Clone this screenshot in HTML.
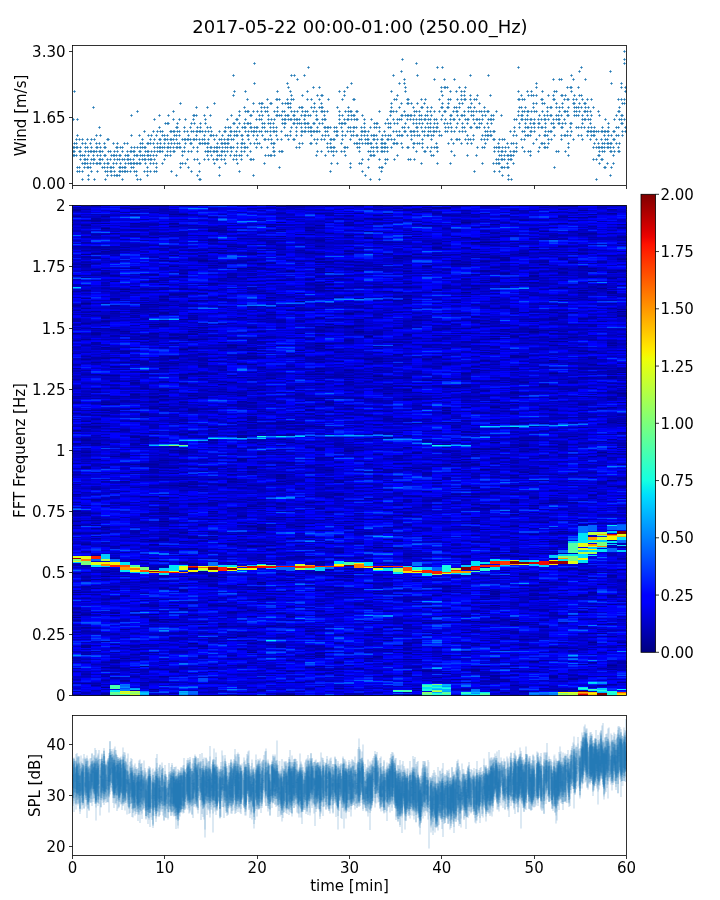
<!DOCTYPE html>
<html lang="en"><head><meta charset="utf-8"><title>2017-05-22 00:00-01:00 (250.00_Hz)</title>
<style>
html,body{margin:0;padding:0;background:#fff;}
body{width:720px;height:900px;overflow:hidden;}
svg{display:block;}
text{font-family:"DejaVu Sans", "Liberation Sans", sans-serif;fill:#000;}
</style></head><body>
<svg width="720" height="900" viewBox="0 0 720 900">
<rect width="720" height="900" fill="#fff"/>
<clipPath id="wc"><rect x="72.5" y="45.5" width="554.0" height="140.0"/></clipPath><path clip-path="url(#wc)" stroke="#1f77b4" stroke-opacity="0.92" stroke-width="1" fill="none" d="M72.3 119.5h2.4m-1.2-1.2v2.4M72.3 147.5h2.4m-1.2-1.2v2.4M72.3 151.5h2.4m-1.2-1.2v2.4M72.3 155.5h2.4m-1.2-1.2v2.4M73.3 151.5h2.4m-1.2-1.2v2.4M73.3 91.5h2.4m-1.2-1.2v2.4M73.3 155.5h2.4m-1.2-1.2v2.4M73.3 147.5h2.4m-1.2-1.2v2.4M73.3 143.5h2.4m-1.2-1.2v2.4M75.3 143.5h2.4m-1.2-1.2v2.4M75.3 147.5h2.4m-1.2-1.2v2.4M75.3 155.5h2.4m-1.2-1.2v2.4M75.3 139.5h2.4m-1.2-1.2v2.4M76.3 167.5h2.4m-1.2-1.2v2.4M76.3 147.5h2.4m-1.2-1.2v2.4M76.3 119.5h2.4m-1.2-1.2v2.4M76.3 171.5h2.4m-1.2-1.2v2.4M76.3 135.5h2.4m-1.2-1.2v2.4M78.3 151.5h2.4m-1.2-1.2v2.4M78.3 139.5h2.4m-1.2-1.2v2.4M78.3 167.5h2.4m-1.2-1.2v2.4M78.3 171.5h2.4m-1.2-1.2v2.4M79.3 147.5h2.4m-1.2-1.2v2.4M79.3 159.5h2.4m-1.2-1.2v2.4M79.3 155.5h2.4m-1.2-1.2v2.4M79.3 151.5h2.4m-1.2-1.2v2.4M81.3 155.5h2.4m-1.2-1.2v2.4M81.3 171.5h2.4m-1.2-1.2v2.4M81.3 139.5h2.4m-1.2-1.2v2.4M81.3 179.5h2.4m-1.2-1.2v2.4M81.3 143.5h2.4m-1.2-1.2v2.4M81.3 163.5h2.4m-1.2-1.2v2.4M83.3 155.5h2.4m-1.2-1.2v2.4M83.3 163.5h2.4m-1.2-1.2v2.4M83.3 159.5h2.4m-1.2-1.2v2.4M83.3 167.5h2.4m-1.2-1.2v2.4M84.3 147.5h2.4m-1.2-1.2v2.4M84.3 163.5h2.4m-1.2-1.2v2.4M84.3 143.5h2.4m-1.2-1.2v2.4M84.3 159.5h2.4m-1.2-1.2v2.4M84.3 151.5h2.4m-1.2-1.2v2.4M86.3 147.5h2.4m-1.2-1.2v2.4M86.3 167.5h2.4m-1.2-1.2v2.4M86.3 159.5h2.4m-1.2-1.2v2.4M86.3 139.5h2.4m-1.2-1.2v2.4M86.3 163.5h2.4m-1.2-1.2v2.4M87.3 155.5h2.4m-1.2-1.2v2.4M87.3 167.5h2.4m-1.2-1.2v2.4M87.3 179.5h2.4m-1.2-1.2v2.4M87.3 175.5h2.4m-1.2-1.2v2.4M87.3 151.5h2.4m-1.2-1.2v2.4M89.3 151.5h2.4m-1.2-1.2v2.4M89.3 167.5h2.4m-1.2-1.2v2.4M89.3 143.5h2.4m-1.2-1.2v2.4M89.3 163.5h2.4m-1.2-1.2v2.4M90.3 147.5h2.4m-1.2-1.2v2.4M90.3 159.5h2.4m-1.2-1.2v2.4M90.3 151.5h2.4m-1.2-1.2v2.4M90.3 171.5h2.4m-1.2-1.2v2.4M90.3 139.5h2.4m-1.2-1.2v2.4M92.3 163.5h2.4m-1.2-1.2v2.4M92.3 107.5h2.4m-1.2-1.2v2.4M92.3 159.5h2.4m-1.2-1.2v2.4M92.3 151.5h2.4m-1.2-1.2v2.4M92.3 155.5h2.4m-1.2-1.2v2.4M93.3 139.5h2.4m-1.2-1.2v2.4M93.3 151.5h2.4m-1.2-1.2v2.4M93.3 159.5h2.4m-1.2-1.2v2.4M93.3 179.5h2.4m-1.2-1.2v2.4M95.3 163.5h2.4m-1.2-1.2v2.4M95.3 151.5h2.4m-1.2-1.2v2.4M95.3 147.5h2.4m-1.2-1.2v2.4M95.3 135.5h2.4m-1.2-1.2v2.4M95.3 143.5h2.4m-1.2-1.2v2.4M96.3 163.5h2.4m-1.2-1.2v2.4M96.3 155.5h2.4m-1.2-1.2v2.4M96.3 171.5h2.4m-1.2-1.2v2.4M96.3 147.5h2.4m-1.2-1.2v2.4M98.3 159.5h2.4m-1.2-1.2v2.4M98.3 163.5h2.4m-1.2-1.2v2.4M98.3 143.5h2.4m-1.2-1.2v2.4M98.3 127.5h2.4m-1.2-1.2v2.4M98.3 151.5h2.4m-1.2-1.2v2.4M99.3 147.5h2.4m-1.2-1.2v2.4M99.3 155.5h2.4m-1.2-1.2v2.4M99.3 163.5h2.4m-1.2-1.2v2.4M99.3 135.5h2.4m-1.2-1.2v2.4M99.3 159.5h2.4m-1.2-1.2v2.4M99.3 151.5h2.4m-1.2-1.2v2.4M101.3 159.5h2.4m-1.2-1.2v2.4M101.3 151.5h2.4m-1.2-1.2v2.4M101.3 167.5h2.4m-1.2-1.2v2.4M103.3 143.5h2.4m-1.2-1.2v2.4M103.3 167.5h2.4m-1.2-1.2v2.4M103.3 163.5h2.4m-1.2-1.2v2.4M103.3 155.5h2.4m-1.2-1.2v2.4M103.3 147.5h2.4m-1.2-1.2v2.4M104.3 179.5h2.4m-1.2-1.2v2.4M104.3 155.5h2.4m-1.2-1.2v2.4M104.3 171.5h2.4m-1.2-1.2v2.4M104.3 147.5h2.4m-1.2-1.2v2.4M106.3 175.5h2.4m-1.2-1.2v2.4M106.3 171.5h2.4m-1.2-1.2v2.4M106.3 163.5h2.4m-1.2-1.2v2.4M106.3 159.5h2.4m-1.2-1.2v2.4M106.3 167.5h2.4m-1.2-1.2v2.4M106.3 139.5h2.4m-1.2-1.2v2.4M107.3 151.5h2.4m-1.2-1.2v2.4M107.3 163.5h2.4m-1.2-1.2v2.4M107.3 139.5h2.4m-1.2-1.2v2.4M109.3 159.5h2.4m-1.2-1.2v2.4M109.3 151.5h2.4m-1.2-1.2v2.4M109.3 171.5h2.4m-1.2-1.2v2.4M109.3 167.5h2.4m-1.2-1.2v2.4M110.3 167.5h2.4m-1.2-1.2v2.4M110.3 175.5h2.4m-1.2-1.2v2.4M110.3 155.5h2.4m-1.2-1.2v2.4M110.3 171.5h2.4m-1.2-1.2v2.4M112.3 167.5h2.4m-1.2-1.2v2.4M112.3 143.5h2.4m-1.2-1.2v2.4M112.3 155.5h2.4m-1.2-1.2v2.4M112.3 163.5h2.4m-1.2-1.2v2.4M113.3 155.5h2.4m-1.2-1.2v2.4M113.3 175.5h2.4m-1.2-1.2v2.4M113.3 159.5h2.4m-1.2-1.2v2.4M113.3 151.5h2.4m-1.2-1.2v2.4M113.3 171.5h2.4m-1.2-1.2v2.4M115.3 147.5h2.4m-1.2-1.2v2.4M115.3 163.5h2.4m-1.2-1.2v2.4M115.3 175.5h2.4m-1.2-1.2v2.4M115.3 155.5h2.4m-1.2-1.2v2.4M116.3 159.5h2.4m-1.2-1.2v2.4M116.3 147.5h2.4m-1.2-1.2v2.4M116.3 143.5h2.4m-1.2-1.2v2.4M116.3 151.5h2.4m-1.2-1.2v2.4M116.3 175.5h2.4m-1.2-1.2v2.4M118.3 175.5h2.4m-1.2-1.2v2.4M118.3 155.5h2.4m-1.2-1.2v2.4M118.3 167.5h2.4m-1.2-1.2v2.4M118.3 159.5h2.4m-1.2-1.2v2.4M118.3 171.5h2.4m-1.2-1.2v2.4M119.3 171.5h2.4m-1.2-1.2v2.4M119.3 167.5h2.4m-1.2-1.2v2.4M119.3 163.5h2.4m-1.2-1.2v2.4M119.3 155.5h2.4m-1.2-1.2v2.4M119.3 147.5h2.4m-1.2-1.2v2.4M121.3 171.5h2.4m-1.2-1.2v2.4M121.3 167.5h2.4m-1.2-1.2v2.4M121.3 147.5h2.4m-1.2-1.2v2.4M121.3 151.5h2.4m-1.2-1.2v2.4M121.3 159.5h2.4m-1.2-1.2v2.4M121.3 179.5h2.4m-1.2-1.2v2.4M123.3 171.5h2.4m-1.2-1.2v2.4M123.3 159.5h2.4m-1.2-1.2v2.4M123.3 167.5h2.4m-1.2-1.2v2.4M123.3 143.5h2.4m-1.2-1.2v2.4M124.3 171.5h2.4m-1.2-1.2v2.4M124.3 167.5h2.4m-1.2-1.2v2.4M124.3 163.5h2.4m-1.2-1.2v2.4M124.3 155.5h2.4m-1.2-1.2v2.4M126.3 155.5h2.4m-1.2-1.2v2.4M126.3 151.5h2.4m-1.2-1.2v2.4M126.3 171.5h2.4m-1.2-1.2v2.4M126.3 159.5h2.4m-1.2-1.2v2.4M126.3 143.5h2.4m-1.2-1.2v2.4M127.3 159.5h2.4m-1.2-1.2v2.4M127.3 155.5h2.4m-1.2-1.2v2.4M127.3 163.5h2.4m-1.2-1.2v2.4M129.3 163.5h2.4m-1.2-1.2v2.4M129.3 159.5h2.4m-1.2-1.2v2.4M129.3 151.5h2.4m-1.2-1.2v2.4M129.3 171.5h2.4m-1.2-1.2v2.4M130.3 115.5h2.4m-1.2-1.2v2.4M130.3 147.5h2.4m-1.2-1.2v2.4M130.3 163.5h2.4m-1.2-1.2v2.4M130.3 167.5h2.4m-1.2-1.2v2.4M130.3 135.5h2.4m-1.2-1.2v2.4M130.3 151.5h2.4m-1.2-1.2v2.4M132.3 151.5h2.4m-1.2-1.2v2.4M132.3 163.5h2.4m-1.2-1.2v2.4M132.3 159.5h2.4m-1.2-1.2v2.4M132.3 167.5h2.4m-1.2-1.2v2.4M133.3 147.5h2.4m-1.2-1.2v2.4M133.3 155.5h2.4m-1.2-1.2v2.4M133.3 171.5h2.4m-1.2-1.2v2.4M133.3 151.5h2.4m-1.2-1.2v2.4M133.3 163.5h2.4m-1.2-1.2v2.4M135.3 163.5h2.4m-1.2-1.2v2.4M135.3 155.5h2.4m-1.2-1.2v2.4M135.3 175.5h2.4m-1.2-1.2v2.4M135.3 171.5h2.4m-1.2-1.2v2.4M136.3 179.5h2.4m-1.2-1.2v2.4M136.3 155.5h2.4m-1.2-1.2v2.4M136.3 147.5h2.4m-1.2-1.2v2.4M136.3 111.5h2.4m-1.2-1.2v2.4M136.3 163.5h2.4m-1.2-1.2v2.4M138.3 135.5h2.4m-1.2-1.2v2.4M138.3 163.5h2.4m-1.2-1.2v2.4M138.3 159.5h2.4m-1.2-1.2v2.4M138.3 151.5h2.4m-1.2-1.2v2.4M139.3 151.5h2.4m-1.2-1.2v2.4M139.3 179.5h2.4m-1.2-1.2v2.4M139.3 147.5h2.4m-1.2-1.2v2.4M139.3 155.5h2.4m-1.2-1.2v2.4M139.3 163.5h2.4m-1.2-1.2v2.4M139.3 143.5h2.4m-1.2-1.2v2.4M141.3 155.5h2.4m-1.2-1.2v2.4M141.3 139.5h2.4m-1.2-1.2v2.4M141.3 147.5h2.4m-1.2-1.2v2.4M141.3 159.5h2.4m-1.2-1.2v2.4M141.3 143.5h2.4m-1.2-1.2v2.4M143.3 159.5h2.4m-1.2-1.2v2.4M143.3 171.5h2.4m-1.2-1.2v2.4M143.3 147.5h2.4m-1.2-1.2v2.4M143.3 155.5h2.4m-1.2-1.2v2.4M143.3 131.5h2.4m-1.2-1.2v2.4M144.3 147.5h2.4m-1.2-1.2v2.4M144.3 151.5h2.4m-1.2-1.2v2.4M144.3 163.5h2.4m-1.2-1.2v2.4M144.3 159.5h2.4m-1.2-1.2v2.4M146.3 175.5h2.4m-1.2-1.2v2.4M146.3 171.5h2.4m-1.2-1.2v2.4M146.3 143.5h2.4m-1.2-1.2v2.4M146.3 155.5h2.4m-1.2-1.2v2.4M146.3 151.5h2.4m-1.2-1.2v2.4M146.3 167.5h2.4m-1.2-1.2v2.4M147.3 159.5h2.4m-1.2-1.2v2.4M147.3 143.5h2.4m-1.2-1.2v2.4M147.3 151.5h2.4m-1.2-1.2v2.4M147.3 135.5h2.4m-1.2-1.2v2.4M147.3 155.5h2.4m-1.2-1.2v2.4M149.3 155.5h2.4m-1.2-1.2v2.4M149.3 139.5h2.4m-1.2-1.2v2.4M149.3 171.5h2.4m-1.2-1.2v2.4M149.3 143.5h2.4m-1.2-1.2v2.4M149.3 163.5h2.4m-1.2-1.2v2.4M149.3 159.5h2.4m-1.2-1.2v2.4M150.3 159.5h2.4m-1.2-1.2v2.4M150.3 151.5h2.4m-1.2-1.2v2.4M150.3 135.5h2.4m-1.2-1.2v2.4M152.3 131.5h2.4m-1.2-1.2v2.4M152.3 143.5h2.4m-1.2-1.2v2.4M152.3 155.5h2.4m-1.2-1.2v2.4M152.3 163.5h2.4m-1.2-1.2v2.4M153.3 151.5h2.4m-1.2-1.2v2.4M153.3 139.5h2.4m-1.2-1.2v2.4M153.3 171.5h2.4m-1.2-1.2v2.4M153.3 119.5h2.4m-1.2-1.2v2.4M153.3 159.5h2.4m-1.2-1.2v2.4M153.3 147.5h2.4m-1.2-1.2v2.4M155.3 135.5h2.4m-1.2-1.2v2.4M155.3 163.5h2.4m-1.2-1.2v2.4M155.3 155.5h2.4m-1.2-1.2v2.4M155.3 171.5h2.4m-1.2-1.2v2.4M155.3 167.5h2.4m-1.2-1.2v2.4M156.3 147.5h2.4m-1.2-1.2v2.4M156.3 143.5h2.4m-1.2-1.2v2.4M156.3 151.5h2.4m-1.2-1.2v2.4M156.3 131.5h2.4m-1.2-1.2v2.4M158.3 147.5h2.4m-1.2-1.2v2.4M158.3 115.5h2.4m-1.2-1.2v2.4M158.3 151.5h2.4m-1.2-1.2v2.4M158.3 127.5h2.4m-1.2-1.2v2.4M158.3 139.5h2.4m-1.2-1.2v2.4M159.3 147.5h2.4m-1.2-1.2v2.4M159.3 139.5h2.4m-1.2-1.2v2.4M159.3 151.5h2.4m-1.2-1.2v2.4M159.3 143.5h2.4m-1.2-1.2v2.4M159.3 131.5h2.4m-1.2-1.2v2.4M161.3 131.5h2.4m-1.2-1.2v2.4M161.3 163.5h2.4m-1.2-1.2v2.4M161.3 147.5h2.4m-1.2-1.2v2.4M161.3 135.5h2.4m-1.2-1.2v2.4M161.3 151.5h2.4m-1.2-1.2v2.4M163.3 143.5h2.4m-1.2-1.2v2.4M163.3 139.5h2.4m-1.2-1.2v2.4M163.3 147.5h2.4m-1.2-1.2v2.4M163.3 135.5h2.4m-1.2-1.2v2.4M163.3 159.5h2.4m-1.2-1.2v2.4M164.3 155.5h2.4m-1.2-1.2v2.4M164.3 123.5h2.4m-1.2-1.2v2.4M164.3 139.5h2.4m-1.2-1.2v2.4M166.3 151.5h2.4m-1.2-1.2v2.4M166.3 155.5h2.4m-1.2-1.2v2.4M166.3 135.5h2.4m-1.2-1.2v2.4M166.3 147.5h2.4m-1.2-1.2v2.4M166.3 123.5h2.4m-1.2-1.2v2.4M166.3 139.5h2.4m-1.2-1.2v2.4M167.3 143.5h2.4m-1.2-1.2v2.4M167.3 147.5h2.4m-1.2-1.2v2.4M167.3 123.5h2.4m-1.2-1.2v2.4M167.3 115.5h2.4m-1.2-1.2v2.4M169.3 155.5h2.4m-1.2-1.2v2.4M169.3 139.5h2.4m-1.2-1.2v2.4M169.3 131.5h2.4m-1.2-1.2v2.4M169.3 151.5h2.4m-1.2-1.2v2.4M169.3 147.5h2.4m-1.2-1.2v2.4M170.3 171.5h2.4m-1.2-1.2v2.4M170.3 131.5h2.4m-1.2-1.2v2.4M170.3 143.5h2.4m-1.2-1.2v2.4M170.3 139.5h2.4m-1.2-1.2v2.4M172.3 111.5h2.4m-1.2-1.2v2.4M172.3 139.5h2.4m-1.2-1.2v2.4M172.3 131.5h2.4m-1.2-1.2v2.4M172.3 151.5h2.4m-1.2-1.2v2.4M172.3 119.5h2.4m-1.2-1.2v2.4M172.3 147.5h2.4m-1.2-1.2v2.4M173.3 143.5h2.4m-1.2-1.2v2.4M173.3 151.5h2.4m-1.2-1.2v2.4M173.3 135.5h2.4m-1.2-1.2v2.4M173.3 131.5h2.4m-1.2-1.2v2.4M175.3 147.5h2.4m-1.2-1.2v2.4M175.3 135.5h2.4m-1.2-1.2v2.4M175.3 175.5h2.4m-1.2-1.2v2.4M175.3 127.5h2.4m-1.2-1.2v2.4M175.3 139.5h2.4m-1.2-1.2v2.4M176.3 123.5h2.4m-1.2-1.2v2.4M176.3 147.5h2.4m-1.2-1.2v2.4M176.3 127.5h2.4m-1.2-1.2v2.4M176.3 143.5h2.4m-1.2-1.2v2.4M176.3 131.5h2.4m-1.2-1.2v2.4M178.3 131.5h2.4m-1.2-1.2v2.4M178.3 119.5h2.4m-1.2-1.2v2.4M178.3 147.5h2.4m-1.2-1.2v2.4M178.3 143.5h2.4m-1.2-1.2v2.4M178.3 135.5h2.4m-1.2-1.2v2.4M179.3 103.5h2.4m-1.2-1.2v2.4M179.3 147.5h2.4m-1.2-1.2v2.4M179.3 167.5h2.4m-1.2-1.2v2.4M179.3 163.5h2.4m-1.2-1.2v2.4M181.3 139.5h2.4m-1.2-1.2v2.4M181.3 155.5h2.4m-1.2-1.2v2.4M181.3 151.5h2.4m-1.2-1.2v2.4M181.3 163.5h2.4m-1.2-1.2v2.4M183.3 127.5h2.4m-1.2-1.2v2.4M183.3 151.5h2.4m-1.2-1.2v2.4M183.3 147.5h2.4m-1.2-1.2v2.4M183.3 139.5h2.4m-1.2-1.2v2.4M183.3 131.5h2.4m-1.2-1.2v2.4M184.3 163.5h2.4m-1.2-1.2v2.4M184.3 143.5h2.4m-1.2-1.2v2.4M184.3 119.5h2.4m-1.2-1.2v2.4M184.3 139.5h2.4m-1.2-1.2v2.4M186.3 159.5h2.4m-1.2-1.2v2.4M186.3 131.5h2.4m-1.2-1.2v2.4M186.3 139.5h2.4m-1.2-1.2v2.4M187.3 167.5h2.4m-1.2-1.2v2.4M187.3 135.5h2.4m-1.2-1.2v2.4M187.3 151.5h2.4m-1.2-1.2v2.4M187.3 139.5h2.4m-1.2-1.2v2.4M189.3 127.5h2.4m-1.2-1.2v2.4M189.3 139.5h2.4m-1.2-1.2v2.4M189.3 143.5h2.4m-1.2-1.2v2.4M190.3 171.5h2.4m-1.2-1.2v2.4M190.3 151.5h2.4m-1.2-1.2v2.4M190.3 143.5h2.4m-1.2-1.2v2.4M190.3 131.5h2.4m-1.2-1.2v2.4M190.3 123.5h2.4m-1.2-1.2v2.4M192.3 115.5h2.4m-1.2-1.2v2.4M192.3 139.5h2.4m-1.2-1.2v2.4M192.3 131.5h2.4m-1.2-1.2v2.4M192.3 147.5h2.4m-1.2-1.2v2.4M192.3 119.5h2.4m-1.2-1.2v2.4M193.3 139.5h2.4m-1.2-1.2v2.4M193.3 123.5h2.4m-1.2-1.2v2.4M193.3 115.5h2.4m-1.2-1.2v2.4M193.3 159.5h2.4m-1.2-1.2v2.4M195.3 139.5h2.4m-1.2-1.2v2.4M195.3 115.5h2.4m-1.2-1.2v2.4M195.3 107.5h2.4m-1.2-1.2v2.4M195.3 135.5h2.4m-1.2-1.2v2.4M195.3 131.5h2.4m-1.2-1.2v2.4M196.3 127.5h2.4m-1.2-1.2v2.4M196.3 147.5h2.4m-1.2-1.2v2.4M196.3 131.5h2.4m-1.2-1.2v2.4M196.3 151.5h2.4m-1.2-1.2v2.4M196.3 175.5h2.4m-1.2-1.2v2.4M196.3 159.5h2.4m-1.2-1.2v2.4M198.3 139.5h2.4m-1.2-1.2v2.4M198.3 131.5h2.4m-1.2-1.2v2.4M198.3 171.5h2.4m-1.2-1.2v2.4M198.3 163.5h2.4m-1.2-1.2v2.4M198.3 143.5h2.4m-1.2-1.2v2.4M198.3 179.5h2.4m-1.2-1.2v2.4M199.3 131.5h2.4m-1.2-1.2v2.4M199.3 127.5h2.4m-1.2-1.2v2.4M199.3 179.5h2.4m-1.2-1.2v2.4M199.3 143.5h2.4m-1.2-1.2v2.4M199.3 123.5h2.4m-1.2-1.2v2.4M201.3 139.5h2.4m-1.2-1.2v2.4M201.3 143.5h2.4m-1.2-1.2v2.4M201.3 131.5h2.4m-1.2-1.2v2.4M203.3 159.5h2.4m-1.2-1.2v2.4M203.3 135.5h2.4m-1.2-1.2v2.4M203.3 139.5h2.4m-1.2-1.2v2.4M203.3 115.5h2.4m-1.2-1.2v2.4M203.3 143.5h2.4m-1.2-1.2v2.4M204.3 151.5h2.4m-1.2-1.2v2.4M204.3 131.5h2.4m-1.2-1.2v2.4M204.3 143.5h2.4m-1.2-1.2v2.4M204.3 123.5h2.4m-1.2-1.2v2.4M204.3 119.5h2.4m-1.2-1.2v2.4M206.3 147.5h2.4m-1.2-1.2v2.4M206.3 155.5h2.4m-1.2-1.2v2.4M206.3 127.5h2.4m-1.2-1.2v2.4M206.3 151.5h2.4m-1.2-1.2v2.4M206.3 107.5h2.4m-1.2-1.2v2.4M206.3 143.5h2.4m-1.2-1.2v2.4M207.3 131.5h2.4m-1.2-1.2v2.4M207.3 159.5h2.4m-1.2-1.2v2.4M207.3 143.5h2.4m-1.2-1.2v2.4M207.3 139.5h2.4m-1.2-1.2v2.4M207.3 151.5h2.4m-1.2-1.2v2.4M209.3 115.5h2.4m-1.2-1.2v2.4M209.3 135.5h2.4m-1.2-1.2v2.4M209.3 147.5h2.4m-1.2-1.2v2.4M209.3 151.5h2.4m-1.2-1.2v2.4M209.3 127.5h2.4m-1.2-1.2v2.4M210.3 155.5h2.4m-1.2-1.2v2.4M210.3 147.5h2.4m-1.2-1.2v2.4M210.3 131.5h2.4m-1.2-1.2v2.4M210.3 135.5h2.4m-1.2-1.2v2.4M212.3 135.5h2.4m-1.2-1.2v2.4M212.3 151.5h2.4m-1.2-1.2v2.4M212.3 159.5h2.4m-1.2-1.2v2.4M213.3 103.5h2.4m-1.2-1.2v2.4M213.3 147.5h2.4m-1.2-1.2v2.4M213.3 139.5h2.4m-1.2-1.2v2.4M213.3 163.5h2.4m-1.2-1.2v2.4M213.3 151.5h2.4m-1.2-1.2v2.4M215.3 135.5h2.4m-1.2-1.2v2.4M215.3 147.5h2.4m-1.2-1.2v2.4M215.3 159.5h2.4m-1.2-1.2v2.4M215.3 151.5h2.4m-1.2-1.2v2.4M216.3 147.5h2.4m-1.2-1.2v2.4M216.3 159.5h2.4m-1.2-1.2v2.4M216.3 151.5h2.4m-1.2-1.2v2.4M216.3 155.5h2.4m-1.2-1.2v2.4M216.3 143.5h2.4m-1.2-1.2v2.4M218.3 167.5h2.4m-1.2-1.2v2.4M218.3 139.5h2.4m-1.2-1.2v2.4M218.3 175.5h2.4m-1.2-1.2v2.4M218.3 131.5h2.4m-1.2-1.2v2.4M218.3 147.5h2.4m-1.2-1.2v2.4M218.3 155.5h2.4m-1.2-1.2v2.4M220.3 159.5h2.4m-1.2-1.2v2.4M220.3 143.5h2.4m-1.2-1.2v2.4M220.3 151.5h2.4m-1.2-1.2v2.4M220.3 139.5h2.4m-1.2-1.2v2.4M220.3 155.5h2.4m-1.2-1.2v2.4M221.3 151.5h2.4m-1.2-1.2v2.4M221.3 143.5h2.4m-1.2-1.2v2.4M221.3 135.5h2.4m-1.2-1.2v2.4M221.3 147.5h2.4m-1.2-1.2v2.4M223.3 139.5h2.4m-1.2-1.2v2.4M223.3 131.5h2.4m-1.2-1.2v2.4M223.3 159.5h2.4m-1.2-1.2v2.4M223.3 151.5h2.4m-1.2-1.2v2.4M223.3 143.5h2.4m-1.2-1.2v2.4M224.3 127.5h2.4m-1.2-1.2v2.4M224.3 147.5h2.4m-1.2-1.2v2.4M224.3 143.5h2.4m-1.2-1.2v2.4M224.3 131.5h2.4m-1.2-1.2v2.4M224.3 163.5h2.4m-1.2-1.2v2.4M224.3 155.5h2.4m-1.2-1.2v2.4M226.3 147.5h2.4m-1.2-1.2v2.4M226.3 143.5h2.4m-1.2-1.2v2.4M226.3 139.5h2.4m-1.2-1.2v2.4M226.3 151.5h2.4m-1.2-1.2v2.4M226.3 119.5h2.4m-1.2-1.2v2.4M227.3 143.5h2.4m-1.2-1.2v2.4M227.3 127.5h2.4m-1.2-1.2v2.4M227.3 139.5h2.4m-1.2-1.2v2.4M227.3 135.5h2.4m-1.2-1.2v2.4M229.3 135.5h2.4m-1.2-1.2v2.4M229.3 127.5h2.4m-1.2-1.2v2.4M229.3 147.5h2.4m-1.2-1.2v2.4M229.3 131.5h2.4m-1.2-1.2v2.4M229.3 155.5h2.4m-1.2-1.2v2.4M230.3 151.5h2.4m-1.2-1.2v2.4M230.3 115.5h2.4m-1.2-1.2v2.4M230.3 139.5h2.4m-1.2-1.2v2.4M230.3 131.5h2.4m-1.2-1.2v2.4M230.3 147.5h2.4m-1.2-1.2v2.4M232.3 139.5h2.4m-1.2-1.2v2.4M232.3 147.5h2.4m-1.2-1.2v2.4M232.3 75.5h2.4m-1.2-1.2v2.4M232.3 159.5h2.4m-1.2-1.2v2.4M232.3 123.5h2.4m-1.2-1.2v2.4M232.3 95.5h2.4m-1.2-1.2v2.4M233.3 91.5h2.4m-1.2-1.2v2.4M233.3 131.5h2.4m-1.2-1.2v2.4M233.3 155.5h2.4m-1.2-1.2v2.4M233.3 135.5h2.4m-1.2-1.2v2.4M233.3 123.5h2.4m-1.2-1.2v2.4M235.3 131.5h2.4m-1.2-1.2v2.4M235.3 159.5h2.4m-1.2-1.2v2.4M235.3 151.5h2.4m-1.2-1.2v2.4M235.3 155.5h2.4m-1.2-1.2v2.4M235.3 135.5h2.4m-1.2-1.2v2.4M235.3 119.5h2.4m-1.2-1.2v2.4M236.3 135.5h2.4m-1.2-1.2v2.4M236.3 147.5h2.4m-1.2-1.2v2.4M236.3 143.5h2.4m-1.2-1.2v2.4M236.3 127.5h2.4m-1.2-1.2v2.4M236.3 163.5h2.4m-1.2-1.2v2.4M236.3 119.5h2.4m-1.2-1.2v2.4M238.3 123.5h2.4m-1.2-1.2v2.4M238.3 171.5h2.4m-1.2-1.2v2.4M238.3 115.5h2.4m-1.2-1.2v2.4M238.3 155.5h2.4m-1.2-1.2v2.4M238.3 131.5h2.4m-1.2-1.2v2.4M238.3 111.5h2.4m-1.2-1.2v2.4M240.3 155.5h2.4m-1.2-1.2v2.4M240.3 159.5h2.4m-1.2-1.2v2.4M240.3 151.5h2.4m-1.2-1.2v2.4M240.3 147.5h2.4m-1.2-1.2v2.4M240.3 135.5h2.4m-1.2-1.2v2.4M240.3 143.5h2.4m-1.2-1.2v2.4M241.3 139.5h2.4m-1.2-1.2v2.4M241.3 135.5h2.4m-1.2-1.2v2.4M241.3 143.5h2.4m-1.2-1.2v2.4M241.3 127.5h2.4m-1.2-1.2v2.4M243.3 147.5h2.4m-1.2-1.2v2.4M243.3 107.5h2.4m-1.2-1.2v2.4M243.3 151.5h2.4m-1.2-1.2v2.4M243.3 123.5h2.4m-1.2-1.2v2.4M243.3 143.5h2.4m-1.2-1.2v2.4M243.3 127.5h2.4m-1.2-1.2v2.4M244.3 127.5h2.4m-1.2-1.2v2.4M244.3 119.5h2.4m-1.2-1.2v2.4M244.3 111.5h2.4m-1.2-1.2v2.4M244.3 147.5h2.4m-1.2-1.2v2.4M244.3 91.5h2.4m-1.2-1.2v2.4M244.3 131.5h2.4m-1.2-1.2v2.4M246.3 147.5h2.4m-1.2-1.2v2.4M246.3 155.5h2.4m-1.2-1.2v2.4M246.3 99.5h2.4m-1.2-1.2v2.4M246.3 111.5h2.4m-1.2-1.2v2.4M246.3 135.5h2.4m-1.2-1.2v2.4M246.3 123.5h2.4m-1.2-1.2v2.4M247.3 111.5h2.4m-1.2-1.2v2.4M247.3 131.5h2.4m-1.2-1.2v2.4M247.3 139.5h2.4m-1.2-1.2v2.4M247.3 135.5h2.4m-1.2-1.2v2.4M247.3 123.5h2.4m-1.2-1.2v2.4M249.3 151.5h2.4m-1.2-1.2v2.4M249.3 123.5h2.4m-1.2-1.2v2.4M249.3 159.5h2.4m-1.2-1.2v2.4M249.3 143.5h2.4m-1.2-1.2v2.4M249.3 115.5h2.4m-1.2-1.2v2.4M249.3 127.5h2.4m-1.2-1.2v2.4M250.3 127.5h2.4m-1.2-1.2v2.4M250.3 131.5h2.4m-1.2-1.2v2.4M250.3 115.5h2.4m-1.2-1.2v2.4M250.3 159.5h2.4m-1.2-1.2v2.4M252.3 175.5h2.4m-1.2-1.2v2.4M252.3 159.5h2.4m-1.2-1.2v2.4M252.3 103.5h2.4m-1.2-1.2v2.4M252.3 111.5h2.4m-1.2-1.2v2.4M252.3 135.5h2.4m-1.2-1.2v2.4M252.3 131.5h2.4m-1.2-1.2v2.4M253.3 127.5h2.4m-1.2-1.2v2.4M253.3 63.5h2.4m-1.2-1.2v2.4M253.3 143.5h2.4m-1.2-1.2v2.4M253.3 83.5h2.4m-1.2-1.2v2.4M253.3 131.5h2.4m-1.2-1.2v2.4M255.3 127.5h2.4m-1.2-1.2v2.4M255.3 139.5h2.4m-1.2-1.2v2.4M255.3 119.5h2.4m-1.2-1.2v2.4M255.3 147.5h2.4m-1.2-1.2v2.4M255.3 131.5h2.4m-1.2-1.2v2.4M256.3 143.5h2.4m-1.2-1.2v2.4M256.3 111.5h2.4m-1.2-1.2v2.4M256.3 135.5h2.4m-1.2-1.2v2.4M256.3 127.5h2.4m-1.2-1.2v2.4M258.3 119.5h2.4m-1.2-1.2v2.4M258.3 115.5h2.4m-1.2-1.2v2.4M258.3 143.5h2.4m-1.2-1.2v2.4M258.3 131.5h2.4m-1.2-1.2v2.4M258.3 103.5h2.4m-1.2-1.2v2.4M260.3 131.5h2.4m-1.2-1.2v2.4M260.3 107.5h2.4m-1.2-1.2v2.4M260.3 103.5h2.4m-1.2-1.2v2.4M260.3 147.5h2.4m-1.2-1.2v2.4M260.3 111.5h2.4m-1.2-1.2v2.4M260.3 119.5h2.4m-1.2-1.2v2.4M261.3 115.5h2.4m-1.2-1.2v2.4M261.3 103.5h2.4m-1.2-1.2v2.4M261.3 123.5h2.4m-1.2-1.2v2.4M261.3 127.5h2.4m-1.2-1.2v2.4M261.3 135.5h2.4m-1.2-1.2v2.4M263.3 123.5h2.4m-1.2-1.2v2.4M263.3 163.5h2.4m-1.2-1.2v2.4M263.3 107.5h2.4m-1.2-1.2v2.4M263.3 139.5h2.4m-1.2-1.2v2.4M263.3 127.5h2.4m-1.2-1.2v2.4M264.3 131.5h2.4m-1.2-1.2v2.4M264.3 155.5h2.4m-1.2-1.2v2.4M264.3 139.5h2.4m-1.2-1.2v2.4M264.3 111.5h2.4m-1.2-1.2v2.4M266.3 147.5h2.4m-1.2-1.2v2.4M266.3 99.5h2.4m-1.2-1.2v2.4M266.3 111.5h2.4m-1.2-1.2v2.4M266.3 107.5h2.4m-1.2-1.2v2.4M266.3 131.5h2.4m-1.2-1.2v2.4M267.3 123.5h2.4m-1.2-1.2v2.4M267.3 115.5h2.4m-1.2-1.2v2.4M267.3 119.5h2.4m-1.2-1.2v2.4M267.3 155.5h2.4m-1.2-1.2v2.4M267.3 139.5h2.4m-1.2-1.2v2.4M269.3 155.5h2.4m-1.2-1.2v2.4M269.3 103.5h2.4m-1.2-1.2v2.4M269.3 135.5h2.4m-1.2-1.2v2.4M269.3 131.5h2.4m-1.2-1.2v2.4M269.3 123.5h2.4m-1.2-1.2v2.4M269.3 127.5h2.4m-1.2-1.2v2.4M270.3 119.5h2.4m-1.2-1.2v2.4M270.3 139.5h2.4m-1.2-1.2v2.4M270.3 155.5h2.4m-1.2-1.2v2.4M270.3 103.5h2.4m-1.2-1.2v2.4M270.3 143.5h2.4m-1.2-1.2v2.4M272.3 147.5h2.4m-1.2-1.2v2.4M272.3 143.5h2.4m-1.2-1.2v2.4M272.3 131.5h2.4m-1.2-1.2v2.4M272.3 123.5h2.4m-1.2-1.2v2.4M272.3 151.5h2.4m-1.2-1.2v2.4M272.3 127.5h2.4m-1.2-1.2v2.4M273.3 143.5h2.4m-1.2-1.2v2.4M273.3 111.5h2.4m-1.2-1.2v2.4M273.3 151.5h2.4m-1.2-1.2v2.4M273.3 131.5h2.4m-1.2-1.2v2.4M273.3 119.5h2.4m-1.2-1.2v2.4M273.3 155.5h2.4m-1.2-1.2v2.4M275.3 131.5h2.4m-1.2-1.2v2.4M275.3 127.5h2.4m-1.2-1.2v2.4M275.3 99.5h2.4m-1.2-1.2v2.4M275.3 135.5h2.4m-1.2-1.2v2.4M275.3 115.5h2.4m-1.2-1.2v2.4M276.3 139.5h2.4m-1.2-1.2v2.4M276.3 91.5h2.4m-1.2-1.2v2.4M276.3 99.5h2.4m-1.2-1.2v2.4M276.3 107.5h2.4m-1.2-1.2v2.4M276.3 111.5h2.4m-1.2-1.2v2.4M276.3 115.5h2.4m-1.2-1.2v2.4M278.3 99.5h2.4m-1.2-1.2v2.4M278.3 151.5h2.4m-1.2-1.2v2.4M278.3 167.5h2.4m-1.2-1.2v2.4M278.3 115.5h2.4m-1.2-1.2v2.4M280.3 131.5h2.4m-1.2-1.2v2.4M280.3 115.5h2.4m-1.2-1.2v2.4M280.3 151.5h2.4m-1.2-1.2v2.4M280.3 139.5h2.4m-1.2-1.2v2.4M281.3 151.5h2.4m-1.2-1.2v2.4M281.3 119.5h2.4m-1.2-1.2v2.4M281.3 111.5h2.4m-1.2-1.2v2.4M281.3 123.5h2.4m-1.2-1.2v2.4M281.3 103.5h2.4m-1.2-1.2v2.4M283.3 119.5h2.4m-1.2-1.2v2.4M283.3 123.5h2.4m-1.2-1.2v2.4M283.3 127.5h2.4m-1.2-1.2v2.4M283.3 111.5h2.4m-1.2-1.2v2.4M284.3 119.5h2.4m-1.2-1.2v2.4M284.3 103.5h2.4m-1.2-1.2v2.4M284.3 135.5h2.4m-1.2-1.2v2.4M284.3 123.5h2.4m-1.2-1.2v2.4M284.3 115.5h2.4m-1.2-1.2v2.4M286.3 99.5h2.4m-1.2-1.2v2.4M286.3 115.5h2.4m-1.2-1.2v2.4M286.3 103.5h2.4m-1.2-1.2v2.4M286.3 83.5h2.4m-1.2-1.2v2.4M286.3 135.5h2.4m-1.2-1.2v2.4M287.3 139.5h2.4m-1.2-1.2v2.4M287.3 103.5h2.4m-1.2-1.2v2.4M287.3 119.5h2.4m-1.2-1.2v2.4M287.3 107.5h2.4m-1.2-1.2v2.4M287.3 115.5h2.4m-1.2-1.2v2.4M287.3 87.5h2.4m-1.2-1.2v2.4M289.3 91.5h2.4m-1.2-1.2v2.4M289.3 131.5h2.4m-1.2-1.2v2.4M289.3 107.5h2.4m-1.2-1.2v2.4M289.3 119.5h2.4m-1.2-1.2v2.4M289.3 135.5h2.4m-1.2-1.2v2.4M289.3 103.5h2.4m-1.2-1.2v2.4M290.3 119.5h2.4m-1.2-1.2v2.4M290.3 111.5h2.4m-1.2-1.2v2.4M290.3 75.5h2.4m-1.2-1.2v2.4M290.3 95.5h2.4m-1.2-1.2v2.4M290.3 99.5h2.4m-1.2-1.2v2.4M290.3 127.5h2.4m-1.2-1.2v2.4M292.3 139.5h2.4m-1.2-1.2v2.4M292.3 99.5h2.4m-1.2-1.2v2.4M292.3 123.5h2.4m-1.2-1.2v2.4M292.3 115.5h2.4m-1.2-1.2v2.4M293.3 75.5h2.4m-1.2-1.2v2.4M293.3 123.5h2.4m-1.2-1.2v2.4M293.3 119.5h2.4m-1.2-1.2v2.4M293.3 115.5h2.4m-1.2-1.2v2.4M293.3 111.5h2.4m-1.2-1.2v2.4M293.3 139.5h2.4m-1.2-1.2v2.4M295.3 147.5h2.4m-1.2-1.2v2.4M295.3 127.5h2.4m-1.2-1.2v2.4M295.3 119.5h2.4m-1.2-1.2v2.4M295.3 131.5h2.4m-1.2-1.2v2.4M295.3 135.5h2.4m-1.2-1.2v2.4M296.3 123.5h2.4m-1.2-1.2v2.4M296.3 119.5h2.4m-1.2-1.2v2.4M296.3 79.5h2.4m-1.2-1.2v2.4M296.3 111.5h2.4m-1.2-1.2v2.4M298.3 143.5h2.4m-1.2-1.2v2.4M298.3 123.5h2.4m-1.2-1.2v2.4M298.3 119.5h2.4m-1.2-1.2v2.4M298.3 107.5h2.4m-1.2-1.2v2.4M298.3 147.5h2.4m-1.2-1.2v2.4M300.3 127.5h2.4m-1.2-1.2v2.4M300.3 115.5h2.4m-1.2-1.2v2.4M300.3 107.5h2.4m-1.2-1.2v2.4M300.3 131.5h2.4m-1.2-1.2v2.4M300.3 135.5h2.4m-1.2-1.2v2.4M300.3 123.5h2.4m-1.2-1.2v2.4M301.3 107.5h2.4m-1.2-1.2v2.4M301.3 131.5h2.4m-1.2-1.2v2.4M301.3 143.5h2.4m-1.2-1.2v2.4M301.3 111.5h2.4m-1.2-1.2v2.4M301.3 95.5h2.4m-1.2-1.2v2.4M303.3 75.5h2.4m-1.2-1.2v2.4M303.3 119.5h2.4m-1.2-1.2v2.4M303.3 115.5h2.4m-1.2-1.2v2.4M303.3 131.5h2.4m-1.2-1.2v2.4M303.3 123.5h2.4m-1.2-1.2v2.4M304.3 111.5h2.4m-1.2-1.2v2.4M304.3 115.5h2.4m-1.2-1.2v2.4M304.3 131.5h2.4m-1.2-1.2v2.4M304.3 123.5h2.4m-1.2-1.2v2.4M304.3 127.5h2.4m-1.2-1.2v2.4M306.3 99.5h2.4m-1.2-1.2v2.4M306.3 91.5h2.4m-1.2-1.2v2.4M306.3 111.5h2.4m-1.2-1.2v2.4M306.3 123.5h2.4m-1.2-1.2v2.4M307.3 67.5h2.4m-1.2-1.2v2.4M307.3 115.5h2.4m-1.2-1.2v2.4M307.3 131.5h2.4m-1.2-1.2v2.4M307.3 123.5h2.4m-1.2-1.2v2.4M307.3 127.5h2.4m-1.2-1.2v2.4M309.3 143.5h2.4m-1.2-1.2v2.4M309.3 127.5h2.4m-1.2-1.2v2.4M309.3 115.5h2.4m-1.2-1.2v2.4M309.3 131.5h2.4m-1.2-1.2v2.4M310.3 131.5h2.4m-1.2-1.2v2.4M310.3 99.5h2.4m-1.2-1.2v2.4M310.3 107.5h2.4m-1.2-1.2v2.4M310.3 127.5h2.4m-1.2-1.2v2.4M310.3 143.5h2.4m-1.2-1.2v2.4M310.3 135.5h2.4m-1.2-1.2v2.4M312.3 123.5h2.4m-1.2-1.2v2.4M312.3 111.5h2.4m-1.2-1.2v2.4M312.3 87.5h2.4m-1.2-1.2v2.4M312.3 131.5h2.4m-1.2-1.2v2.4M313.3 123.5h2.4m-1.2-1.2v2.4M313.3 131.5h2.4m-1.2-1.2v2.4M313.3 139.5h2.4m-1.2-1.2v2.4M313.3 107.5h2.4m-1.2-1.2v2.4M313.3 103.5h2.4m-1.2-1.2v2.4M315.3 131.5h2.4m-1.2-1.2v2.4M315.3 119.5h2.4m-1.2-1.2v2.4M315.3 115.5h2.4m-1.2-1.2v2.4M315.3 155.5h2.4m-1.2-1.2v2.4M315.3 143.5h2.4m-1.2-1.2v2.4M315.3 111.5h2.4m-1.2-1.2v2.4M316.3 119.5h2.4m-1.2-1.2v2.4M316.3 151.5h2.4m-1.2-1.2v2.4M316.3 131.5h2.4m-1.2-1.2v2.4M316.3 139.5h2.4m-1.2-1.2v2.4M316.3 127.5h2.4m-1.2-1.2v2.4M316.3 95.5h2.4m-1.2-1.2v2.4M318.3 131.5h2.4m-1.2-1.2v2.4M318.3 87.5h2.4m-1.2-1.2v2.4M318.3 123.5h2.4m-1.2-1.2v2.4M318.3 99.5h2.4m-1.2-1.2v2.4M318.3 107.5h2.4m-1.2-1.2v2.4M320.3 103.5h2.4m-1.2-1.2v2.4M320.3 95.5h2.4m-1.2-1.2v2.4M320.3 111.5h2.4m-1.2-1.2v2.4M320.3 107.5h2.4m-1.2-1.2v2.4M320.3 151.5h2.4m-1.2-1.2v2.4M320.3 139.5h2.4m-1.2-1.2v2.4M321.3 119.5h2.4m-1.2-1.2v2.4M321.3 123.5h2.4m-1.2-1.2v2.4M321.3 111.5h2.4m-1.2-1.2v2.4M321.3 135.5h2.4m-1.2-1.2v2.4M321.3 107.5h2.4m-1.2-1.2v2.4M321.3 95.5h2.4m-1.2-1.2v2.4M323.3 115.5h2.4m-1.2-1.2v2.4M323.3 111.5h2.4m-1.2-1.2v2.4M323.3 119.5h2.4m-1.2-1.2v2.4M323.3 127.5h2.4m-1.2-1.2v2.4M323.3 139.5h2.4m-1.2-1.2v2.4M324.3 127.5h2.4m-1.2-1.2v2.4M324.3 119.5h2.4m-1.2-1.2v2.4M324.3 155.5h2.4m-1.2-1.2v2.4M324.3 131.5h2.4m-1.2-1.2v2.4M324.3 135.5h2.4m-1.2-1.2v2.4M326.3 143.5h2.4m-1.2-1.2v2.4M326.3 127.5h2.4m-1.2-1.2v2.4M326.3 147.5h2.4m-1.2-1.2v2.4M326.3 131.5h2.4m-1.2-1.2v2.4M326.3 111.5h2.4m-1.2-1.2v2.4M327.3 127.5h2.4m-1.2-1.2v2.4M327.3 151.5h2.4m-1.2-1.2v2.4M327.3 135.5h2.4m-1.2-1.2v2.4M327.3 99.5h2.4m-1.2-1.2v2.4M329.3 147.5h2.4m-1.2-1.2v2.4M329.3 127.5h2.4m-1.2-1.2v2.4M329.3 143.5h2.4m-1.2-1.2v2.4M329.3 171.5h2.4m-1.2-1.2v2.4M329.3 139.5h2.4m-1.2-1.2v2.4M330.3 151.5h2.4m-1.2-1.2v2.4M330.3 147.5h2.4m-1.2-1.2v2.4M330.3 163.5h2.4m-1.2-1.2v2.4M330.3 139.5h2.4m-1.2-1.2v2.4M332.3 155.5h2.4m-1.2-1.2v2.4M332.3 147.5h2.4m-1.2-1.2v2.4M332.3 151.5h2.4m-1.2-1.2v2.4M332.3 139.5h2.4m-1.2-1.2v2.4M333.3 127.5h2.4m-1.2-1.2v2.4M333.3 147.5h2.4m-1.2-1.2v2.4M333.3 131.5h2.4m-1.2-1.2v2.4M333.3 139.5h2.4m-1.2-1.2v2.4M335.3 135.5h2.4m-1.2-1.2v2.4M335.3 127.5h2.4m-1.2-1.2v2.4M335.3 131.5h2.4m-1.2-1.2v2.4M335.3 151.5h2.4m-1.2-1.2v2.4M336.3 131.5h2.4m-1.2-1.2v2.4M336.3 163.5h2.4m-1.2-1.2v2.4M336.3 135.5h2.4m-1.2-1.2v2.4M336.3 107.5h2.4m-1.2-1.2v2.4M338.3 119.5h2.4m-1.2-1.2v2.4M338.3 115.5h2.4m-1.2-1.2v2.4M338.3 91.5h2.4m-1.2-1.2v2.4M338.3 123.5h2.4m-1.2-1.2v2.4M338.3 111.5h2.4m-1.2-1.2v2.4M340.3 123.5h2.4m-1.2-1.2v2.4M340.3 127.5h2.4m-1.2-1.2v2.4M340.3 143.5h2.4m-1.2-1.2v2.4M340.3 151.5h2.4m-1.2-1.2v2.4M341.3 131.5h2.4m-1.2-1.2v2.4M341.3 135.5h2.4m-1.2-1.2v2.4M341.3 123.5h2.4m-1.2-1.2v2.4M341.3 139.5h2.4m-1.2-1.2v2.4M341.3 115.5h2.4m-1.2-1.2v2.4M341.3 99.5h2.4m-1.2-1.2v2.4M343.3 123.5h2.4m-1.2-1.2v2.4M343.3 91.5h2.4m-1.2-1.2v2.4M343.3 151.5h2.4m-1.2-1.2v2.4M343.3 95.5h2.4m-1.2-1.2v2.4M343.3 119.5h2.4m-1.2-1.2v2.4M343.3 147.5h2.4m-1.2-1.2v2.4M344.3 111.5h2.4m-1.2-1.2v2.4M344.3 155.5h2.4m-1.2-1.2v2.4M344.3 135.5h2.4m-1.2-1.2v2.4M344.3 123.5h2.4m-1.2-1.2v2.4M344.3 147.5h2.4m-1.2-1.2v2.4M346.3 87.5h2.4m-1.2-1.2v2.4M346.3 131.5h2.4m-1.2-1.2v2.4M346.3 119.5h2.4m-1.2-1.2v2.4M346.3 147.5h2.4m-1.2-1.2v2.4M347.3 119.5h2.4m-1.2-1.2v2.4M347.3 107.5h2.4m-1.2-1.2v2.4M347.3 127.5h2.4m-1.2-1.2v2.4M347.3 115.5h2.4m-1.2-1.2v2.4M347.3 111.5h2.4m-1.2-1.2v2.4M349.3 163.5h2.4m-1.2-1.2v2.4M349.3 111.5h2.4m-1.2-1.2v2.4M349.3 131.5h2.4m-1.2-1.2v2.4M349.3 127.5h2.4m-1.2-1.2v2.4M349.3 167.5h2.4m-1.2-1.2v2.4M349.3 139.5h2.4m-1.2-1.2v2.4M350.3 111.5h2.4m-1.2-1.2v2.4M350.3 83.5h2.4m-1.2-1.2v2.4M350.3 135.5h2.4m-1.2-1.2v2.4M350.3 115.5h2.4m-1.2-1.2v2.4M350.3 119.5h2.4m-1.2-1.2v2.4M352.3 135.5h2.4m-1.2-1.2v2.4M352.3 127.5h2.4m-1.2-1.2v2.4M352.3 131.5h2.4m-1.2-1.2v2.4M352.3 115.5h2.4m-1.2-1.2v2.4M352.3 99.5h2.4m-1.2-1.2v2.4M353.3 115.5h2.4m-1.2-1.2v2.4M353.3 119.5h2.4m-1.2-1.2v2.4M353.3 127.5h2.4m-1.2-1.2v2.4M353.3 143.5h2.4m-1.2-1.2v2.4M353.3 99.5h2.4m-1.2-1.2v2.4M355.3 127.5h2.4m-1.2-1.2v2.4M355.3 111.5h2.4m-1.2-1.2v2.4M355.3 143.5h2.4m-1.2-1.2v2.4M355.3 119.5h2.4m-1.2-1.2v2.4M355.3 135.5h2.4m-1.2-1.2v2.4M356.3 143.5h2.4m-1.2-1.2v2.4M356.3 147.5h2.4m-1.2-1.2v2.4M356.3 111.5h2.4m-1.2-1.2v2.4M356.3 119.5h2.4m-1.2-1.2v2.4M356.3 135.5h2.4m-1.2-1.2v2.4M358.3 147.5h2.4m-1.2-1.2v2.4M358.3 163.5h2.4m-1.2-1.2v2.4M358.3 143.5h2.4m-1.2-1.2v2.4M358.3 139.5h2.4m-1.2-1.2v2.4M358.3 151.5h2.4m-1.2-1.2v2.4M360.3 127.5h2.4m-1.2-1.2v2.4M360.3 131.5h2.4m-1.2-1.2v2.4M360.3 135.5h2.4m-1.2-1.2v2.4M360.3 163.5h2.4m-1.2-1.2v2.4M360.3 139.5h2.4m-1.2-1.2v2.4M361.3 159.5h2.4m-1.2-1.2v2.4M361.3 171.5h2.4m-1.2-1.2v2.4M361.3 115.5h2.4m-1.2-1.2v2.4M361.3 131.5h2.4m-1.2-1.2v2.4M361.3 143.5h2.4m-1.2-1.2v2.4M363.3 123.5h2.4m-1.2-1.2v2.4M363.3 131.5h2.4m-1.2-1.2v2.4M363.3 135.5h2.4m-1.2-1.2v2.4M363.3 127.5h2.4m-1.2-1.2v2.4M363.3 119.5h2.4m-1.2-1.2v2.4M364.3 139.5h2.4m-1.2-1.2v2.4M364.3 131.5h2.4m-1.2-1.2v2.4M364.3 175.5h2.4m-1.2-1.2v2.4M364.3 143.5h2.4m-1.2-1.2v2.4M366.3 143.5h2.4m-1.2-1.2v2.4M366.3 135.5h2.4m-1.2-1.2v2.4M366.3 139.5h2.4m-1.2-1.2v2.4M367.3 151.5h2.4m-1.2-1.2v2.4M367.3 131.5h2.4m-1.2-1.2v2.4M367.3 167.5h2.4m-1.2-1.2v2.4M367.3 143.5h2.4m-1.2-1.2v2.4M367.3 139.5h2.4m-1.2-1.2v2.4M367.3 159.5h2.4m-1.2-1.2v2.4M369.3 151.5h2.4m-1.2-1.2v2.4M369.3 127.5h2.4m-1.2-1.2v2.4M369.3 155.5h2.4m-1.2-1.2v2.4M369.3 179.5h2.4m-1.2-1.2v2.4M369.3 143.5h2.4m-1.2-1.2v2.4M370.3 143.5h2.4m-1.2-1.2v2.4M370.3 135.5h2.4m-1.2-1.2v2.4M370.3 119.5h2.4m-1.2-1.2v2.4M370.3 147.5h2.4m-1.2-1.2v2.4M370.3 155.5h2.4m-1.2-1.2v2.4M372.3 147.5h2.4m-1.2-1.2v2.4M372.3 135.5h2.4m-1.2-1.2v2.4M372.3 139.5h2.4m-1.2-1.2v2.4M372.3 155.5h2.4m-1.2-1.2v2.4M372.3 151.5h2.4m-1.2-1.2v2.4M373.3 127.5h2.4m-1.2-1.2v2.4M373.3 155.5h2.4m-1.2-1.2v2.4M373.3 135.5h2.4m-1.2-1.2v2.4M373.3 123.5h2.4m-1.2-1.2v2.4M373.3 139.5h2.4m-1.2-1.2v2.4M375.3 123.5h2.4m-1.2-1.2v2.4M375.3 135.5h2.4m-1.2-1.2v2.4M375.3 143.5h2.4m-1.2-1.2v2.4M375.3 147.5h2.4m-1.2-1.2v2.4M375.3 127.5h2.4m-1.2-1.2v2.4M376.3 123.5h2.4m-1.2-1.2v2.4M376.3 147.5h2.4m-1.2-1.2v2.4M376.3 139.5h2.4m-1.2-1.2v2.4M376.3 151.5h2.4m-1.2-1.2v2.4M378.3 131.5h2.4m-1.2-1.2v2.4M378.3 111.5h2.4m-1.2-1.2v2.4M378.3 159.5h2.4m-1.2-1.2v2.4M378.3 179.5h2.4m-1.2-1.2v2.4M378.3 167.5h2.4m-1.2-1.2v2.4M378.3 127.5h2.4m-1.2-1.2v2.4M380.3 147.5h2.4m-1.2-1.2v2.4M380.3 143.5h2.4m-1.2-1.2v2.4M380.3 151.5h2.4m-1.2-1.2v2.4M380.3 139.5h2.4m-1.2-1.2v2.4M380.3 167.5h2.4m-1.2-1.2v2.4M380.3 171.5h2.4m-1.2-1.2v2.4M381.3 167.5h2.4m-1.2-1.2v2.4M381.3 143.5h2.4m-1.2-1.2v2.4M381.3 135.5h2.4m-1.2-1.2v2.4M381.3 139.5h2.4m-1.2-1.2v2.4M381.3 147.5h2.4m-1.2-1.2v2.4M381.3 151.5h2.4m-1.2-1.2v2.4M383.3 131.5h2.4m-1.2-1.2v2.4M383.3 147.5h2.4m-1.2-1.2v2.4M383.3 143.5h2.4m-1.2-1.2v2.4M383.3 151.5h2.4m-1.2-1.2v2.4M384.3 147.5h2.4m-1.2-1.2v2.4M384.3 159.5h2.4m-1.2-1.2v2.4M384.3 135.5h2.4m-1.2-1.2v2.4M384.3 143.5h2.4m-1.2-1.2v2.4M384.3 123.5h2.4m-1.2-1.2v2.4M384.3 163.5h2.4m-1.2-1.2v2.4M386.3 119.5h2.4m-1.2-1.2v2.4M386.3 139.5h2.4m-1.2-1.2v2.4M386.3 147.5h2.4m-1.2-1.2v2.4M386.3 151.5h2.4m-1.2-1.2v2.4M386.3 159.5h2.4m-1.2-1.2v2.4M387.3 123.5h2.4m-1.2-1.2v2.4M387.3 139.5h2.4m-1.2-1.2v2.4M387.3 127.5h2.4m-1.2-1.2v2.4M387.3 135.5h2.4m-1.2-1.2v2.4M389.3 135.5h2.4m-1.2-1.2v2.4M389.3 111.5h2.4m-1.2-1.2v2.4M389.3 127.5h2.4m-1.2-1.2v2.4M389.3 123.5h2.4m-1.2-1.2v2.4M389.3 115.5h2.4m-1.2-1.2v2.4M390.3 91.5h2.4m-1.2-1.2v2.4M390.3 139.5h2.4m-1.2-1.2v2.4M390.3 107.5h2.4m-1.2-1.2v2.4M390.3 103.5h2.4m-1.2-1.2v2.4M390.3 147.5h2.4m-1.2-1.2v2.4M390.3 111.5h2.4m-1.2-1.2v2.4M392.3 119.5h2.4m-1.2-1.2v2.4M392.3 111.5h2.4m-1.2-1.2v2.4M392.3 143.5h2.4m-1.2-1.2v2.4M392.3 75.5h2.4m-1.2-1.2v2.4M392.3 131.5h2.4m-1.2-1.2v2.4M393.3 99.5h2.4m-1.2-1.2v2.4M393.3 123.5h2.4m-1.2-1.2v2.4M393.3 159.5h2.4m-1.2-1.2v2.4M393.3 143.5h2.4m-1.2-1.2v2.4M393.3 139.5h2.4m-1.2-1.2v2.4M395.3 131.5h2.4m-1.2-1.2v2.4M395.3 143.5h2.4m-1.2-1.2v2.4M395.3 99.5h2.4m-1.2-1.2v2.4M395.3 111.5h2.4m-1.2-1.2v2.4M396.3 95.5h2.4m-1.2-1.2v2.4M396.3 119.5h2.4m-1.2-1.2v2.4M396.3 155.5h2.4m-1.2-1.2v2.4M396.3 143.5h2.4m-1.2-1.2v2.4M396.3 135.5h2.4m-1.2-1.2v2.4M396.3 123.5h2.4m-1.2-1.2v2.4M398.3 107.5h2.4m-1.2-1.2v2.4M398.3 135.5h2.4m-1.2-1.2v2.4M398.3 131.5h2.4m-1.2-1.2v2.4M398.3 83.5h2.4m-1.2-1.2v2.4M398.3 119.5h2.4m-1.2-1.2v2.4M400.3 119.5h2.4m-1.2-1.2v2.4M400.3 143.5h2.4m-1.2-1.2v2.4M400.3 115.5h2.4m-1.2-1.2v2.4M400.3 71.5h2.4m-1.2-1.2v2.4M400.3 135.5h2.4m-1.2-1.2v2.4M400.3 103.5h2.4m-1.2-1.2v2.4M401.3 127.5h2.4m-1.2-1.2v2.4M401.3 59.5h2.4m-1.2-1.2v2.4M401.3 135.5h2.4m-1.2-1.2v2.4M401.3 147.5h2.4m-1.2-1.2v2.4M401.3 115.5h2.4m-1.2-1.2v2.4M403.3 127.5h2.4m-1.2-1.2v2.4M403.3 79.5h2.4m-1.2-1.2v2.4M403.3 83.5h2.4m-1.2-1.2v2.4M403.3 131.5h2.4m-1.2-1.2v2.4M403.3 111.5h2.4m-1.2-1.2v2.4M404.3 115.5h2.4m-1.2-1.2v2.4M404.3 131.5h2.4m-1.2-1.2v2.4M404.3 91.5h2.4m-1.2-1.2v2.4M404.3 123.5h2.4m-1.2-1.2v2.4M404.3 87.5h2.4m-1.2-1.2v2.4M406.3 115.5h2.4m-1.2-1.2v2.4M406.3 99.5h2.4m-1.2-1.2v2.4M406.3 135.5h2.4m-1.2-1.2v2.4M406.3 103.5h2.4m-1.2-1.2v2.4M406.3 147.5h2.4m-1.2-1.2v2.4M406.3 119.5h2.4m-1.2-1.2v2.4M407.3 127.5h2.4m-1.2-1.2v2.4M407.3 159.5h2.4m-1.2-1.2v2.4M407.3 147.5h2.4m-1.2-1.2v2.4M407.3 103.5h2.4m-1.2-1.2v2.4M407.3 115.5h2.4m-1.2-1.2v2.4M407.3 99.5h2.4m-1.2-1.2v2.4M409.3 119.5h2.4m-1.2-1.2v2.4M409.3 159.5h2.4m-1.2-1.2v2.4M409.3 115.5h2.4m-1.2-1.2v2.4M409.3 131.5h2.4m-1.2-1.2v2.4M410.3 139.5h2.4m-1.2-1.2v2.4M410.3 103.5h2.4m-1.2-1.2v2.4M410.3 115.5h2.4m-1.2-1.2v2.4M410.3 135.5h2.4m-1.2-1.2v2.4M410.3 131.5h2.4m-1.2-1.2v2.4M412.3 107.5h2.4m-1.2-1.2v2.4M412.3 119.5h2.4m-1.2-1.2v2.4M412.3 123.5h2.4m-1.2-1.2v2.4M412.3 147.5h2.4m-1.2-1.2v2.4M412.3 131.5h2.4m-1.2-1.2v2.4M412.3 143.5h2.4m-1.2-1.2v2.4M413.3 159.5h2.4m-1.2-1.2v2.4M413.3 111.5h2.4m-1.2-1.2v2.4M413.3 131.5h2.4m-1.2-1.2v2.4M413.3 135.5h2.4m-1.2-1.2v2.4M413.3 143.5h2.4m-1.2-1.2v2.4M413.3 115.5h2.4m-1.2-1.2v2.4M415.3 63.5h2.4m-1.2-1.2v2.4M415.3 119.5h2.4m-1.2-1.2v2.4M415.3 111.5h2.4m-1.2-1.2v2.4M415.3 151.5h2.4m-1.2-1.2v2.4M415.3 127.5h2.4m-1.2-1.2v2.4M415.3 123.5h2.4m-1.2-1.2v2.4M416.3 75.5h2.4m-1.2-1.2v2.4M416.3 127.5h2.4m-1.2-1.2v2.4M416.3 143.5h2.4m-1.2-1.2v2.4M416.3 131.5h2.4m-1.2-1.2v2.4M416.3 135.5h2.4m-1.2-1.2v2.4M416.3 103.5h2.4m-1.2-1.2v2.4M418.3 115.5h2.4m-1.2-1.2v2.4M418.3 119.5h2.4m-1.2-1.2v2.4M418.3 123.5h2.4m-1.2-1.2v2.4M418.3 111.5h2.4m-1.2-1.2v2.4M418.3 135.5h2.4m-1.2-1.2v2.4M418.3 143.5h2.4m-1.2-1.2v2.4M420.3 163.5h2.4m-1.2-1.2v2.4M420.3 107.5h2.4m-1.2-1.2v2.4M420.3 119.5h2.4m-1.2-1.2v2.4M420.3 115.5h2.4m-1.2-1.2v2.4M420.3 127.5h2.4m-1.2-1.2v2.4M420.3 99.5h2.4m-1.2-1.2v2.4M421.3 143.5h2.4m-1.2-1.2v2.4M421.3 107.5h2.4m-1.2-1.2v2.4M421.3 139.5h2.4m-1.2-1.2v2.4M421.3 131.5h2.4m-1.2-1.2v2.4M421.3 147.5h2.4m-1.2-1.2v2.4M421.3 123.5h2.4m-1.2-1.2v2.4M423.3 131.5h2.4m-1.2-1.2v2.4M423.3 119.5h2.4m-1.2-1.2v2.4M423.3 135.5h2.4m-1.2-1.2v2.4M423.3 151.5h2.4m-1.2-1.2v2.4M423.3 103.5h2.4m-1.2-1.2v2.4M424.3 115.5h2.4m-1.2-1.2v2.4M424.3 127.5h2.4m-1.2-1.2v2.4M424.3 119.5h2.4m-1.2-1.2v2.4M424.3 151.5h2.4m-1.2-1.2v2.4M424.3 99.5h2.4m-1.2-1.2v2.4M426.3 115.5h2.4m-1.2-1.2v2.4M426.3 135.5h2.4m-1.2-1.2v2.4M426.3 107.5h2.4m-1.2-1.2v2.4M426.3 123.5h2.4m-1.2-1.2v2.4M426.3 111.5h2.4m-1.2-1.2v2.4M426.3 147.5h2.4m-1.2-1.2v2.4M427.3 135.5h2.4m-1.2-1.2v2.4M427.3 119.5h2.4m-1.2-1.2v2.4M427.3 127.5h2.4m-1.2-1.2v2.4M427.3 131.5h2.4m-1.2-1.2v2.4M429.3 119.5h2.4m-1.2-1.2v2.4M429.3 111.5h2.4m-1.2-1.2v2.4M429.3 151.5h2.4m-1.2-1.2v2.4M429.3 131.5h2.4m-1.2-1.2v2.4M429.3 127.5h2.4m-1.2-1.2v2.4M429.3 123.5h2.4m-1.2-1.2v2.4M430.3 107.5h2.4m-1.2-1.2v2.4M430.3 147.5h2.4m-1.2-1.2v2.4M430.3 115.5h2.4m-1.2-1.2v2.4M430.3 155.5h2.4m-1.2-1.2v2.4M430.3 139.5h2.4m-1.2-1.2v2.4M430.3 135.5h2.4m-1.2-1.2v2.4M432.3 127.5h2.4m-1.2-1.2v2.4M432.3 135.5h2.4m-1.2-1.2v2.4M432.3 131.5h2.4m-1.2-1.2v2.4M432.3 155.5h2.4m-1.2-1.2v2.4M433.3 147.5h2.4m-1.2-1.2v2.4M433.3 131.5h2.4m-1.2-1.2v2.4M433.3 119.5h2.4m-1.2-1.2v2.4M433.3 111.5h2.4m-1.2-1.2v2.4M433.3 79.5h2.4m-1.2-1.2v2.4M433.3 123.5h2.4m-1.2-1.2v2.4M435.3 143.5h2.4m-1.2-1.2v2.4M435.3 127.5h2.4m-1.2-1.2v2.4M435.3 119.5h2.4m-1.2-1.2v2.4M435.3 147.5h2.4m-1.2-1.2v2.4M435.3 131.5h2.4m-1.2-1.2v2.4M436.3 127.5h2.4m-1.2-1.2v2.4M436.3 151.5h2.4m-1.2-1.2v2.4M436.3 147.5h2.4m-1.2-1.2v2.4M436.3 67.5h2.4m-1.2-1.2v2.4M436.3 163.5h2.4m-1.2-1.2v2.4M436.3 123.5h2.4m-1.2-1.2v2.4M438.3 131.5h2.4m-1.2-1.2v2.4M438.3 99.5h2.4m-1.2-1.2v2.4M438.3 111.5h2.4m-1.2-1.2v2.4M438.3 135.5h2.4m-1.2-1.2v2.4M440.3 87.5h2.4m-1.2-1.2v2.4M440.3 91.5h2.4m-1.2-1.2v2.4M440.3 119.5h2.4m-1.2-1.2v2.4M440.3 107.5h2.4m-1.2-1.2v2.4M440.3 135.5h2.4m-1.2-1.2v2.4M441.3 103.5h2.4m-1.2-1.2v2.4M441.3 115.5h2.4m-1.2-1.2v2.4M441.3 107.5h2.4m-1.2-1.2v2.4M441.3 67.5h2.4m-1.2-1.2v2.4M441.3 95.5h2.4m-1.2-1.2v2.4M443.3 123.5h2.4m-1.2-1.2v2.4M443.3 79.5h2.4m-1.2-1.2v2.4M443.3 111.5h2.4m-1.2-1.2v2.4M443.3 87.5h2.4m-1.2-1.2v2.4M444.3 111.5h2.4m-1.2-1.2v2.4M444.3 87.5h2.4m-1.2-1.2v2.4M444.3 131.5h2.4m-1.2-1.2v2.4M444.3 119.5h2.4m-1.2-1.2v2.4M444.3 127.5h2.4m-1.2-1.2v2.4M446.3 123.5h2.4m-1.2-1.2v2.4M446.3 87.5h2.4m-1.2-1.2v2.4M446.3 107.5h2.4m-1.2-1.2v2.4M446.3 131.5h2.4m-1.2-1.2v2.4M447.3 127.5h2.4m-1.2-1.2v2.4M447.3 103.5h2.4m-1.2-1.2v2.4M447.3 107.5h2.4m-1.2-1.2v2.4M447.3 99.5h2.4m-1.2-1.2v2.4M447.3 143.5h2.4m-1.2-1.2v2.4M449.3 123.5h2.4m-1.2-1.2v2.4M449.3 91.5h2.4m-1.2-1.2v2.4M449.3 163.5h2.4m-1.2-1.2v2.4M449.3 115.5h2.4m-1.2-1.2v2.4M449.3 99.5h2.4m-1.2-1.2v2.4M449.3 119.5h2.4m-1.2-1.2v2.4M450.3 127.5h2.4m-1.2-1.2v2.4M450.3 131.5h2.4m-1.2-1.2v2.4M450.3 151.5h2.4m-1.2-1.2v2.4M450.3 139.5h2.4m-1.2-1.2v2.4M450.3 115.5h2.4m-1.2-1.2v2.4M452.3 119.5h2.4m-1.2-1.2v2.4M452.3 111.5h2.4m-1.2-1.2v2.4M452.3 143.5h2.4m-1.2-1.2v2.4M453.3 119.5h2.4m-1.2-1.2v2.4M453.3 131.5h2.4m-1.2-1.2v2.4M453.3 155.5h2.4m-1.2-1.2v2.4M453.3 107.5h2.4m-1.2-1.2v2.4M453.3 79.5h2.4m-1.2-1.2v2.4M455.3 107.5h2.4m-1.2-1.2v2.4M455.3 91.5h2.4m-1.2-1.2v2.4M455.3 111.5h2.4m-1.2-1.2v2.4M455.3 127.5h2.4m-1.2-1.2v2.4M455.3 139.5h2.4m-1.2-1.2v2.4M456.3 115.5h2.4m-1.2-1.2v2.4M456.3 123.5h2.4m-1.2-1.2v2.4M456.3 139.5h2.4m-1.2-1.2v2.4M456.3 99.5h2.4m-1.2-1.2v2.4M456.3 111.5h2.4m-1.2-1.2v2.4M458.3 103.5h2.4m-1.2-1.2v2.4M458.3 87.5h2.4m-1.2-1.2v2.4M458.3 119.5h2.4m-1.2-1.2v2.4M458.3 139.5h2.4m-1.2-1.2v2.4M458.3 131.5h2.4m-1.2-1.2v2.4M458.3 107.5h2.4m-1.2-1.2v2.4M460.3 115.5h2.4m-1.2-1.2v2.4M460.3 143.5h2.4m-1.2-1.2v2.4M460.3 95.5h2.4m-1.2-1.2v2.4M460.3 91.5h2.4m-1.2-1.2v2.4M460.3 99.5h2.4m-1.2-1.2v2.4M461.3 123.5h2.4m-1.2-1.2v2.4M461.3 115.5h2.4m-1.2-1.2v2.4M461.3 127.5h2.4m-1.2-1.2v2.4M461.3 131.5h2.4m-1.2-1.2v2.4M461.3 103.5h2.4m-1.2-1.2v2.4M463.3 91.5h2.4m-1.2-1.2v2.4M463.3 127.5h2.4m-1.2-1.2v2.4M463.3 99.5h2.4m-1.2-1.2v2.4M463.3 111.5h2.4m-1.2-1.2v2.4M463.3 115.5h2.4m-1.2-1.2v2.4M463.3 95.5h2.4m-1.2-1.2v2.4M464.3 119.5h2.4m-1.2-1.2v2.4M464.3 87.5h2.4m-1.2-1.2v2.4M464.3 131.5h2.4m-1.2-1.2v2.4M464.3 99.5h2.4m-1.2-1.2v2.4M464.3 139.5h2.4m-1.2-1.2v2.4M466.3 135.5h2.4m-1.2-1.2v2.4M466.3 119.5h2.4m-1.2-1.2v2.4M466.3 123.5h2.4m-1.2-1.2v2.4M466.3 155.5h2.4m-1.2-1.2v2.4M466.3 143.5h2.4m-1.2-1.2v2.4M467.3 111.5h2.4m-1.2-1.2v2.4M467.3 139.5h2.4m-1.2-1.2v2.4M467.3 119.5h2.4m-1.2-1.2v2.4M467.3 107.5h2.4m-1.2-1.2v2.4M469.3 75.5h2.4m-1.2-1.2v2.4M469.3 95.5h2.4m-1.2-1.2v2.4M469.3 127.5h2.4m-1.2-1.2v2.4M469.3 99.5h2.4m-1.2-1.2v2.4M469.3 107.5h2.4m-1.2-1.2v2.4M469.3 139.5h2.4m-1.2-1.2v2.4M470.3 127.5h2.4m-1.2-1.2v2.4M470.3 115.5h2.4m-1.2-1.2v2.4M470.3 103.5h2.4m-1.2-1.2v2.4M470.3 143.5h2.4m-1.2-1.2v2.4M470.3 111.5h2.4m-1.2-1.2v2.4M472.3 111.5h2.4m-1.2-1.2v2.4M472.3 139.5h2.4m-1.2-1.2v2.4M472.3 135.5h2.4m-1.2-1.2v2.4M472.3 115.5h2.4m-1.2-1.2v2.4M472.3 119.5h2.4m-1.2-1.2v2.4M473.3 107.5h2.4m-1.2-1.2v2.4M473.3 123.5h2.4m-1.2-1.2v2.4M473.3 171.5h2.4m-1.2-1.2v2.4M473.3 99.5h2.4m-1.2-1.2v2.4M475.3 111.5h2.4m-1.2-1.2v2.4M475.3 155.5h2.4m-1.2-1.2v2.4M475.3 99.5h2.4m-1.2-1.2v2.4M475.3 119.5h2.4m-1.2-1.2v2.4M475.3 127.5h2.4m-1.2-1.2v2.4M476.3 127.5h2.4m-1.2-1.2v2.4M476.3 95.5h2.4m-1.2-1.2v2.4M476.3 119.5h2.4m-1.2-1.2v2.4M476.3 147.5h2.4m-1.2-1.2v2.4M478.3 119.5h2.4m-1.2-1.2v2.4M478.3 127.5h2.4m-1.2-1.2v2.4M478.3 103.5h2.4m-1.2-1.2v2.4M478.3 111.5h2.4m-1.2-1.2v2.4M478.3 123.5h2.4m-1.2-1.2v2.4M480.3 123.5h2.4m-1.2-1.2v2.4M480.3 111.5h2.4m-1.2-1.2v2.4M480.3 139.5h2.4m-1.2-1.2v2.4M481.3 115.5h2.4m-1.2-1.2v2.4M481.3 147.5h2.4m-1.2-1.2v2.4M481.3 119.5h2.4m-1.2-1.2v2.4M481.3 135.5h2.4m-1.2-1.2v2.4M481.3 163.5h2.4m-1.2-1.2v2.4M483.3 127.5h2.4m-1.2-1.2v2.4M483.3 111.5h2.4m-1.2-1.2v2.4M483.3 139.5h2.4m-1.2-1.2v2.4M483.3 107.5h2.4m-1.2-1.2v2.4M483.3 147.5h2.4m-1.2-1.2v2.4M484.3 143.5h2.4m-1.2-1.2v2.4M484.3 131.5h2.4m-1.2-1.2v2.4M484.3 115.5h2.4m-1.2-1.2v2.4M484.3 135.5h2.4m-1.2-1.2v2.4M486.3 123.5h2.4m-1.2-1.2v2.4M486.3 131.5h2.4m-1.2-1.2v2.4M486.3 135.5h2.4m-1.2-1.2v2.4M486.3 139.5h2.4m-1.2-1.2v2.4M486.3 111.5h2.4m-1.2-1.2v2.4M487.3 75.5h2.4m-1.2-1.2v2.4M487.3 111.5h2.4m-1.2-1.2v2.4M487.3 135.5h2.4m-1.2-1.2v2.4M487.3 127.5h2.4m-1.2-1.2v2.4M487.3 119.5h2.4m-1.2-1.2v2.4M489.3 119.5h2.4m-1.2-1.2v2.4M489.3 131.5h2.4m-1.2-1.2v2.4M489.3 95.5h2.4m-1.2-1.2v2.4M489.3 135.5h2.4m-1.2-1.2v2.4M490.3 135.5h2.4m-1.2-1.2v2.4M490.3 119.5h2.4m-1.2-1.2v2.4M490.3 115.5h2.4m-1.2-1.2v2.4M490.3 123.5h2.4m-1.2-1.2v2.4M492.3 139.5h2.4m-1.2-1.2v2.4M492.3 131.5h2.4m-1.2-1.2v2.4M492.3 115.5h2.4m-1.2-1.2v2.4M492.3 119.5h2.4m-1.2-1.2v2.4M492.3 163.5h2.4m-1.2-1.2v2.4M493.3 131.5h2.4m-1.2-1.2v2.4M493.3 151.5h2.4m-1.2-1.2v2.4M493.3 171.5h2.4m-1.2-1.2v2.4M493.3 139.5h2.4m-1.2-1.2v2.4M493.3 147.5h2.4m-1.2-1.2v2.4M495.3 163.5h2.4m-1.2-1.2v2.4M495.3 159.5h2.4m-1.2-1.2v2.4M495.3 147.5h2.4m-1.2-1.2v2.4M495.3 111.5h2.4m-1.2-1.2v2.4M497.3 151.5h2.4m-1.2-1.2v2.4M497.3 143.5h2.4m-1.2-1.2v2.4M497.3 163.5h2.4m-1.2-1.2v2.4M497.3 159.5h2.4m-1.2-1.2v2.4M497.3 147.5h2.4m-1.2-1.2v2.4M498.3 139.5h2.4m-1.2-1.2v2.4M498.3 147.5h2.4m-1.2-1.2v2.4M498.3 155.5h2.4m-1.2-1.2v2.4M498.3 171.5h2.4m-1.2-1.2v2.4M498.3 163.5h2.4m-1.2-1.2v2.4M500.3 155.5h2.4m-1.2-1.2v2.4M500.3 151.5h2.4m-1.2-1.2v2.4M500.3 115.5h2.4m-1.2-1.2v2.4M500.3 167.5h2.4m-1.2-1.2v2.4M500.3 159.5h2.4m-1.2-1.2v2.4M501.3 151.5h2.4m-1.2-1.2v2.4M501.3 175.5h2.4m-1.2-1.2v2.4M501.3 167.5h2.4m-1.2-1.2v2.4M501.3 159.5h2.4m-1.2-1.2v2.4M501.3 139.5h2.4m-1.2-1.2v2.4M501.3 147.5h2.4m-1.2-1.2v2.4M503.3 139.5h2.4m-1.2-1.2v2.4M503.3 159.5h2.4m-1.2-1.2v2.4M503.3 155.5h2.4m-1.2-1.2v2.4M503.3 167.5h2.4m-1.2-1.2v2.4M504.3 147.5h2.4m-1.2-1.2v2.4M504.3 151.5h2.4m-1.2-1.2v2.4M506.3 143.5h2.4m-1.2-1.2v2.4M506.3 163.5h2.4m-1.2-1.2v2.4M506.3 167.5h2.4m-1.2-1.2v2.4M506.3 155.5h2.4m-1.2-1.2v2.4M507.3 159.5h2.4m-1.2-1.2v2.4M507.3 147.5h2.4m-1.2-1.2v2.4M507.3 155.5h2.4m-1.2-1.2v2.4M507.3 175.5h2.4m-1.2-1.2v2.4M507.3 167.5h2.4m-1.2-1.2v2.4M507.3 179.5h2.4m-1.2-1.2v2.4M509.3 155.5h2.4m-1.2-1.2v2.4M509.3 159.5h2.4m-1.2-1.2v2.4M509.3 151.5h2.4m-1.2-1.2v2.4M509.3 131.5h2.4m-1.2-1.2v2.4M510.3 155.5h2.4m-1.2-1.2v2.4M510.3 179.5h2.4m-1.2-1.2v2.4M510.3 159.5h2.4m-1.2-1.2v2.4M510.3 143.5h2.4m-1.2-1.2v2.4M512.3 163.5h2.4m-1.2-1.2v2.4M512.3 135.5h2.4m-1.2-1.2v2.4M512.3 143.5h2.4m-1.2-1.2v2.4M512.3 155.5h2.4m-1.2-1.2v2.4M512.3 151.5h2.4m-1.2-1.2v2.4M513.3 127.5h2.4m-1.2-1.2v2.4M513.3 119.5h2.4m-1.2-1.2v2.4M513.3 151.5h2.4m-1.2-1.2v2.4M513.3 131.5h2.4m-1.2-1.2v2.4M515.3 119.5h2.4m-1.2-1.2v2.4M515.3 147.5h2.4m-1.2-1.2v2.4M515.3 151.5h2.4m-1.2-1.2v2.4M515.3 135.5h2.4m-1.2-1.2v2.4M515.3 143.5h2.4m-1.2-1.2v2.4M517.3 99.5h2.4m-1.2-1.2v2.4M517.3 111.5h2.4m-1.2-1.2v2.4M517.3 115.5h2.4m-1.2-1.2v2.4M517.3 67.5h2.4m-1.2-1.2v2.4M517.3 91.5h2.4m-1.2-1.2v2.4M518.3 99.5h2.4m-1.2-1.2v2.4M518.3 107.5h2.4m-1.2-1.2v2.4M518.3 123.5h2.4m-1.2-1.2v2.4M518.3 127.5h2.4m-1.2-1.2v2.4M520.3 139.5h2.4m-1.2-1.2v2.4M520.3 119.5h2.4m-1.2-1.2v2.4M520.3 95.5h2.4m-1.2-1.2v2.4M520.3 107.5h2.4m-1.2-1.2v2.4M520.3 115.5h2.4m-1.2-1.2v2.4M521.3 115.5h2.4m-1.2-1.2v2.4M521.3 99.5h2.4m-1.2-1.2v2.4M521.3 111.5h2.4m-1.2-1.2v2.4M521.3 119.5h2.4m-1.2-1.2v2.4M521.3 131.5h2.4m-1.2-1.2v2.4M521.3 147.5h2.4m-1.2-1.2v2.4M523.3 99.5h2.4m-1.2-1.2v2.4M523.3 131.5h2.4m-1.2-1.2v2.4M523.3 139.5h2.4m-1.2-1.2v2.4M523.3 111.5h2.4m-1.2-1.2v2.4M523.3 151.5h2.4m-1.2-1.2v2.4M524.3 135.5h2.4m-1.2-1.2v2.4M524.3 127.5h2.4m-1.2-1.2v2.4M524.3 123.5h2.4m-1.2-1.2v2.4M524.3 119.5h2.4m-1.2-1.2v2.4M524.3 107.5h2.4m-1.2-1.2v2.4M526.3 119.5h2.4m-1.2-1.2v2.4M526.3 127.5h2.4m-1.2-1.2v2.4M526.3 135.5h2.4m-1.2-1.2v2.4M526.3 111.5h2.4m-1.2-1.2v2.4M526.3 115.5h2.4m-1.2-1.2v2.4M526.3 91.5h2.4m-1.2-1.2v2.4M527.3 111.5h2.4m-1.2-1.2v2.4M527.3 135.5h2.4m-1.2-1.2v2.4M527.3 127.5h2.4m-1.2-1.2v2.4M527.3 95.5h2.4m-1.2-1.2v2.4M527.3 151.5h2.4m-1.2-1.2v2.4M529.3 131.5h2.4m-1.2-1.2v2.4M529.3 135.5h2.4m-1.2-1.2v2.4M529.3 119.5h2.4m-1.2-1.2v2.4M529.3 123.5h2.4m-1.2-1.2v2.4M529.3 151.5h2.4m-1.2-1.2v2.4M529.3 155.5h2.4m-1.2-1.2v2.4M530.3 119.5h2.4m-1.2-1.2v2.4M530.3 95.5h2.4m-1.2-1.2v2.4M530.3 91.5h2.4m-1.2-1.2v2.4M530.3 127.5h2.4m-1.2-1.2v2.4M530.3 111.5h2.4m-1.2-1.2v2.4M530.3 131.5h2.4m-1.2-1.2v2.4M532.3 143.5h2.4m-1.2-1.2v2.4M532.3 95.5h2.4m-1.2-1.2v2.4M532.3 107.5h2.4m-1.2-1.2v2.4M532.3 123.5h2.4m-1.2-1.2v2.4M532.3 103.5h2.4m-1.2-1.2v2.4M533.3 111.5h2.4m-1.2-1.2v2.4M533.3 123.5h2.4m-1.2-1.2v2.4M533.3 119.5h2.4m-1.2-1.2v2.4M533.3 127.5h2.4m-1.2-1.2v2.4M533.3 131.5h2.4m-1.2-1.2v2.4M535.3 103.5h2.4m-1.2-1.2v2.4M535.3 83.5h2.4m-1.2-1.2v2.4M535.3 139.5h2.4m-1.2-1.2v2.4M535.3 87.5h2.4m-1.2-1.2v2.4M535.3 95.5h2.4m-1.2-1.2v2.4M535.3 111.5h2.4m-1.2-1.2v2.4M537.3 123.5h2.4m-1.2-1.2v2.4M537.3 119.5h2.4m-1.2-1.2v2.4M537.3 151.5h2.4m-1.2-1.2v2.4M537.3 127.5h2.4m-1.2-1.2v2.4M538.3 115.5h2.4m-1.2-1.2v2.4M538.3 135.5h2.4m-1.2-1.2v2.4M538.3 147.5h2.4m-1.2-1.2v2.4M538.3 123.5h2.4m-1.2-1.2v2.4M540.3 143.5h2.4m-1.2-1.2v2.4M540.3 127.5h2.4m-1.2-1.2v2.4M540.3 119.5h2.4m-1.2-1.2v2.4M540.3 99.5h2.4m-1.2-1.2v2.4M541.3 99.5h2.4m-1.2-1.2v2.4M541.3 103.5h2.4m-1.2-1.2v2.4M541.3 127.5h2.4m-1.2-1.2v2.4M541.3 91.5h2.4m-1.2-1.2v2.4M541.3 143.5h2.4m-1.2-1.2v2.4M541.3 111.5h2.4m-1.2-1.2v2.4M543.3 115.5h2.4m-1.2-1.2v2.4M543.3 103.5h2.4m-1.2-1.2v2.4M543.3 147.5h2.4m-1.2-1.2v2.4M543.3 143.5h2.4m-1.2-1.2v2.4M543.3 135.5h2.4m-1.2-1.2v2.4M543.3 119.5h2.4m-1.2-1.2v2.4M544.3 119.5h2.4m-1.2-1.2v2.4M544.3 123.5h2.4m-1.2-1.2v2.4M544.3 127.5h2.4m-1.2-1.2v2.4M544.3 135.5h2.4m-1.2-1.2v2.4M544.3 147.5h2.4m-1.2-1.2v2.4M544.3 131.5h2.4m-1.2-1.2v2.4M546.3 115.5h2.4m-1.2-1.2v2.4M546.3 107.5h2.4m-1.2-1.2v2.4M546.3 135.5h2.4m-1.2-1.2v2.4M546.3 147.5h2.4m-1.2-1.2v2.4M546.3 111.5h2.4m-1.2-1.2v2.4M547.3 143.5h2.4m-1.2-1.2v2.4M547.3 119.5h2.4m-1.2-1.2v2.4M547.3 139.5h2.4m-1.2-1.2v2.4M547.3 131.5h2.4m-1.2-1.2v2.4M547.3 95.5h2.4m-1.2-1.2v2.4M549.3 131.5h2.4m-1.2-1.2v2.4M549.3 107.5h2.4m-1.2-1.2v2.4M549.3 115.5h2.4m-1.2-1.2v2.4M550.3 139.5h2.4m-1.2-1.2v2.4M550.3 115.5h2.4m-1.2-1.2v2.4M550.3 107.5h2.4m-1.2-1.2v2.4M550.3 123.5h2.4m-1.2-1.2v2.4M550.3 131.5h2.4m-1.2-1.2v2.4M552.3 79.5h2.4m-1.2-1.2v2.4M552.3 127.5h2.4m-1.2-1.2v2.4M552.3 119.5h2.4m-1.2-1.2v2.4M552.3 99.5h2.4m-1.2-1.2v2.4M552.3 95.5h2.4m-1.2-1.2v2.4M552.3 123.5h2.4m-1.2-1.2v2.4M553.3 127.5h2.4m-1.2-1.2v2.4M553.3 99.5h2.4m-1.2-1.2v2.4M553.3 167.5h2.4m-1.2-1.2v2.4M553.3 91.5h2.4m-1.2-1.2v2.4M553.3 135.5h2.4m-1.2-1.2v2.4M555.3 91.5h2.4m-1.2-1.2v2.4M555.3 107.5h2.4m-1.2-1.2v2.4M555.3 103.5h2.4m-1.2-1.2v2.4M555.3 151.5h2.4m-1.2-1.2v2.4M555.3 119.5h2.4m-1.2-1.2v2.4M555.3 115.5h2.4m-1.2-1.2v2.4M557.3 119.5h2.4m-1.2-1.2v2.4M557.3 151.5h2.4m-1.2-1.2v2.4M557.3 115.5h2.4m-1.2-1.2v2.4M557.3 123.5h2.4m-1.2-1.2v2.4M558.3 111.5h2.4m-1.2-1.2v2.4M558.3 119.5h2.4m-1.2-1.2v2.4M558.3 107.5h2.4m-1.2-1.2v2.4M558.3 79.5h2.4m-1.2-1.2v2.4M558.3 123.5h2.4m-1.2-1.2v2.4M560.3 79.5h2.4m-1.2-1.2v2.4M560.3 115.5h2.4m-1.2-1.2v2.4M560.3 127.5h2.4m-1.2-1.2v2.4M560.3 135.5h2.4m-1.2-1.2v2.4M560.3 95.5h2.4m-1.2-1.2v2.4M560.3 139.5h2.4m-1.2-1.2v2.4M561.3 95.5h2.4m-1.2-1.2v2.4M561.3 107.5h2.4m-1.2-1.2v2.4M561.3 123.5h2.4m-1.2-1.2v2.4M561.3 127.5h2.4m-1.2-1.2v2.4M561.3 103.5h2.4m-1.2-1.2v2.4M563.3 99.5h2.4m-1.2-1.2v2.4M563.3 111.5h2.4m-1.2-1.2v2.4M563.3 119.5h2.4m-1.2-1.2v2.4M563.3 135.5h2.4m-1.2-1.2v2.4M564.3 111.5h2.4m-1.2-1.2v2.4M564.3 135.5h2.4m-1.2-1.2v2.4M564.3 123.5h2.4m-1.2-1.2v2.4M564.3 151.5h2.4m-1.2-1.2v2.4M564.3 95.5h2.4m-1.2-1.2v2.4M566.3 99.5h2.4m-1.2-1.2v2.4M566.3 131.5h2.4m-1.2-1.2v2.4M566.3 115.5h2.4m-1.2-1.2v2.4M566.3 87.5h2.4m-1.2-1.2v2.4M566.3 111.5h2.4m-1.2-1.2v2.4M566.3 135.5h2.4m-1.2-1.2v2.4M567.3 155.5h2.4m-1.2-1.2v2.4M567.3 147.5h2.4m-1.2-1.2v2.4M567.3 99.5h2.4m-1.2-1.2v2.4M567.3 115.5h2.4m-1.2-1.2v2.4M567.3 143.5h2.4m-1.2-1.2v2.4M567.3 107.5h2.4m-1.2-1.2v2.4M569.3 123.5h2.4m-1.2-1.2v2.4M569.3 127.5h2.4m-1.2-1.2v2.4M569.3 87.5h2.4m-1.2-1.2v2.4M569.3 135.5h2.4m-1.2-1.2v2.4M570.3 123.5h2.4m-1.2-1.2v2.4M570.3 91.5h2.4m-1.2-1.2v2.4M570.3 87.5h2.4m-1.2-1.2v2.4M570.3 131.5h2.4m-1.2-1.2v2.4M570.3 75.5h2.4m-1.2-1.2v2.4M572.3 139.5h2.4m-1.2-1.2v2.4M572.3 79.5h2.4m-1.2-1.2v2.4M572.3 99.5h2.4m-1.2-1.2v2.4M572.3 103.5h2.4m-1.2-1.2v2.4M573.3 95.5h2.4m-1.2-1.2v2.4M573.3 103.5h2.4m-1.2-1.2v2.4M573.3 115.5h2.4m-1.2-1.2v2.4M573.3 107.5h2.4m-1.2-1.2v2.4M573.3 111.5h2.4m-1.2-1.2v2.4M575.3 127.5h2.4m-1.2-1.2v2.4M575.3 99.5h2.4m-1.2-1.2v2.4M575.3 107.5h2.4m-1.2-1.2v2.4M575.3 111.5h2.4m-1.2-1.2v2.4M575.3 115.5h2.4m-1.2-1.2v2.4M577.3 135.5h2.4m-1.2-1.2v2.4M577.3 107.5h2.4m-1.2-1.2v2.4M577.3 115.5h2.4m-1.2-1.2v2.4M577.3 87.5h2.4m-1.2-1.2v2.4M577.3 127.5h2.4m-1.2-1.2v2.4M578.3 111.5h2.4m-1.2-1.2v2.4M578.3 95.5h2.4m-1.2-1.2v2.4M578.3 103.5h2.4m-1.2-1.2v2.4M578.3 71.5h2.4m-1.2-1.2v2.4M580.3 107.5h2.4m-1.2-1.2v2.4M580.3 67.5h2.4m-1.2-1.2v2.4M580.3 127.5h2.4m-1.2-1.2v2.4M580.3 95.5h2.4m-1.2-1.2v2.4M580.3 135.5h2.4m-1.2-1.2v2.4M581.3 123.5h2.4m-1.2-1.2v2.4M581.3 99.5h2.4m-1.2-1.2v2.4M581.3 139.5h2.4m-1.2-1.2v2.4M581.3 115.5h2.4m-1.2-1.2v2.4M581.3 119.5h2.4m-1.2-1.2v2.4M583.3 111.5h2.4m-1.2-1.2v2.4M583.3 127.5h2.4m-1.2-1.2v2.4M583.3 119.5h2.4m-1.2-1.2v2.4M583.3 103.5h2.4m-1.2-1.2v2.4M584.3 111.5h2.4m-1.2-1.2v2.4M584.3 79.5h2.4m-1.2-1.2v2.4M584.3 103.5h2.4m-1.2-1.2v2.4M584.3 107.5h2.4m-1.2-1.2v2.4M584.3 119.5h2.4m-1.2-1.2v2.4M586.3 131.5h2.4m-1.2-1.2v2.4M586.3 115.5h2.4m-1.2-1.2v2.4M586.3 135.5h2.4m-1.2-1.2v2.4M586.3 111.5h2.4m-1.2-1.2v2.4M586.3 99.5h2.4m-1.2-1.2v2.4M587.3 131.5h2.4m-1.2-1.2v2.4M587.3 127.5h2.4m-1.2-1.2v2.4M587.3 119.5h2.4m-1.2-1.2v2.4M587.3 107.5h2.4m-1.2-1.2v2.4M589.3 111.5h2.4m-1.2-1.2v2.4M589.3 123.5h2.4m-1.2-1.2v2.4M589.3 119.5h2.4m-1.2-1.2v2.4M589.3 139.5h2.4m-1.2-1.2v2.4M589.3 131.5h2.4m-1.2-1.2v2.4M590.3 115.5h2.4m-1.2-1.2v2.4M590.3 131.5h2.4m-1.2-1.2v2.4M590.3 135.5h2.4m-1.2-1.2v2.4M590.3 127.5h2.4m-1.2-1.2v2.4M590.3 99.5h2.4m-1.2-1.2v2.4M592.3 147.5h2.4m-1.2-1.2v2.4M592.3 131.5h2.4m-1.2-1.2v2.4M592.3 107.5h2.4m-1.2-1.2v2.4M592.3 135.5h2.4m-1.2-1.2v2.4M592.3 159.5h2.4m-1.2-1.2v2.4M593.3 127.5h2.4m-1.2-1.2v2.4M593.3 131.5h2.4m-1.2-1.2v2.4M593.3 143.5h2.4m-1.2-1.2v2.4M593.3 135.5h2.4m-1.2-1.2v2.4M595.3 131.5h2.4m-1.2-1.2v2.4M595.3 139.5h2.4m-1.2-1.2v2.4M595.3 159.5h2.4m-1.2-1.2v2.4M595.3 147.5h2.4m-1.2-1.2v2.4M595.3 179.5h2.4m-1.2-1.2v2.4M597.3 143.5h2.4m-1.2-1.2v2.4M597.3 131.5h2.4m-1.2-1.2v2.4M597.3 111.5h2.4m-1.2-1.2v2.4M597.3 155.5h2.4m-1.2-1.2v2.4M597.3 147.5h2.4m-1.2-1.2v2.4M598.3 155.5h2.4m-1.2-1.2v2.4M598.3 151.5h2.4m-1.2-1.2v2.4M598.3 147.5h2.4m-1.2-1.2v2.4M598.3 163.5h2.4m-1.2-1.2v2.4M598.3 115.5h2.4m-1.2-1.2v2.4M600.3 147.5h2.4m-1.2-1.2v2.4M600.3 131.5h2.4m-1.2-1.2v2.4M600.3 159.5h2.4m-1.2-1.2v2.4M600.3 139.5h2.4m-1.2-1.2v2.4M601.3 151.5h2.4m-1.2-1.2v2.4M601.3 147.5h2.4m-1.2-1.2v2.4M601.3 143.5h2.4m-1.2-1.2v2.4M601.3 131.5h2.4m-1.2-1.2v2.4M601.3 127.5h2.4m-1.2-1.2v2.4M601.3 159.5h2.4m-1.2-1.2v2.4M603.3 167.5h2.4m-1.2-1.2v2.4M603.3 147.5h2.4m-1.2-1.2v2.4M603.3 143.5h2.4m-1.2-1.2v2.4M603.3 135.5h2.4m-1.2-1.2v2.4M603.3 131.5h2.4m-1.2-1.2v2.4M603.3 151.5h2.4m-1.2-1.2v2.4M604.3 119.5h2.4m-1.2-1.2v2.4M604.3 139.5h2.4m-1.2-1.2v2.4M604.3 167.5h2.4m-1.2-1.2v2.4M604.3 131.5h2.4m-1.2-1.2v2.4M606.3 163.5h2.4m-1.2-1.2v2.4M606.3 147.5h2.4m-1.2-1.2v2.4M606.3 143.5h2.4m-1.2-1.2v2.4M606.3 139.5h2.4m-1.2-1.2v2.4M606.3 131.5h2.4m-1.2-1.2v2.4M607.3 127.5h2.4m-1.2-1.2v2.4M607.3 131.5h2.4m-1.2-1.2v2.4M607.3 147.5h2.4m-1.2-1.2v2.4M607.3 123.5h2.4m-1.2-1.2v2.4M607.3 143.5h2.4m-1.2-1.2v2.4M607.3 135.5h2.4m-1.2-1.2v2.4M609.3 151.5h2.4m-1.2-1.2v2.4M609.3 175.5h2.4m-1.2-1.2v2.4M609.3 143.5h2.4m-1.2-1.2v2.4M609.3 71.5h2.4m-1.2-1.2v2.4M609.3 147.5h2.4m-1.2-1.2v2.4M610.3 135.5h2.4m-1.2-1.2v2.4M610.3 167.5h2.4m-1.2-1.2v2.4M610.3 83.5h2.4m-1.2-1.2v2.4M610.3 143.5h2.4m-1.2-1.2v2.4M610.3 151.5h2.4m-1.2-1.2v2.4M612.3 155.5h2.4m-1.2-1.2v2.4M612.3 163.5h2.4m-1.2-1.2v2.4M612.3 147.5h2.4m-1.2-1.2v2.4M612.3 139.5h2.4m-1.2-1.2v2.4M612.3 131.5h2.4m-1.2-1.2v2.4M613.3 151.5h2.4m-1.2-1.2v2.4M613.3 139.5h2.4m-1.2-1.2v2.4M613.3 131.5h2.4m-1.2-1.2v2.4M613.3 119.5h2.4m-1.2-1.2v2.4M615.3 127.5h2.4m-1.2-1.2v2.4M615.3 143.5h2.4m-1.2-1.2v2.4M615.3 135.5h2.4m-1.2-1.2v2.4M615.3 115.5h2.4m-1.2-1.2v2.4M617.3 111.5h2.4m-1.2-1.2v2.4M617.3 99.5h2.4m-1.2-1.2v2.4M617.3 147.5h2.4m-1.2-1.2v2.4M617.3 127.5h2.4m-1.2-1.2v2.4M617.3 151.5h2.4m-1.2-1.2v2.4M617.3 135.5h2.4m-1.2-1.2v2.4M618.3 151.5h2.4m-1.2-1.2v2.4M618.3 107.5h2.4m-1.2-1.2v2.4M618.3 111.5h2.4m-1.2-1.2v2.4M618.3 143.5h2.4m-1.2-1.2v2.4M618.3 119.5h2.4m-1.2-1.2v2.4M620.3 83.5h2.4m-1.2-1.2v2.4M620.3 99.5h2.4m-1.2-1.2v2.4M620.3 87.5h2.4m-1.2-1.2v2.4M620.3 123.5h2.4m-1.2-1.2v2.4M620.3 115.5h2.4m-1.2-1.2v2.4M620.3 119.5h2.4m-1.2-1.2v2.4M621.3 131.5h2.4m-1.2-1.2v2.4M621.3 115.5h2.4m-1.2-1.2v2.4M621.3 103.5h2.4m-1.2-1.2v2.4M621.3 135.5h2.4m-1.2-1.2v2.4M621.3 123.5h2.4m-1.2-1.2v2.4M623.3 119.5h2.4m-1.2-1.2v2.4M623.3 63.5h2.4m-1.2-1.2v2.4M623.3 99.5h2.4m-1.2-1.2v2.4M623.3 103.5h2.4m-1.2-1.2v2.4M623.3 51.5h2.4m-1.2-1.2v2.4M623.3 59.5h2.4m-1.2-1.2v2.4M624.3 131.5h2.4m-1.2-1.2v2.4M624.3 91.5h2.4m-1.2-1.2v2.4M624.3 127.5h2.4m-1.2-1.2v2.4M624.3 87.5h2.4m-1.2-1.2v2.4"/>
<clipPath id="spc"><rect x="72.5" y="205.5" width="554.0" height="490.0"/></clipPath>
<rect x="72.5" y="205.5" width="554.0" height="490.0" fill="#0000c8"/>
<g clip-path="url(#spc)" fill="none" shape-rendering="crispEdges">
<path stroke="#00008e" stroke-width="1" d="M179 214.5h9m88 8h10m175 0h10m-370 6h9m98 2h10m146 8h9m98 4h19m-282 10h10m-137 2h10m107 6h10m49 3h9m88 7h10m-78 1h9m30 13h9m0 4h10m253 0h10m-487 1h10m331 3h10m-176 9h10m-224 2h10m526 8h10m-283 2h10m-205 11h10m185 2h10m-29 1h9m20 4h10m165 0h10m-175 5h9m117 2h10m-312 1h10m351 2h9m-243 2h10m-98 2h10m-58 4h9m137 0h9m215 11h9m59 12h10m-78 1h9m-185 3h10m-165 8h9m390 9h10m-312 5h10m78 1h9m-311 5h9m380 3h10m97 1h10m-117 15h10m-428 7h9m409 12h10m97 10h10m-127 17h10m117 11h10m-458 41h10m-97 4h9m166 1h10m38 0h10m-48 2h9m-117 12h10m390 1h9m-311 5h10m116 1h10m234 0h10m-448 15h9m429 7h10m-526 7h9m98 0h10m39 6h9m273 0h10m-59 23h10m-321 3h9m-39 6h10m-87 3h9m68 3h10m312 1h9m-253 16h10m351 5h9m-409 1h10m351 4h9m-311 5h10m272 9h10m68 4h10m-477 1h9m-48 21h9"/>
<path stroke="#00009c" stroke-width="1" d="M568 205.5h10m-302 1h10m-156 2h10m263 1h19m185 0h10m-214 1h9m98 0h9m59 0h10m-166 1h10m117 1h9m-243 1h10m29 0h10m243 0h10m-448 1h10m409 0h9m-224 1h10m-311 1h9m20 0h9m458 1h20m-224 1h9m0 1h10m-302 1h20m418 0h10m-428 3h9m20 0h10m29 0h10m379 0h10m-302 1h10m214 0h10m117 0h10m-546 1h10m224 0h10m19 0h10m68 0h10m-263 1h10m87 0h10m-68 1h10m87 0h10m302 0h10m-351 2h10m-68 1h9m39 0h10m29 0h10m-107 1h10m146 0h9m166 0h10m-439 2h10m205 0h9m244 0h19m-302 1h20m29 1h10m-78 1h10m126 0h10m-273 1h10m205 0h9m88 0h10m19 0h10m117 0h10m-419 2h10m321 0h19m-350 1h19m88 0h10m185 1h9m-29 1h10m-68 1h10m38 1h10m-263 2h10m78 0h10m233 0h10m-477 1h19m10 0h10m399 0h10m-321 1h9m-126 1h9m361 0h9m49 0h10m-429 1h10m-19 1h9m234 0h10m214 1h10m-487 1h10m117 0h9m20 0h19m39 0h20m19 0h10m107 0h10m48 0h10m49 0h10m-341 1h10m19 0h10m126 0h10m58 0h10m-321 1h10m253 0h10m165 0h10m-214 1h9m68 1h30m-117 1h10m-88 1h10m233 0h10m49 0h10m-468 1h10m78 0h10m194 0h10m-292 1h10m19 0h10m107 0h19m10 0h10m126 0h10m-175 1h10m243 0h10m-360 1h9m-146 1h10m360 0h20m68 0h10m-341 1h10m136 0h10m-195 1h10m243 0h10m146 0h10m-341 1h10m233 0h10m29 0h10m-409 1h10m97 0h10m10 0h9m49 0h10m48 0h10m175 0h10m20 0h9m-311 2h9m322 0h10m-224 1h9m176 0h9m-282 1h19m224 0h10m39 0h10m-516 1h9m69 0h9m312 0h10m-370 1h19m312 0h9m-408 1h9m29 0h10m59 1h9m39 1h10m10 0h10m331 0h9m10 1h10m-312 1h10m214 0h10m-263 1h10m-176 1h10m29 0h10m88 0h10m233 0h10m88 0h9m-282 1h10m155 0h10m29 0h20m-331 1h10m185 0h9m-253 1h10m428 0h10m-292 1h10m146 0h9m30 0h9m98 0h10m-234 2h19m146 0h10m-97 1h9m69 0h29m-429 1h20m-88 1h10m117 0h10m97 0h19m244 0h10m-468 1h10m253 0h10m0 1h10m175 0h10m-390 1h10m49 0h19m19 0h10m-136 1h19m215 1h9m-253 1h10m292 0h10m-205 1h10m58 0h10m-263 1h10m214 0h10m243 0h10m-409 1h10m234 0h9m-224 1h20m58 0h10m117 0h10m155 0h10m-380 1h10m-58 3h19m-87 1h9m78 0h10m117 1h9m-214 2h10m273 0h9m117 0h10m107 0h10m0 1h10m-341 1h29m-224 1h10m9 0h10m10 0h10m214 0h10m155 1h10m20 0h9m10 0h10m-136 1h19m-195 1h10m68 0h10m117 2h9m-379 1h9m127 0h10m68 1h10m253 0h10m-409 1h19m156 0h10m185 0h9m-146 1h10m49 0h9m-379 1h9m419 0h10m58 0h10m-526 2h10m389 0h10m-331 1h10m156 0h9m0 1h10m10 0h10m-215 1h20m146 0h10m-127 1h10m39 0h10m87 0h10m117 0h9m-389 1h10m292 0h10m39 0h9m10 0h10m-361 1h10m380 0h10m19 0h10m-224 1h10m214 0h19m-438 1h10m58 0h10m59 0h9m-68 1h10m146 0h10m165 0h10m-467 1h9m68 0h10m136 0h10m156 0h10m19 0h10m49 0h9m-389 1h29m205 0h9m-272 1h9m283 0h10m48 1h10m10 0h9m-262 1h9m302 0h10m-20 1h10m-487 1h10m49 0h9m49 0h10m136 1h10m204 1h10m-350 1h9m244 0h9m-155 1h9m273 0h10m-380 2h10m29 0h10m29 0h10m224 0h9m49 0h10m-244 1h10m78 0h10m-370 1h9m117 0h10m331 0h10m-331 1h10m58 0h10m-78 2h10m38 0h10m-185 1h10m448 0h19m-117 1h10m-243 1h10m233 0h10m-107 1h10m-108 1h10m205 0h9m-272 1h10m29 0h9m215 0h19m-419 1h10m137 0h9m244 0h9m-418 1h9m127 0h20m97 0h29m205 0h9m-516 1h10m224 0h10m39 0h9m49 0h10m-302 1h10m340 0h10m-282 1h10m116 0h10m29 0h10m-292 1h10m19 0h10m419 0h9m-399 1h20m58 0h10m117 0h9m-136 1h20m331 0h9m-399 1h10m389 0h10m-497 1h10m351 0h9m-223 1h9m-194 1h9m78 0h10m146 0h10m253 0h29m10 0h10m-156 1h9m-136 1h10m-39 1h10m-137 2h20m253 0h10m-380 1h10m78 0h19m107 0h20m282 0h10m-516 1h19m107 0h10m136 0h10m-204 2h9m49 0h10m97 0h10m49 0h9m166 0h10m-322 1h10m107 0h20m19 2h20m48 0h10m-273 2h10m282 0h10m39 0h10m-399 1h9m127 1h10m214 0h10m-146 2h19m20 0h9m10 0h10m68 0h19m-116 1h19m-389 1h9m10 0h10m9 0h10m20 0h9m20 1h10m-20 1h10m78 0h10m223 0h10m-263 2h10m39 0h10m321 0h10m-429 1h10m185 0h10m-263 1h10m48 1h10m39 0h10m-98 1h20m311 0h10m88 0h10m-439 1h10m39 0h10m302 0h19m-341 1h10m156 0h10m185 0h9m49 0h10m-458 1h10m136 1h10m175 0h10m-351 1h10m78 0h10m-175 1h9m20 0h9m69 0h9m59 0h10m68 0h9m156 0h10m10 0h9m98 0h10m-517 2h10m39 0h10m156 0h9m244 0h10m-244 1h10m-195 1h10m136 0h10m175 0h10m-58 1h9m10 0h10m136 0h10m-487 1h10m9 0h10m-58 2h9m263 0h10m59 0h9m78 0h10m10 0h9m-48 3h9m-418 2h9m205 0h10m39 0h9m-126 3h10m-176 3h10m39 0h10m97 0h10m39 0h9m-48 1h10m19 0h10m156 0h9m156 0h10m-526 1h10m78 0h9m78 0h10m10 0h9m117 0h10m88 0h9m20 0h10m68 0h10m-254 1h10m-302 2h20m204 0h20m-117 1h10m360 0h10m-302 2h9m137 1h10m-332 1h10m341 0h10m-283 1h10m273 0h9m137 0h10m-478 1h10m20 1h9m98 0h9m-19 1h10m282 1h10m-195 1h10m-20 1h10m127 0h9m-379 1h9m127 0h10m321 0h10m-409 1h10m243 0h10m48 0h20m-117 1h10m-185 1h10m29 0h9m-223 1h9m10 0h10m341 1h9m107 0h10m-292 1h10m263 1h9m-253 1h10m39 0h10m39 0h9m88 0h10m107 0h10m-156 1h9m10 0h10m-20 1h20m29 0h10m-370 1h19m156 0h20m-20 1h10m165 0h10m-448 1h10m516 1h10m-497 1h10m127 0h9m10 0h10m87 0h10m88 0h9m117 1h10m-497 1h10m341 0h10m117 0h9m-272 1h9m156 1h20m-419 1h10m360 0h10m-312 1h10m107 2h19m156 0h20m-78 1h19m78 0h10m-370 1h29m283 0h9m20 0h9m137 0h10m-439 2h10m68 0h10m-117 1h20m19 0h10m195 0h9m-39 1h10m29 0h10m117 0h10m-224 2h9m-87 1h10m126 1h10m126 0h10m-409 1h10m39 0h10m350 0h10m-312 1h10m273 1h9m-370 2h10m146 0h20m185 0h9m69 0h9m-321 1h10m-78 1h10m9 0h10m97 1h10m195 0h10m-429 1h10m97 0h10m39 0h10m48 1h10m-165 1h9m0 1h10m-29 1h19m59 0h10m253 0h19m-350 1h9m273 0h10m136 0h20m-156 1h9m-9 3h9m69 0h9m-136 1h10m-360 3h9m370 0h10m10 0h9m30 0h9m69 1h9m-457 1h19m253 0h10m39 0h19m-321 1h10m360 0h10m-175 1h9m244 0h10m-536 1h10m331 0h10m68 0h9m30 1h9m-409 1h20m146 0h10m-20 1h10m195 0h9m30 0h9m-360 1h10m68 0h10m253 0h10m-361 1h10m273 0h9m10 1h10m29 0h10m-292 1h10m9 0h10m-39 1h10m29 0h10m-127 1h10m58 0h10m78 0h10m78 0h9m59 0h19m39 0h10m-467 3h9m127 0h10m-59 1h10m156 0h9m-253 1h10m78 0h10m331 1h9m-126 1h10m-166 1h10m156 0h9m-136 1h19m30 0h9m137 0h9m-272 2h10m146 0h19m-311 2h9m263 0h10m185 1h10m-244 1h10m156 0h9m-223 1h9m312 0h10m-497 1h10m409 1h9m-418 1h9m147 0h9m-175 1h10m243 0h10m-97 1h9m214 0h10m-175 1h10m233 1h10m-389 1h9m69 0h9m98 0h9m10 0h10m-321 1h9m10 0h10m448 0h19m-341 1h10m292 0h10m-68 1h9m-272 1h10m204 0h10m-127 1h10m19 0h10m166 0h9m-233 1h9m-87 1h10m165 0h10m214 1h10m-438 1h9m283 0h9m-262 2h9m98 0h9m20 0h10m-283 1h10m58 0h10m68 0h10m-117 1h10m117 0h10m9 0h10m-19 1h9m49 1h10m58 0h10m-205 1h10m195 0h10m-234 1h10m87 0h10m107 2h10m-59 1h10m185 1h29m-467 2h10m78 0h9m312 0h10m-215 1h20m88 0h9m39 0h20m39 0h19m-195 1h10m78 3h10m-273 1h10m146 0h10m253 2h10m-127 1h10m-312 2h10m175 2h10m214 0h10m0 2h10m-390 1h10m-107 1h9m205 0h10m175 0h10m78 0h9m-525 1h9m117 0h10m263 1h9m-272 1h10m68 0h9m39 0h20m126 0h10m117 0h10m-438 1h9m30 1h9m117 0h10m58 0h10m-39 1h10m97 0h10m-409 1h10m87 0h20m-127 1h10m185 0h19m30 0h9m30 3h9m-136 1h10m350 0h10m-302 1h10m204 0h20m-107 1h19m-194 1h9m68 0h10m-253 1h10m58 0h10m419 0h9m-487 1h10m127 0h10m-78 1h9m127 0h10m68 0h10m77 0h10m39 0h10m19 0h10m-292 1h10m87 0h10m59 0h9m39 0h10m-428 1h9m507 0h9m-224 1h10m-311 1h9m458 0h10m-117 1h10m87 0h10m39 0h10m19 0h10m-127 1h10m68 0h20m-78 1h9m30 0h9m-448 1h10m146 0h10m282 0h10m-311 1h19m204 0h10m39 0h10m-331 1h10m-78 4h9m205 0h10m243 0h10m-448 1h10m29 0h19m107 3h10m20 0h9m59 0h10m-195 2h10m214 0h9m-97 1h10m-321 1h9m146 0h10m39 1h10m-205 1h10m49 0h9m176 0h9m-262 1h9m29 0h10m68 0h10m49 1h10m29 0h9m-146 3h30m331 0h9m-447 1h9m409 1h10m-78 1h10m10 0h9m29 0h10m29 0h10m-311 1h9m-29 1h10m389 0h10m-389 2h9m39 0h10m19 0h10m273 0h10m-507 1h10m166 0h9m117 0h10m146 0h10m-429 2h10m263 1h10m-98 1h10m175 0h10m-39 1h10m-263 1h10m126 0h10m234 0h19m-243 1h19m-68 1h10m39 0h9m234 1h10m-127 2h20m9 1h10m-292 1h10m136 0h10m-292 1h9m507 1h10m-380 1h10m146 0h9m59 0h9m-370 1h10m20 0h9m244 1h10m214 0h10m-429 1h10m350 1h10m-243 1h9m185 0h10m-399 1h10m97 0h10m136 0h10m68 2h10m-322 1h10m166 0h9m-19 1h10m78 0h9m-97 2h10m117 0h9m-175 1h10m87 0h10m-263 2h10m214 0h10m10 0h9m117 0h10m-97 1h19m-312 1h10m10 0h10m146 0h9m244 0h10m-439 2h10m214 0h10m244 0h9m-19 2h10m-273 2h10m146 0h19m-389 1h19m88 0h10m87 0h10m39 1h10m146 0h9m-360 1h10m438 0h10m-205 1h20m-263 1h10m107 0h9m127 0h10m97 0h10m-136 2h9m30 0h9m-292 3h10m428 0h10m-175 1h10m9 2h10m29 0h10m-380 1h10m370 1h10m-351 1h10m126 0h10m312 0h10m-546 1h10m516 1h10m-526 1h10m409 0h9m78 0h10m-273 3h10m68 0h10m-273 1h10m98 1h9m224 0h10m58 0h10m-496 1h9m438 0h10m-126 1h9m88 0h10"/>
<path stroke="#00009c" stroke-width="2" d="M432 208h19m-379 2h9m390 29h9m-48 9h10m58 12h10m-30 11h10m39 5h10m-166 11h10m-204 2h9m-78 10h10m39 14h10m448 3h10m-536 18h10m68 4h10m9 10h10m234 9h10m0 7h9m-311 8h9m-19 11h10m263 7h9m98 3h9m-107 6h10m-234 11h10m107 0h10m127 3h9m-311 2h9m-19 22h10m-59 3h10m428 6h10m-214 3h10m-146 3h9m224 1h10m-341 15h10m127 17h9m263 8h10m-166 1h10m-156 43h10m-39 3h10m321 9h10m-312 15h10m321 10h10m-39 20h10m78 18h10m-478 1h10m390 12h9m-282 11h10m224 34h9m10 6h10m49 1h9m10 2h10m-292 16h9"/>
<path stroke="#00009c" stroke-width="3" d="M607 292.5h10m-448 65h10m428 20h10m-380 59h10m-10 23h10m0 8h10m19 8h10m224 76h9m-438 95h10"/>
<path stroke="#0000ab" stroke-width="1" d="M295 205.5h10m98 0h19m97 0h10m88 0h10m-341 1h19m20 0h9m49 0h10m165 0h20m-506 1h9m341 0h10m-292 1h9m98 0h10m136 0h10m9 0h10m-341 1h10m39 0h10m19 0h10m204 0h10m39 0h10m126 0h10m-175 1h10m58 0h10m58 0h10m-429 1h10m0 1h10m19 0h10m253 0h10m146 0h10m-302 1h10m39 0h19m39 0h10m39 0h10m19 0h10m9 0h10m-87 1h9m30 0h9m20 0h9m-350 1h10m185 0h9m10 0h10m88 0h19m39 0h10m-39 1h9m108 0h9m-389 1h10m-127 1h10m233 0h10m29 0h10m166 0h9m-467 1h19m30 0h9m137 0h9m39 0h20m156 0h19m-428 1h9m244 0h10m97 0h10m19 0h10m68 0h10m-487 1h10m311 0h10m39 0h19m117 0h10m-282 1h9m10 0h10m146 0h10m-419 1h10m272 0h10m78 0h10m-390 1h10m49 0h39m78 0h9m10 0h10m58 0h10m10 0h9m39 0h10m29 0h10m88 0h9m-379 1h19m29 0h10m195 0h10m-312 1h10m340 0h10m98 0h9m-399 1h10m175 0h10m78 0h9m69 0h9m-340 1h9m10 0h10m58 0h20m117 0h9m166 0h10m-497 1h10m68 0h19m-97 1h19m69 1h29m29 0h10m87 0h10m29 0h10m146 0h10m-409 1h10m39 0h9m88 0h10m58 0h10m-263 1h10m467 0h10m-526 1h19m244 0h10m39 0h9m166 0h19m-477 1h10m49 0h29m29 0h10m253 0h19m30 0h19m10 0h10m-468 1h29m302 0h10m39 0h10m107 0h10m-517 1h10m205 0h9m10 0h10m49 0h9m176 0h9m-360 1h49m87 0h10m78 0h10m68 0h10m9 0h10m-448 1h10m175 0h20m155 0h10m98 0h9m-457 1h9m49 0h10m19 0h10m20 0h29m331 0h10m-312 1h10m48 0h10m59 0h9m29 0h10m10 0h10m-429 1h10m292 0h20m-195 1h10m126 0h20m9 0h10m88 0h9m39 0h10m88 0h10m-400 1h10m10 0h29m19 0h10m117 0h10m156 0h9m-457 1h19m117 0h10m156 0h9m39 0h10m117 0h10m-555 1h29m243 0h10m156 0h9m49 0h10m-497 1h10m78 0h19m185 0h10m29 0h10m-331 1h10m48 0h20m39 0h10m39 0h19m78 0h10m-176 1h10m78 0h10m156 0h9m98 0h9m-477 1h10m88 0h29m10 0h9m39 0h10m19 0h10m39 0h10m-244 1h10m234 0h10m253 0h10m-409 1h39m38 0h20m224 0h10m9 0h10m-380 1h10m39 0h10m68 1h10m58 0h10m58 0h10m49 0h9m-321 1h10m185 0h19m30 0h9m68 0h10m68 0h10m10 0h10m-546 1h10m399 0h10m-419 1h20m311 0h20m39 0h9m88 0h10m-487 1h10m58 0h10m19 0h10m117 0h10m175 0h10m48 0h10m49 0h10m-439 1h20m39 0h10m-69 1h10m39 0h10m39 0h9m10 0h10m78 0h10m77 0h10m-380 1h10m88 0h10m9 0h20m48 0h10m29 0h10m-263 1h10m127 0h9m10 0h10m78 0h9m127 0h10m58 0h20m-458 1h10m126 0h10m10 0h10m194 0h10m39 0h10m78 0h9m-525 1h9m176 0h9m49 0h10m19 0h10m19 0h10m-19 1h9m30 0h9m-87 1h9m39 0h10m117 0h10m-302 1h10m116 0h10m49 0h10m136 0h10m-429 1h10m97 0h10m107 0h20m39 0h9m-321 1h10m87 0h10m49 0h29m68 0h10m88 0h9m107 0h10m-487 1h10m10 0h9m69 0h19m292 0h10m49 0h9m20 0h19m10 0h10m-78 1h10m68 0h10m-526 1h9m390 0h10m-263 1h10m146 0h9m146 0h10m-467 1h9m370 0h10m10 0h10m-429 1h20m48 0h10m175 0h20m195 0h9m-448 1h10m195 0h19m254 0h19m-526 1h10m78 0h19m127 0h10m194 0h10m78 0h20m-478 1h10m59 0h9m10 0h10m78 1h29m107 0h10m48 0h10m-380 1h20m49 0h9m39 0h10m204 0h20m-175 1h9m69 0h9m205 0h10m-487 1h19m351 0h9m-301 1h9m39 0h10m29 0h10m214 0h20m-341 1h10m87 0h20m48 0h10m-302 1h10m10 0h9m88 0h10m234 0h9m10 0h10m9 0h10m107 0h10m-477 1h10m263 0h9m59 0h9m49 0h10m-224 1h29m10 0h19m39 0h10m20 0h9m-350 1h9m49 0h20m48 0h10m68 0h20m117 0h19m117 0h10m-478 1h10m68 0h10m88 0h9m10 0h10m146 0h10m68 0h10m58 0h10m-419 1h10m282 0h10m-428 1h9m176 0h9m49 0h10m48 0h10m-253 1h19m39 0h10m49 0h10m155 0h20m-263 1h29m29 0h10m253 0h10m78 0h19m-321 1h10m68 0h10m107 0h9m-311 1h10m165 0h10m175 0h10m10 0h19m39 0h10m-438 1h9m98 0h9m98 0h19m39 0h10m156 0h10m-468 1h10m39 0h10m272 0h10m78 0h10m-448 1h9m146 0h10m10 0h19m20 0h10m204 0h10m-360 1h19m341 0h10m-448 1h9m10 0h10m39 0h29m136 0h20m58 0h10m88 0h9m30 0h9m-428 1h10m-49 1h19m302 0h10m-360 1h9m205 0h19m69 0h9m20 0h10m48 0h10m107 0h10m-545 1h19m88 0h9m146 0h10m127 0h9m59 0h29m-458 1h10m49 0h10m146 0h9m20 0h10m194 0h10m-496 1h9m59 0h19m20 0h19m20 0h9m20 0h10m19 0h10m58 0h20m116 0h10m-350 1h9m117 0h10m78 0h10m39 0h9m88 0h10m-215 1h10m10 0h10m175 0h19m-389 1h39m19 0h10m49 0h10m38 0h20m-243 1h9m468 0h19m-419 1h10m370 0h10m-458 1h10m175 0h10m68 0h20m19 0h20m204 0h10m-507 1h10m10 0h10m48 0h10m136 0h10m117 0h10m39 0h9m39 0h10m49 0h10m-546 1h10m58 0h30m194 0h10m-292 1h19m20 0h10m48 0h10m-97 1h9m448 0h10m-438 1h10m48 0h10m117 0h10m39 0h19m29 0h10m49 0h9m108 0h29m-516 1h9m156 0h10m312 0h9m-350 1h19m39 0h10m19 0h20m58 0h10m97 0h30m29 0h10m-487 1h9m49 0h10m253 0h10m29 0h10m9 0h10m-233 1h9m88 0h10m39 0h9m30 0h9m39 0h10m78 0h10m-497 1h10m58 1h10m29 0h10m-136 1h9m127 0h19m224 0h10m97 0h39m-496 1h9m20 0h10m19 0h10m175 0h10m78 0h10m68 0h9m-272 1h10m68 0h9m20 0h10m116 0h20m-312 1h10m78 0h10m48 0h10m49 0h10m9 0h10m-341 1h10m10 0h9m322 0h10m9 0h10m-273 1h10m117 0h10m29 0h10m68 0h19m117 0h20m29 0h10m-517 1h10m78 0h20m214 0h10m87 0h10m-224 1h19m166 0h29m29 0h10m-477 1h10m409 0h9m-399 1h10m58 0h10m156 0h29m68 0h10m10 0h9m78 0h10m-438 1h10m9 0h10m214 0h10m117 0h10m9 0h10m29 0h20m-468 1h10m49 0h10m29 0h10m146 0h9m30 0h9m30 0h19m49 0h9m69 0h9m-487 1h20m10 0h19m49 0h19m-78 1h10m136 0h10m59 0h9m137 0h9m10 0h20m-390 1h10m58 0h20m39 0h9m117 0h10m20 0h9m49 0h10m9 0h10m-399 1h10m107 0h10m87 0h10m39 0h19m68 0h20m88 0h9m-525 1h9m107 0h10m234 0h10m165 0h10m-487 1h10m9 0h10m98 0h19m107 0h20m-263 1h9m108 0h9m117 0h29m195 0h10m-448 1h10m68 0h10m77 0h20m156 0h19m-302 1h10m156 0h10m9 0h10m10 0h10m-361 1h10m195 0h19m137 0h9m107 0h10m-341 1h10m78 0h10m-195 1h10m19 0h10m78 0h10m48 0h10m263 0h10m-409 1h9m10 0h29m30 0h9m107 0h10m20 0h9m30 0h9m-117 1h10m195 0h10m-331 1h9m30 0h9m49 0h19m146 0h10m88 0h10m29 0h10m-517 1h10m68 0h10m175 1h10m205 0h9m-399 1h10m49 0h9m20 0h9m147 0h9m127 0h10m9 0h10m-409 1h20m9 1h20m78 0h9m59 0h10m126 0h10m-458 1h10m68 0h10m126 0h10m10 0h10m146 0h9m-389 1h19m30 0h19m59 0h9m10 0h20m48 0h20m48 0h10m29 0h10m97 0h10m49 0h19m-506 1h10m58 0h10m29 0h20m39 0h9m39 0h10m29 0h10m29 0h10m29 0h10m-283 1h20m19 0h20m165 0h10m20 0h9m30 0h9m-253 1h10m-68 1h9m69 0h9m156 0h10m78 0h29m19 0h10m20 0h9m-448 1h10m10 0h19m10 0h10m10 0h9m283 0h9m49 0h20m19 0h10m-380 1h10m195 0h9m156 0h20m29 0h10m-555 1h9m399 0h20m19 0h10m-370 1h10m419 0h9m-477 1h10m68 0h10m10 0h9m59 0h9m59 0h10m58 0h20m68 0h9m-409 1h10m253 0h10m195 0h10m-419 1h10m116 0h10m302 0h10m-507 1h20m146 0h19m10 0h20m19 0h10m224 0h10m29 0h10m-546 1h10m282 0h10m97 0h10m117 0h20m-497 1h10m272 0h10m175 0h20m-468 1h10m39 0h10m39 0h10m87 0h10m156 0h9m30 0h9m20 0h19m10 0h10m-409 1h10m58 0h10m29 0h10m78 0h19m136 0h10m-487 1h10m107 0h20m77 0h10m20 0h19m10 0h10m97 0h10m117 0h9m20 0h10m-478 1h10m20 0h9m146 0h20m-156 1h10m175 0h10m-39 1h10m29 0h10m185 0h9m-418 1h9m127 0h10m39 0h9m30 0h9m20 0h19m10 0h10m29 0h10m19 0h10m39 0h29m10 0h10m-555 1h9m117 0h10m39 0h10m87 0h10m19 0h10m39 0h10m19 0h20m87 0h10m-458 1h10m10 0h10m331 0h9m-370 1h20m29 0h10m49 0h9m137 0h9m98 0h29m10 0h19m39 0h10m-419 1h20m29 0h10m282 0h10m-195 1h10m87 0h20m175 0h20m-526 1h9m20 0h10m39 0h9m156 0h10m29 0h10m68 0h10m-361 1h10m175 0h10m29 0h10m88 0h39m68 0h10m-351 1h20m39 0h19m97 0h10m49 0h10m116 0h10m39 0h20m-555 1h9m273 0h19m10 0h10m19 0h10m156 0h10m-341 1h10m331 0h9m-506 1h10m48 0h20m49 0h9m146 0h30m68 0h9m-282 1h10m87 0h10m10 0h10m19 0h10m19 0h10m185 0h10m39 0h10m-419 1h19m224 0h10m19 0h10m117 0h10m-526 1h10m185 0h9m108 0h19m49 0h9m117 0h10m10 0h10m-478 1h10m20 0h9m69 0h9m156 0h10m117 0h9m49 0h10m-399 1h9m361 0h9m-496 1h9m20 0h10m19 0h10m311 0h20m-428 1h19m19 0h39m127 0h19m39 0h10m59 0h19m39 0h19m88 0h10m10 0h9m10 0h20m-497 1h10m204 0h20m78 0h9m88 0h10m48 0h20m-545 1h9m10 0h10m9 0h10m185 0h10m10 0h19m59 0h9m10 0h20m-273 1h10m185 0h9m49 0h10m175 0h10m-458 1h10m146 0h10m78 0h9m49 0h10m-370 1h9m215 0h9m224 0h10m-438 1h10m9 0h10m78 0h10m29 0h10m214 0h10m-438 1h9m10 0h29m127 0h10m68 0h9m244 0h10m-409 1h9m39 0h20m48 0h10m10 0h10m-127 1h10m19 0h30m68 0h9m78 0h10m88 0h9m-282 1h20m165 0h10m-253 1h9m59 0h10m-88 1h10m9 0h39m117 0h10m68 0h10m10 0h9m49 0h10m29 0h10m-448 1h9m10 0h10m68 0h10m39 0h10m77 0h20m58 0h10m117 0h19m-486 1h29m477 0h10m-478 1h10m49 0h29m10 0h10m39 0h9m29 0h10m20 0h9m49 0h10m68 0h10m29 0h19m-428 1h19m156 0h10m49 0h19m127 0h19m-418 1h9m59 0h9m146 0h20m156 0h29m78 0h10m-507 1h10m127 0h9m20 0h10m48 0h10m29 0h20m185 0h9m-467 1h10m233 0h10m-195 1h20m214 0h10m195 0h19m-302 1h10m29 0h10m214 0h20m-361 1h10m39 0h10m29 0h10m58 0h20m155 0h10m-477 1h10m146 0h29m107 0h10m10 0h9m10 0h10m58 0h10m117 0h10m-380 1h10m116 0h20m10 0h19m39 0h10m136 0h10m-477 1h19m234 0h19m195 0h20m-458 1h10m272 0h10m58 0h20m29 0h10m-477 1h9m117 0h10m20 0h9m156 0h10m87 0h10m-448 1h10m312 0h9m98 0h9m78 0h10m-409 1h10m87 0h20m136 0h10m10 0h9m-272 1h19m59 0h19m49 0h10m165 0h10m-458 1h20m350 0h10m49 0h9m-204 1h10m9 0h10m127 1h9m10 0h10m-292 1h10m185 0h9m39 0h10m88 0h9m-486 1h9m107 0h10m341 0h10m-380 1h10m214 0h10m58 0h10m58 0h10m-399 1h9m30 0h9m20 0h10m39 0h9m107 0h20m224 0h10m-263 1h9m88 0h10m107 0h10m9 0h20m-370 1h10m29 0h9m108 0h9m68 0h10m-350 1h9m-48 1h9m39 0h10m39 0h10m117 0h9m-262 1h19m49 0h19m205 0h9m205 0h10m-341 1h10m97 0h10m146 0h9m49 0h10m-487 1h10m156 0h9m156 0h10m58 0h10m-195 1h20m224 0h9m39 0h10m-497 1h10m88 0h10m224 0h19m146 0h10m-536 1h10m39 0h19m146 0h10m29 0h10m205 0h9m20 0h19m20 0h10m-555 1h9m10 0h19m20 0h10m117 0h9m59 0h39m68 0h10m68 0h19m39 0h10m-487 1h10m39 0h9m185 0h10m29 0h10m127 0h9m98 0h10m-458 1h10m360 0h10m-419 1h49m29 0h10m29 0h10m58 0h10m117 0h9m59 0h9m39 0h10m-389 1h9m49 0h10m156 0h9m68 0h10m117 0h10m-341 1h10m87 0h10m88 0h9m-214 1h10m39 0h10m68 0h10m39 0h9m49 0h10m-438 1h19m351 0h19m156 0h10m-458 1h10m78 0h19m166 0h9m20 0h9m69 0h9m-438 1h10m49 0h9m69 0h9m-39 1h10m253 0h10m58 0h30m29 0h10m-546 1h10m29 0h20m253 0h19m39 0h10m78 0h10m-429 1h10m39 0h10m155 0h10m10 0h10m29 0h10m155 0h10m-117 1h10m146 0h10m-390 1h10m10 0h10m126 0h20m126 0h10m-117 1h10m-263 1h19m205 0h10m48 0h10m49 0h9m-370 1h10m20 0h19m10 0h10m19 0h10m10 0h9m98 0h9m166 0h10m9 0h10m-409 1h10m97 0h10m58 0h10m166 0h9m-447 1h9m39 0h10m10 0h19m117 0h19m-194 1h29m185 0h10m39 0h9m49 0h20m136 0h10m-409 1h9m98 0h9m147 0h9m10 0h19m117 0h10m-526 1h10m117 0h19m107 0h10m88 0h10m38 0h10m20 0h9m-418 1h9m39 0h10m146 0h29m-107 1h10m49 0h9m127 0h10m97 0h10m-390 1h10m156 0h19m69 0h9m39 0h10m29 0h10m-351 1h20m311 0h10m20 0h9m-389 1h29m39 0h10m19 0h10m117 0h10m9 0h20m126 0h10m-380 1h10m20 0h9m59 0h10m48 0h20m39 0h19m68 0h10m127 0h9m-467 1h19m-77 1h9m166 0h10m292 0h9m-409 2h10m98 0h9m88 0h10m29 0h10m68 0h9m-340 1h9m10 0h39m78 0h10m58 0h10m136 0h10m58 0h10m-341 1h10m117 0h19m-272 1h9m39 0h39m137 0h9m-204 1h10m146 0h19m127 0h10m87 0h10m-438 1h9m224 0h10m-224 1h10m97 0h20m39 0h9m20 0h10m68 0h10m-215 1h20m68 0h10m146 0h10m-370 1h9m98 0h9m20 0h10m48 0h20m68 0h10m175 0h10m-400 1h20m88 0h9m49 0h10m243 0h10m-390 1h10m-68 1h10m9 0h10m29 0h20m19 0h20m117 0h9m215 0h9m20 0h10m-390 1h10m48 0h10m166 0h9m10 0h10m-302 1h10m165 0h20m-214 1h9m88 0h10m97 0h10m-273 1h10m458 0h9m-487 1h10m273 1h10m68 0h19m68 0h10m29 0h10m-516 1h10m58 0h10m156 0h9m146 0h10m98 0h9m-282 1h10m9 0h10m205 0h9m-243 1h19m108 0h19m-292 1h10m29 0h19m98 0h9m-175 1h10m273 0h9m78 0h10m49 0h9m-360 1h10m10 0h9m-175 1h10m107 0h10m29 0h10m87 0h20m58 0h20m116 0h10m10 0h10m-370 1h19m185 0h10m78 0h9m-447 1h9m292 0h10m175 0h20m-468 1h10m39 0h20m9 0h10m253 0h10m88 0h9m10 0h10m-458 1h10m146 0h10m136 0h20m-361 1h10m156 0h10m48 0h10m107 0h10m-175 1h9m-117 1h20m302 0h9m-243 1h29m117 1h20m77 0h10m49 0h10m9 0h10m-311 1h9m29 0h10m78 0h10m-117 1h19m30 0h9m-253 1h10m312 0h19m88 0h9m10 0h10m-448 1h10m48 0h20m39 0h10m136 0h10m39 0h9m127 0h10m19 0h10m-438 1h29m292 0h10m136 0h10m-545 1h19m88 0h9m49 0h10m156 0h9m98 0h9m-350 1h10m29 0h10m126 0h10m29 0h10m19 0h10m-302 1h10m165 0h10m234 0h10m-458 1h10m0 1h9m88 0h10m10 0h9m39 0h20m39 0h9m20 0h10m19 0h10m185 0h10m-507 1h20m194 0h10m10 0h10m224 0h29m-321 1h19m78 0h10m68 0h48m-340 1h9m20 0h19m49 0h10m-156 1h10m146 0h10m77 0h10m244 0h29m-458 1h10m29 0h20m48 0h29m185 0h10m-292 1h10m29 0h29m20 0h9m59 0h10m146 0h9m-360 1h29m69 0h9m39 0h10m29 0h10m97 0h20m29 0h10m-127 1h20m9 0h10m97 0h10m-107 1h10m97 0h10m-438 1h9m59 0h10m175 0h10m87 0h20m-146 1h9m108 0h9m20 0h9m-321 1h10m29 0h20m194 0h10m-321 1h9m98 0h10m29 0h10m-176 1h10m88 0h9m166 0h19m137 0h9m49 0h10m-438 1h9m10 0h10m78 0h10m107 0h9m-282 2h10m29 0h10m97 0h10m87 0h10m-224 1h10m-39 1h10m58 0h10m19 0h20m-68 1h9m88 0h10m58 0h10m224 0h10m-322 1h10m282 0h10m-389 1h19m88 0h19m166 0h10m97 0h10m-254 1h10m-224 1h10m136 0h10m39 0h10m48 0h20m29 0h10m156 0h19m-117 1h10m-312 1h10m78 0h10m10 0h9m29 0h10m-195 1h10m273 1h10m68 0h19m-311 1h9m88 0h10m29 0h29m107 0h10m-302 1h10m10 0h19m136 0h10m205 0h9m-389 1h10m87 0h10m88 0h9m-292 1h10m146 0h10m87 0h10m-224 1h10m156 0h19m185 0h20m-30 1h10m68 0h10m-311 1h19m127 0h9m10 0h10m68 0h10m-68 1h9m10 0h10m19 0h10m-282 1h19m175 0h20m-146 1h48m127 0h10m19 0h10m-390 1h10m29 0h10m127 0h9m322 0h10m-370 1h9m10 0h10m233 0h10m-399 1h19m98 0h10m107 0h9m59 0h10m-185 1h19m78 0h10m-137 1h10m78 0h10m-146 1h9m117 0h20m48 0h10m10 0h10m-331 1h9m146 0h10m29 0h10m39 0h10m-253 1h19m97 0h10m-117 1h10m10 1h9m39 0h10m214 0h10m-234 2h10m166 0h9m185 0h10m29 0h20m-78 1h10m48 0h10m39 0h10m-516 1h19m195 0h10m19 0h10m-273 1h10m214 0h10m282 0h10m-292 1h10m19 0h20m-156 1h19m10 0h10m78 1h9m127 0h10m29 0h10m-400 1h20m204 0h10m166 0h9m49 0h10m-156 1h10m-244 1h10m-97 1h9m39 0h10m49 0h10m29 0h10m77 0h10m185 0h10m19 0h10m-224 1h10m-156 1h20m194 0h10m-302 1h10m156 0h9m254 0h9m-379 1h9m185 0h20m156 1h9m-379 1h9m-78 1h10m156 0h10m165 0h10m-302 1h10m78 0h10m185 0h9m-97 1h10m97 0h10m48 0h10m-399 1h10m29 0h19m390 0h10m-516 1h9m205 0h9m127 0h29m-272 1h9m-107 1h10m146 0h10m87 0h20m136 0h29m-379 1h9m108 0h19m49 0h9m254 0h9m-516 1h20m175 0h10m107 0h10m175 0h19m-477 1h10m409 0h10m-439 1h20m477 0h10m-507 1h10m224 0h20m39 0h19m185 0h20m-555 1h19m331 0h10m58 0h10m49 0h9m10 0h10m-477 1h9m49 0h10m204 0h10m20 0h29m165 0h10m-467 1h9m468 1h10m-458 1h10m292 0h9m30 0h19m-311 1h9m30 0h9m88 0h10m116 0h10m-282 1h10m204 0h10m-68 1h9m88 0h10m-185 1h9m293 0h19m-185 1h10m48 0h20m19 0h10m-457 1h9m361 0h9m127 0h10m-409 1h9m341 0h20m-400 1h10m29 0h10m107 0h10m224 0h10m-419 1h10m87 0h20m10 0h9m49 0h10m126 0h10m10 0h9m-389 1h10m448 0h9m-477 1h10m136 0h10m29 0h10m204 0h10m-360 1h10m146 0h9m-214 1h10m204 0h10m10 0h10m117 0h29m78 0h19m-428 1h9m283 0h10m19 0h10m87 0h10m-428 1h19m419 2h19m20 0h10m-341 1h19m98 0h9m10 0h10m107 0h10m-400 1h20m29 0h10m156 0h9m107 0h10m107 0h10m-448 1h10m10 0h9m244 0h10m9 0h10m29 0h10m29 0h10m19 0h10m-204 1h19m10 0h10m19 0h10m78 0h19m-311 1h9m176 0h9m107 0h20m-467 1h9m98 0h9m78 0h20m185 0h9m-253 1h30m48 0h10m224 0h10m-351 1h10m78 0h9m-214 1h10m214 0h10m88 0h19m-49 1h10m214 0h10m-302 1h29m137 0h9m-399 1h10m380 0h19m-418 1h9m10 0h10m78 0h9m49 0h20m165 0h10m-302 1h10m29 0h19m10 0h10m224 0h10m136 0h10m-478 1h10m214 1h10m29 0h10m10 0h10m19 0h10m-214 1h9m59 0h9m224 0h10m68 0h10m-487 1h10m39 0h10m97 0h10m97 0h10m107 0h10m29 0h10m39 0h9m-428 1h19m20 0h10m87 0h10m-136 1h9m224 0h10m88 0h9m10 0h10m-390 1h20m58 0h10m10 0h10m223 0h10m-282 1h10m194 1h10m29 0h20m19 0h10m58 0h10m-234 1h10m-78 1h20m224 0h19m59 0h9m-506 1h10m19 0h20m58 0h10m97 0h10m88 0h9m59 0h9m39 0h10m-399 1h10m48 0h10m107 0h20m224 0h9m-448 1h10m292 0h10m10 0h10m48 0h10m29 0h20m39 0h9m10 0h10m-419 1h10m195 0h9m146 0h20m-438 1h9m215 0h9m20 0h19m166 0h10m-341 1h10m116 0h10m117 0h10m97 0h10m-526 1h10m68 0h19m195 0h10m39 0h10m107 0h9m-477 1h10m19 0h10m195 0h10m39 0h9m20 0h19m185 0h10m-117 1h10m-419 1h10m39 0h19m108 0h9m39 0h10m97 0h10m-195 1h10m58 0h10m146 0h10m-166 1h30m107 0h10m-244 1h10m107 0h10m48 0h10m-156 1h10m68 0h10m185 0h10m-370 1h9m302 0h10m88 1h9m-448 1h10m49 0h10m185 0h9m195 0h10m-497 1h10m10 0h9m419 0h10m68 2h10m-390 1h20m97 0h10m156 0h9m-321 1h10m29 0h10m165 0h10m78 0h10m-380 1h10m263 0h19m117 0h10m-477 1h9m29 0h20m78 0h10m48 0h20m214 0h10m87 0h10m-253 1h10m214 0h10m-487 1h9m205 0h19m-262 1h9m127 0h10m185 0h9m20 0h19m20 0h9m30 0h19m-399 1h10m350 0h10m-312 1h10m68 0h20m29 0h19m146 0h10m68 0h10m-487 1h10m10 0h19m195 0h10m9 1h10m39 0h20m97 0h19m30 0h9m10 0h10m-477 1h9m20 0h10m233 0h20m10 0h9m166 0h19m-389 1h10m262 0h10m-272 1h9m263 0h10m-39 1h10m-370 1h9m10 1h10m19 0h20m97 0h10m29 0h10m88 0h9m20 0h10m38 0h20m58 0h10m-428 1h19m10 0h10m97 0h19m156 0h20m-399 1h9m10 0h10m97 0h10m10 0h9m-87 2h9m390 0h10m-234 1h10m194 0h10m59 1h9m-399 1h10m97 0h10m224 0h10m-292 1h9m195 0h10m19 0h10m49 0h9m10 0h10m-487 1h10m29 0h10m272 0h10m136 1h10m-331 1h20m116 0h10m-214 1h10m97 0h19m49 0h20"/>
<path stroke="#0000ab" stroke-width="2" d="M558 217h10m-39 12h10m-59 2h10m0 2h10m-351 1h20m-88 3h10m204 1h10m-39 4h10m-166 5h10m117 0h10m214 1h10m-351 2h10m448 0h10m-487 3h19m273 4h10m136 4h10m-195 1h10m233 0h10m-341 1h10m-195 3h10m428 2h10m49 0h10m-273 2h10m204 3h10m-49 6h10m-214 1h9m88 7h10m195 0h9m-457 2h9m98 0h10m175 1h10m-185 26h9m283 2h9m-331 1h10m58 2h10m166 1h9m-77 4h9m176 0h9m-78 3h10m-156 3h10m-68 3h10m-59 2h10m29 2h10m29 3h10m107 0h10m-49 4h10m58 1h10m-399 2h19m117 1h10m87 2h10m-224 1h10m49 3h9m127 6h10m-185 2h9m361 5h9m-301 1h9m244 2h9m-214 3h10m49 2h19m166 3h9m-175 2h10m39 4h10m-117 2h9m263 1h20m-321 1h9m-29 3h10m48 2h10m312 0h10m-370 3h9m-146 3h10m243 0h10m-234 6h10m0 3h10m448 5h10m-380 2h10m-78 3h9m20 0h10m77 3h10m-29 1h10m-39 1h10m-10 3h10m19 0h10m9 1h10m-185 1h10m107 2h10m311 5h10m-49 1h20m-399 3h9m78 5h10m107 3h10m-214 17h19m146 0h10m68 4h10m175 4h10m-205 2h10m234 2h10m-439 4h10m302 4h10m-185 2h9m10 0h10m-263 1h10m418 5h10m-126 2h9m-39 3h10m10 6h10m77 0h10m-389 1h9m380 2h10m117 0h10m-468 2h10m-97 4h9m448 8h10m-136 3h9m59 3h9m-350 4h10m29 4h10m311 1h10m-302 4h10m185 0h10m77 1h10m68 0h10m-370 9h10m146 7h10m-10 12h10m-176 3h10m78 1h10m292 0h10m-215 1h10m-224 1h10m-88 1h10m516 0h10m-458 4h10m448 0h10m-487 1h9m108 2h9m117 1h10m-312 2h10m234 0h9m-77 2h9m68 0h10m59 2h9m117 3h10m-59 3h10m-87 4h9m-224 2h10m-58 3h19m68 0h10m0 2h10m243 10h10m0 2h10m-400 1h10m341 0h10m39 1h9m88 2h10m-302 25h10m243 2h10m-438 2h9m341 7h10m-117 4h10m214 3h10m-438 1h9m-39 1h10m156 0h10m9 0h10m117 1h10m-361 8h10m380 2h10m-438 15h9m195 0h10m68 0h10m48 0h10"/>
<path stroke="#0000ab" stroke-width="3" d="M227 274.5h10m263 12h10m-438 34h9m195 1h10m-107 16h9m-97 6h10m418 50h10m-214 65h10m-117 10h10m204 5h10m10 5h9m146 4h10m-204 18h9m-155 3h9m263 71h10m-331 11h10m9 1h10m302 3h10m-39 43h9m-243 14h10m331 16h10m-526 32h9"/>
<path stroke="#0000ab" stroke-width="4" d="M208 504h10"/>
<path stroke="#0000b9" stroke-width="1" d="M120 205.5h10m10 0h9m78 0h10m29 0h10m58 0h10m136 0h10m10 0h10m19 0h10m19 0h10m29 0h20m-536 1h20m29 0h10m9 0h20m136 0h10m58 0h10m20 0h9m39 0h10m19 0h20m49 0h9m-292 1h10m10 0h19m234 0h10m48 0h10m-535 1h9m78 0h10m88 0h38m49 0h10m-185 1h10m97 0h10m9 0h10m10 0h10m9 0h10m39 0h10m146 0h10m-390 1h10m88 0h9m49 0h19m78 0h10m29 0h10m146 0h10m-545 1h9m78 0h20m165 0h10m-185 1h10m58 0h10m29 0h10m214 0h10m48 0h10m-409 1h29m156 0h10m156 0h9m78 0h10m-516 1h19m10 0h20m48 0h10m20 0h9m39 0h10m10 0h9m30 0h9m98 0h10m9 0h10m117 0h10m19 0h10m-545 1h9m20 0h19m59 0h19m185 0h10m68 0h19m78 0h10m-399 1h10m19 0h10m136 0h10m97 0h10m39 0h19m-243 1h29m283 0h9m-321 1h10m97 0h20m-224 1h9m137 0h9m30 0h9m78 0h10m19 0h10m-418 1h9m117 0h10m49 0h9m205 0h9m98 0h10m-293 1h10m10 0h10m29 0h10m116 0h10m-117 1h30m19 0h10m39 0h9m-340 1h19m68 0h10m107 0h10m29 0h10m107 0h19m30 0h9m-486 1h9m49 0h10m146 0h29m58 0h10m136 0h10m78 0h10m-487 1h29m39 0h10m10 0h9m10 0h10m19 0h29m224 0h30m-429 1h10m10 0h9m30 0h9m20 0h19m205 0h10m-361 1h10m10 0h9m78 0h10m20 0h9m88 0h10m253 0h10m19 0h10m-409 1h10m9 0h10m351 0h9m-457 1h19m146 0h10m127 0h19m117 0h10m-516 1h9m117 0h10m136 0h20m39 0h9m195 0h10m-545 1h19m19 0h10m146 0h10m224 0h10m-361 1h10m68 0h10m20 0h9m127 0h19m156 0h10m10 0h9m-68 1h10m10 0h9m-389 1h19m156 0h10m10 0h9m39 0h10m58 0h10m49 0h29m29 0h10m-516 1h10m68 0h10m48 0h10m205 0h9m117 0h10m-419 1h20m78 0h19m214 0h10m10 0h9m10 0h10m-448 1h10m39 0h9m331 0h10m107 0h20m-507 1h10m195 0h10m87 0h10m29 0h10m-204 1h9m29 0h10m20 0h9m156 0h10m58 0h10m-496 1h9m88 0h10m126 0h10m107 0h20m-234 1h10m58 0h10m97 0h10m29 0h10m58 0h10m19 0h10m-214 1h19m30 0h19m49 0h10m19 0h10m-390 1h20m19 0h10m136 0h10m29 0h10m10 0h19m185 0h10m-419 1h29m127 0h10m97 0h29m20 0h10m29 0h9m10 0h10m10 0h9m78 0h10m-487 1h20m19 0h10m58 0h20m39 0h9m20 0h10m233 0h10m-467 1h9m20 0h10m29 0h19m244 0h10m-370 1h9m176 0h9m98 0h9m176 0h19m-496 1h19m10 0h19m49 0h10m48 0h10m39 0h10m19 0h20m117 0h9m-341 1h10m29 0h20m29 0h10m185 0h10m29 0h10m97 0h10m39 0h9m-467 1h10m19 0h10m88 0h9m331 0h10m-467 1h9m146 0h20m165 0h10m-370 1h10m39 0h10m175 0h19m176 0h9m20 0h10m-429 1h29m10 0h10m19 0h10m136 0h20m39 0h10m29 0h9m49 0h20m39 0h9m-506 1h10m39 0h9m39 0h10m39 0h10m87 0h20m68 0h10m10 0h9m68 0h10m20 0h39m-478 1h10m351 0h9m10 0h29m-321 1h10m253 0h10m9 0h10m49 0h19m49 0h10m-185 1h19m78 0h10m19 0h10m-467 1h9m88 0h10m117 0h9m88 0h10m58 0h10m-243 1h9m-117 1h10m10 0h10m29 0h10m9 0h10m58 0h10m29 0h10m98 0h9m-370 1h10m214 0h10m78 0h10m48 0h20m97 0h20m29 0h10m-400 1h10m107 0h10m117 0h19m-418 1h9m127 0h10m77 0h10m20 0h9m88 0h10m29 0h10m39 0h9m-360 1h10m156 0h19m39 0h10m10 0h9m30 0h9m29 0h10m127 0h10m-458 1h10m9 0h20m87 0h10m117 0h20m9 0h29m20 0h10m9 0h10m20 0h9m49 0h10m-545 1h9m137 0h9m137 0h9m20 0h10m48 0h20m19 0h10m10 0h9m-447 1h19m39 0h10m117 0h9m39 0h10m10 0h9m49 0h10m-292 1h19m127 0h10m9 0h20m78 0h9m156 0h10m10 0h9m-379 1h9m176 0h29m175 0h29m-506 1h10m272 0h39m10 0h10m10 0h9m88 0h10m19 0h10m19 0h10m-428 1h9m59 0h10m19 0h10m9 0h10m10 0h10m29 0h10m19 0h10m156 0h19m39 0h10m-448 1h19m78 0h10m136 1h20m10 0h9m-360 1h10m107 0h19m127 0h19m20 0h10m155 0h10m-467 1h9m30 0h9m166 0h10m29 0h10m48 0h20m39 0h9m78 0h30m9 0h10m-487 1h10m39 0h10m48 0h10m29 0h20m48 0h20m49 0h9m49 0h10m-214 1h19m214 0h10m29 0h39m29 0h10m-448 1h10m117 0h9m10 0h10m19 0h10m98 0h9m10 0h10m29 0h10m19 0h20m-439 1h10m39 0h20m29 0h19m10 0h10m29 0h10m107 0h10m-312 1h10m204 0h10m19 0h20m185 0h10m9 0h10m-428 1h9m78 0h20m146 0h10m48 0h20m136 0h10m-458 1h10m204 0h10m29 0h10m29 0h10m-282 1h29m68 0h10m39 0h9m20 0h19m176 0h9m-389 1h10m78 0h9m195 0h10m68 0h19m30 0h9m-389 1h10m19 0h29m39 0h10m175 0h10m19 0h30m-263 1h9m20 0h10m29 0h19m20 0h10m9 0h10m20 0h19m19 0h10m-389 1h9m49 0h10m78 0h19m78 0h10m97 0h10m136 0h20m-507 1h20m107 0h10m48 0h10m20 0h9m127 0h10m117 0h9m-467 1h10m58 0h10m10 0h9m88 0h10m146 0h9m-223 1h9m68 0h10m-263 1h10m10 0h9m137 0h10m68 0h9m10 0h10m126 0h10m107 0h10m-458 1h20m10 0h9m195 0h10m126 0h20m29 0h10m10 0h9m-516 1h10m39 0h10m97 0h20m97 0h10m29 0h10m39 0h29m58 0h10m-78 1h10m48 0h30m9 0h10m20 0h9m-477 1h10m49 0h9m88 0h10m68 0h10m175 0h10m29 0h10m-205 1h10m19 0h10m88 0h9m-447 1h9m205 0h9m10 0h20m68 0h19m10 0h10m87 0h10m-321 1h19m39 0h10m107 1h10m39 0h10m58 0h10m-419 1h39m273 0h19m68 0h10m68 0h10m19 0h20m-458 1h10m29 0h10m19 0h10m107 0h10m39 0h19m68 0h20m-419 1h10m58 0h10m195 0h10m39 0h9m30 0h9m-360 1h10m233 0h10m166 0h9m10 0h29m39 0h10m-448 1h10m146 0h19m10 0h10m19 0h10m10 0h10m126 0h10m-399 1h19m20 0h19m88 0h19m10 0h10m146 0h19m107 0h10m-497 1h10m88 0h10m9 0h10m20 0h9m59 0h9m166 0h10m48 0h10m-438 1h10m9 0h10m59 0h9m20 0h10m38 0h10m29 0h20m78 0h10m87 0h10m39 0h19m-487 1h10m20 0h9m117 0h10m29 0h10m58 0h10m20 0h19m175 0h10m-487 1h10m156 0h9m254 0h19m-438 1h19m88 0h10m136 0h10m195 0h9m-516 1h10m29 0h10m10 0h9m20 0h10m214 0h19m127 0h10m-439 1h10m20 0h19m59 0h9m137 0h9m156 0h20m68 0h10m-419 1h19m10 0h10m68 0h19m39 0h10m49 0h10m38 0h10m-418 1h9m29 0h20m146 0h10m117 0h9m117 0h20m39 0h9m20 0h10m-478 1h10m88 0h10m9 0h10m97 0h20m29 0h10m29 0h10m87 0h10m-487 1h10m39 0h10m48 0h10m127 0h9m78 0h10m88 0h9m69 0h9m-477 1h10m292 0h10m-360 1h9m107 0h10m166 0h9m166 0h10m-273 1h10m39 0h9m88 0h10m29 0h10m19 0h10m-390 1h20m204 0h10m10 0h10m39 0h9m39 0h10m78 0h19m-467 1h10m78 0h9m137 0h9m98 0h10m77 0h10m-448 1h10m10 0h9m20 0h29m29 0h10m156 0h10m39 0h9m30 0h9m98 0h9m-467 1h10m117 0h19m156 0h29m127 0h19m-487 1h10m49 0h9m156 0h10m88 0h9m88 0h10m29 0h19m-486 1h9m117 0h10m156 0h9m117 0h20m58 0h10m-409 1h19m49 0h10m58 0h10m19 0h10m127 0h9m20 0h10m19 0h10m-467 1h9m176 0h9m49 0h10m78 0h9m107 0h10m-389 1h9m49 0h10m107 0h19m10 0h10m29 0h10m156 0h9m-486 1h9m20 0h9m185 0h20m195 0h9m39 0h10m20 0h9m10 0h10m-526 1h19m147 0h9m39 0h10m10 0h9m20 0h10m9 0h20m97 0h20m9 0h10m29 0h20m-468 1h10m127 0h10m165 0h10m156 0h19m-487 1h10m29 0h10m68 0h20m58 0h10m194 0h10m-448 1h10m10 0h9m20 0h10m29 0h10m233 0h10m78 0h10m19 0h10m-467 1h19m49 0h9m195 0h20m185 0h9m59 0h10m-536 1h10m48 0h10m20 0h9m409 0h20m-419 1h10m195 0h9m68 0h10m10 0h10m29 0h10m19 0h20m29 0h10m-468 1h10m58 0h30m19 0h10m126 0h10m20 0h9m127 0h19m-467 1h29m39 0h10m39 0h29m19 0h10m68 0h10m39 0h20m107 0h9m-457 1h29m302 0h19m88 0h29m10 0h10m-59 1h20m39 0h19m10 0h10m-224 1h9m10 0h20m165 0h10m-438 1h9m146 0h10m29 0h10m97 0h10m-331 1h10m88 0h9m39 0h10m214 0h10m78 0h10m-546 1h10m49 0h19m146 0h29m88 0h10m10 0h19m49 0h9m20 0h10m29 0h10m19 0h20m-458 1h10m29 0h19m166 0h10m29 0h10m-351 1h10m156 0h19m29 0h10m-243 1h9m29 0h20m78 0h19m88 0h10m97 0h20m19 0h19m127 0h10m-390 1h10m68 0h10m29 0h10m175 0h20m-302 1h10m58 0h10m29 0h10m107 0h9m20 0h10m19 0h10m-419 1h20m39 0h9m302 0h10m68 0h10m29 0h10m-487 1h10m204 0h10m107 0h10m-390 1h10m204 0h20m39 0h10m97 0h19m-408 1h9m20 0h9m156 0h10m127 0h9m20 0h10m77 0h10m39 0h10m29 0h10m-380 1h10m97 0h10m97 0h10m19 0h10m59 0h9m-311 1h10m29 0h9m147 0h9m68 0h10m10 0h10m-312 1h10m10 0h9m59 0h9m49 0h20m9 0h20m156 0h9m10 0h10m-497 1h20m19 0h10m29 0h10m19 0h10m39 0h10m39 0h19m10 0h10m-283 1h10m29 0h10m185 0h10m9 0h10m59 0h9m20 0h10m97 0h10m-458 1h10m136 0h10m58 0h10m185 0h10m19 0h10m39 0h29m-448 1h10m126 0h20m58 0h10m39 0h10m-302 1h10m58 0h10m97 0h10m-127 1h10m29 0h10m58 0h10m68 0h10m59 0h19m97 0h10m10 0h10m-507 1h20m29 0h10m233 0h30m29 0h10m9 0h20m-380 1h10m97 0h10m126 0h10m20 0h9m78 0h10m107 0h20m-516 1h9m49 0h19m137 0h9m59 0h10m29 0h10m19 0h10m48 0h10m-341 1h20m350 0h30m-429 1h10m68 0h10m10 0h9m107 0h10m78 0h20m19 0h29m98 0h19m10 0h10m-370 1h9m98 0h9m10 0h10m39 0h10m19 0h10m19 0h20m-351 1h10m88 0h19m19 0h10m68 0h10m136 0h20m49 0h9m-448 1h10m156 0h19m20 0h10m107 0h9m10 0h10m68 0h10m-429 1h20m88 0h9m78 0h29m205 0h10m29 0h10m-497 1h10m233 0h20m19 0h10m39 0h10m126 0h10m-526 1h10m175 0h10m10 0h9m59 0h19m166 0h10m48 0h20m-516 1h9m59 0h10m97 0h10m78 0h9m30 0h29m117 0h9m20 0h10m-507 1h20m156 0h9m137 0h9m49 0h10m78 0h29m-506 1h9m29 0h10m59 0h9m117 0h20m39 0h9m20 0h19m107 0h10m-302 1h10m10 0h10m9 0h10m107 0h10m39 0h10m19 0h10m19 0h20m87 0h10m-506 1h19m78 0h20m77 0h10m68 0h10m68 0h10m49 0h19m39 0h10m-321 1h9m10 0h10m19 0h10m204 0h10m20 0h9m20 0h10m-380 1h10m29 0h10m29 0h9m20 0h10m48 0h10m59 0h9m29 0h10m10 0h10m58 0h10m39 0h10m-302 1h9m-116 1h9m39 0h20m78 0h9m224 0h10m-526 1h20m126 0h20m48 0h20m29 0h20m29 0h10m107 0h19m39 0h10m-468 1h10m351 0h19m20 0h9m-214 1h10m29 0h10m10 0h9m30 0h9m137 0h9m30 0h9m-360 1h10m39 0h9m39 0h10m10 0h19m10 0h10m58 0h10m68 0h10m29 0h20m-478 1h10m127 0h19m49 0h10m136 0h10m39 0h39m9 0h20m29 0h10m-536 1h10m10 0h9m10 0h20m19 0h10m214 0h10m107 0h10m68 0h10m29 0h10m-507 1h10m10 0h9m49 0h10m302 0h9m30 0h9m39 0h10m-214 1h10m58 0h10m-390 1h20m29 0h10m19 0h10m68 0h10m126 0h39m30 0h9m20 0h9m30 0h9m39 0h10m-399 1h10m39 0h9m361 0h9m-467 1h10m19 0h10m29 0h10m87 0h10m39 0h10m78 0h10m19 0h10m126 0h10m-526 1h10m58 0h10m29 0h30m9 0h20m233 0h10m-399 1h10m97 0h20m68 0h9m10 0h10m146 0h10m-370 1h9m78 0h20m87 0h10m20 0h9m88 0h10m-360 1h9m29 0h10m39 0h20m116 0h30m9 0h10m107 0h29m49 0h10m10 0h9m-477 1h10m39 0h10m9 0h10m39 0h10m39 0h10m38 0h10m39 0h10m10 0h19m59 0h9m29 0h10m127 0h10m-370 1h9m39 0h10m-185 1h10m117 0h19m88 0h9m10 0h20m68 0h19m78 0h10m29 0h10m-545 1h9m49 0h19m30 0h9m78 0h20m9 0h10m49 0h19m10 0h10m39 0h10m107 0h9m10 0h20m-497 1h10m9 0h20m10 0h9m39 0h10m136 0h10m29 0h20m29 0h10m10 0h9m10 0h10m9 0h10m88 0h19m-360 1h10m29 0h10m29 0h10m58 0h10m107 0h10m19 0h20m39 0h9m-457 1h9m117 0h10m185 0h10m39 0h9m49 0h10m-283 1h10m185 0h20m39 0h9m20 0h10m29 0h10m-458 1h19m30 0h9m39 0h20m48 0h59m19 0h10m117 0h10m19 0h10m-438 1h9m20 0h10m194 0h20m29 0h10m-322 1h20m29 0h10m58 0h20m360 0h10m-526 1h10m107 0h10m39 0h9m88 0h10m-49 1h10m58 0h10m10 0h9m78 0h10m-380 1h20m58 0h10m243 0h10m10 0h9m88 0h10m-448 1h10m48 0h10m10 0h10m204 0h20m68 0h9m-262 1h9m20 0h9m244 0h10m-380 1h10m48 0h10m29 0h20m78 0h9m137 0h9m69 0h9m-516 1h10m195 0h9m59 0h10m9 0h10m195 0h10m-487 1h19m49 0h10m185 0h19m68 0h10m146 0h10m-477 1h9m30 0h9m107 0h10m10 0h10m58 0h10m156 0h19m20 0h9m20 0h10m-536 1h10m243 0h10m49 0h9m39 0h10m68 0h10m68 0h20m-555 1h9m214 0h10m107 0h10m20 0h9m68 0h10m49 0h10m19 0h10m-536 1h10m29 0h20m19 0h20m185 0h9m107 0h20m117 0h10m-507 1h10m49 0h9m88 0h10m58 0h20m19 0h10m29 0h10m29 0h10m117 0h9m-379 1h19m29 0h10m10 0h9m20 0h10m29 0h10m214 0h10m-448 1h9m39 0h10m146 0h20m29 0h10m146 0h9m49 0h10m-477 1h29m88 0h19m39 0h10m39 0h9m69 0h9m-165 1h9m49 0h10m19 0h10m234 0h10m-555 1h9m146 0h10m10 0h10m19 0h10m165 0h10m-282 1h9m69 0h9m49 0h10m9 0h20m19 0h20m175 0h10m-487 1h29m107 0h10m29 0h10m10 0h9m176 0h9m10 0h29m-301 1h9m98 0h9m215 0h9m-311 1h10m9 0h10m263 0h10m-468 1h29m10 0h10m19 0h10m20 0h9m20 0h10m155 0h10m39 0h10m97 0h10m-312 1h10m20 0h9m107 0h20m-321 1h9m107 0h10m39 0h10m68 0h10m194 0h10m20 0h19m-467 1h9m215 0h9m49 0h20m39 0h9m20 0h9m30 0h9m39 0h20m10 0h9m-506 1h10m29 0h10m39 0h19m10 0h29m20 0h9m224 0h10m-312 1h20m19 0h10m166 0h9m10 0h10m97 0h10m-458 1h20m39 0h9m39 0h10m136 0h20m39 0h10m136 0h19m59 0h10m-244 1h10m97 0h10m-399 1h9m98 0h10m39 0h19m224 0h10m9 0h20m-438 1h19m10 0h10m9 0h10m78 0h20m29 0h9m244 0h10m68 0h10m-517 1h10m137 0h29m68 0h10m-224 1h9m49 0h10m97 0h10m19 0h20m78 0h10m136 0h19m20 0h10m-419 1h10m165 0h10m68 0h19m39 0h10m78 0h10m0 1h10m-546 1h10m39 0h10m272 0h10m-117 1h10m195 0h9m59 0h10m-468 1h10m97 0h10m20 0h9m283 0h9m-477 1h10m263 0h10m155 0h20m19 0h10m-448 1h10m58 0h20m78 0h9m69 0h9m20 0h10m97 0h10m9 0h10m20 0h19m49 0h10m-546 1h10m360 0h10m58 0h20m19 0h10m20 0h9m-428 1h10m78 0h9m205 0h19m10 0h10m58 0h10m19 0h10m-331 1h19m39 0h10m-272 1h9m146 0h10m107 0h10m49 0h9m176 0h19m10 0h10m-546 1h10m68 0h10m10 0h9m30 0h9m39 0h10m39 0h10m175 0h10m-370 1h29m19 0h10m263 0h19m78 0h10m-487 1h10m253 0h10m88 0h9m20 0h9m49 0h20m48 0h10m-487 1h10m88 0h9m30 0h9m127 0h10m29 0h10m48 0h20m29 0h10m68 0h10m-468 1h10m39 0h19m351 0h10m-507 1h10m68 0h29m10 0h10m97 0h10m68 0h39m10 0h10m48 0h10m19 0h10m-428 1h9m78 0h20m107 0h19m69 0h9m30 0h9m29 0h10m88 0h10m-507 1h10m68 0h10m29 0h10m10 0h9m107 0h10m117 0h19m20 0h19m30 0h9m-409 1h10m20 0h9m39 0h10m263 0h10m78 0h9m-516 1h10m68 0h10m88 0h19m195 0h9m30 0h9m-233 1h9m98 0h10m58 0h10m29 0h10m39 0h9m-438 1h10m29 0h20m48 0h10m39 0h10m9 0h10m10 0h10m126 0h10m49 0h9m39 0h10m-409 1h29m10 0h10m234 0h29m48 0h20m-321 1h9m68 0h10m107 0h20m78 0h9m10 0h10m39 0h10m-516 1h9m39 0h10m39 0h10m58 0h10m68 0h19m-116 1h19m156 0h10m19 0h10m87 0h10m-360 1h10m136 0h10m68 0h29m39 0h10m-234 1h10m19 0h20m29 0h19m30 0h9m20 0h10m9 0h10m88 0h9m98 0h10m-555 1h9m10 0h10m156 0h9m20 0h9m30 0h9m127 0h10m107 0h10m-478 1h10m29 0h20m78 0h10m38 0h10m166 0h19m88 0h19m-496 1h9m176 0h9m30 0h9m137 0h9m10 0h20m9 0h30m-477 1h19m136 0h10m185 0h10m19 0h10m39 0h10m48 0h10m-428 1h9m10 0h10m117 0h9m88 0h10m97 0h10m10 0h9m59 0h10m9 0h20m-292 1h9m137 0h9m127 0h10m-156 1h10m29 0h10m-380 1h19m49 0h10m29 0h10m48 0h10m39 0h20m-224 1h19m68 0h20m97 0h10m29 0h10m175 0h10m-341 1h10m48 0h10m253 0h10m39 0h10m-516 1h19m205 0h9m49 0h10m10 0h9m20 0h10m-273 1h10m29 0h10m48 0h10m88 0h9m146 0h10m-370 1h20m19 0h10m29 0h29m78 0h10m10 0h19m166 0h9m39 0h10m-487 1h10m165 0h10m68 0h10m78 0h10m58 0h10m19 0h10m10 0h10m29 0h10m-487 1h19m10 0h10m78 0h9m166 0h10m68 0h9m-360 1h20m175 0h10m97 0h10m-390 1h10m10 0h9m137 0h10m194 0h10m127 0h9m-302 1h10m10 0h10m155 0h20m-312 1h10m156 0h10m97 0h10m9 0h10m20 0h9m39 0h10m-370 1h10m19 0h10m20 0h19m78 0h19m156 0h10m10 0h9m-477 1h10m195 0h9m98 0h10m116 0h10m68 0h10m-389 1h9m10 0h20m87 0h10m97 0h20m39 0h9m49 0h10m-409 1h10m136 0h10m39 0h9m88 0h10m19 0h20m87 0h10m-428 1h9m137 0h9m20 0h10m48 0h10m195 0h10m-497 1h10m48 0h10m68 0h10m29 0h10m214 0h10m-399 1h9m98 0h10m165 0h20m29 0h9m69 0h9m-457 1h19m214 0h10m88 0h10m116 0h10m-487 1h10m10 0h9m137 0h10m165 0h10m117 0h19m29 0h10m-243 1h9m137 0h9m49 0h10m-438 1h9m156 0h10m29 0h10m78 0h10m58 0h10m39 0h9m49 0h10m-507 1h30m126 0h20m107 0h19m39 0h10m-341 1h10m19 0h10m205 0h19m-311 1h9m117 0h10m39 0h10m38 0h10m137 0h9m-341 1h30m175 0h29m166 0h19m78 0h20m-468 1h10m19 0h10m224 0h10m19 0h10m29 0h10m-428 1h9m146 0h10m136 0h10m29 0h20m-156 1h10m214 0h10m48 0h10m29 0h10m-428 1h9m30 0h9m10 0h10m126 0h10m78 0h19m137 0h10m-555 1h9m68 0h10m263 0h10m48 0h10m59 0h9m39 0h10m-526 1h10m175 0h10m58 0h10m49 0h19m20 0h10m68 0h9m49 0h20m-516 1h9m312 0h10m39 0h19m127 0h9m20 0h10m-487 1h9m30 0h9m292 0h10m29 0h10m20 0h9m-477 1h10m78 0h19m30 0h9m312 0h10m48 0h10m-467 1h9m59 0h10m136 0h10m9 0h20m204 0h30m-487 1h29m321 0h20m9 0h10m-438 1h10m126 0h30m58 0h10m58 0h10m49 0h9m29 0h10m-263 1h10m117 0h10m-254 1h10m10 0h10m155 0h10m244 0h9m30 0h9m-525 1h9m224 0h10m-175 1h19m10 0h10m29 0h10m282 0h29m10 0h10m-390 1h10m19 0h10m117 0h10m117 0h9m68 0h10m88 0h10m-487 1h39m58 0h10m48 0h10m39 0h10m68 0h20m19 0h10m-322 2h20m165 0h10m146 0h10m78 0h10m-487 1h9m78 0h10m39 0h10m146 0h10m-273 1h10m107 0h10m87 0h10m146 0h10m-438 1h9m20 0h9m302 0h10m-243 1h9m49 0h20m185 0h9m20 0h9m69 0h19m-438 1h19m108 0h19m19 0h10m59 0h9m10 0h10m-224 1h29m156 0h10m107 0h9m-408 1h29m136 0h10m97 0h20m39 0h9m137 0h29m-477 1h9m49 0h10m68 0h20m38 0h10m88 0h10m136 0h10m-477 1h9m68 0h10m10 0h10m58 0h10m107 0h10m185 0h9m-263 1h10m88 0h10m19 0h10m-322 1h20m29 0h10m136 0h10m185 0h10m78 0h9m-525 1h9m117 0h10m87 0h10m10 0h10m233 0h10m-360 1h10m204 0h20m-293 1h10m88 0h19m244 0h9m30 0h9m-243 1h10m136 0h10m78 0h19m-302 1h10m49 0h9m20 0h10m58 0h10m-351 1h10m146 0h39m10 0h9m20 0h10m117 0h9m20 0h9m20 0h10m-438 1h9m98 0h19m68 0h10m97 0h10m224 0h20m-351 1h10m19 0h10m175 0h10m10 0h9m10 0h10m10 0h9m59 0h10m-468 1h10m204 0h10m68 0h10m146 0h10m-380 1h10m48 0h10m59 0h9m98 0h9m137 0h10m-487 1h9m10 0h10m78 0h10m204 0h10m39 0h9m30 0h19m39 0h10m-468 1h30m126 0h10m88 0h9m10 0h10m97 0h10m10 0h9m-409 1h10m39 0h39m127 0h9m166 0h10m-390 1h10m146 0h10m9 0h10m29 0h20m10 0h19m20 0h9m-194 1h9m59 0h9m127 0h10m68 0h19m-477 1h10m117 0h10m194 0h10m-312 1h10m78 0h10m10 0h9m176 0h9m156 0h10m-438 1h9m88 0h10m165 0h10m-253 1h10m9 0h10m205 0h19m29 0h10m49 0h9m-233 1h9m98 0h10m97 0h10m19 0h10m-429 1h10m127 0h19m78 0h10m97 0h10m-273 1h30m29 0h10m38 0h20m19 0h20m-224 1h10m78 0h9m59 0h19m59 0h9m244 0h10m-478 1h10m-39 1h10m49 0h9m20 0h10m126 0h10m10 0h9m234 1h20m-487 1h9m108 0h9m117 0h10m214 0h10m-312 1h10m165 0h10m-341 1h20m214 0h10m10 0h9m-272 1h19m-87 1h9m78 0h10m311 0h10m-341 1h10m195 0h19m137 0h9m39 0h10m-458 1h10m68 0h10m146 0h10m185 0h19m20 0h19m10 0h10m-526 1h19m185 0h10m20 0h9m-29 1h10m-224 1h10m97 0h10m331 0h10m58 0h10m-507 1h20m78 0h10m87 0h10m49 0h9m-263 1h10m107 0h10m10 0h10m29 0h19m10 0h10m233 1h10m-399 1h10m116 0h10m39 0h10m126 0h20m19 0h10m49 0h10m-439 1h10m107 0h10m-29 1h10m29 0h19m88 0h10m97 0h10m-429 1h10m19 0h20m146 0h10m39 0h9m10 0h10m117 0h9m39 0h10m88 0h10m-526 1h9m98 0h10m48 0h10m156 0h10m-273 1h10m282 0h10m107 0h10m-458 1h10m243 0h10m87 0h10m68 0h10m-380 1h10m351 0h9m-438 1h10m243 0h10m175 0h10m-477 1h10m68 0h10m39 0h9m205 0h29m78 0h10m-448 1h9m20 0h10m146 0h9m98 0h10m126 0h10m-467 1h9m29 0h10m20 0h9m69 0h9m146 0h10m39 0h10m117 0h9m-457 1h9m117 0h10m107 0h10m88 0h19m49 0h9m-321 1h20m19 0h10m68 0h19m20 0h10m39 0h9m117 0h10m-214 1h19m107 0h10m10 0h9m-399 1h10m10 0h9m147 0h19m29 0h10m68 0h20m116 0h10m-438 1h10m263 0h9m78 0h10m-127 1h10m117 0h10m87 0h10m-302 1h10m19 0h10m20 0h9m10 0h10m88 0h9m-214 1h20m223 0h20m10 0h9m30 0h9m30 0h19m-380 1h10m88 0h9m185 0h10m29 0h10m-282 1h9m39 0h10m20 0h9m20 0h10m116 0h20m29 0h10m-477 1h9m30 0h19m234 0h29m107 0h20m29 0h10m-478 1h10m127 0h10m126 0h10m78 0h9m88 0h29m-360 1h20m29 0h9m147 0h9m-370 1h10m39 0h10m224 0h9m146 0h10m20 0h9m-360 1h10m19 0h10m117 0h19m39 0h10m-243 1h9m127 0h19m49 0h10m78 0h9m10 0h10m88 0h9m-448 1h10m78 0h10m48 0h10m10 0h10m39 0h9m39 0h10m195 0h10m-273 1h10m175 0h10m-341 1h19m137 0h19m88 0h9m20 0h19m39 0h10m-496 1h9m88 0h10m107 0h29m117 0h10m107 0h19m-292 1h10m68 0h10m126 0h10m10 0h19m-457 1h9m127 0h10m29 0h10m155 0h10m127 0h9m30 0h9m-516 1h10m49 0h9m30 0h9m127 0h10m58 0h20m126 0h10m-467 1h9m78 0h10m224 0h10m77 0h10m49 0h10m-468 1h10m253 0h10m78 0h19m49 0h10m78 0h9m-379 1h9m30 0h9m68 0h10m10 0h10m155 0h10m-341 1h10m-68 1h19m137 0h9m10 0h10m156 0h9m59 0h10m19 0h10m-399 1h9m10 0h20m185 0h9m137 0h9m59 0h10m-448 1h19m29 0h10m49 0h9m127 0h10m126 0h10m-350 1h9m166 0h10m185 0h9m-525 1h9m302 0h20m136 0h10m-380 1h10m58 0h10m146 0h10m9 0h10m10 0h10m-108 1h10m29 0h10m10 0h29m20 0h9m49 0h10m-341 1h10m9 0h20m107 0h10m68 0h10m58 0h10m-88 1h10m39 0h10m48 0h10m58 0h10m-496 1h9m68 0h10m29 0h10m97 0h10m49 0h10m136 0h10m-429 1h10m49 0h9m88 0h10m-98 1h10m10 0h10m78 0h9m49 0h19m49 0h10m87 0h10m39 0h10m-331 1h19m68 0h10m10 0h10m68 0h19m59 0h9m98 0h10m-390 1h10m39 0h10m97 0h10m9 0h10m195 0h19m-282 1h10m136 0h10m-390 1h10m409 0h10m29 0h19m49 0h20m-536 1h10m78 0h9m409 0h10m-526 1h10m10 0h9m59 0h10m292 0h9m20 0h10m-429 1h20m9 0h10m39 0h10m68 0h10m-175 1h9m20 0h9m39 0h10m10 0h19m39 0h20m29 0h10m48 0h10m146 0h10m29 0h20m-390 1h10m78 0h10m126 0h10m146 0h10m-88 1h10m19 0h10m29 0h20m-477 1h9m98 0h39m39 0h9m312 0h10m-370 1h9m39 0h20m9 0h10m49 0h10m204 0h10m-506 1h19m107 0h20m282 0h10m-302 1h10m146 0h9m146 0h10m49 0h10m-458 1h10m78 0h9m30 0h9m322 0h9m10 0h20m-546 1h10m156 0h19m68 0h10m59 0h9m-253 1h10m49 0h9m49 0h10m78 0h19m29 0h10m29 0h20m9 0h20m19 0h10m39 0h10m10 0h9m-428 1h10m224 0h9m59 0h9m-165 1h10m19 0h10m-214 1h19m88 0h10m97 0h10m126 0h20m87 0h20m-487 1h10m165 0h20m78 0h9m30 0h9m10 0h10m97 0h10m19 0h10m-497 1h20m19 0h10m78 0h10m48 0h10m185 0h10m78 0h10m-507 1h10m97 0h10m59 0h9m59 0h9m39 0h10m205 0h9m-321 1h10m19 0h10m68 0h10m10 0h19m-350 1h9m283 0h19m88 0h9m-311 1h19m234 0h20m97 0h19m-477 1h10m253 0h10m-205 1h10m156 0h10m263 0h9m-136 1h10m39 0h9m-399 1h10m156 0h9m30 0h9m-224 1h10m10 0h10m302 0h9m-253 1h10m29 0h20m116 0h10m-302 1h10m68 0h10m58 0h20m146 0h10m39 0h9m-379 1h9m39 0h10m136 0h10m88 0h9m-214 1h10m88 0h9m29 0h10m29 0h10m59 0h19m97 0h10m-457 1h9m273 0h10m-146 1h9m107 0h10m244 0h9m-506 1h19m98 0h10m58 0h10m78 0h9m-214 1h10m78 0h10m9 0h10m-97 1h19m205 0h9m117 0h20m39 0h9m-370 1h20m10 0h9m-146 2h29m20 0h29m127 0h9m10 0h10m10 0h9m49 0h10m48 0h10m39 0h10m-419 1h10m39 0h10m78 0h9m10 0h29m244 0h9m10 0h10m-497 1h10m156 0h10m77 0h10m-175 1h10m19 0h10m117 0h9m205 0h10m-468 1h10m19 0h10m137 0h9m107 0h10m88 0h9m10 0h10m-409 1h10m39 0h9m78 0h20m204 0h10m49 0h9m39 0h20m-477 1h9m69 0h9m78 0h10m302 0h10m-507 1h10m204 0h10m107 0h10m20 0h19m146 0h10m-487 1h10m19 0h10m29 0h10m282 0h10m-360 1h9m98 0h19m156 0h10m117 0h9m-486 1h9m526 0h20m-244 1h10m29 0h10m48 0h20m39 0h10m-224 1h9m176 0h9m30 0h9m-428 1h10m39 0h9m59 0h19m166 0h19m20 0h9m10 0h10m-312 1h10m49 0h10m223 0h20m-409 1h19m293 0h9m68 0h10m-331 1h10m97 0h10m136 0h10m185 0h10m-283 1h20m39 0h10m146 0h9m39 0h10m-399 1h10m29 0h10m223 0h10m29 0h10m-165 1h19m78 0h10m87 0h20m-477 1h9m166 0h10m19 0h10m68 0h10m58 0h10m97 0h10m-380 1h10m20 0h9m127 0h10m146 0h9m20 0h19m-409 1h10m49 0h19m20 0h19m20 0h19m20 0h9m195 0h10m49 0h9m-399 1h20m301 0h10m-263 1h10m224 0h10"/>
<path stroke="#0000b9" stroke-width="2" d="M354 206h10m-244 2h10m78 1h10m146 0h9m59 3h10m-39 8h9m117 0h20m-195 5h10m-263 5h9m10 0h10m321 1h10m-380 2h10m39 2h10m409 2h9m-29 2h10m58 0h30m-224 4h9m-194 1h9m351 2h10m-497 4h10m302 2h9m-263 5h10m331 4h10m29 0h10m-117 7h10m-195 2h10m224 1h9m-48 1h10m136 2h10m-341 1h10m321 2h10m-331 4h9m-165 2h9m468 0h10m-516 2h9m302 0h10m175 0h10m10 5h19m-497 3h10m497 2h10m-409 1h9m107 0h10m-87 4h9m185 6h10m19 2h10m-78 5h10m-127 2h10m-195 1h10m360 1h10m68 1h10m-428 1h9m69 0h9m10 0h10m243 4h10m-156 9h10m10 0h9m166 0h10m29 1h10m-458 4h10m-39 8h9m341 1h10m10 0h19m68 2h10m-477 1h10m263 5h9m20 6h10m-78 1h9m263 0h10m-506 1h9m59 0h10m-30 2h10m10 1h10m29 1h10m389 0h10m-78 2h19m10 0h10m-253 1h9m-262 2h9m302 0h10m-88 2h10m19 0h10m-204 2h9m468 2h10m-478 6h10m-87 3h9m390 0h9m-126 6h10m165 1h20m-49 2h19m39 1h10m-302 1h10m-97 2h9m205 0h10m126 6h10m-68 1h9m108 3h9m-487 1h10m244 1h9m-263 2h10m224 0h10m-205 2h10m399 0h10m-243 1h9m-136 1h10m29 1h10m302 1h9m-126 4h10m19 1h10m-234 1h10m-146 1h9m-29 4h10m419 2h9m-350 2h10m-107 6h9m283 0h9m107 1h10m-409 1h20m457 4h10m-234 1h20m-117 4h10m185 0h10m-254 1h10m88 2h9m156 0h10m-136 5h9m273 0h10m-263 2h10m-273 4h10m487 1h9m-340 1h9m-9 3h9m263 1h10m-49 1h10m19 6h10m-311 1h9m88 0h10m292 1h10m-341 4h9m-204 3h10m156 3h9m49 3h19m59 2h10m-331 1h9m29 1h10m263 0h10m68 3h10m-234 2h10m-78 3h10m136 2h10m29 1h10m-137 3h10m29 7h10m253 0h10m-380 1h10m19 0h10m273 1h9m98 1h10m-507 4h10m175 1h10m10 1h9m-29 2h10m146 1h10m-322 1h10m10 3h10m68 0h19m-87 2h9m39 6h10m-97 1h9m-9 3h9m0 2h10m156 6h10m-29 2h9m98 0h9m-97 2h10m117 0h9m49 3h10m-146 1h9m-116 1h9m361 8h9m-272 2h19m244 5h9m-185 2h10m-273 1h10m146 1h10m-78 5h10m68 0h10m282 0h10m-536 2h10m399 1h10m117 0h10m-215 1h10m-39 2h10m224 1h10m-409 4h9m88 3h10m185 3h9m-146 5h10m166 5h9m-467 1h10m19 5h10m146 4h10m117 2h9m-321 2h10m156 6h9m39 0h10m88 2h9m-97 3h10m-156 1h10m-30 5h10m29 0h10m166 0h9m-194 2h9m10 9h10m-136 2h9m526 3h10m-127 1h10m-253 1h10m-147 3h10m497 4h10m-487 1h9m224 0h10m97 1h10m-87 3h9m68 0h10m88 3h10m-380 5h10m-78 1h9m-68 9h10m58 2h10m185 0h10m49 0h9m98 0h9"/>
<path stroke="#0000b9" stroke-width="3" d="M519 211.5h10m-350 21h9m156 9h10m165 10h10m-126 7h9m-48 5h9m-214 5h10m331 0h10m-20 4h10m-243 38h9m244 0h9m-253 11h10m166 5h9m20 14h9m-233 1h10m-69 14h10m-10 30h10m312 36h9m-185 18h10m214 3h10m-195 36h10m-146 35h10m146 8h10m-30 12h10m-204 3h9m419 18h10m-166 22h10m-360 27h9m-38 25h9m536 38h10"/>
<path stroke="#0000b9" stroke-width="4" d="M140 386h9m0 41h10m107 49h10"/>
<path stroke="#0000d6" stroke-width="1" d="M159 205.5h10m68 0h20m29 0h9m78 0h10m39 0h10m-253 1h19m39 0h10m214 0h10m29 0h10m-419 1h19m39 0h10m10 0h10m78 0h9m39 0h20m29 0h10m126 0h10m68 0h10m29 0h10m-322 1h10m68 0h10m20 0h9m68 0h39m30 0h9m-126 1h10m58 0h10m19 0h10m58 0h10m-526 1h10m19 0h10m49 0h10m19 0h10m39 0h10m19 0h10m185 0h9m137 0h10m-439 1h10m29 0h10m58 0h10m-233 1h9m10 0h10m204 0h20m29 0h10m253 0h10m-370 1h9m20 0h9m10 0h10m88 0h9m39 0h10m68 0h20m-477 1h9m234 0h10m39 0h9m-282 1h10m175 0h10m117 0h9m20 0h10m87 0h10m39 0h10m-439 1h20m117 0h19m29 0h10m-126 1h9m156 0h10m68 0h10m19 0h20m-409 1h9m234 0h20m87 0h10m49 0h19m29 0h10m-448 1h10m19 0h10m39 0h10m49 0h9m10 0h10m68 0h10m78 0h9m20 0h9m69 0h9m-448 1h30m48 0h10m88 0h29m136 0h10m19 0h10m59 0h19m-389 1h9m30 0h9m98 0h9m69 0h9m88 0h10m-438 1h9m68 0h10m146 0h20m39 0h9m117 0h10m-419 1h10m19 0h20m185 0h10m87 0h10m29 0h10m0 1h10m68 0h10m29 0h10m-516 1h9m10 0h10m68 0h10m116 0h20m19 0h10m234 0h19m-302 1h10m137 0h9m20 0h9m-389 1h10m78 0h9m409 0h10m-428 1h29m39 0h10m19 0h19m30 0h9m69 0h9m127 0h10m-380 1h10m87 0h10m68 0h10m39 0h10m107 0h9m88 0h10m-536 1h10m58 0h20m146 0h10m107 0h19m39 0h20m-370 1h19m39 0h10m146 0h10m19 0h10m97 0h10m88 0h9m-409 1h10m97 0h10m20 0h9m176 0h19m-389 1h9m69 0h9m39 0h10m10 0h9m49 0h10m58 0h10m175 0h10m-292 1h19m-87 1h10m58 0h10m-224 1h19m78 0h10m29 0h10m117 0h9m166 0h10m19 0h10m29 0h10m-545 1h9m98 0h29m97 0h10m156 0h9m98 0h10m-487 1h9m69 0h9m146 0h30m19 0h10m156 0h9m-448 1h10m49 0h19m78 0h10m136 0h20m-351 1h10m370 0h10m117 0h9m10 0h10m-448 1h10m116 0h10m20 0h9m20 0h19m20 0h19m176 0h19m-419 1h10m156 0h10m136 0h10m9 0h10m88 0h10m-400 1h10m39 0h10m9 0h10m88 0h10m19 0h10m58 0h10m-175 1h19m29 0h10m117 0h10m97 0h10m-448 1h10m116 0h10m20 0h9m49 0h10m19 0h10m10 0h10m68 0h9m-39 1h20m-292 1h10m9 0h10m68 0h10m19 0h10m195 0h10m19 0h10m-458 1h29m49 0h10m156 0h19m68 0h10m-331 1h10m146 0h9m88 0h10m68 0h10m9 0h10m29 0h10m39 0h10m-477 1h9m166 0h10m48 0h10m68 0h10m107 0h10m-448 1h10m19 0h20m48 0h10m10 0h19m20 0h10m107 0h9m176 0h9m20 0h10m9 0h10m-263 1h10m39 0h10m29 0h39m117 0h19m-341 1h10m58 0h10m10 0h10m116 0h10m78 0h10m-88 1h10m39 0h10m-409 1h19m156 0h10m136 0h10m58 0h20m39 0h9m-525 1h9m10 0h10m39 0h9m30 0h9m20 0h10m48 0h10m224 0h10m9 0h10m68 0h10m-409 1h20m-98 1h10m146 0h10m-214 1h9m20 0h9m39 0h10m166 0h9m39 0h10m-165 1h9m88 0h10m136 0h10m126 0h10m-516 1h19m10 0h10m19 0h10m29 0h10m49 0h10m29 0h9m205 0h10m78 0h9m10 0h10m-438 1h9m20 0h10m29 0h19m107 0h20m-195 1h10m126 0h10m10 0h10m48 0h10m10 0h19m29 0h20m29 0h20m29 0h10m-419 1h10m29 0h10m29 0h10m38 0h10m-233 1h9m361 0h9m-272 1h9m361 0h9m10 0h10m-477 1h9m88 0h10m107 0h10m48 0h10m29 0h10m-253 1h10m19 0h20m116 0h10m195 0h10m-351 1h10m68 0h10m263 0h9m-448 1h20m10 0h29m39 0h10m29 0h10m48 0h10m10 0h9m78 0h10m-253 1h10m214 0h10m97 0h10m-419 1h10m58 0h10m117 0h9m39 0h10m166 0h9m30 0h9m-301 1h9m39 0h10m78 0h10m29 0h10m38 0h10m-302 1h10m78 0h29m68 0h10m78 0h10m19 0h10m29 0h10m10 0h9m10 0h10m-312 1h10m127 0h9m195 0h20m-263 1h9m98 0h9m-389 1h10m87 0h10m127 0h9m59 0h10m165 0h10m-234 1h10m-234 1h10m185 0h10m214 0h10m58 0h10m-545 1h9m127 0h10m19 0h10m48 0h10m49 0h10m39 0h9m98 0h9m98 0h10m-147 1h10m107 0h10m-399 1h10m136 0h10m58 0h10m185 0h10m-400 1h10m97 0h20m58 0h10m78 0h10m9 0h10m-399 1h10m9 0h10m59 0h9m176 0h9m68 0h10m20 0h9m88 0h10m-526 1h10m19 0h10m146 0h19m78 0h10m29 0h10m29 0h10m-389 1h19m127 0h9m39 0h10m29 0h10m175 0h10m-360 1h9m30 0h9m88 0h10m9 0h20m-234 1h10m282 0h10m29 0h10m-331 1h10m156 0h9m137 0h9m68 0h10m29 0h10m39 0h20m-497 1h19m137 0h10m214 0h19m78 0h10m-487 1h10m253 0h10m58 0h10m39 0h9m-408 1h9m137 0h9m49 0h10m146 0h10m9 0h10m19 0h10m20 0h9m-379 1h9m156 0h10m49 0h19m39 0h20m77 0h10m10 0h10m-477 1h19m107 0h10m19 0h10m88 0h19m49 0h29m68 0h10m49 0h9m-272 1h9m20 0h10m-176 1h10m10 0h10m136 0h19m108 0h9m68 0h10m20 0h9m-477 1h10m19 0h20m195 0h9m166 0h10m48 0h10m-419 1h10m127 0h9m137 0h10m19 0h19m10 0h10m19 0h10m10 0h10m-409 1h19m49 0h10m29 0h10m9 0h10m39 0h10m272 0h10m10 0h10m-546 1h10m39 0h10m29 0h10m58 0h10m58 0h10m-58 1h9m107 0h10m68 0h10m39 0h10m-409 1h9m10 0h10m360 0h10m-428 1h9m49 0h29m68 0h10m29 0h10m97 0h10m78 0h10m9 0h10m68 0h10m49 0h10m-458 1h10m116 0h10m137 0h9m127 0h10m-468 1h10m146 0h10m97 0h20m58 0h10m58 0h10m68 0h20m-546 1h10m10 0h9m205 0h10m39 0h9m49 0h10m10 0h9m10 0h19m-389 1h10m58 0h10m136 0h29m273 0h10m-487 1h10m9 0h10m10 0h10m146 0h9m10 0h10m224 0h10m-478 1h10m88 0h19m10 0h10m243 0h10m29 0h20m-234 1h10m19 0h10m19 0h10m59 0h19m107 0h10m29 0h20m-361 1h10m107 0h10m214 0h10m-390 1h10m10 0h10m146 0h9m98 0h9m59 0h10m-497 1h10m68 0h10m204 0h10m156 0h9m20 0h19m10 0h10m-487 1h19m39 0h10m10 0h10m175 0h10m58 0h10m9 0h20m-380 1h10m68 0h10m68 0h10m-107 1h9m39 0h10m49 0h9m88 0h10m-253 1h9m49 0h10m146 0h10m126 0h10m-419 1h10m117 0h10m39 0h9m68 0h10m39 0h10m10 0h9m10 0h20m19 0h10m9 0h10m20 0h9m-409 1h20m68 0h20m77 0h10m283 0h19m-516 1h10m68 0h10m29 0h10m87 0h10m10 0h9m10 0h10m136 0h10m58 0h10m10 0h10m9 0h10m-448 1h10m165 0h10m20 0h9m20 0h10m204 0h10m-331 1h9m49 0h10m10 0h19m97 0h10m10 0h10m-361 1h10m10 0h10m9 0h10m107 0h10m68 0h10m49 0h19m10 0h9m49 0h20m-380 1h19m49 0h20m58 0h10m39 0h9m234 0h10m-429 1h10m127 0h9m78 0h20m126 0h10m-448 1h10m146 0h19m78 0h10m127 0h9m-58 1h10m9 0h10m68 0h20m-506 1h9m29 0h20m380 0h9m20 0h10m39 0h9m-516 1h10m78 0h10m19 0h10m156 0h9m10 0h10m58 0h10m-331 1h10m48 0h10m136 0h10m98 0h9m29 0h10m-399 1h10m165 0h10m29 0h10m68 0h10m68 0h29m88 0h10m19 0h10m-516 1h9m39 0h10m49 0h10m9 0h10m39 0h19m30 0h9m49 0h49m126 0h10m-428 1h9m10 0h10m117 0h9m244 0h10m58 0h10m-516 1h29m68 0h10m19 0h10m127 0h9m107 0h10m39 0h10m-409 1h10m214 0h10m9 0h10m-302 1h10m10 0h9m59 0h10m48 0h10m20 0h9m49 0h19m108 0h9m20 0h9m49 0h10m58 0h10m-467 1h9m224 0h10m10 0h19m68 0h20m58 0h10m39 0h20m-555 1h9m195 0h10m78 0h9m20 0h10m48 0h10m10 0h9m30 0h9m-262 1h9m117 0h10m19 0h10m175 0h10m-526 1h10m185 0h10m97 0h20m19 0h10m117 0h9m-486 1h9m29 0h20m10 0h9m263 0h10m97 0h20m-390 1h10m107 0h10m29 0h20m165 0h10m29 0h10m10 0h29m19 0h10m10 0h10m-487 1h9m88 0h10m302 0h9m-360 1h20m48 0h10m58 0h20m49 0h9m107 0h10m-438 1h10m48 0h10m20 0h9m224 0h10m88 0h19m10 0h10m19 0h20m-380 1h19m10 0h10m48 0h10m137 0h9m166 0h10m-487 1h9m30 0h9m185 0h10m68 0h10m68 0h10m58 0h10m-438 1h10m155 0h10m68 0h10m78 0h10m58 0h10m10 0h9m10 0h20m-439 1h10m205 0h9m10 0h10m10 0h9m107 0h10m10 0h10m-195 1h19m98 0h19m10 0h10m48 0h10m-506 1h9m30 0h9m215 0h9m127 0h10m9 0h10m-438 1h10m9 0h10m68 0h10m49 0h10m194 0h10m107 0h20m-380 1h10m58 0h10m58 0h20m9 0h20m29 0h10m39 0h9m-379 1h9m20 0h10m185 0h9m20 0h10m78 0h9m59 0h9m10 0h10m39 0h10m-429 1h20m78 0h19m39 0h10m9 0h10m20 0h19m68 0h10m97 0h10m39 0h20m-536 1h10m29 0h10m78 0h19m166 0h9m117 0h10m78 0h10m-546 1h10m292 0h10m29 0h10m39 0h9m-262 1h19m273 0h19m20 0h9m20 0h10m-487 1h9m59 0h10m68 0h10m68 0h9m20 0h10m-292 1h9m10 0h10m117 0h9m49 0h19m39 0h10m88 0h10m-332 1h10m39 0h10m58 0h10m156 0h10m39 0h9m10 0h10m136 0h10m-380 1h10m10 0h9m39 0h10m117 0h10m155 0h10m-535 1h9m20 0h9m10 0h10m117 0h10m87 0h10m117 0h9m78 0h10m-341 1h10m88 0h9m39 0h10m39 0h10m78 0h9m-272 1h10m87 0h10m49 0h19m49 0h9m10 0h10m117 0h10m-526 1h9m20 0h19m20 0h10m97 0h10m126 0h10m58 0h10m10 0h10m68 0h29m-448 1h10m117 0h9m20 0h10m185 0h9m-272 1h10m19 0h10m48 0h10m-272 1h19m360 0h10m39 0h10m-302 1h10m39 0h9m10 0h10m9 0h10m88 0h10m9 0h10m-302 1h10m39 0h10m39 0h9m20 0h10m68 0h9m69 0h9m68 0h10m29 0h10m-457 1h9m234 0h10m29 0h10m175 0h10m19 0h10m-399 1h9m107 0h10m20 0h9m88 0h10m78 0h9m49 0h29m-379 1h9m10 0h20m29 0h9m98 0h10m68 0h9m59 0h10m48 0h10m-477 1h10m29 0h10m19 0h10m39 0h10m48 0h20m29 0h19m10 0h10m19 0h20m58 0h10m-419 1h20m48 0h10m49 0h29m20 0h9m88 0h10m87 0h10m78 0h19m39 0h10m-516 1h10m194 0h10m10 0h10m39 0h9m156 0h10m19 0h20m-458 1h10m97 0h30m77 0h20m136 0h10m-370 1h10m9 0h20m97 0h10m166 0h9m78 0h20m39 0h29m-429 1h10m39 0h10m10 0h9m88 0h19m88 0h10m58 0h10m10 0h19m-341 1h10m49 0h9m39 0h10m-253 1h19m69 0h9m137 0h9m146 0h10m-302 1h10m10 0h10m146 0h9m10 0h10m10 0h9m68 0h20m29 0h20m-468 1h10m428 0h20m49 0h19m-409 1h10m10 0h19m10 0h19m49 0h10m97 0h10m58 0h20m97 0h10m-507 1h10m59 0h9m107 0h10m10 0h19m-214 1h10m195 0h29m68 0h10m39 0h9m-301 1h29m87 0h10m10 0h10m19 0h10m39 0h19m30 0h9m20 0h19m39 0h29m-486 1h9m20 0h9m137 0h10m282 0h10m-458 1h10m48 0h10m49 0h10m233 0h10m39 0h10m48 0h10m-496 1h9m20 0h9m59 0h10m48 0h10m10 0h10m58 0h10m214 0h10m-400 1h10m39 0h10m39 0h19m29 0h10m68 0h10m10 0h10m175 0h10m-448 1h9m20 0h10m68 0h10m155 0h10m-331 1h19m234 0h10m49 0h19m49 0h9m98 0h10m19 0h10m-477 1h19m68 0h10m78 0h19m49 0h10m10 0h9m30 0h9m-204 1h19m49 0h10m29 0h10m19 0h20m29 0h10m68 0h9m78 0h10m-516 1h10m87 0h10m49 0h10m68 0h9m59 0h10m165 0h10m-438 1h9m10 0h20m39 0h9m156 0h10m126 0h10m29 0h10m10 0h19m-487 1h20m19 0h10m78 0h10m19 0h10m-204 1h9m88 0h10m146 0h9m78 0h10m29 0h10m156 0h10m-468 1h10m78 0h10m87 0h10m88 0h9m39 0h10m-243 1h19m88 0h9m176 0h9m-438 1h20m9 0h20m204 0h10m175 0h10m-448 1h10m39 0h10m78 0h9m39 0h10m136 0h10m29 0h10m-360 1h9m30 0h9m176 0h19m20 0h9m146 0h20m19 0h10m-419 1h10m127 0h9m59 0h10m77 0h10m127 0h10m-322 1h10m29 0h10m97 0h10m39 0h19m20 0h10m-468 1h20m78 0h9m59 0h10m360 0h10m-478 1h10m224 0h20m29 0h10m136 0h10m19 0h10m-419 1h10m68 0h10m39 0h9m137 0h9m59 0h10m19 0h10m10 0h9m-438 1h10m146 0h10m107 0h10m38 0h10m59 0h19m-496 1h9m39 0h10m10 0h9m69 0h9m30 0h9m88 0h10m214 0h10m19 0h10m-516 1h9m69 0h9m10 0h10m49 1h9m224 0h10m19 0h10m68 0h10m-409 1h10m136 0h10m-78 1h10m48 0h10m136 0h30m39 0h19m49 0h10m-517 1h20m127 0h9m20 0h9m302 0h20m-438 1h9m20 0h10m68 0h19m20 0h19m78 0h10m10 0h9m117 0h10m-419 1h20m19 0h10m10 0h9m302 0h10m19 0h10m-477 1h10m9 0h10m20 0h9m108 0h9m10 0h10m214 0h10m9 0h10m10 0h10m-477 1h9m127 0h10m29 0h10m107 0h19m88 0h29m78 0h10m-497 1h10m39 0h9m10 0h10m68 0h10m97 0h10m29 0h20m58 0h10m29 0h10m-400 1h10m29 0h10m10 0h10m185 0h9m30 0h9m-321 1h29m292 0h30m77 0h10m20 0h9m59 0h10m-517 1h10m20 0h9m59 0h10m58 0h10m29 0h10m87 0h10m175 0h10m-497 1h20m263 0h10m136 0h10m39 0h19m-487 1h10m39 0h10m19 0h10m117 0h9m20 0h19m88 0h19m127 0h10m-536 1h10m68 0h20m58 0h10m204 0h10m58 0h10m20 0h9m-486 1h9m10 0h19m20 0h19m20 0h10m48 0h20m214 0h10m39 0h9m-389 1h10m97 0h10m10 0h9m10 0h10m39 0h9m30 0h9m49 0h10m39 0h19m-185 1h20m58 0h20m29 0h10m77 0h10m59 0h9m-487 1h10m10 0h10m9 0h20m10 0h9m10 0h10m117 0h9m224 0h10m-341 1h10m68 0h10m127 0h19m68 0h10m-302 1h29m29 0h10m127 0h10m38 0h10m29 0h10m-409 2h10m78 0h10m29 0h10m155 0h10m68 0h10m78 0h10m-78 1h9m59 0h19m-496 1h9m166 0h10m29 0h10m29 0h10m194 0h20m-468 1h10m10 0h10m19 0h10m175 0h10m-234 1h10m88 0h19m29 0h10m39 0h10m19 0h20m9 0h10m127 0h9m39 0h10m39 0h10m-253 1h9m39 0h10m49 0h9m49 0h10m-390 1h10m20 0h9m30 0h9m195 0h10m48 0h10m107 0h10m-438 1h10m107 0h9m20 0h10m48 0h10m-302 1h10m117 0h10m9 0h10m49 0h19m88 0h10m58 0h19m108 0h9m-487 1h10m98 0h9m59 0h9m88 0h20m19 0h10m39 0h9m69 0h9m10 0h20m-458 1h19m10 0h10m156 0h9m39 0h30m77 0h30m107 0h10m-448 1h9m10 0h10m156 0h9m-301 1h9m78 0h10m136 0h10m58 0h10m29 0h10m-341 1h10m78 0h10m29 0h10m19 0h10m87 0h10m166 0h9m-447 1h9m20 0h9m254 0h9m10 0h10m78 0h19m78 0h10m19 0h10m-389 1h9m127 0h10m97 0h10m78 0h19m-419 1h10m78 0h10m204 0h20m9 0h20m10 0h9m-389 1h10m19 0h20m29 0h10m58 0h10m19 0h10m107 0h10m39 0h9m-77 1h9m20 0h19m29 0h10m-292 1h20m19 0h10m97 0h10m19 0h20m19 0h20m136 0h10m-429 1h10m127 0h19m117 0h20m77 0h10m49 0h10m29 0h10m-517 1h10m29 0h20m97 0h10m10 0h9m108 0h9m49 0h10m58 0h10m-429 1h30m272 0h10m29 0h10m-389 1h9m205 0h19m68 0h10m195 0h19m-389 1h10m48 0h10m97 0h20m214 0h10m-526 1h10m146 0h10m116 0h10m68 0h10m29 0h10m-419 1h10m312 0h9m59 0h9m-155 1h19m20 0h9m69 0h19m-234 1h10m39 0h10m19 0h10m10 0h9m49 0h10m204 0h10m-506 1h9m20 0h10m48 0h10m20 0h9m127 0h10m-137 1h10m39 0h10m29 0h10m19 0h10m117 0h9m69 0h9m-379 1h9m98 0h9m205 0h10m-419 1h19m166 0h10m19 0h10m19 0h39m176 0h9m49 0h10m-438 1h9m78 0h10m263 0h10m-409 1h9m49 0h10m39 0h10m243 0h10m29 0h19m-486 1h9m205 0h29m146 0h10m68 0h10m-468 1h10m29 0h20m29 0h10m48 0h10m58 0h10m88 0h10m68 0h9m-272 1h10m48 0h10m39 0h19m98 0h10m-108 1h10m234 0h19m-282 1h10m39 0h9m-301 1h29m321 0h10m19 0h10m97 0h10m20 0h9m20 0h10m-546 1h10m19 0h10m88 0h10m175 0h10m126 0h20m29 0h10m9 0h10m-448 1h10m19 0h10m68 0h10m68 0h10m97 0h10m-380 1h20m9 0h10m156 0h10m78 0h9m234 0h10m-419 1h10m341 0h9m-418 1h19m20 0h9m59 0h10m233 0h10m88 0h9m-428 1h10m19 0h10m68 0h10m58 0h10m88 0h9m29 0h10m88 0h19m-506 1h10m243 0h20m58 0h10m78 0h9m10 0h10m19 0h30m-439 1h10m253 0h10m88 0h19m29 0h10m39 0h10m-545 1h9m49 0h10m48 0h10m39 0h10m29 0h10m19 0h10m127 0h9m146 0h10m-526 1h10m10 0h19m107 0h10m58 0h20m10 0h9m117 0h10m10 0h9m49 0h10m39 0h29m-535 1h9m98 0h9m69 0h9m49 0h10m48 0h10m156 0h10m48 0h10m-467 1h19m39 0h20m116 0h10m214 0h10m10 0h10m-507 1h10m49 0h9m20 0h10m58 0h10m58 0h10m19 0h20m195 0h9m49 0h10m-302 1h10m39 0h9m39 0h10m20 0h9m39 0h20m29 0h10m19 0h10m10 0h19m-292 1h29m29 0h10m20 0h19m78 0h10m9 0h10m29 0h30m-409 1h9m30 0h9m68 0h10m29 0h10m98 0h9m29 0h10m88 0h10m-331 1h9m263 0h10m78 0h10m-526 1h9m88 0h10m10 0h9m59 0h9m78 0h10m-263 1h20m87 0h10m29 0h10m97 0h20m-195 1h10m165 0h10m224 0h20m-293 1h30m39 0h19m68 0h10m97 0h10m-535 1h9m88 0h10m146 0h9m117 0h10m146 0h10m-419 1h10m19 0h10m49 0h9m98 0h10m9 0h10m107 0h10m29 0h10m-429 1h10m59 0h9m10 0h10m58 0h10m282 0h10m-399 1h10m39 0h19m243 0h20m19 0h10m-419 1h10m175 0h10m78 0h10m68 0h10m9 0h10m-311 1h9m20 0h10m97 0h10m165 0h10m-409 1h10m194 0h10m39 0h10m146 0h19m-418 1h9m108 0h19m195 0h9m59 0h10m39 0h19m-409 1h10m10 0h9m185 0h10m39 0h10m-331 1h9m98 0h19m68 0h10m20 0h9m107 0h10m10 0h10m58 0h20m-419 1h10m39 0h9m361 0h9m-457 1h19m29 0h10m78 0h10m117 0h9m166 0h10m19 0h10m-438 1h9m59 0h10m155 0h10m146 0h10m-468 1h10m39 0h10m68 0h10m195 0h9m29 0h10m-175 1h10m97 0h10m107 0h10m-302 1h19m49 0h19m78 0h20m126 0h10m-477 1h10m107 0h10m87 0h20m29 0h10m9 0h10m20 0h9m78 0h10m78 0h10m-312 1h10m126 0h10m10 0h10m-332 1h10m98 0h19m20 0h9m29 0h10m234 0h10m-390 1h10m19 0h10m107 0h10m97 0h20m185 0h10m-546 1h10m19 0h10m253 0h10m49 0h10m9 0h10m10 0h9m59 0h10m-477 1h9m146 0h10m273 0h9m98 0h10m-517 1h10m156 0h19m30 0h9m78 0h20m68 0h19m88 0h10m-526 1h19m20 0h10m155 0h39m-262 1h9m117 0h10m117 0h58m49 0h10m-370 1h19m107 0h29m176 0h19m-282 1h9m69 0h9m127 0h10m68 0h19m137 0h19m-506 1h9m20 0h19m195 0h10m175 0h20m-78 1h9m-340 1h9m39 0h10m244 0h19m19 0h10m20 0h9m20 0h10m-468 1h10m19 0h10m29 0h10m68 0h30m19 0h19m30 0h9m49 0h10m-166 1h10m68 0h10m185 0h10m29 0h10m48 0h10m-331 1h19m59 0h10m243 0h10m-477 1h19m98 0h9m78 0h10m19 0h20m29 0h10m48 0h10m59 0h9m10 0h10m-429 1h10m273 0h10m29 0h9m10 0h10m-312 1h10m29 0h10m175 0h10m58 0h30m-390 1h10m341 0h19m-360 1h10m9 0h20m19 0h10m244 0h9m49 0h10m19 0h10m-438 1h9m88 0h10m39 0h10m223 0h10m-321 1h10m39 0h9m59 0h9m137 0h10m97 0h10m-448 1h9m117 0h10m39 0h10m29 0h10m155 0h10m68 0h10m-496 1h9m39 0h10m165 0h10m39 0h20m155 0h10m-341 1h10m156 0h10m68 0h10m29 0h19m-409 1h10m29 0h10m243 0h10m20 0h9m49 0h10m19 0h10m-360 1h29m58 0h10m88 0h9m98 0h10m87 0h10m-448 1h10m107 0h10m175 0h10m87 0h20m9 0h10m-428 1h9m147 0h19m58 0h10m10 0h10m9 0h10m59 0h9m-370 1h10m19 0h10m78 0h10m68 0h10m185 0h9m30 0h9m-399 1h10m58 0h20m19 0h10m49 0h9m20 0h10m48 0h10m29 0h20m10 0h9m-302 1h10m10 0h10m78 0h9m20 0h29m19 0h10m20 0h9m49 0h10m-302 1h10m58 0h20m126 0h10m58 0h10m20 0h9m146 0h10m-350 1h9m39 0h10m88 0h9m146 0h10m49 0h10m-98 1h10m-409 1h19m156 0h20m48 0h10m29 0h10m20 0h19m-389 1h9m49 0h10m58 0h10m10 0h9m78 0h10m29 0h10m126 0h10m117 0h10m-370 1h10m38 0h10m107 0h10m49 0h9m10 0h10m-146 1h19m107 0h20m39 0h10m-400 1h20m49 0h19m39 0h10m194 0h10m39 0h10m78 0h10m-517 1h10m20 0h9m176 0h9m108 0h9m156 0h10m-477 1h19m20 0h19m39 0h10m117 0h9m166 0h10m68 0h10m-468 1h10m10 0h9m127 0h10m87 0h10m49 0h9m30 0h9m-175 1h10m68 0h10m117 0h9m-321 1h10m224 0h19m-360 1h10m9 0h10m321 0h10m117 0h10m-429 1h10m195 0h10m194 0h10m-409 1h10m58 0h20m117 0h9m205 0h10m-487 1h9m30 0h9m49 0h20m19 0h10m282 0h20m-390 1h10m350 0h10m10 0h10m9 0h10m-224 2h10m175 0h10m-506 1h9m176 0h9m322 0h9m-506 1h10m233 0h10m-39 1h10m253 0h10m39 0h10m-448 1h9m98 0h19m224 0h10m19 0h10m10 0h10m19 0h10m-107 1h29m29 0h20m-487 1h9m400 0h9m49 0h10m-448 1h10m48 0h10m127 0h9m146 0h10m98 0h9m-457 1h9m78 0h10m20 0h9m10 0h10m29 0h10m78 0h9m20 0h19m68 0h10m-399 1h10m58 0h10m10 0h9m30 0h19m117 0h10m68 0h9m49 0h10m19 0h10m-477 1h10m87 0h20m146 0h10m39 0h9m78 0h10m68 0h20m-117 1h9m78 0h10m39 0h10m-438 1h9m98 0h9m78 0h10m20 0h9m68 0h10m78 0h10m-438 1h9m39 0h10m185 0h10m68 0h10m29 0h29m29 0h10m-487 1h10m29 0h20m389 0h10m10 0h9m-409 1h10m49 0h10m29 0h10m97 0h29m10 0h10m48 0h20m-341 1h10m58 0h10m68 0h10m48 0h10m78 0h10m39 0h9m10 0h10m39 0h10m48 0h10m-497 1h10m49 0h10m350 0h10m78 0h10m-526 1h9m20 0h10m9 0h10m156 0h10m185 0h9m49 0h10m-506 1h9m68 0h20m126 0h10m156 0h10m107 0h10m-468 1h10m156 0h9m49 0h10m78 0h10m9 0h10m127 0h9m-487 1h10m10 0h10m9 0h10m78 0h10m78 0h9m244 0h10m19 0h10m-497 1h10m58 0h10m29 0h10m107 0h10m-273 1h10m19 0h10m137 0h9m312 0h10m-516 1h9m234 0h10m39 0h9m78 0h10m19 0h10m10 0h19m69 0h9m20 0h10m-487 1h9m20 0h19m39 0h10m88 0h9m39 0h10m59 0h9m78 0h10m-419 1h10m68 0h20m68 0h9m20 0h10m29 0h10m58 0h20m38 0h10m59 0h9m-360 1h10m29 0h10m10 0h9m68 0h10m166 0h19m-438 1h10m68 0h10m116 0h10m214 0h10m-282 1h19m78 0h10m78 0h10m68 0h9m10 0h10m-438 1h9m117 0h10m302 0h10m-429 1h10m29 0h10m39 0h10m39 0h9m49 0h10m19 0h10m126 0h10m98 0h9m-428 1h10m39 0h9m107 0h10m146 0h10m-302 1h10m156 0h9m20 0h10m9 0h10m78 1h19m88 0h10m-545 1h9m244 0h9m69 0h9m68 0h10m-409 1h10m78 0h10m19 0h10m39 0h10m136 0h10m29 0h10m58 0h10m107 0h10m-555 1h29m126 0h10m166 0h9m127 0h19m-448 1h10m10 0h10m19 0h10m107 0h19m10 0h20m9 0h10m49 0h19m88 0h10m-390 1h20m175 0h29m117 0h10m48 0h30m-341 1h10m146 0h19m88 0h9m-175 1h20m-253 2h9m49 0h10m19 0h20m224 0h9m49 0h10m9 0h10m-409 1h10m19 0h10m98 0h9m98 0h9m195 0h10m49 0h9m-350 1h10m58 0h10m29 0h10m58 0h10m-224 1h10m19 0h10m39 0h9m49 0h10m175 0h10m-380 1h10m107 0h10m9 0h10m234 0h10m-429 1h10m49 0h9m215 0h9m68 0h20m-428 1h9m29 0h10m68 0h10m29 0h10m205 0h9m-292 1h10m68 0h20m243 0h19m30 0h9m59 0h10m-507 1h10m49 0h9m20 0h10m58 0h10m253 0h10m-439 1h10m98 0h9m39 0h10m-68 1h19m98 0h19m175 0h20m-370 1h10m48 0h10m107 0h10m68 0h10m-322 1h10m253 0h10m185 0h10m-224 1h10m97 0h10m58 0h10m49 0h9m-477 1h10m39 0h10m29 0h10m68 0h9m30 0h9m59 0h10m9 0h10m136 0h10m-458 1h20m117 0h10m29 0h19m49 0h19m78 0h10m39 0h10m19 0h10m29 0h10m-506 1h19m399 0h10m58 0h20m-341 1h20m68 0h9m117 0h10m136 0h10m-506 1h9m-29 1h10m39 0h10m165 0h10m88 0h19m29 0h10m88 0h9m-467 1h10m19 0h10m234 0h9m-233 1h9m49 0h10m49 0h9m29 0h10m20 0h9m108 0h9m-321 1h10m9 0h10m185 0h10m58 0h10m10 0h10m97 0h10m-409 1h9m78 0h10m117 0h10m116 0h20m68 0h10m-497 1h20m117 0h9m117 0h20m19 0h10m117 0h19m78 0h10m-507 1h10m29 0h10m107 0h10m68 0h10m88 0h9m68 0h20m39 0h10m-507 1h10m29 0h10m58 0h10m29 0h10m58 0h10m107 0h10m49 0h19m127 0h10m-517 1h10m10 0h10m175 0h10m146 0h9m78 0h10m39 0h20m-263 1h9m10 0h10m117 0h9m30 0h9m-399 1h10m19 0h10m175 0h10m39 0h10m126 1h10m20 0h9m10 0h10m-507 1h10m117 0h10m48 0h10m214 0h20m39 0h10m-458 1h10m136 0h19m273 0h10m-341 1h10m19 0h10m68 0h10m156 0h9m39 0h10m49 0h10m-546 1h10m39 0h10m19 0h10m78 0h10m243 0h10m19 0h10m-302 1h10m126 0h10m127 0h9m-399 1h10m97 0h10m107 0h10m49 0h9m68 0h10m68 0h10m49 0h10m-302 1h9m185 0h10m49 0h10m-487 1h9m98 0h10m87 0h10m58 0h10m29 0h10m-321 1h29m29 0h10m10 0h9m166 0h10m146 0h19m29 0h10m-380 1h10m68 0h10m39 0h10m107 0h10m68 0h9m30 0h19m-350 1h9m127 0h10m48 0h10m136 0h10m-195 1h10m-253 1h10m146 0h9m185 0h10m20 0h9m88 0h10m-399 1h9m39 0h20m117 0h9m59 0h19m88 0h10m9 0h10m-497 1h20m243 0h10m49 0h10m-312 1h10m194 0h20m-107 1h10m19 0h10m68 0h19m156 0h10m10 0h19m-438 1h10m19 0h10m39 0h10m77 0h10m146 0h10m-341 1h10m204 0h10m136 0h10m10 0h10m-312 1h10m68 0h10m9 0h10m20 0h19m59 0h19m39 0h10m48 0h20m-458 1h10m195 0h9m185 0h10m49 0h10m9 0h10m29 0h10m-458 1h20m10 0h9m30 0h9m68 0h10m88 0h19m10 0h10m87 0h10m49 0h10m19 0h10m-536 1h20m224 0h9m69 0h19m107 0h20m-156 1h10m19 0h10m117 0h9m-467 1h10m19 0h10m58 0h10m224 0h20m58 0h10m9 0h10m-380 1h10m49 0h29m107 0h10m78 0h10m68 0h9m30 0h9m-370 1h10m97 0h10m10 0h10m9 0h10m10 0h10m107 0h9m69 0h19m29 0h10m-409 1h10m185 0h29m39 0h10m-361 1h10m88 0h10m48 0h10m97 0h20m19 0h10m-292 1h10m19 0h10m360 0h10m-438 1h9m10 0h20m117 0h9m185 0h10m78 0h19m10 0h10m-360 1h9m107 0h39m98 0h9m20 0h10m58 0h20m9 0h20m-438 1h9m49 0h20m-137 1h20m107 0h19m156 0h10m39 0h9m10 0h10m-331 1h10m107 0h19m-165 1h9m88 0h10m146 0h10m165 0h10m-487 1h10m39 0h19m68 0h10m136 0h10m59 0h9m68 0h10m-457 1h9m107 0h10m88 0h9m39 0h10m-234 1h20m88 0h9m98 0h9m-68 1h20m243 0h10m-321 1h9m20 0h10m38 0h10m29 0h10m175 0h10m10 0h10m68 0h10m-546 1h10m10 0h9m127 0h10m19 0h10m29 0h10m214 0h10m-390 1h10m98 0h9m10 0h10m78 0h19m59 0h9m20 0h9m30 0h9m-340 1h19m29 0h10m68 0h20m19 0h10m175 0h20m19 0h20m29 0h10m-458 1h10m97 0h10m87 0h20m156 0h9m30 0h9m-496 1h9m30 0h9m88 0h10m165 0h10m-350 1h9m49 0h19m49 0h10m68 0h19m10 0h10m19 0h10m20 0h9m117 0h20m-273 1h10m29 0h10m9 0h10m39 0h10m39 0h19m39 0h10m-351 1h10m49 0h10m19 0h10m58 0h10m58 0h30m48 0h10m58 0h10m-282 1h10m146 0h9m78 0h10m58 0h10m-331 1h10m19 0h10m136 0h20m29 0h10m48 0h10m-399 1h10m68 0h10m97 0h10m-137 1h20m39 0h10m77 0h10m10 0h10"/>
<path stroke="#0000d6" stroke-width="2" d="M344 206h10m185 0h10m-331 3h19m273 3h9m-379 3h9m370 2h10m-321 6h10m399 3h10m-234 1h10m-331 2h9m361 4h9m39 2h10m-214 3h9m-58 3h10m-137 2h10m127 5h10m68 1h9m-39 6h10m302 3h10m-107 2h9m-155 1h9m30 1h9m117 3h10m-205 1h10m136 2h10m78 4h10m-20 7h10m-19 3h9m0 3h10m10 1h10m-39 1h9m-116 3h9m-350 3h9m10 0h10m195 0h9m263 1h10m-409 4h10m253 2h10m-292 2h9m156 1h10m-97 5h9m127 1h10m48 3h10m-39 1h10m117 3h9m49 0h10m0 2h10m-195 2h10m-351 5h10m292 1h10m-224 2h9m195 6h10m-127 1h10m-88 2h10m-88 1h10m409 1h10m-380 1h10m29 1h10m-136 3h9m399 4h10m-126 1h9m-29 1h10m243 7h10m-312 1h10m234 2h10m19 0h10m-214 2h9m-194 2h9m341 0h10m-302 9h10m-107 10h9m137 1h9m-175 9h10m467 9h10m-88 3h10m-243 1h9m234 3h10m-39 4h10m-127 2h10m39 0h10m126 0h10m-448 1h10m78 1h9m-146 2h10m506 2h10m-282 1h9m-29 1h10m-68 10h10m-98 1h10m302 2h9m98 4h10m-458 2h10m-39 1h9m147 0h9m98 2h9m127 0h10m-49 4h10m-195 2h10m136 0h10m-185 3h10m38 1h10m-97 2h10m-137 1h10m49 4h9m370 0h10m-10 2h20m-78 4h10m-137 3h10m273 2h10m-536 2h10m194 2h10m20 4h9m176 0h9m-136 5h10m-185 1h10m-108 1h10m-19 2h9m39 1h10m49 0h10m29 1h10m301 5h10m-331 1h10m-78 3h10m282 1h10m-68 3h19m146 0h10m-136 2h9m59 2h9m-165 1h10m253 1h10m-370 1h9m-146 1h10m419 2h9m-78 1h10m-360 1h10m253 0h10m77 3h10m39 0h10m-88 3h10m19 0h10m20 1h9m49 2h10m-506 1h9m292 3h10m-282 1h9m147 4h9m-185 3h10m39 0h10m126 2h10m-166 3h10m117 5h10m-175 1h9m302 0h10m126 0h10m-136 2h10m-293 1h10m-29 2h10m302 6h9m-243 2h10m282 1h10m-49 3h10m107 2h10m-468 6h10m526 1h10m-555 2h9m292 0h10m-126 2h9m-19 2h19m176 18h9m-360 1h10m175 0h10m243 3h10m39 1h10m9 0h10m-458 4h10m380 0h10m-468 1h10m107 6h10m126 0h10m68 4h10m-321 2h9m273 0h10m-68 1h9m-107 3h10m380 0h10m-468 1h10m341 4h9m-399 4h10m273 0h9m166 5h10m-10 5h10m-409 1h9m78 2h10m146 0h10m-185 1h10m-137 4h10m29 0h10m282 0h10m-273 6h10m390 0h9m-331 5h10m-127 1h10m10 3h10m311 1h10m-68 2h10m146 0h9m-448 4h10m224 0h10m29 2h20m-283 3h10m243 0h10m10 0h10m-302 1h9m400 0h9m10 1h10m-107 7h9m-146 5h10m-253 2h10m350 0h10m29 0h10m19 0h10"/>
<path stroke="#0000d6" stroke-width="3" d="M480 215.5h10m20 53h9m-68 8h10m-185 48h10m107 23h10m146 0h9m-477 2h10m88 20h9m78 20h10m-78 14h10m87 38h10m263 20h10m-351 52h10m-68 27h10m409 17h9m-224 46h10m185 8h10m-331 49h10"/>
<path stroke="#0000d6" stroke-width="4" d="M149 265h10m195 76h10m243 279h10"/>
<path stroke="#0000e5" stroke-width="1" d="M91 205.5h10m78 0h9m30 0h9m78 0h10m10 0h9m137 0h9m98 0h10m-59 1h10m-331 1h19m49 0h10m58 0h10m29 0h10m165 0h10m10 0h19m-292 1h10m19 0h10m107 0h10m68 0h20m39 0h9m-457 1h9m176 0h9m59 0h10m39 0h9m98 0h9m-428 1h10m78 0h9m68 0h10m68 0h20m87 0h20m39 0h10m-448 1h9m147 0h38m39 0h10m59 0h9m137 0h9m20 0h29m-467 1h9m30 0h9m39 0h10m29 0h10m19 0h10m224 0h20m39 0h9m10 0h10m-507 1h10m29 0h10m59 0h9m215 0h9m-68 1h20m107 0h9m10 0h10m10 0h29m-497 1h10m58 0h10m68 0h10m127 0h9m215 0h9m10 0h10m-507 1h10m68 0h10m78 0h10m68 0h10m9 0h10m-311 1h9m146 0h10m107 0h39m-273 1h10m29 0h10m49 0h10m87 0h10m107 0h10m10 0h9m78 0h10m-351 1h10m39 0h10m68 0h10m253 0h10m-419 1h19m137 0h9m30 0h9m20 0h10m29 0h19m59 0h9m-321 1h10m214 0h10m-341 1h10m19 0h10m39 0h10m107 0h9m39 0h10m136 0h10m20 0h9m98 0h10m-370 1h9m98 0h9m49 0h10m39 0h9m10 0h10m39 0h10m19 0h20m9 0h10m-516 1h10m331 0h10m38 0h10m-282 1h10m107 0h9m117 0h10m39 0h10m-438 1h9m263 0h10m10 0h9m39 0h10m97 0h20m39 0h10m19 0h10m-292 1h9m39 0h10m49 0h10m87 0h10m-448 1h10m48 0h10m10 0h10m175 0h19m234 0h10m-302 1h10m107 0h10m19 0h10m29 0h10m78 0h9m20 0h10m-439 1h10m29 0h10m224 0h19m-360 1h10m214 0h10m49 0h9m30 0h9m10 0h10m126 0h10m-195 1h10m29 0h10m39 0h10m48 0h10m-263 1h10m68 0h10m10 0h9m10 0h10m87 0h10m-457 1h19m49 0h9m244 0h10m97 0h19m88 0h20m-468 1h10m156 0h19m10 0h10m9 0h10m39 0h10m48 0h10m49 0h10m-400 1h10m244 0h9m30 0h9m-292 1h10m78 0h19m10 0h10m87 0h10m117 0h10m48 0h10m-487 1h10m107 0h20m214 0h10m48 0h10m-428 1h9m195 0h10m68 0h10m204 0h10m-458 1h20m19 0h10m10 0h9m59 0h10m68 0h9m108 0h9m146 0h10m-526 1h10m516 0h20m-526 1h9m20 0h10m87 0h10m302 0h10m-361 1h10m166 0h9m-68 1h10m29 0h10m107 0h10m146 0h10m-254 1h10m166 0h9m-253 1h10m39 0h10m175 0h19m-399 1h10m350 0h10m59 0h19m-428 1h9m361 0h19m-360 1h19m20 0h10m58 0h10m19 0h20m126 0h10m97 0h10m-438 1h10m48 0h10m49 0h9m10 0h10m39 0h10m19 0h10m10 0h9m59 0h29m49 0h9m-146 1h10m39 0h10m19 0h10m39 0h10m9 0h10m20 0h9m-126 1h9m127 0h10m-536 1h10m58 0h10m49 0h10m175 0h19m10 0h10m10 0h19m39 0h10m48 0h10m-496 1h9m88 0h10m19 0h10m19 0h10m20 0h9m331 0h10m-448 1h10m39 0h10m29 0h10m87 0h10m58 0h20m117 0h19m-380 1h10m88 0h9m137 0h10m116 0h10m20 0h9m-438 1h10m107 0h10m9 0h10m10 0h10m19 0h10m19 0h10m68 0h10m88 0h9m-292 1h10m-117 1h10m165 0h20m10 0h9m59 0h10m9 0h10m29 0h10m39 0h10m-224 1h9m185 0h10m29 0h10m39 0h10m-545 1h9m98 0h9m185 0h10m59 0h9m20 0h9m-350 1h10m155 0h10m185 0h10m107 0h10m-516 1h9m30 0h9m195 0h10m19 0h20m78 0h9m69 0h19m-389 1h19m68 0h20m263 0h9m-233 1h9m156 0h10m10 0h9m78 0h10m10 0h10m-468 1h10m78 0h10m29 0h9m117 0h10m-302 1h10m39 0h10m9 0h10m166 0h9m-194 1h9m30 0h9m68 0h10m88 0h10m-331 1h9m205 0h9m30 0h9m69 0h9m10 0h10m19 0h10m19 0h20m-302 1h10m126 0h10m20 0h9m59 0h10m19 0h10m58 0h10m-195 1h10m58 0h10m20 0h9m68 0h10m68 0h10m-380 1h20m136 0h10m-283 1h10m29 0h10m156 0h10m39 0h9m137 0h9m88 0h20m-429 1h10m195 0h9m185 0h10m-477 1h10m19 0h29m20 0h10m214 0h10m-361 1h20m146 0h10m155 0h10m117 0h10m19 0h10m-458 1h10m156 0h9m39 0h10m156 0h10m-341 1h10m68 0h10m38 0h10m205 0h9m30 0h9m20 0h10m-409 1h9m78 0h10m204 0h10m127 0h10m-380 1h10m136 0h10m68 0h9m127 0h10m-516 1h9m49 0h10m146 0h10m19 0h10m19 0h10m29 0h10m-224 1h10m10 0h29m48 0h10m-136 1h10m58 0h10m146 0h10m39 0h19m19 0h10m20 0h9m-340 1h9m88 0h10m146 0h10m29 0h9m20 0h10m-117 1h19m10 0h20m107 0h9m-467 1h19m127 0h10m263 0h19m88 0h10m-546 1h10m29 0h20m126 0h10m-146 1h10m214 0h10m29 0h10m204 0h10m-409 1h10m194 0h10m127 0h19m-458 1h10m68 0h10m78 0h10m68 0h10m58 0h10m68 0h10m9 0h20m68 0h10m-487 1h19m69 0h9m39 0h10m88 0h9m20 0h10m58 0h10m117 0h9m20 0h10m-546 1h10m107 0h10m-136 1h9m10 0h10m48 0h20m146 0h10m-195 1h10m107 0h19m-185 1h10m58 0h10m302 0h10m97 0h10m-321 1h19m68 0h10m68 0h20m29 0h29m29 0h10m68 0h10m-468 1h10m29 0h10m244 0h9m88 0h10m-361 2h10m39 0h10m29 0h19m147 0h9m59 0h39m58 0h10m-545 1h9m98 0h9m234 0h20m38 0h10m127 0h10m-536 1h19m98 0h10m19 0h20m204 0h19m88 0h10m-419 1h10m29 0h10m19 0h10m341 1h10m-497 1h10m175 0h10m19 0h10m185 0h10m9 0h10m88 0h10m-546 1h10m321 0h10m-331 1h10m194 0h10m234 0h10m19 0h10m-409 1h19m39 0h10m146 0h20m9 0h10m29 0h10m136 0h10m-535 1h9m98 0h9m88 0h10m-205 1h29m88 0h10m19 0h10m166 0h9m-331 1h20m58 0h10m10 0h9m78 0h10m58 0h10m10 0h10m58 0h10m48 0h30m68 0h10m-516 1h9m214 0h10m59 0h9m39 0h10m20 0h9m49 0h10m48 0h10m-331 1h10m243 0h10m-428 1h19m58 0h10m98 0h9m39 0h10m156 0h9m39 0h10m-282 1h10m107 0h9m39 0h10m127 0h9m-399 1h10m165 0h20m49 0h19m68 0h10m39 0h10m39 0h9m-457 1h9m49 0h10m39 0h10m87 0h10m97 0h10m68 0h20m48 0h10m-399 1h10m9 0h10m10 0h19m273 0h10m-429 1h10m117 0h10m19 0h10m68 0h10m-263 1h9m370 0h10m68 0h10m39 0h10m-477 1h19m39 0h10m19 0h10m10 0h10m-137 1h20m9 0h10m10 0h10m126 0h10m29 0h10m107 0h10m68 0h19m-301 1h9m127 0h10m-117 1h9m30 0h9m39 0h10m136 0h10m-428 1h9m78 0h10m29 0h10m146 0h10m117 0h9m-340 1h9m30 0h9m30 0h19m10 0h9m176 0h19m49 0h10m68 0h10m-546 1h20m97 0h10m87 0h10m156 0h10m126 0h10m-448 1h10m49 0h9m39 0h10m175 0h10m68 0h10m-351 1h10m59 0h9m39 0h10m39 0h19m-243 1h19m137 0h9m39 0h10m117 0h10m-322 1h10m59 0h9m137 0h9m49 0h10m19 0h10m136 0h10m-58 1h9m-340 1h9m39 0h10m29 0h10m156 0h9m10 0h20m87 0h10m-341 1h20m107 0h10m-146 1h9m39 0h10m117 0h10m29 0h9m-379 1h9m10 0h10m165 0h10m117 0h10m126 0h10m49 0h10m-312 2h10m9 0h10m88 0h10m29 0h9m-379 1h9m273 0h10m-175 1h9m195 0h10m-331 1h19m175 0h10m98 0h19m20 0h9m29 0h10m68 0h10m29 1h10m-497 1h10m117 0h10m117 0h9m-292 1h10m107 0h10m10 0h19m58 0h10m166 0h9m78 0h10m29 0h10m-438 1h19m59 0h10m116 0h20m107 0h10m58 0h10m-458 1h10m68 0h10m136 0h10m49 0h9m-253 1h10m78 0h10m97 0h10m204 0h10m-497 1h10m312 0h9m-263 1h10m107 0h10m19 0h10m20 0h9m49 0h10m-195 1h20m262 0h10m29 0h10m68 0h20m-545 1h9m10 0h10m165 0h10m195 0h9m108 0h9m-428 1h10m29 0h19m78 0h10m10 0h9m273 0h20m-526 1h9m39 0h10m39 0h20m58 0h10m156 0h9m68 0h10m29 0h10m-477 1h10m87 0h10m97 0h10m29 0h10m166 0h9m-438 1h10m409 0h10m58 0h10m29 0h10m-526 1h10m243 0h10m195 0h9m-448 1h10m214 0h10m10 0h10m-98 1h10m117 0h10m87 0h10m-321 1h9m88 0h19m117 0h10m39 0h39m-370 1h10m311 0h10m29 0h10m10 0h9m-418 1h9m10 0h10m97 0h10m224 0h19m-408 1h19m97 0h10m97 0h10m146 0h10m107 0h10m-506 1h9m137 0h9m49 0h19m30 0h9m20 0h10m19 0h10m10 0h9m10 0h10m-146 1h9m117 0h20m68 0h10m39 0h9m-477 1h10m10 0h9m147 0h9m88 0h10m19 0h10m204 0h10m-419 1h10m97 0h20m19 0h10m107 0h10m49 0h9m-447 1h9m98 0h9m-97 1h10m29 0h10m9 0h10m10 0h19m263 0h10m-351 1h20m263 0h10m-273 1h10m29 0h10m224 0h9m20 0h10m38 0h20m-136 1h9m166 0h10m29 0h10m9 0h10m-526 1h10m175 0h10m214 0h10m39 0h19m-370 1h10m166 0h9m127 0h10m-263 1h10m-185 1h9m49 0h10m9 0h10m360 0h20m-321 1h9m244 0h9m39 0h10m10 0h10m29 0h10m-429 1h20m68 0h10m233 0h10m10 0h9m10 0h10m-409 1h10m165 0h10m136 0h10m19 0h10m29 0h10m-117 1h10m-214 1h10m19 0h10m68 0h10m107 0h10m-283 1h10m10 0h9m30 0h9m98 0h9m10 0h10m224 0h10m-516 1h19m58 0h10m107 0h20m68 0h10m9 0h10m10 0h19m88 0h10m39 0h9m-486 1h9m29 0h10m273 0h10m214 0h10m-526 1h9m49 0h20m39 0h9m351 0h10m9 0h10m-535 1h9m68 0h10m39 0h20m107 0h9m20 0h29m166 0h9m-477 1h10m321 0h10m195 0h10m-409 1h19m68 0h10m273 0h19m-526 1h10m10 0h9m78 0h30m370 0h9m-428 1h10m58 0h10m58 0h10m107 0h10m-351 1h10m19 0h10m59 0h9m166 0h10m87 0h10m58 0h20m-467 1h9m49 0h10m29 0h10m253 0h19m39 0h10m-156 1h10m195 0h9m-379 1h9m117 0h10m-29 1h9m10 1h10m19 0h10m10 0h10m233 0h10m-535 1h9m29 0h10m156 0h10m48 0h20m214 0h10m29 0h10m-448 1h19m302 0h10m-97 1h9m88 0h10m107 0h10m-419 1h10m9 0h10m49 0h9m156 0h10m78 0h10m-477 1h9m59 0h9m39 0h10m97 0h10m78 0h10m107 0h10m29 0h19m10 0h10m-321 2h9m234 0h10m29 0h10m-322 1h10m195 0h10m-302 1h9m108 0h9m39 0h10m49 0h9m69 0h9m20 0h9m10 0h10m97 0h10m-263 1h20m39 0h9m88 0h10m39 0h9m-389 1h10m39 0h9m49 0h10m321 0h10m-536 1h10m49 0h9m-48 1h19m10 0h10m19 0h10m49 0h9m49 0h10m48 0h10m59 0h9m20 0h10m107 0h19m20 0h9m-214 1h10m58 0h20m107 0h10m-409 1h9m49 0h10m39 0h9m20 0h10m155 0h30m48 0h10m-302 1h10m68 0h10m126 0h10m-389 1h9m108 0h9m59 0h9m10 0h10m224 0h10m-370 1h9m59 0h10m107 0h9m20 0h10m9 0h10m29 0h10m88 0h9m39 0h10m-516 1h10m126 0h10m39 0h10m-49 1h10m48 0h10m29 0h10m49 0h10m97 0h10m-438 1h9m39 0h10m175 0h10m78 0h29m68 0h10m-263 1h10m39 0h9m127 0h29m-370 1h29m78 0h10m156 0h19m30 0h9m30 0h9m-292 1h10m88 0h9m234 0h19m-204 1h10m155 0h10m10 0h10m58 0h10m-429 1h10m39 0h10m58 0h10m19 0h10m49 0h10m87 0h10m68 0h10m10 0h9m-467 1h19m224 0h10m156 0h10m9 0h10m39 0h10m-429 1h10m20 0h9m234 0h10m58 0h10m-419 1h10m107 0h10m29 0h20m77 0h10m185 0h10m-360 1h19m88 0h9m-107 1h10m205 0h9m68 0h20m-370 1h10m58 0h10m58 0h10m68 0h10m49 0h19m156 0h10m-487 1h9m49 0h10m19 0h10m39 0h10m39 0h9m205 0h10m-166 1h10m10 0h19m20 0h9m49 0h10m97 0h10m29 0h20m-361 1h10m58 0h10m20 0h9m-263 1h10m20 0h9m137 0h9m10 0h20m58 0h10m68 0h10m-253 1h19m20 0h9m29 0h10m175 0h20m68 0h10m-497 1h10m10 0h9m322 0h10m38 0h10m88 0h10m19 0h10m-419 1h10m58 0h10m19 0h10m49 0h19m20 0h10m58 0h19m30 0h9m-379 1h19m331 0h20m-370 1h9m361 0h19m-448 1h10m302 0h10m29 0h10m107 0h9m49 0h10m-545 1h9m273 0h10m58 0h10m136 0h10m-468 1h10m10 0h10m457 0h10m10 0h10m-254 1h10m88 0h9m-48 1h10m126 0h10m-234 1h10m19 0h10m107 0h20m68 0h10m19 0h10m-380 1h10m282 0h10m-195 1h10m39 0h19m30 0h9m59 0h9m10 0h20m19 0h10m-399 1h9m10 0h10m165 0h20m10 0h9m78 0h10m-312 1h10m10 0h10m136 0h10m116 0h20m88 0h19m-331 1h10m9 0h10m10 0h10m155 1h10m29 0h10m-399 1h29m10 0h10m29 0h19m195 0h10m19 0h10m49 0h9m20 0h19m-428 1h10m272 0h10m20 0h19m-351 1h10m88 0h29m166 0h9m49 0h10m19 0h10m10 0h9m-253 1h10m302 0h10m-458 1h10m19 0h10m29 0h10m107 0h10m29 0h10m253 0h10m-536 1h10m9 0h10m98 0h9m68 0h10m185 0h10m10 0h19m29 0h10m10 0h10m-487 1h9m39 0h10m29 0h10m146 0h10m10 0h9m49 0h10m29 0h10m68 0h19m30 0h9m-428 1h10m68 0h10m58 0h10m29 0h19m107 0h20m19 0h20m68 0h20m-536 1h10m165 0h20m19 0h20m39 0h9m127 0h19m88 0h10m-448 1h10m48 0h10m146 0h10m204 0h10m-535 1h9m59 0h9m224 0h10m20 0h9m137 0h9m30 0h19m-399 1h10m224 0h19m68 0h10m-292 1h19m10 0h10m78 0h9m39 0h20m29 0h10m126 0h10m10 0h10m-526 1h9m205 0h10m19 0h10m29 0h10m87 0h10m-370 1h20m48 0h10m117 0h19m39 0h10m59 0h9m127 0h10m-487 1h9m88 0h10m136 0h10m-185 1h19m69 0h9m185 0h10m19 0h20m10 0h9m88 0h10m-273 1h10m68 0h10m68 0h10m39 0h9m-263 1h10m20 0h9m263 0h10m-516 1h10m126 0h10m29 0h20m272 0h20m-468 1h10m29 0h10m136 0h10m175 0h20m10 0h19m-457 1h9m78 0h10m243 0h10m10 0h10m116 0h10m39 0h10m-438 1h9m30 0h9m49 0h10m9 0h10m39 0h10m97 0h10m117 0h19m20 0h10m-507 1h10m29 0h10m39 0h10m0 1h9m10 0h10m185 0h10m68 0h9m20 0h19m10 0h10m-477 1h9m147 0h9m10 0h19m147 0h9m49 0h10m9 0h10m29 0h10m-458 1h10m29 0h20m49 0h9m-126 1h19m10 0h10m29 0h10m58 0h10m10 0h9m78 0h10m136 0h10m49 0h9m20 0h19m20 0h10m-409 1h9m215 0h9m10 0h10m9 0h10m10 0h10m9 0h20m-448 1h10m146 0h10m97 0h10m68 0h10m126 0h10m-468 1h10m137 0h9m39 0h10m175 0h10m-49 1h20m-380 1h10m477 0h10m9 0h10m-526 1h20m29 0h10m321 0h19m20 0h10m107 0h10m-546 1h10m156 0h10m165 0h10m117 0h9m49 0h10m-380 1h10m58 0h10m136 0h10m-341 1h10m370 0h10m-409 1h9m293 0h9m-175 1h10m19 0h20m29 0h10m194 0h10m-311 1h9m59 0h9m283 0h10m-224 1h9m107 0h10m49 0h10m-419 1h10m9 0h10m107 0h10m166 0h9m20 0h9m30 0h9m69 0h9m-477 1h10m29 0h20m68 0h10m48 0h10m58 0h10m20 0h9m107 0h10m88 0h10m-526 1h9m49 0h10m126 0h20m78 0h10m-331 1h9m10 0h10m175 0h10m19 0h10m39 0h10m68 0h10m116 0h10m49 0h10m-448 1h9m78 0h10m156 0h19m156 0h10m-497 1h10m19 0h10m68 0h10m58 0h10m49 0h10m204 0h20m-497 1h10m87 0h10m107 0h10m49 0h9m49 0h20m77 0h10m-448 1h10m263 0h10m58 0h10m58 0h10m97 0h10m-487 1h20m39 0h9m127 0h10m48 0h10m68 0h10m-370 1h10m39 0h19m49 0h19m370 0h10m-535 1h9m29 0h10m10 0h10m9 0h10m283 0h19m-360 1h9m30 0h9m49 0h10m58 0h10m117 0h10m9 0h10m107 0h10m-467 1h9m29 0h20m117 0h10m29 0h9m322 0h10m-526 1h9m59 0h10m9 0h20m87 0h10m224 0h10m-467 1h19m49 0h9m166 0h10m97 0h10m-351 1h10m19 0h10m39 0h10m97 0h10m49 0h9m20 0h29m68 0h10m29 0h10m10 0h9m10 0h10m39 0h19m20 0h10m-536 1h10m331 0h19m-341 1h10m253 0h10m234 0h10m-497 1h10m78 0h9m98 0h9m176 0h9m30 0h9m-428 1h29m39 0h10m78 0h9m78 0h10m224 0h10m-370 1h10m165 0h10m58 0h10m97 0h10m-526 1h10m127 0h9m137 0h19m10 0h10m29 0h10m146 0h9m10 0h10m-526 1h10m9 1h10m429 0h9m10 0h10m-448 1h10m78 0h9m117 0h10m136 0h10m29 0h10m-292 1h10m136 0h10m77 0h10m10 0h10m-351 1h10m19 0h10m59 0h19m58 0h20m88 0h9m39 0h20m9 0h20m-458 1h10m156 0h10m19 0h10m78 0h9m205 0h19m-399 1h10m10 0h9m107 0h10m10 0h10m87 0h10m29 0h10m49 0h9m49 0h10m-468 1h10m49 0h10m107 0h9m30 0h9m10 0h10m68 0h10m87 0h10m-487 1h10m166 0h9m20 0h9m39 0h10m49 0h10m39 0h9m68 0h10m10 0h10m-370 1h9m20 0h10m48 0h10m78 0h10m19 0h10m39 0h10m19 0h10m-390 1h10m107 0h10m10 0h29m126 0h10m185 0h10m19 0h10m-380 1h10m10 0h10m19 0h10m175 0h10m136 0h10m-429 1h10m127 0h9m20 0h10m175 0h19m10 0h10m-448 1h10m29 0h10m48 0h10m175 0h20m117 0h19m39 0h10m-429 1h10m127 0h9m-204 1h10m78 0h19m39 0h10m68 0h10m48 0h10m20 0h9m-331 1h10m29 0h10m58 0h10m253 0h10m-360 1h9m224 0h10m127 0h9m-438 1h10m185 0h10m9 0h10m10 0h19m10 0h10m10 0h9m39 0h10m10 1h10m87 0h10m58 0h10m10 0h10m-555 1h29m146 0h10m58 0h10m78 0h9m-292 1h10m409 0h10m-380 1h10m204 0h10m214 0h10m-526 1h10m78 0h9m205 0h10m29 0h19m-233 1h9m59 0h9m108 0h9m20 0h10m97 0h10m-283 1h10m-175 1h19m20 0h9m78 0h20m117 0h9m107 0h10m29 0h10m20 0h9m-448 1h20m19 0h10m20 0h9m49 0h10m10 0h19m195 0h9m30 0h9m-409 1h10m10 0h10m136 0h10m87 0h10m39 0h10m19 0h20m-399 1h9m10 0h10m107 0h10m126 0h10m29 0h10m97 0h10m10 0h9m-409 1h10m117 0h10m165 0h10m-331 1h10m175 0h10m204 0h10m19 0h10m10 0h10m-351 1h10m49 0h9m20 0h9m20 0h10m39 0h9m-301 1h9m29 0h10m88 0h19m20 0h10m38 0h10m39 1h10m107 0h10m-399 1h9m49 0h10m9 0h10m107 0h10m234 0h19m-457 1h19m29 0h10m273 0h9m-155 1h9m20 0h9m69 0h9m59 0h10m97 0h10m-234 1h10m19 0h10m19 0h10m97 0h10m39 0h10m-302 1h10m97 0h20m87 0h10m-253 1h10m48 0h10m88 0h9m-204 1h10m282 0h10m58 0h20m-429 1h10m107 0h10m10 0h19m49 0h9m263 0h10m-497 1h10m78 0h10m19 0h10m224 0h10m58 0h10m10 0h9m-477 1h10m302 0h10m87 1h10m-370 1h10m29 0h10m19 0h10m19 0h10m175 0h20m48 0h10m29 0h10m-409 1h10m10 0h9m117 0h10m185 0h10m19 0h10m-263 1h10m68 0h10m29 0h10m165 0h10m58 0h20m-360 1h9m176 0h19m78 0h10m-351 1h10m195 0h19m166 0h9m-467 1h19m224 0h10m68 0h10m-331 1h10m29 0h10m146 0h9m263 0h10m-458 1h20m49 0h9m205 0h10m9 0h10m146 1h10m-545 1h9m331 0h10m185 0h20m-49 1h19m-263 1h10m175 0h10m20 0h9m20 0h10m-487 1h9m147 0h19m224 0h19m-29 1h10m10 0h9m-165 1h10m116 0h10m29 0h10m-409 1h10m146 0h10m9 0h10m39 0h10m204 0h10m49 0h10m-497 1h10m39 0h9m49 0h10m126 0h10m107 0h10m39 0h10m-380 1h10m87 0h10m127 0h9m98 0h9m-447 1h9m29 0h10m10 0h10m39 0h9m107 0h20m-68 1h10m146 0h9m127 0h19m-457 1h9m166 0h10m9 0h20m49 0h9m107 0h10m107 0h10m-497 1h10m59 0h9m30 0h9m127 0h10m39 0h9m10 0h20m-351 2h10m78 0h9m107 0h10m10 0h10m78 0h9m166 0h10m-370 1h9m224 0h10m78 0h10m-400 2h10m78 0h10m19 0h10m49 0h9m20 0h10m116 0h10m98 0h9m-457 1h9m30 0h9m59 0h10m58 0h29m78 0h10m78 0h9m-399 1h10m29 0h10m126 0h10m283 0h9m10 0h10m-477 1h9m108 0h9m253 0h10m10 0h19m39 0h10m-331 1h10m97 0h10m87 0h10m39 0h10m-224 1h10m78 0h9m39 1h10m39 0h29m20 0h9m-350 1h10m292 0h9m49 0h10m29 0h10m-477 1h9m39 0h10m136 0h20m68 0h10m29 0h10m-224 1h10m262 0h10m88 0h10m-555 1h9m10 0h10m48 0h10m78 0h10m117 0h9m137 0h9m-331 1h10m10 0h10m68 0h9m59 0h10m9 0h10m20 0h9m185 0h10m-535 1h9m146 0h10m78 0h10m117 0h9m49 0h10m48 0h10m49 0h10m-497 1h10m78 0h9m146 0h10m68 0h20m117 0h9m-525 1h9m10 0h10m19 0h10m19 0h10m49 0h10m29 0h10m126 0h10m107 0h10m-331 1h9m176 0h9m234 0h10m-536 1h10m58 0h10m127 0h9m322 0h10m-332 1h20m39 0h10m-292 1h9m20 0h9m117 0h10m88 0h9m39 0h10m59 0h9m20 0h9m10 0h10m-390 1h10m214 0h10m117 0h10m68 0h10m29 0h10m-516 1h9m78 0h10m97 0h29m10 0h10m204 0h10m29 0h10m-458 1h10m10 0h10m126 0h10m107 0h10m68 0h10m29 0h10m19 0h10m-458 1h10m146 0h10m97 0h10m-185 1h10m68 0h10m311 0h10m-448 1h10m87 0h10m97 0h10m39 0h10m-234 1h10m360 0h10m10 0h9m10 0h10m-468 1h10m78 0h10m175 0h10m78 0h9m117 0h10m-331 1h10m136 0h10m10 0h9m127 0h19m-409 1h10m136 0h10m-58 1h9m108 0h9m49 0h10m87 0h10m-380 1h10m49 0h10m58 0h19m30 0h9m-253 1h10m78 0h19m30 0h19m68 0h10m29 0h10m58 0h10m68 0h10m-390 1h10m438 0h10m-448 1h20m58 0h10m10 0h9m127 0h10m48 0h10m29 0h10m29 0h20m-234 1h19m244 0h10m-516 1h9m49 0h19m78 0h10m97 0h10m39 0h10m10 0h9m107 0h20m78 0h10m-546 1h10m10 0h9m176 0h9m234 0h10m10 0h9m-370 1h20m19 0h10m341 0h19m-379 1h9m127 0h10m224 0h9m-457 1h9m78 0h10m97 0h10m273 0h10m-478 1h10m29 0h10m10 0h10m116 0h20m58 0h10m175 0h10m-526 1h10m88 0h9m59 0h10m9 0h10m88 0h9m117 0h10m-39 1h10m87 0h10m-477 1h10m107 0h10m233 0h10m10 0h9m-340 1h9m117 0h10m29 0h10m39 0h10m97 0h10m78 0h9m59 0h10m-507 1h10m58 0h10m59 0h9m29 0h10m10 0h10m117 0h29m68 0h19m39 0h20m-429 1h20m292 0h10m-370 1h9m69 0h9m156 0h10m165 0h10m29 0h10m-195 1h20m97 0h10m10 0h9m-448 1h20m175 0h10m39 0h10m39 0h9m78 0h10m19 0h20m49 0h9m-525 1h9m137 0h9m107 0h10m20 0h9m88 0h10m136 0h10m-331 1h9m127 0h10m156 0h9m-379 1h9m30 0h9m29 0h10m302 0h10m-516 1h19m59 0h9m59 0h10m58 0h10m19 0h10m10 0h9m-136 1h10m233 0h10m39 0h10m-458 1h10m68 0h10m88 0h9m205 0h9m78 0h10m49 0h10m-517 1h10m98 0h9m98 0h9m49 0h10m-321 1h9m39 0h10m49 0h19m253 0h10m-234 1h10m10 0h10m58 0h10m58 0h10m10 0h9m30 0h9m20 1h9m30 0h9m59 0h10m-497 1h10m9 0h10m49 0h10m29 0h10m68 0h19m49 0h10m-244 1h10m68 0h10m97 0h10m19 0h30m204 0h10m19 0h10m-360 1h10m97 0h10m19 0h10m87 0h10m59 0h9m-467 1h10m58 0h10m68 0h10m48 0h10m166 0h9m39 0h10m10 0h10m39 0h9m-477 1h10m19 0h10m195 0h10m87 0h10m-331 1h10m29 0h10m39 0h19m97 0h10m263 0h10m-545 1h9m146 0h10m58 0h10m127 0h10m107 0h9m49 0h20m-390 1h10m10 0h9m127 0h10m87 0h10m-214 1h9m10 0h10m127 0h9m127 0h10m9 0h10m-516 1h10m29 0h10m78 0h9m331 0h10m-458 1h10m29 0h10m98 0h9m302 0h10m39 0h10m-536 1h10m19 0h10m29 0h10m39 0h10m19 0h10m146 0h10m58 0h10m-166 1h10m97 0h10m97 0h10m20 0h9m-204 1h10m-283 1h10m10 0h9m127 0h10m19 0h10m29 0h10m10 0h9m78 0h10m117 0h10m29 0h10m-166 1h10m107 0h19m-428 1h10m9 0h10m156 0h10m107 0h10m-361 1h10m49 0h9m30 0h9m69 0h9m234 0h10m48 0h10m-438 1h10m78 0h9m195 0h10m29 0h10m39 0h9m-428 1h10m19 0h10m146 0h10m39 0h9m146 0h10m-282 1h10m19 0h10m48 0h10m185 0h10m-390 1h10m78 0h10m39 0h10m29 0h9m108 0h9m127 0h10m39 0h19m-428 1h9m20 0h10m58 0h10m68 0h10m9 0h20m136 0h10m-448 1h19m487 0h10m-448 1h10m78 0h10m107 0h9m20 0h10m165 0h20m-497 1h10m126 0h20m341 0h9m-516 1h10m10 0h9m195 0h10m-243 1h9m10 0h10m48 0h10m88 0h10m282 0h10m58 0h10m-253 1h9m39 0h10m166 0h9m-525 1h9m176 0h19m10 0h9m215 0h9m-321 1h10m19 0h10m97 0h10m107 0h10m107 0h10m10 0h29m-438 1h19m195 0h10m58 0h10m78 0h9m30 0h9m-409 1h10m29 0h10m117 0h10m78 0h9m68 0h10m78 0h10m-399 1h9m49 0h10m58 0h10m204 0h10m49 0h10m-526 1h9m78 0h10m88 0h9m117 0h10m107 0h10m-409 1h10m9 0h10m166 0h9m10 0h10m19 0h10m78 0h10m136 0h10m-283 1h10m39 0h10m29 0h10m39 0h9m30 0h9m39 0h10m10 0h10m-429 1h10m39 0h10m29 0h10m155 0h10m10 0h10m9 0h10m127 0h9m-506 1h10m39 0h9m20 0h19m234 0h10m97 0h10m-419 1h10m370 0h10m48 0h10m-438 1h10m29 0h19m215 0h19m29 0h10m88 0h19m49 0h10m-546 1h10m58 0h10m78 0h20m292 0h9m-457 1h9m117 0h10m49 0h19m59 0h9m30 0h9m205 0h10m-555 1h9m137 0h9m39 0h10m10 0h9m185 0h10m10 0h10m-429 1h10m204 0h10m10 0h10m233 0h10m49 0h10m-458 1h10m87 0h10m10 0h9m59 0h10m116 0h20m-428 1h19m97 0h10m205 0h9m-272 1h9m146 0h10m195 0h10m-429 1h10m399 0h20m-292 1h9m59 0h9m98 0h10m-331 1h9m10 0h10m97 0h10"/>
<path stroke="#0000e5" stroke-width="2" d="M617 208h10m-390 1h10m107 0h10m-273 1h10m467 0h10m-88 2h10m107 7h10m-205 1h10m-78 1h10m-136 2h9m-107 2h10m165 4h10m-233 4h9m166 0h10m-10 10h10m185 0h9m-185 3h10m175 0h10m-78 2h10m29 1h10m-302 4h10m-20 4h10m175 8h10m-88 6h10m-156 1h10m49 5h9m69 0h9m253 0h10m-58 3h10m-332 5h10m448 2h10m-107 6h9m78 0h10m-58 2h9m-292 1h10m29 6h10m78 2h10m126 2h10m10 1h9m0 2h10m-302 5h10m331 3h10m-214 3h9m-87 1h9m127 1h10m-302 5h10m39 5h9m429 0h10m-351 3h10m-214 1h9m78 0h10m380 1h9m-97 2h10m-312 3h10m39 0h10m292 0h9m-116 10h9m127 0h10m-254 15h10m-39 1h10m68 0h10m-166 1h10m-88 3h10m302 0h10m48 2h10m-39 1h10m88 3h9m-165 2h10m-302 1h9m322 2h10m-293 4h10m166 2h9m273 0h10m-390 1h10m321 3h10m-195 1h10m10 1h10m-185 2h9m127 3h10m-195 2h10m233 0h10m146 1h10m-117 3h10m-273 1h10m-127 5h10m224 2h10m204 0h10m-166 5h10m49 1h10m146 5h9m-233 1h9m88 0h10m-331 2h9m380 1h10m10 3h9m-467 2h10m117 0h9m-48 3h9m185 0h10m-263 5h10m127 4h9m-175 4h10m194 0h10m-156 1h10m175 0h10m-243 1h9m117 0h10m10 0h10m-185 10h9m166 1h10m155 0h10m-185 3h10m126 1h10m39 4h10m-29 1h9m68 0h10m-156 1h10m68 1h10m39 0h10m-341 4h10m-20 9h10m477 1h10m-545 2h9m263 1h10m-214 2h9m254 0h9m-155 2h9m-39 2h10m146 2h10m195 1h9m-126 1h9m-243 4h10m-68 7h9m331 0h10m68 1h20m-29 2h9m-418 2h9m-68 3h10m389 4h10m-136 1h10m97 0h10m-176 3h10m214 0h10m-126 4h9m-126 6h9m117 3h10m68 0h10m-156 4h10m-214 1h9m312 4h10m107 4h10m-156 2h9m-87 3h10m-127 2h10m331 0h10m-78 5h9m-340 6h9m273 5h10m107 1h10m-117 1h9m-97 2h10m-156 1h10m214 0h10m-117 2h10m39 0h9m117 0h10m-117 1h10m-273 1h10m10 3h9m-97 4h10m321 2h10m39 5h9m39 0h10m-370 6h10m146 1h10m-107 2h9m-48 1h9m10 0h10m97 0h10m-273 7h10m448 5h10m-215 3h10m78 2h10m-244 5h10m312 5h9m-379 4h9m263 5h10m-165 1h9m127 0h10m-312 2h10m87 3h10m282 0h10m-117 2h10m127 3h9m-233 1h9m263 8h10m-88 2h10m29 1h10m-409 4h10m263 8h10m-176 1h10m58 2h10m-224 11h10m146 0h10m19 0h10m224 0h10"/>
<path stroke="#0000e5" stroke-width="3" d="M529 288.5h10m-253 89h9m-19 11h10m214 110h10m-20 23h10m-39 10h10m48 80h10m-204 74h9m-87 4h10"/>
<path stroke="#0000f3" stroke-width="1" d="M188 205.5h10m263 0h10m19 0h10m88 0h9m-496 1h9m10 0h10m39 0h10m87 0h10m136 0h20m87 0h10m-419 1h10m78 0h10m126 0h10m185 0h10m-448 1h10m214 0h10m146 0h9m39 0h10m-409 1h10m127 0h9m185 0h20m-185 1h9m205 0h10m87 0h10m-487 1h10m68 0h29m78 0h29m108 0h9m29 0h10m78 0h10m-468 1h10m68 0h10m49 0h10m-30 1h10m58 0h10m59 0h9m117 0h10m49 0h19m-419 1h20m39 0h10m282 0h10m-156 1h10m29 0h10m87 0h10m-273 1h10m88 0h9m49 0h10m185 0h10m-390 1h10m126 0h10m88 0h29m88 0h9m-438 1h10m117 0h10m38 0h10m10 0h10m107 0h10m19 0h10m97 0h10m-370 1h10m87 0h10m68 0h20m185 0h19m-458 2h10m205 0h9m166 0h10m9 0h10m-487 1h10m10 0h9m185 0h10m127 0h10m9 0h10m-302 1h10m350 0h10m-419 1h10m68 0h10m224 0h10m10 0h9m20 0h9m117 0h10m-243 1h9m30 0h9m137 0h9m10 0h10m19 0h20m-516 1h19m29 0h10m68 0h20m39 0h9m39 0h10m117 0h10m-361 1h20m224 0h10m126 0h10m68 0h10m-458 1h10m302 0h10m136 0h10m-254 1h10m146 0h10m-214 1h9m88 0h10m19 0h10m175 0h10m10 0h10m-497 1h10m185 0h19m49 0h10m19 0h10m78 0h9m88 0h10m-419 1h20m19 0h10m19 0h10m185 0h10m68 0h19m49 0h20m-429 1h10m87 0h10m-117 1h10m10 0h10m9 0h10m136 0h10m39 0h10m-214 1h9m30 0h9m39 0h10m136 0h10m146 0h10m-429 1h10m10 0h10m116 0h10m29 0h10m78 0h10m-234 1h10m19 0h10m146 0h20m9 0h10m68 0h10m-399 1h19m166 0h9m-253 1h10m39 0h10m233 1h10m88 0h9m10 0h20m19 0h10m-360 1h9m10 0h10m10 1h9m49 0h10m9 0h10m205 0h9m39 0h10m10 0h19m-448 1h10m39 0h10m292 0h10m68 0h10m-497 1h10m9 0h10m234 0h19m166 0h10m-370 1h19m136 0h10m49 0h19m10 0h10m39 0h9m49 0h10m-331 1h10m165 0h10m10 0h9m195 0h10m-477 1h19m29 0h10m20 0h9m215 0h9m127 0h10m-351 1h10m39 0h9m205 0h10m9 0h20m-370 1h10m87 0h10m29 0h10m19 0h10m59 0h9m-340 1h9m59 0h9m176 0h9m88 0h10m29 0h10m-273 1h10m19 0h20m253 0h10m-429 1h10m282 0h10m29 0h10m-302 1h10m156 0h9m69 0h9m244 0h10m-409 1h9m39 0h10m127 0h9m88 0h10m97 0h10m-507 2h10m39 0h20m263 0h19m-360 1h9m137 0h19m59 0h19m175 0h10m49 0h10m-215 1h10m97 0h10m-380 1h10m10 0h19m20 0h10m29 0h10m48 0h10m195 0h19m59 0h9m-477 1h10m263 0h10m-107 1h9m253 0h10m-224 1h10m19 0h10m98 0h9m98 0h9m20 0h10m29 0h10m-312 1h10m78 0h9m195 0h10m-487 1h10m58 0h10m282 0h10m-185 1h10m233 0h20m-321 1h9m10 0h10m19 0h10m165 0h10m39 0h20m39 0h9m-360 1h10m-175 1h9m59 0h9m39 0h10m107 0h10m10 0h9m273 0h20m-497 1h10m9 0h10m253 0h10m49 0h9m-311 1h10m39 0h9m68 0h10m195 0h10m-322 1h10m59 0h9m59 0h9m88 0h10m-185 1h10m48 0h10m-97 1h9m39 0h10m97 0h10m-311 1h19m224 0h10m19 0h10m58 0h10m10 0h19m-331 1h10m312 0h9m-78 1h10m166 0h19m-458 1h10m10 1h10m39 0h9m69 0h9m10 0h10m29 0h19m98 0h10m9 0h10m136 0h10m10 0h10m-478 1h10m224 0h10m78 0h9m20 0h19m30 0h9m-29 1h10m-467 1h19m88 0h9m20 0h10m48 0h10m166 0h9m68 0h10m-399 1h10m29 0h10m9 0h10m49 0h10m350 0h10m-458 1h10m88 0h9m117 0h10m29 0h10m-137 1h10m146 0h10m29 0h10m-234 1h10m-49 1h10m20 0h9m29 0h10m20 0h9m-126 1h10m19 0h10m214 0h10m39 0h9m-321 1h20m39 0h9m68 1h10m78 0h10m19 0h10m-234 1h10m273 0h9m20 0h10m-400 1h10m39 0h10m29 0h10m165 0h10m29 0h10m68 0h10m-312 1h10m117 0h19m-29 1h10m-195 1h10m49 0h9m137 0h19m39 0h10m-68 1h9m10 0h10m78 0h9m39 0h10m-175 1h29m-282 1h9m185 0h10m49 0h10m224 0h9m20 0h10m-497 1h10m282 0h10m48 0h10m39 0h10m58 0h20m-545 1h9m10 0h19m10 0h10m39 0h19m361 0h19m-321 1h10m38 0h10m166 0h9m59 0h10m-419 1h19m69 0h9m59 0h9m117 0h10m20 0h9m-360 1h10m263 0h9m59 0h10m38 0h10m39 0h10m-351 1h10m214 0h10m20 0h19m10 0h9m39 0h10m39 0h10m-175 1h9m39 0h20m-49 1h29m59 0h9m-389 1h10m29 0h10m214 0h29m-146 1h10m87 0h10m88 0h9m78 0h20m-419 1h10m68 0h10m185 0h10m146 0h9m-331 1h10m39 0h10m39 0h19m117 0h10m-409 1h29m68 0h10m10 0h9m49 0h10m-78 1h29m185 0h10m136 0h10m-380 1h10m68 0h19m185 0h10m107 0h10m-117 1h10m39 0h10m-331 1h9m98 0h9m49 0h10m29 0h10m78 0h19m-457 1h9m88 0h10m58 0h10m39 0h9m98 0h10m97 0h10m-390 1h10m146 0h10m29 0h10m9 0h10m59 0h9m166 0h10m-516 1h19m88 0h9m-58 1h10m331 0h9m88 0h10m19 0h10m-516 1h10m292 0h10m39 1h9m-311 1h9m224 0h20m117 0h9m-272 1h10m253 0h19m10 0h10m39 0h9m-477 1h29m88 0h10m19 0h10m19 0h10m117 0h10m68 0h19m49 0h29m-340 1h9m68 0h10m49 0h10m29 0h10m-361 1h10m117 0h10m97 0h10m58 0h10m126 0h10m20 0h9m49 0h10m-545 1h9m29 0h10m68 0h10m59 0h9m292 0h10m-399 1h10m58 0h10m117 0h19m127 0h9m59 0h19m-389 1h10m48 0h10m97 0h10m-224 1h10m234 0h9m-340 1h19m156 0h10m331 0h9m-438 1h10m49 0h9m49 0h19m98 0h29m10 0h19m-370 1h10m78 0h10m370 0h9m10 0h10m10 0h9m-399 1h10m10 0h9m283 0h19m-292 1h10m165 0h20m10 0h29m0 1h9m10 0h10m29 0h20m29 0h10m-302 1h9m117 0h30m-370 1h9m127 0h10m204 0h10m29 0h10m-253 1h9m88 0h10m-88 1h10m253 0h19m98 0h10m-536 1h10m204 0h10m19 0h10m107 0h10m29 0h10m10 0h9m-438 1h10m97 0h10m282 0h10m-389 1h9m20 0h10m360 0h10m29 0h10m29 0h19m-418 1h9m195 0h20m9 0h30m38 0h20m-224 1h10m311 0h10m-117 1h10m29 0h10m-438 1h9m20 0h10m39 0h9m146 0h10m156 0h19m20 0h10m-380 1h10m116 0h10m20 0h9m-214 1h10m224 0h10m68 0h10m-273 1h10m311 0h10m-312 1h10m214 0h10m78 0h10m39 0h9m-331 1h10m39 0h10m165 0h10m19 0h10m-224 1h10m136 0h10m185 0h20m-546 1h10m146 0h10m146 0h10m58 0h10m68 0h10m-176 1h10m-165 1h9m78 0h10m39 0h10m68 0h10m19 0h19m20 0h10m58 0h10m-380 1h20m340 0h10m10 0h10m19 1h10m-487 1h10m185 0h9m166 0h10m-253 1h29m9 0h10m39 0h10m58 0h10m97 0h10m20 0h9m-350 1h10m224 0h9m59 0h9m-282 1h10m19 0h10m136 0h10m-88 1h20m146 0h10m-283 1h10m78 0h10m282 0h10m-273 1h10m58 0h10m49 0h9m-389 1h10m9 0h20m234 0h9m-107 1h10m49 0h19m98 0h9m10 0h10m146 0h10m-526 1h9m166 0h10m78 0h9m127 0h10m9 0h20m-458 1h10m331 0h10m10 0h19m19 0h10m-78 1h10m117 0h10m19 0h10m-477 1h19m20 0h9m20 0h10m107 0h9m10 0h10m136 0h20m48 0h10m-350 1h19m10 0h10m224 0h9m59 0h9m10 0h10m-360 1h9m69 0h9m29 0h10m20 0h9m98 0h10m116 0h10m-458 1h10m98 0h9m146 0h10m234 0h10m-507 1h10m29 0h10m321 0h20m-302 1h10m68 0h19m175 0h10m117 0h20m-39 1h9m-389 1h19m195 0h10m39 0h9m30 0h9m-370 1h10m29 0h10m78 0h10m-205 1h10m29 0h10m224 0h19m98 0h9m10 0h10m-273 1h10m-146 1h10m156 0h9m117 0h10m39 0h10m-127 1h10m146 0h9m108 0h9m-331 1h20m214 0h10m-253 1h9m127 0h10m175 0h10m19 0h10m-526 1h10m175 0h10m39 0h9m224 0h20m-497 1h10m0 1h10m516 0h10m-293 1h10m29 0h10m49 0h10m155 0h10m-292 1h10m39 0h9m88 0h10m-370 1h9m224 0h10m166 0h9m20 0h19m-448 1h10m146 0h10m19 0h10m107 0h10m10 0h10m19 0h10m48 0h10m-457 1h9m49 0h19m273 0h10m48 0h10m-380 1h10m156 0h10m19 0h10m127 0h19m29 0h10m78 0h10m-429 1h10m117 0h9m127 0h29m88 0h19m-340 1h9m322 0h9m-350 1h10m146 0h19m59 0h9m-214 1h10m117 0h9m59 0h10m136 0h10m-458 2h10m331 0h9m98 0h19m-457 1h9m30 0h9m49 0h10m48 0h10m137 0h9m78 0h20m9 0h10m-477 1h10m126 0h10m49 0h9m127 0h10m-224 1h10m126 0h10m39 0h10m-215 1h10m29 0h10m97 0h10m166 0h9m-389 1h10m68 0h10m58 0h10m156 0h9m88 0h10m-254 2h10m224 0h10m39 0h10m19 0h10m-545 1h9m390 0h9m-223 1h9m39 0h10m195 0h9m39 0h10m-487 1h10m175 0h10m49 0h9m234 0h10m39 0h10m-419 1h10m233 0h10m49 0h9m-428 1h10m39 0h19m88 0h10m19 0h10m107 0h10m126 0h10m-253 1h19m78 0h10m10 0h9m49 0h10m68 0h10m-215 1h10m107 0h20m48 0h10m29 0h10m-458 1h10m78 0h10m165 0h10m-165 1h39m9 0h10m19 0h10m117 0h10m10 0h9m68 0h30m-458 1h10m311 0h10m-214 1h10m107 0h9m59 0h10m19 0h20m68 0h9m-301 1h9m127 0h10m233 0h10m-506 1h29m58 0h10m29 0h10m68 0h10m-243 1h9m20 0h9m127 0h10m39 0h9m-185 1h10m68 0h10m29 0h10m-136 1h9m273 1h10m-68 1h9m146 0h20m-282 1h9m39 0h10m107 0h10m29 0h10m146 0h10m-254 1h10m29 0h10m88 0h9m88 0h10m-351 1h10m175 0h20m117 0h9m-428 1h10m302 0h9m88 0h10m-370 1h9m59 0h10m48 0h10m68 0h29m39 0h10m97 0h10m10 0h10m9 0h20m-429 1h10m20 0h9m117 0h10m19 0h10m107 0h10m10 0h19m39 0h10m-214 1h9m224 0h10m-516 1h10m214 0h10m97 0h10m-331 1h9m10 0h10m214 0h10m234 0h9m10 0h10m-487 1h10m48 0h10m224 0h10m117 0h9m-389 1h10m233 0h10m107 0h10m49 0h9m-379 1h9m283 0h9m20 0h10m39 0h19m-312 1h10m59 0h9m39 0h10m10 0h19m156 0h10m-331 1h9m49 0h10m234 0h9m-477 1h10m88 0h9m88 0h10m292 0h10m-185 1h9m0 1h10m78 0h10m-283 1h10m49 0h9m39 0h10m10 0h10m165 0h10m-419 1h10m58 0h10m39 0h10m-176 1h10m98 0h9m20 0h10m9 0h10m29 0h10m97 0h10m127 0h9m39 0h20m-419 1h10m87 0h10m10 0h19m205 0h10m-458 1h19m39 0h10m127 0h9m108 0h9m176 0h9m-360 1h10m126 0h10m10 0h10m29 0h10m87 0h10m-107 1h19m49 0h10m58 0h10m10 1h9m-477 1h10m175 0h10m58 0h10m156 0h10m29 0h10m19 0h20m-487 1h9m166 0h10m263 0h9m-224 1h10m39 0h20m97 0h10m58 0h10m-477 1h9m166 0h10m58 0h10m49 0h9m78 0h10m-341 1h10m204 0h10m-146 1h10m263 0h9m30 0h9m-467 1h10m48 0h10m175 0h10m29 0h10m58 0h20m-409 2h10m185 0h9m147 0h9m29 0h10m29 0h10m-428 1h9m78 0h10m29 0h10m10 0h10m97 0h10m185 0h9m39 0h10m-497 1h10m214 0h20m117 0h9m-194 1h9m30 0h9m98 0h10m136 0h10m19 0h10m-526 1h10m107 0h10m87 0h10m49 0h9m20 0h10m19 0h10m175 0h20m-312 1h10m48 0h10m49 0h10m38 0h10m88 0h19m-525 1h9m156 0h20m301 0h10m-487 1h10m243 0h10m39 0h10m87 0h10m39 0h10m-419 1h10m224 0h10m-127 1h10m97 0h10m195 0h9m-379 1h9m69 0h9m117 0h10m107 0h10m-380 1h10m48 0h20m29 0h10m302 0h9m20 0h10m-468 1h10m321 1h10m10 0h9m69 0h9m-204 1h10m233 0h10m-516 1h10m126 0h10m166 0h9m20 1h19m-292 1h10m19 0h10m97 0h10m78 0h10m19 0h10m97 0h10m-399 1h10m165 0h10m117 0h10m-322 1h10m-49 1h10m146 0h10m302 0h19m29 0h10m-302 1h10m68 0h10m39 0h10m68 0h9m-340 1h19m175 0h10m-165 1h9m88 0h10m58 0h10m10 0h9m39 0h10m117 0h10m-497 1h10m58 0h10m350 0h10m-457 1h9m526 0h20m-195 1h10m19 0h10m97 0h10m10 0h9m20 0h10m-536 1h10m311 0h10m-68 1h19m49 0h10m107 0h19m-253 1h10m185 0h10m19 0h10m-419 1h20m78 0h9m39 0h10m10 0h9m302 0h10m-243 1h9m185 0h10m49 0h10m-487 1h9m88 0h10m282 0h10m-409 1h10m146 0h9m137 0h10m38 0h10m-370 1h10m136 0h10m68 0h10m58 0h10m-350 1h9m29 0h10m166 0h9m10 0h10m39 0h19m49 0h10m117 0h9m30 0h9m-467 1h10m97 0h10m19 0h10m263 0h29m39 0h10m-419 1h10m29 0h20m29 0h9m195 0h10m39 0h10m-370 1h9m59 0h10m77 0h10m205 0h9m10 0h20m-516 1h9m107 0h10m59 0h9m253 0h10m-399 1h10m39 0h19m263 0h10m19 0h10m10 0h9m49 0h10m-438 1h9m20 0h10m146 0h9m205 0h10m-439 1h20m29 0h10m126 0h10m137 0h9m156 0h20m-273 1h10m9 0h10m10 0h10m77 0h10m-409 1h10m49 0h9m137 0h9m49 0h10m243 0h20m-516 1h9m20 0h10m97 0h10m195 0h9m-233 1h9m78 0h10m-156 1h10m175 0h20m9 0h10m68 0h10m-224 1h10m39 0h19m59 0h9m98 0h9m20 0h19m-350 1h29m234 0h10m19 0h10m87 0h10m-448 1h10m263 0h10m48 0h10m-331 1h10m58 0h10m49 0h9m59 0h9m-194 1h9m49 0h20m68 0h9m30 0h19m59 0h9m-311 1h9m20 0h10m9 0h10m59 0h9m78 0h10m234 0h19m-224 1h10m107 0h10m87 0h10m-273 1h10m283 0h9m20 0h10m-341 1h19m78 0h10m58 0h10m-331 1h10m9 0h10m146 0h10m10 0h9m127 0h10m68 0h10m9 0h10m-380 1h10m88 0h9m147 0h9m-379 1h19m19 0h10m224 0h10m49 0h9m20 0h10m68 0h9m49 0h10m19 0h10m-487 1h10m88 0h9m59 0h9m127 0h10m156 0h9m-418 1h9m127 0h10m107 0h10m19 0h10m87 0h10m-428 1h9m69 0h9m20 0h19m176 0h9m68 0h10m59 0h19m-321 1h9m185 0h10m98 0h9m-516 1h10m29 0h10m370 0h10m-253 1h9m49 0h10m48 0h10m107 0h20m68 0h10m-497 1h10m87 0h10m49 0h10m68 0h9m-214 1h10m39 0h10m48 0h10m39 0h10m146 0h19m146 0h10m-273 1h10m78 0h10m107 0h10m-351 1h10m58 0h10m29 0h10m58 0h10m-165 1h9m176 0h9m68 0h30m9 0h10m68 0h10m-497 1h10m20 0h9m-68 1h10m107 0h20m292 0h19m10 0h29m-350 1h9m49 0h10m146 0h10m9 0h10m136 0h10m-467 1h9m49 0h10m58 0h10m-78 2h10m292 0h10m-244 1h10m29 0h10m136 0h10m49 0h19m-448 1h10m263 0h10m78 0h9m-360 1h10m175 0h10m-214 1h9m224 0h10m204 0h10m-331 1h10m19 0h10m78 0h10m146 0h9m78 0h10m-487 1h10m88 0h9m234 0h10m136 0h10m-302 1h10m-166 2h20m155 0h10m98 0h9m-214 1h10m117 0h9m137 0h9m-175 1h20m9 0h10m146 0h10m-224 1h10m68 0h10m87 0h20m58 0h10m-409 1h10m48 0h20m117 0h9m10 0h10m146 0h10m-429 1h10m467 0h10m-117 1h29m-292 1h10m59 0h9m156 0h10m29 0h10m68 0h10m-448 1h9m234 0h10m136 0h10m-185 1h10m-244 1h10m39 0h10m204 0h10m-166 1h10m107 0h10m-175 1h9m137 0h9m59 0h10m175 0h10m-361 1h10m136 0h10m88 0h10m-322 1h10m29 0h10m97 0h10m107 0h10m49 0h9m20 0h9m49 0h10m-351 2h10m136 0h10m98 0h48m49 0h10m-224 1h9m273 0h10m-370 1h10m48 0h10m282 0h10m-370 1h10m10 0h9m176 0h9m-19 1h10m-312 1h10m29 0h10m146 0h9m39 0h10m107 0h10m-107 1h10m214 0h10m-176 1h10m136 1h10m-516 1h10m399 0h10m-146 1h9m-126 1h10m87 0h10m107 0h10m58 0h10m10 0h9m-311 1h29m321 0h10m-399 1h10m136 0h39m97 0h10m49 0h9m-409 1h10m59 0h9m20 0h10m214 0h9m78 0h10m20 0h9m10 0h10m-360 1h9m68 0h10m68 0h10m-253 1h10m19 0h10m58 0h10m78 0h10m29 0h10m107 0h9m20 0h19m-272 1h9m10 0h10m10 0h9m283 0h10m-497 1h19m108 0h9m117 0h20m68 0h9m49 0h10m-205 1h20m10 0h9m195 0h10m-468 2h10m107 0h10m234 0h19m59 0h9m10 0h10m19 0h10m-516 1h10m185 0h9m88 0h20m68 0h9m39 0h10m-419 1h10m146 0h10m58 0h10m253 0h10m-321 1h9m312 0h10m-429 1h10m29 0h10m341 0h19m-516 1h10m146 0h10m350 0h10m-341 1h10m88 0h9m195 0h10m-409 1h10m379 0h10m0 1h10m-429 1h10m127 0h19m175 0h10m68 0h10m39 0h10m-516 1h9m20 0h10m58 0h10m29 0h10m341 0h9m-477 1h10m302 0h10m107 0h9m-360 1h10m68 0h19m20 0h10m233 0h20m-497 1h10m10 0h9m185 0h10m39 0h10m165 0h10m10 0h10m29 0h10m-468 1h20m19 0h10m282 0h10m97 0h20m-468 1h10m10 0h19m30 0h9m146 0h30m204 0h10m-487 1h10m97 0h10m29 0h10m29 0h10m68 0h19m69 0h9m88 0h10m48 0h10m-477 1h19m108 0h9m29 0h10m68 0h10m68 0h29m-233 1h10m19 0h29m49 0h10m68 0h10m29 0h9m20 0h10m-312 1h10m-98 1h10m10 0h10m87 0h10m97 0h10m78 0h20m9 0h10m10 0h9m127 0h10m-526 1h10m39 0h19m107 0h10m10 0h9m185 0h10m-409 1h10m68 0h10m78 0h10m48 0h20m58 0h10m156 0h9m-418 1h9m185 0h10m20 0h9m30 0h19m39 0h10m136 0h10m-458 1h10m29 0h10m39 0h10m68 0h19m-243 1h9m263 0h20m78 0h9m39 0h10m20 0h19m10 0h19m-487 1h10m39 0h10m-88 1h10m49 0h9m127 0h10m214 0h10m-341 1h10m9 0h10m10 0h10m9 0h10m88 0h9m88 0h10m39 0h9m108 0h9m-282 1h29m10 0h10m29 0h10m29 0h19m29 0h10m20 0h9m-185 1h10m29 0h10m-292 1h10m253 0h10m146 0h9m88 0h20m-468 1h10m88 0h9m59 0h9m59 0h10m77 0h10m49 0h10m-351 1h10m175 0h10m58 0h10m156 0h10m-390 1h10m107 0h10m78 0h9m29 0h10m10 0h19m39 0h10m-360 1h10m19 0h29m10 0h10m146 0h10m-351 1h10m19 0h10m88 0h9m156 1h10m19 0h10m29 0h10m-380 1h10m78 0h10m-88 1h10m39 0h9m78 0h10m136 0h10m78 0h19m10 0h10m19 0h10m68 0h10m-526 1h10m39 0h19m156 0h10m29 0h10m117 0h9m30 0h9m30 0h9m-428 1h10m78 1h9m30 0h19m273 0h9m30 0h9m-496 1h9m20 0h19m10 0h29m10 0h10m87 0h10m10 0h10m78 0h9m30 0h9m117 0h20m-117 1h9m108 0h9m-467 1h10m165 0h10m29 0h10m136 0h10m-321 1h9m166 0h10m136 0h10m39 0h9m-457 1h9m59 0h10m9 0h10m136 0h10m98 0h9m-224 1h20m253 0h10m107 0h10m-487 1h9m59 0h10m146 0h9m49 0h20m-370 1h9m176 0h9m146 0h10m29 0h10m-351 1h10m49 0h10m58 0h10m146 0h10m116 0h10m88 0h10m-487 1h9m166 0h10m126 0h10m117 0h10m9 0h10m-234 1h10m10 0h10m-215 1h10m68 0h10m185 0h10m9 0h10m-185 1h10m195 0h9m49 0h10m10 0h9m-428 1h10m87 0h10m49 0h9m20 0h10m-69 1h10m88 0h19m78 0h10m-428 1h9m107 0h10m88 0h9m30 0h9m117 0h20m-322 1h10m244 0h9m39 0h10m10 0h29m49 0h9m59 0h10m-234 1h10m68 0h9m-360 1h10m29 0h10m10 0h9m166 0h10m87 0h10m19 0h10m-350 1h9m39 0h10m20 0h9m10 0h10m-166 1h10m10 0h9m20 0h29m20 0h9m39 0h10m292 0h20m-137 1h10m58 0h10m-418 1h9m146 0h10m20 0h9m195 0h10m-302 1h10m253 0h29m49 0h9m-447 1h9m59 0h9m69 0h9m117 0h10m68 1h10m29 0h10m117 0h9m-448 1h10m253 0h10m107 0h20m19 0h10m-506 1h9m438 0h10m59 0h9m-467 1h10m253 0h19m127 0h10m-448 1h9m147 0h9m117 0h10m78 0h9m127 0h20m-439 1h10m97 0h10m273 0h10m-390 1h10m282 0h10m39 0h10m-400 1h10m49 0h10m39 0h19m49 0h9m20 0h19m10 0h10m10 0h9m0 1h10m29 0h10m10 0h9m69 0h9m49 0h20m-536 1h10m126 0h10m-88 1h10m175 0h10m59 0h9m-243 1h19m351 0h19m-457 1h9m49 0h10m58 0h10m68 0h20m19 0h10m19 0h10m10 0h10m39 0h9m59 0h9m-214 1h10m263 0h10m-419 1h10m78 0h9m78 0h10m39 1h10m116 0h10m-370 1h10m58 0h10m20 0h9m59 0h19m185 0h10m19 0h20m-380 1h10m156 0h9m88 0h10m-351 1h10m29 0h10m78 0h10m38 0h10m78 0h10m29 0h10m-234 1h10m78 0h9m49 0h10m19 0h10m78 0h10m29 0h10m78 0h9m-516 1h10m166 0h9m107 0h20m58 0h10m78 0h10m-477 1h9m195 0h10m156 0h9m-370 1h10m243 0h10m136 0h10m107 0h10m-282 1h9m10 0h10m107 0h10m19 0h10m78 0h10m-380 1h10m97 0h10m117 0h19m-370 1h10m194 0h10m49 0h10m29 0h10m9 0h10m-204 1h9m98 0h9m20 0h19m127 0h10m87 0h10m-448 1h10m136 0h10m58 0h10m205 0h9m-506 1h10m78 0h9m20 0h10m9 0h10m10 0h10m223 0h10m20 0h9m-282 1h20m9 0h10m68 0h10m204 0h10m39 0h10m-516 1h9m59 0h10m58 0h10m253 0h29m-399 1h10m107 0h19m331 0h10m-497 1h10m98 0h9m10 0h10m10 0h9m244 0h19m49 0h10m19 0h10m-302 1h10m19 0h10m117 0h9m-282 1h10m341 0h9m-457 1h9m49 0h10m117 0h9m312 0h10m-487 1h10m78 0h9m30 0h9m10 0h19m-146 1h10m-29 1h10m107 0h10m38 0h20m39 0h10m9 0h10m156 0h10m58 0h10m-234 1h20m9 0h10m39 0h10m97 0h10m19 0h20m-468 1h10m166 0h9m-243 1h10m39 0h9m30 0h9m127 0h10m39 0h9m20 0h10m-205 1h10m97 0h20m155 0h10m-253 1h10m302 0h9m-301 1h19m39 0h19m49 0h10m19 0h10m68 0h10m-175 1h9"/>
<path stroke="#0000f3" stroke-width="2" d="M247 207h10m360 7h10m-147 4h10m-331 2h10m331 0h10m9 8h10m-272 2h9m-97 1h10m292 4h9m49 0h10m-282 8h9m78 5h10m214 3h10m-244 1h10m-39 7h10m253 0h10m-390 4h10m-97 2h9m-19 2h10m438 7h10m-49 7h10m-322 6h10m175 3h10m-243 5h9m429 7h10m-380 2h10m87 2h10m204 1h10m-10 4h10m-195 1h10m-165 2h9m156 4h10m146 1h10m-322 2h10m117 0h10m292 2h10m-487 4h9m341 1h10m-166 6h10m49 1h10m9 12h10m-243 7h9m254 3h9m78 1h10m-59 5h10m10 2h10m-312 4h10m282 4h10m-331 6h10m48 9h10m78 14h10m292 2h10m-293 7h10m-214 3h10m39 2h9m370 5h10m-438 2h10m282 6h10m-292 3h9m127 0h10m165 0h10m-58 1h9m-311 3h9m59 4h10m-59 6h10m341 1h9m-155 2h9m69 3h9m-58 2h10m-107 2h9m234 4h10m-107 6h9m-340 1h9m224 3h10m19 6h10m-243 1h9m254 0h9m-233 8h9m137 1h9m254 2h9m-165 2h10m-322 1h10m88 11h9m224 1h10m-243 3h9m409 1h10m-341 1h10m88 6h9m98 0h9m-107 3h10m-39 3h10m10 1h9m176 1h9m-194 3h9m-204 3h10m253 1h10m-283 1h10m243 5h10m39 3h10m-370 2h9m-9 8h9m30 2h9m127 1h10m-127 1h10m156 3h9m273 3h10m-351 21h10m-117 4h10m321 4h10m-29 1h9m117 0h10m-419 10h10m331 3h10m-409 8h19m400 2h9m30 4h9m-340 4h9m107 8h10m185 1h10m-98 2h10m98 0h9m-467 1h10m68 1h10m214 5h10m146 2h9m-97 4h10m-127 4h10m-49 4h10m-117 1h10m350 6h10m-428 13h9m88 1h10m263 1h9m-19 3h10m-78 2h9m-77 2h9m107 3h10m-175 1h10m87 2h10m-204 2h9m78 3h10m-185 4h10m19 0h29m20 0h10m38 0h10m10 0h10m39 0h9m10 0h10"/>
<path stroke="#0000f3" stroke-width="3" d="M179 210.5h9m409 6h10m-321 19h9m137 52h10m58 8h10m-68 20h9m-243 48h10m-98 20h10m19 35h10m10 74h10m165 42h10m-136 7h9m137 0h9m195 60h10m29 7h10m-497 3h10m165 22h10m-117 28h10"/>
<path stroke="#0000ff" stroke-width="1" d="M149 205.5h10m39 0h10m156 1h9m69 0h9m20 0h9m108 0h9m-185 1h10m-253 1h10m428 0h10m-351 1h10m195 0h9m39 0h10m59 0h9m-477 1h10m58 0h10m136 0h10m98 0h9m98 0h19m-477 1h10m136 0h10m204 0h10m39 0h10m19 0h10m-253 1h9m39 0h20m49 0h9m-331 1h10m97 0h10m175 0h10m10 0h10m68 0h9m98 0h10m-390 1h10m87 0h10m39 0h20m-205 1h10m97 0h10m273 0h9m49 1h20m-487 1h9m20 0h29m205 0h9m10 0h10m-263 1h10m48 0h10m49 0h9m176 0h9m59 0h10m39 0h9m20 0h10m-546 1h10m331 0h10m-166 2h20m97 0h10m39 0h19m68 0h10m20 0h9m-399 1h10m419 0h9m-360 1h10m29 0h19m234 0h10m-321 1h19m97 0h10m156 0h10m78 0h9m-438 1h10m88 0h9m195 0h10m9 0h10m-214 1h10m117 0h9m39 0h10m39 0h19m20 0h19m39 0h10m-380 1h10m321 0h10m-438 1h10m243 0h10m-195 1h10m19 0h10m117 0h19m-78 1h10m205 0h9m49 0h10m-292 1h19m166 0h9m49 0h10m-429 1h20m10 0h9m137 0h9m39 0h10m253 0h10m-419 1h10m10 0h10m136 0h10m29 0h10m58 0h10m9 0h10m68 0h10m-370 1h10m175 0h10m-292 1h9m185 0h10m127 0h10m19 0h10m-399 1h9m49 1h10m272 0h10m20 0h9m-331 1h10m58 0h10m380 0h10m-448 1h19m59 0h9m107 0h20m10 0h9m127 0h10m-322 1h10m380 0h10m-478 1h10m29 0h10m127 0h9m156 0h20m-380 1h10m136 0h10m165 0h10m29 0h10m78 1h10m-468 1h10m477 0h10m-468 1h10m98 0h9m117 0h10m107 0h10m-322 1h10m88 0h19m156 0h10m-29 2h9m68 0h10m78 0h10m10 0h19m0 1h10m-302 1h10m126 0h10m49 0h9m-340 1h9m69 0h9m-194 1h9m68 0h10m20 0h19m282 0h20m117 0h10m-487 1h9m448 0h20m-244 1h10m10 0h10m-322 1h10m88 0h9m30 0h9m10 0h10m39 0h9m30 0h19m-214 1h10m243 1h10m-283 1h10m59 0h9m156 0h10m88 0h9m-224 1h10m175 0h10m-292 1h19m283 0h10m107 0h9m20 0h10m-312 1h10m224 0h9m-370 1h10m399 0h10m-409 1h10m448 0h10m-341 1h9m98 0h10m107 0h9m78 0h10m-497 1h10m39 0h10m78 0h10m155 0h10m156 0h10m-293 1h10m39 0h10m78 0h10m29 0h9m-340 1h9m127 0h19m312 0h10m-516 2h9m351 0h10m58 0h20m-292 1h9m185 0h10m-302 1h10m29 0h10m58 0h10m19 1h10m-224 1h10m97 0h10m-78 1h10m136 0h10m-19 1h9m10 0h10m9 0h10m59 0h9m-185 1h30m19 0h10m195 0h9m68 0h10m-428 1h9m234 0h10m19 0h10m78 0h19m-379 1h19m78 0h10m146 0h10m48 0h10m166 0h9m-350 1h10m116 0h10m-263 1h10m10 0h9m20 0h10m146 0h9m78 0h20m-156 1h39m19 0h10m20 0h9m49 0h10m78 0h9m10 0h10m39 0h10m-497 1h10m9 0h10m156 0h19m30 0h9m108 0h9m-379 1h9m39 0h10m10 0h19m136 0h10m127 0h10m29 0h9m10 0h10m88 0h9m-506 1h10m97 0h10m78 0h9m117 0h20m185 0h10m-497 1h10m9 0h10m59 0h9m107 0h10m-204 1h9m59 0h10m204 0h10m107 1h10m-166 1h10m29 0h10m185 0h10m-400 1h20m19 0h10m49 0h9m-155 1h9m263 0h10m-282 1h19m78 0h10m156 0h9m59 0h9m30 0h19m-360 1h10m87 0h10m224 0h10m68 0h10m-351 1h10m48 0h10m205 0h9m-409 1h10m78 0h10m68 0h10m58 0h10m49 0h9m117 0h10m-390 1h10m59 0h9m-194 1h9m137 1h9m30 0h9m205 0h19m20 0h9m-340 1h9m39 0h10m175 0h10m-341 1h10m234 0h9m146 0h10m-204 1h9m224 0h10m-457 1h9m195 0h10m48 0h10m20 0h9m-263 1h10m88 0h10m155 0h10m39 0h10m156 0h9m-233 1h9m-146 1h10m273 0h9m-116 1h9m127 0h10m19 0h10m-195 1h10m185 0h10m19 0h10m-68 1h9m-340 1h9m107 0h10m127 0h9m49 0h10m-59 1h10m88 0h10m-400 1h10m10 0h10m29 0h10m68 0h9m30 0h9m20 0h19m-107 1h20m136 0h10m-351 1h10m58 0h10m10 0h10m39 0h9m29 0h10m10 0h10m117 0h9m137 0h9m-204 1h19m-272 2h9m78 0h10m127 0h9m98 0h19m29 0h10m68 0h10m-535 1h9m156 0h10m146 0h10m-312 1h10m194 0h20m88 0h9m117 0h10m-360 1h9m137 0h9m273 0h10m-331 1h9m156 0h10m107 0h10m10 1h9m-360 1h10m-175 1h9m39 0h10m97 0h10m68 0h10m214 0h10m39 0h10m-409 1h9m146 0h20m-224 1h10m126 0h10m10 0h9m147 0h9m78 0h10m-419 1h10m10 0h9m312 0h10m-88 1h10m146 0h10m-322 1h10m185 0h10m-195 1h10m39 0h9m205 0h10m-361 1h10m68 0h10m156 0h10m-224 1h9m283 0h9m-331 1h10m-87 1h9m234 1h19m-48 1h19m20 0h9m205 0h10m-361 1h10m29 0h10m68 0h10m68 0h10m107 0h10m39 0h9m-263 1h10m29 0h10m117 0h10m48 0h10m-311 1h9m117 0h10m29 0h10m204 0h10m-516 1h10m506 0h20m-332 1h10m68 0h10m-243 1h9m20 0h10m29 0h10m39 0h19m185 0h10m107 0h10m-487 1h9m127 0h10m87 0h10m244 0h9m-516 1h10m195 0h9m117 0h10m20 0h9m-350 1h9m98 0h10m-108 1h10m10 0h10m19 0h10m117 0h9m195 0h10m58 0h10m-496 1h9m49 0h19m39 0h10m68 0h10m49 0h9m263 0h10m-458 1h10m117 0h10m68 1h19m49 1h10m19 0h10m-341 1h10m243 0h10m10 0h10m214 0h10m-526 1h9m30 0h9m59 0h10m87 0h10m127 0h29m-176 1h10m166 0h9m-350 1h19m20 0h10m136 0h10m0 1h9m-262 1h9m224 0h20m58 0h10m19 0h10m39 0h19m108 0h9m-175 1h10m146 0h10m9 0h10m-535 1h9m185 0h10m204 0h10m-39 1h10m136 1h10m-497 1h10m20 0h9m59 0h10m116 0h10m-175 1h10m68 0h29m136 0h10m-273 1h10m185 0h10m146 0h19m-272 1h10m155 0h10m97 0h10m-234 1h10m20 0h9m263 0h10m-477 1h10m78 0h9m390 0h10m-370 1h9m195 0h10m-380 1h10m87 0h10m175 0h10m20 0h9m156 0h10m-506 1h9m146 0h10m205 0h9m-97 1h10m107 0h9m39 0h10m-380 1h10m263 0h10m-341 1h10m97 0h10m68 1h10m146 0h10m19 0h10m29 0h10m-341 1h10m-88 1h19m20 0h19m351 0h10m-117 2h10m-283 1h10m282 1h10m20 0h9m-370 1h10m49 1h9m137 0h9m185 0h10m-321 1h10m87 0h20m165 0h10m127 0h9m-457 1h9m166 0h10m292 0h10m-429 1h10m29 0h10m126 0h10m29 0h10m-312 1h10m214 0h10m-175 1h10m224 0h39m9 0h10m-253 1h10m48 0h10m234 0h9m10 0h10m-438 1h9m10 0h20m370 0h19m-360 1h10m321 0h10m-146 1h9m-185 1h10m214 0h10m68 0h10m88 0h9m-457 1h9m137 0h9m117 0h20m-322 2h10m195 0h10m19 0h10m78 0h10m19 0h10m9 1h10m98 0h9m-487 1h10m244 0h9m185 0h10m-302 1h10m-49 2h10m263 1h10m19 0h10m-438 1h9m108 0h9m-39 1h10m-117 1h10m312 0h9m195 0h20m-341 1h9m-29 1h10m19 0h10m156 0h10m9 0h10m-418 1h9m127 1h10m233 0h10m-389 1h9m351 0h10m-322 1h10m97 0h10m29 0h10m195 1h9m-262 1h9m195 0h10m19 0h10m-389 2h9m263 0h10m224 0h10m-215 1h10m175 0h20m-458 1h10m234 0h9m10 0h10m19 0h10m146 0h10m-370 1h10m185 0h9m49 0h10m9 0h10m10 1h10m87 0h10m-419 1h10m59 0h9m88 0h10m39 0h9m98 0h9m-39 1h20m29 0h10m-273 1h10m156 0h10m48 0h10m88 0h9m-321 1h10m48 0h10m117 0h19m-253 1h10m341 0h10m-273 1h10m87 0h10m127 0h9m-486 1h19m29 0h10m78 0h10m116 0h10m244 0h19m-399 2h10m77 0h10m49 0h10m107 0h9m-350 1h10m302 0h9m-311 1h9m10 0h10m10 0h19m-88 1h10m322 0h9m166 0h10m-448 1h9m20 0h10m136 0h10m214 0h19m-448 1h10m98 0h9m78 0h10m19 0h10m29 0h10m10 0h10m58 0h10m29 0h10m68 0h10m-526 1h9m59 0h10m428 0h20m-224 1h9m88 0h10m107 0h10m-555 1h9m205 0h9m69 0h9m-263 1h10m156 0h10m39 0h9m78 0h10m117 0h10m-439 1h20m273 0h9m137 1h9m-409 1h10m341 0h10m-20 1h10m97 0h10m-419 1h10m214 0h10m29 1h10m88 0h19m-263 1h10m273 0h9m-379 1h9m10 0h10m214 0h10m97 0h10m-409 1h10m224 0h9m-194 1h9m205 0h10m38 0h10m-350 1h9m88 0h10m-10 1h20m-69 1h20m58 0h10m175 0h10m107 0h10m-312 1h20m9 0h10m107 0h10m185 0h10m-429 1h10m136 0h10m273 0h10m-400 1h10m370 0h10m-292 1h9m215 0h9m-438 1h10m263 0h10m97 1h10m48 0h10m20 0h9m-204 1h10m-273 1h10m29 0h10m126 0h10m68 0h10m126 0h10m-195 1h10m-126 1h9m98 0h9m-204 1h10m107 0h10m116 0h10m127 0h9m-418 1h9m88 0h10m58 0h10m156 0h10m126 0h10m-458 1h29m108 0h19m58 0h10m20 0h9m166 0h10m68 0h10m-322 1h10m97 1h10m-321 1h19m224 0h10m-175 1h9m117 0h10m68 0h10m107 0h10m48 0h10m-487 1h10m127 0h9m107 0h30m-39 1h9m-48 1h9m39 1h10m39 0h10m78 0h19m-292 1h10m10 0h9m166 0h10m48 0h10m117 0h19m-516 1h10m49 0h9m20 0h10m438 0h10m-497 1h10m418 0h10m39 0h10m-10 2h10m-438 1h9m10 0h10m175 0h10m117 0h9m-399 1h10m39 0h10m116 0h10m10 0h10m19 0h10m97 0h10m-243 1h9m205 0h10m155 0h10m-497 1h10m283 0h9m-78 2h10m244 0h9m-331 1h10m243 0h10m20 0h9m39 0h10m-506 1h9m10 0h10m88 0h9m30 0h9m205 0h9m-311 1h10m19 0h10m58 0h10m29 0h10m214 0h10m29 0h10m-429 1h10m98 0h9m88 0h10m-39 1h9m59 0h10m39 0h9m-341 1h10m175 0h10m78 0h10m78 0h9m98 0h10m-234 1h10m185 0h9m-126 2h10m116 0h10m-195 1h10m59 0h9m59 0h9m-292 1h10m117 0h10m204 0h10m-448 1h10m78 0h19m58 0h10m20 0h9m88 0h10m-292 1h9m59 1h10m321 0h19m30 0h9m-467 1h10m272 0h10m-243 1h19m205 0h9m10 0h20m175 0h10m-487 1h19m10 0h10m282 0h10m-312 1h20m58 0h10m185 0h10m77 0h10m10 0h10m-351 1h10m97 0h10m78 0h10m-108 1h10m98 0h9m127 0h10m-370 1h9m20 0h10m389 0h10m-302 1h10m-244 1h10m97 0h10m166 0h9m-282 1h10m282 0h10m49 0h9m-48 1h9m185 0h10m-458 1h10m185 0h10m107 0h10m136 0h10m-545 1h9m137 0h9m351 0h10m-507 1h20m19 0h20m87 0h10m370 0h10m-516 1h9m10 0h10m273 0h9m176 0h9m-487 1h10m166 1h9m234 0h10m-448 1h10m87 0h10m107 0h10m-127 1h20m39 0h10m107 0h9m10 0h10m-175 1h9m273 0h10m-117 1h10m39 0h9m127 0h10m-458 1h10m272 0h10m10 0h10m116 0h10m-458 1h10m107 0h10m214 0h10m-360 1h9m10 0h10m204 0h10m224 0h10m-438 1h9m59 0h10m340 0h10m-321 1h10m48 0h10m263 0h10m29 0h10m-224 1h9m39 0h10m107 0h10m-351 1h20m-127 1h10m49 0h9m429 0h10m-370 1h9m146 0h10m-195 1h10m292 0h10m-302 1h10m87 0h20m19 0h10m68 0h10m10 0h9m-370 1h10m88 0h19m78 0h10m97 0h10m58 0h10m29 0h10m20 0h19m-360 1h10m272 0h10m19 0h20m-458 1h20m48 0h10m59 0h9m127 0h10m165 0h10m58 0h10m-428 1h9m117 0h20m-253 1h9m68 0h10m29 0h10m195 0h10m116 0h10m-438 1h10m117 0h9m107 0h10m136 0h20m-312 2h10m97 0h10m107 0h20m10 1h9m-175 1h19m39 0h10m117 0h10m-399 1h9m29 0h10m107 0h30m301 0h20m-302 1h10m29 0h10m136 0h19m30 0h9m-272 1h19m156 0h10m-185 1h10m282 0h19m-379 1h9m30 0h9m263 0h20m-137 1h10m156 0h10m-322 1h10m146 0h10m126 0h10m-331 1h10m185 0h19m39 0h10m-214 1h10m48 0h10m146 0h10m58 0h10m-399 1h9m166 0h10m39 0h9m-165 1h10m204 0h10m10 0h9m-292 1h10m156 0h9m10 0h10m136 0h20m-98 1h10m107 0h10m39 0h10m-468 1h10m117 0h10m223 0h10m127 0h10m-526 1h9m312 0h10m-351 1h10m88 0h9m20 0h19m-9 1h9m59 0h9m59 0h10m-263 1h9m137 0h19m127 0h10m68 0h9m-408 1h9m380 0h10m29 0h10m-390 1h20m9 0h10m234 0h10m48 0h10m58 0h10m68 0h10m-535 1h9m185 0h10m39 0h10m48 0h10m-253 1h10m19 0h29m10 0h10m272 0h10m49 0h10m-176 1h10m-253 1h10m97 0h10m253 0h10m-205 1h10m68 0h10m117 0h9m-360 1h10m10 0h9m78 0h10m39 0h10m19 0h20m-224 1h9m69 0h9m195 0h10m-234 1h10m380 0h9m-302 1h10m78 1h10m49 0h9m-78 1h10m-273 2h10m117 0h10m87 0h10m156 0h10m97 0h10m0 1h10m-546 1h10m273 1h9m146 0h10m10 0h10m-468 1h10m282 0h10m-97 1h9m205 1h10m39 0h9m-467 1h10m467 0h10m-458 1h10m448 0h10m9 0h10m-331 1h10m126 0h10m39 1h10m39 0h9m-428 1h10m29 0h10m389 0h10m39 0h10m-234 1h10m29 0h10m58 0h10m126 0h10m-477 1h10m448 0h9m-418 1h9m39 0h20m78 0h9m20 0h10m-146 1h9m10 0h10m97 0h10m49 0h9m98 0h9m10 0h10m29 0h10m-409 1h10m48 0h10m68 0h10m136 0h10m-370 1h10m243 0h10m10 0h9m-185 2h10m136 0h10m10 0h10m39 0h19m136 0h10m-370 1h20m77 0h10m49 0h19m205 0h10m-516 1h9m39 0h10m68 0h10m68 0h10m214 0h10m39 0h9m-467 1h10m370 0h9m-253 1h10m29 0h10m-166 1h10m78 0h10m39 0h10m38 0h10m166 0h9m78 0h10m-302 1h10m136 0h30m97 0h10m29 0h10m-400 1h10m244 0h9m20 0h9m127 0h10m-516 1h9m390 0h10m-244 1h10m88 0h9m30 0h9m59 1h9m-321 1h10m156 0h9m98 0h19m146 1h10m10 0h10m-507 1h10m49 0h9m176 0h9m78 0h10m39 0h10m-390 2h10m146 0h10m19 0h10m19 0h10m10 0h10m194 1h10m-331 1h10m195 0h9m-272 1h9m69 0h9m166 0h29m10 0h9m39 0h10m-457 1h9m10 0h10m496 0h20m-516 1h9m283 0h10m204 0h10m-497 1h10m438 0h10m-477 2h9m166 0h10m136 0h10m68 0h10m-312 1h20m68 0h9m302 0h30m-322 1h10m117 0h10m48 0h10m97 0h10m-273 1h10m166 0h9m10 0h10m-448 1h10m48 0h10m136 0h10m98 0h9m30 0h9m20 0h9m78 0h10m39 0h10m-516 1h19m127 0h10m116 0h10m49 0h10m77 0h10m-263 1h10m146 0h10m97 0h10m68 0h10m-487 1h10m155 0h10m39 0h29m98 0h9m-370 1h10m49 0h10m29 0h10m116 0h10m10 0h10m39 0h9m176 0h9m-506 1h10m58 0h10m117 0h9m263 0h10m-360 1h10m77 0h10m20 0h9m10 0h10m-263 1h10m39 1h9m400 0h9m-457 1h9m234 0h10m10 0h9m39 0h10m175 0h10m-535 1h9m370 0h10m-331 1h10m117 0h9m156 0h10m136 0h10m-185 1h10m9 0h10m185 0h10m-507 1h10m399 0h10m59 0h9m20 0h10m-448 1h9m419 0h10m-253 1h9m137 0h9m-428 1h10m9 0h10m205 0h9m224 0h10m-302 1h10m19 0h10m49 0h10m0 1h9m88 0h10m97 1h10m-107 1h9m69 0h9m-233 1h9m166 0h10m-380 1h19m49 0h10m204 0h10m58 0h20m-370 1h10m117 0h9m185 0h10m88 0h19m-467 1h9m195 0h10m10 0h9m20 0h10m97 0h10m126 0h10m-409 1h10m19 0h10m136 0h10m39 0h29m156 0h10m-312 1h10m243 0h10m-487 1h10m58 1h10m39 0h10m165 0h10m-234 1h20m126 0h10m137 0h9m29 0h10m-370 1h10m477 0h10m-526 1h19m341 0h10m78 0h10m9 0h10m49 0h10m-302 1h19m-234 1h10m166 0h9m30 0h9m-243 1h10m58 0h20m48 0h10m-156 1h10m273 0h9m69 0h9m-253 1h10m58 0h10m68 0h10m136 0h20m-390 1h10m350 0h10m-389 1h9m205 0h10m282 0h10m-390 1h10m253 0h10m10 0h9m10 0h10m-467 1h9m39 0h10m107 0h10m78 0h9m78 0h20m19 0h10m58 0h10m29 0h10m-389 1h9m254 0h9m49 0h10m-273 1h10m39 0h9m98 0h10m19 0h10m165 0h20m-468 1h10m78 0h20m126 0h10m68 0h10m107 0h10m-254 1h20m68 0h20m9 0h10m19 0h20m-409 1h10m9 0h10m49 0h10m233 0h10m88 0h9m59 0h10m-487 1h9m195 0h10m10 0h9m20 0h10m58 0h10m156 0h9m-448 1h10m59 0h9m10 0h10m-156 1h10m126 0h10m29 0h10m78 0h10m19 0h10m39 0h10m-156 1h9m176 0h9m59 0h10m19 0h10m19 0h10m-535 1h9m146 0h10m78 0h10m29 0h19m49 0h10m-351 2h10m127 0h9m88 0h10m117 0h9m20 0h9m10 0h10m97 0h10m-29 1h10m-458 2h10m146 0h19m273 0h10m-331 1h9m244 0h9m-253 1h10m78 0h10m39 0h9m-214 1h10m10 0h9m88 0h10m58 0h10m107 0h10m48 0h10m49 0h10m-536 1h10m48 0h20m19 0h10m29 0h30m38 0h10m107 0h10m-350 1h9m20 0h9m234 0h10m146 0h10m9 0h10m49 0h10m-419 1h10m29 0h10m87 0h10m292 0h10m-545 1h9m10 0h10m9 0h20m10 0h19m59 0h9m49 0h10m29 0h10m233 0h10m29 0h10m-302 1h10m88 1h9m-29 1h10m49 0h19m156 0h10m-400 1h10m107 0h10m126 0h10m-399 1h10m29 0h10m155 0h10m166 0h9m137 0h10m-555 1h9m195 0h10m68 0h10m87 0h10m-58 1h9m-302 1h10m146 0h10m224 0h10m68 0h10m-390 1h20m272 0h10m-312 1h10m146 0h20m136 0h10m-429 1h10m185 0h10m204 0h10m29 0h10m19 0h10m10 0h10m-497 1h10m302 0h9m127 0h10m-234 1h10m-49 2h10m39 0h19m39 0h10m224 0h10m-361 1h10m136 0h10m117 0h10m-205 1h10m-117 1h10m10 0h9m39 0h10m97 0h10"/>
<path stroke="#0000ff" stroke-width="2" d="M72 206h9m438 9h10m-292 2h10m19 1h10m78 5h10m243 0h10m-20 13h10m-88 4h10m-331 6h10m302 2h9m59 8h10m-234 17h10m194 9h10m-399 5h10m-20 4h10m136 24h10m146 8h10m126 0h20m-137 6h10m-243 5h10m107 7h9m215 3h9m-243 1h10m194 6h10m-68 2h10m-390 3h10m19 0h10m380 1h10m9 2h10m-253 6h10m175 11h10m-30 10h10m107 5h10m-243 1h9m117 0h10m-331 3h10m340 5h10m-438 7h10m126 10h10m127 2h9m0 4h10m59 8h9m29 8h10m-331 2h10m-97 1h9m10 6h10m78 10h9m370 2h10m-29 6h10m19 0h10m-146 2h10m-215 9h10m205 4h9m-39 1h10m0 3h10m-224 11h19m-107 3h10m195 4h9m166 1h10m9 0h10m-263 6h10m68 0h10m-253 3h9m195 0h10m0 3h10m146 0h9m20 3h10m-390 10h10m438 1h10m-195 5h10m136 2h10m-136 3h9m-224 5h10m351 1h9m-263 60h10m39 1h10m58 1h10m175 0h10m10 1h10m-361 3h10m214 17h10m-253 1h10m77 1h10m273 3h10m-555 2h9m263 3h10m-146 8h10m204 3h10m-292 1h9m439 1h9m-477 12h10m399 4h10m-458 11h10m97 1h10m224 3h10m-283 4h10m0 3h10m165 5h10"/>
<path stroke="#0000ff" stroke-width="3" d="M315 340.5h10m-215 96h10m156 64h10m97 7h10m49 32h9m20 146h9"/>
<path stroke="#0000ff" stroke-width="1" d="M315 205.5h10m185 1h9m59 0h10m-361 1h10m88 0h9m30 0h9m30 0h9m-311 2h9m234 0h10m-117 1h10m185 0h10m-88 1h10m29 0h10m-302 1h9m361 0h9m-360 1h10m78 0h10m194 0h20m-185 1h10m155 0h10m-165 1h9m-126 1h9m98 0h10m107 0h9m30 0h9m156 0h10m-331 1h19m59 0h9m273 0h10m-477 1h9m30 0h9m49 0h10m156 0h9m-340 1h9m185 0h10m214 0h10m68 0h10m-438 1h9m88 0h10m175 0h10m165 0h10m-321 1h9m78 0h10m146 0h10m-429 1h10m10 0h10m418 0h10m29 0h10m-312 1h10m312 0h10m-526 1h9m98 0h10m175 1h10m-244 1h10m68 1h10m19 0h10m-136 1h9m10 0h10m165 0h20m117 0h9m30 0h9m30 0h9m39 0h10m-526 1h10m321 0h20m39 0h19m49 0h10m-185 1h19m10 0h10m-244 1h10m263 0h10m-215 2h10m39 0h10m-205 2h10m19 0h10m292 0h10m-127 1h10m10 0h10m107 0h10m29 0h9m-360 1h10m263 0h10m165 0h10m-78 1h10m-419 1h10m302 0h9m-302 1h10m234 0h10m204 0h10m-360 1h19m234 0h9m-243 2h10m39 0h9m-116 1h9m361 0h19m-496 1h19m273 0h9m166 0h10m-331 1h9m146 0h10m78 0h19m49 0h10m-253 1h9m156 0h10m19 0h10m117 0h10m-146 1h9m30 1h9m-370 1h10m273 0h19m166 0h10m-478 1h20m156 0h9m39 0h10m146 0h10m-380 1h10m88 0h9m-58 2h10m68 0h9m293 0h9m-409 1h10m68 0h10m-175 1h9m205 0h10m19 0h10m-117 1h10m263 0h9m20 0h10m-380 1h10m107 0h9m39 0h10m10 0h10m146 0h29m58 0h10m-389 1h9m68 0h10m117 0h10m10 0h9m78 0h10m-448 1h10m29 1h10m29 1h10m253 0h10m58 0h10m78 0h9m-487 1h10m399 0h10m-117 1h10m185 0h10m-516 2h9m78 0h20m234 0h9m146 0h10m-458 1h10m458 0h10m-156 1h9m-370 1h10m399 1h10m-438 1h10m19 0h10m19 0h10m302 0h10m-283 1h10m20 0h9m166 0h10m68 0h9m117 0h10m-535 1h9m59 0h9m400 0h9m-399 1h10m419 0h9m-399 1h10m-49 1h10m126 0h10m185 0h10m-351 1h10m39 0h20m87 0h10m39 0h19m39 0h10m-165 2h9m88 0h10m39 0h19m146 0h10m-195 1h10m-302 1h10m29 0h10m48 0h10m-126 1h9m98 0h9m69 0h19m68 0h10m29 0h10m-302 1h10m9 0h10m127 0h10m340 0h10m10 0h10m-546 1h10m68 1h10m195 0h9m-263 1h20m204 0h10m-146 1h10m10 0h9m195 0h10m-166 1h10m19 2h10m59 0h9m10 0h10m10 0h9m-107 1h10m224 0h10m-263 1h19m39 0h10m136 0h10m-282 1h9m59 0h9m-204 1h19m185 0h10m-233 1h9m20 0h9m98 0h10m87 0h10m136 0h10m-370 1h10m39 0h9m-19 1h10m204 0h10m97 0h20m58 0h10m58 0h10m-535 1h9m20 0h9m147 0h9m176 0h9m-321 1h10m58 0h10m263 0h9m-136 1h10m175 0h10m19 1h10m20 0h9m-409 1h10m117 0h10m136 0h10m146 0h10m-429 2h10m224 0h10m-351 1h10m418 0h10m20 0h9m-321 2h10m195 0h9m88 0h10m9 1h10m0 1h10m10 0h19m-175 2h10m38 0h20m97 0h10m-428 1h9m137 0h9m-87 1h10m19 0h10m9 0h10m10 1h10m-117 1h10m214 0h10m-293 2h10m59 0h9m156 0h10m-20 2h10m-165 1h9m283 0h9m-19 1h10m-273 1h10m185 1h10m-98 1h10m117 0h9m-370 1h10m477 0h10m-506 1h9m507 0h10m-341 1h9m205 0h10m39 0h9m-389 1h10m39 0h9m68 0h10m-97 1h19m49 0h10m136 0h10m39 0h9m-321 1h20m214 0h10m9 0h10m39 0h10m-331 1h9m20 0h10m389 0h10m-448 1h10m292 0h10m9 0h10m-204 1h9m146 2h10m58 0h10m-165 2h9m263 1h10m-341 1h20m48 0h10m-224 1h20m360 0h10m-419 1h10m175 0h10m9 0h10m20 0h9m-136 1h10m214 0h20m29 2h9m-146 1h10m156 0h10m78 0h9m-311 1h9m108 0h9m107 0h10m68 0h10m-341 1h10m312 2h9m-428 1h10m243 0h10m-283 1h10m88 0h10m116 0h10m10 0h10m9 0h10m20 0h9m-126 1h9m49 0h10m29 0h20m-332 2h10m137 0h9m331 0h10m10 0h10m-487 1h9m59 0h10m262 0h20m-39 1h10m29 0h10m58 2h10m-107 1h9m127 0h10m-166 1h10m-204 1h9m10 0h10m331 0h10m-20 1h10m-98 1h10m-234 1h10m156 0h10m78 0h9m-331 1h20m19 0h10m292 0h10m-497 1h10m273 0h9m78 0h10m-273 1h10m156 0h10m39 0h9m0 1h10m-331 1h10m341 0h9m-321 1h10m418 0h10m-331 1h10m-127 2h10m321 0h10m-224 3h10m331 0h10m-400 1h20m263 1h19m-272 1h19m-156 1h10m58 0h10m10 1h10m58 0h10m350 0h10m-302 1h10m107 0h10m97 0h10m-68 1h9m108 0h9m-438 1h10m165 0h10m214 0h20m-429 1h10m20 2h9m205 0h10m194 0h10m-370 2h10m185 0h10m58 0h10m-400 1h20m399 0h10m-282 1h9m68 0h10m78 0h10m68 0h10m-322 1h10m166 1h9m-116 2h9m88 0h10m155 0h10m68 0h10m-68 1h10m-312 2h10m29 0h10m204 0h10m-419 1h10m107 0h10m234 0h19m49 0h9m-97 1h10m68 0h10m-322 1h10m136 0h10m185 0h10m-380 1h10m282 0h10m146 1h10m-536 1h10m282 0h10m-292 1h19m312 0h10m-302 1h10m379 0h10m-243 1h9m20 0h10m29 0h19m156 0h10m29 1h10m-448 1h10m224 0h19m88 0h9m-233 1h10m204 0h10m-244 1h10m185 0h10m-283 1h10m117 0h10m233 0h10m59 0h9m-428 1h10m243 0h10m-224 2h10m39 0h9m244 0h9m-175 1h10m39 0h10m-244 1h10m107 0h10m233 0h10m-428 1h9m78 0h10m273 0h9m-243 1h10m107 0h10m233 0h10m-282 1h9m108 0h9m117 0h10m10 0h9m-399 1h10m224 0h10m-332 1h10m244 0h9m-253 1h10m29 0h10m146 0h10m175 1h10m-390 1h10m29 0h10m263 0h10m0 1h9m-321 1h10m272 1h10m175 0h10m-448 1h10m58 1h10m292 0h10m58 0h10m-477 1h10m146 0h9m263 0h10m-214 1h10m224 0h9m-516 2h10m136 0h10m97 0h10m49 1h10m19 0h20m-370 1h9m536 0h10m-468 1h10m-49 1h10m49 0h9m10 0h10m58 0h10m29 0h10m292 0h10m-185 1h10m-263 2h9m195 0h10m-205 1h10m156 0h10m97 0h10m-361 1h20m224 0h19m107 1h10m-418 2h9m127 0h10m194 0h20m-49 1h10m58 0h10m-341 1h10m175 1h10m253 0h10m-380 1h10m204 0h10m-321 3h9m283 1h10m126 0h10m-253 1h9m10 0h10m263 0h10m-361 1h10m68 1h10m19 0h10m68 0h10m-68 1h10m97 0h10m146 0h10m-517 1h10m224 0h10m214 0h10m-292 1h9m234 0h10m10 0h9m-448 1h10m273 0h19m-29 1h10m39 0h10m38 0h10m-253 1h10m-59 1h10m0 1h20m29 0h19m351 2h10m-69 1h10m29 0h10m-263 1h10m107 0h19m-107 1h10m185 0h10m-477 1h19m380 1h10m48 0h10m-487 1h10m360 0h10m146 0h10m-477 1h9m49 0h10m146 0h10m9 0h10m97 0h10m127 0h10m-507 1h10m477 0h10m-370 1h10m58 0h10m-88 1h10m214 0h10m-68 1h9m146 1h10m-263 1h10m146 0h10m19 0h10m-107 1h10m19 0h10m-292 1h9m69 0h9m146 0h10m88 0h9m10 0h10m117 0h10m-478 1h10m136 0h10m156 0h10m-137 1h10m-263 1h10m273 0h9m166 0h10m-59 1h10m58 0h10m-292 1h10m136 0h10m10 0h9m117 0h10m-273 1h10m185 0h10m-390 1h10m29 0h10m370 0h10m-215 1h10m88 0h10m68 1h9m-370 1h10m205 0h19m156 1h10m-137 1h10m78 1h19m49 0h20m9 0h10m-331 1h10m224 1h9m59 0h10m19 0h20m-546 1h10m166 0h9m49 0h10m87 0h10m49 0h19m-272 1h9m68 0h10m-233 1h19m39 0h10m185 0h9m39 0h10m-282 1h9m88 0h10m19 2h10m253 0h10m-185 1h10m272 0h10m-146 1h10m87 0h10m-49 1h10m49 0h10m-390 1h20m-137 1h20m107 0h10m107 0h9m-243 1h10m194 0h10m29 0h10m98 0h9m137 0h9m-496 1h19m419 0h10m-409 1h9m380 0h10m58 0h10m-136 1h9m-282 1h10m68 0h10m-185 1h9m78 0h20m58 0h10m-185 1h10m19 0h10m68 0h10m39 0h10m29 0h9m10 1h10m107 0h20m-273 1h10m116 1h10m117 1h10m175 0h10m-244 1h10m20 1h9m-146 1h10m107 0h10m-292 1h9m166 0h10m19 1h20m58 0h10m146 0h10m-127 1h10m19 0h10m-29 1h10m116 0h10m-292 1h10m282 0h10m-224 1h10m185 0h9m-272 1h9m39 0h10m-272 1h9m166 0h10m146 0h9m-146 1h10m10 0h19m20 0h9m176 0h9m-204 1h10m126 0h10m-341 1h10m10 0h9m273 0h20m29 0h9m-292 1h10m224 0h10m-351 1h10m399 0h10m-282 1h19m282 0h10m10 0h10m9 0h10m-214 1h10m-224 1h9m20 0h10m194 0h10m10 0h10m-215 1h10m234 0h10m-234 2h10m126 0h10m-234 1h20m194 0h10m-195 1h10m283 0h9m88 0h10m39 0h9m-204 1h10m77 0h10m-165 1h9m30 0h9m39 0h10m97 0h10m-448 1h10m78 0h10m204 0h10m87 0h10m-311 1h9m30 0h19m39 0h10m68 0h10m107 1h9m-408 2h9m68 1h10m136 0h10m-68 1h10m136 0h10m-39 1h10m87 0h10m49 0h9m-340 1h9m146 0h20m-156 1h10m175 0h10m-244 1h10m117 0h10m58 0h10m243 0h10m-438 2h10m-39 1h9m49 1h10m10 0h9m107 0h10m-107 1h10m48 0h10m-58 1h10m-117 3h9m302 0h10m-29 1h10m87 0h10m-20 1h10m20 0h19m-39 1h10m68 0h10m-351 2h10m49 1h9m166 0h19m49 0h10m39 0h10m-536 2h10m126 0h10m58 0h10m78 0h10m10 0h9m-263 1h10m185 0h10m185 0h10m9 0h10m29 0h10m-419 1h10m166 0h9m10 1h10m29 0h10m10 0h9m-341 1h10m49 0h19m370 0h10m-243 1h9m78 0h10m29 0h10m-389 1h9m234 0h10m165 0h10m39 0h10m-244 1h10m39 0h10m87 0h10m-360 1h9m263 0h10m175 0h10m-496 1h9m107 0h10m224 0h10m10 0h9m127 0h10m-244 1h10m58 0h10m10 0h10m-224 1h9m39 0h29m108 0h9m107 0h10m-243 1h9m30 0h9m30 0h9m39 0h10m39 2h10m48 0h10m39 0h10m-390 1h10m10 0h10m68 0h9m195 0h10m-428 1h9m185 0h10m29 0h10m117 0h10m19 0h10m-331 1h19m10 0h10m9 0h10m49 0h10m107 0h19m-156 1h10m-117 1h10m58 0h10m59 0h9m-156 1h10m185 0h10m253 0h10m19 0h10m-438 1h19m117 0h20m39 0h9m-292 1h10m107 0h20m58 0h19m10 0h10m107 0h10m-360 1h19m49 0h9m448 1h10m-380 1h10m214 0h20m39 0h9m-447 1h9m59 0h9m88 0h10m185 0h10m19 0h10m68 1h10m-439 1h10m49 0h10m165 0h10m97 0h10m-370 1h10m136 0h10m10 0h9m302 1h10m-458 1h10m39 0h10m97 0h19m195 0h10m-175 1h9m283 0h10m-370 1h9m10 0h10m165 0h10m-68 1h19m-214 1h10m78 0h9m88 0h10m10 0h9m146 0h10m-448 1h10m136 0h10m88 0h9m-224 2h10m341 0h10m-127 1h10m19 0h10m185 0h10m-497 1h10m302 0h10m48 0h29m20 0h10m-370 1h9m215 0h9m-253 1h10m448 0h10m-351 1h10m126 0h10m78 0h10m-390 1h20m165 0h10m146 0h10m97 0h10m-390 1h10m68 0h10m49 0h9m10 0h10m97 1h10m-195 1h10m39 0h10m194 1h20m-234 1h10m88 0h9m-155 1h9m20 0h9m254 0h9m-185 1h20m87 0h10m88 0h10m-497 1h10m107 0h10m97 0h10m48 0h10m-185 1h10m302 0h9m-399 1h20m340 0h10m-380 1h10m59 0h9m30 0h9m156 0h10m78 0h9m78 0h10m-311 1h9m29 0h10m-126 1h9m-87 1h9m341 0h10m97 0h10m20 0h9m-331 2h20m29 0h10m233 0h10m-136 1h10m-361 1h10m88 0h9m361 0h19m-185 1h10m49 0h9m-311 1h9m195 0h10m10 0h9m39 0h10m-302 1h10m156 1h19m137 0h9m156 0h10m-507 1h10m477 0h10m-302 1h10m146 0h10m97 0h10m-409 1h10m48 0h10m107 0h10m165 0h10m-331 1h10m214 0h10m117 0h9m-331 1h10m78 0h10m282 0h10m-516 1h19m448 0h10m19 0h10m-243 1h19m-282 1h9m78 0h10m302 0h19m-447 1h9m98 0h9m98 0h9m88 0h10m204 0h10m10 0h10m-546 2h10m380 0h9m49 0h10m58 0h10m10 0h10m-322 2h10m204 0h10m-331 1h10m10 0h9m49 0h10m107 0h10m39 0h9m78 0h10m49 0h9m-428 1h10m370 0h9m-282 1h10m185 0h9m-311 1h10m409 0h19m-458 1h10m49 0h10m165 0h10m78 0h9m39 0h10m-214 1h10m68 0h10m-127 1h10m185 0h9m117 0h10m10 0h10m-273 1h10m19 0h10m175 0h10m-302 1h10m39 0h9m166 0h10m-49 1h10m-331 1h9m20 0h10m370 0h9m-477 1h10m204 0h10m156 0h10m39 0h19m-380 1h10m292 0h10m19 0h10m59 0h9m-486 1h9m49 0h10m214 0h19m-233 2h9m98 0h10m107 0h9m69 0h9m98 0h9m-331 1h10m-10 1h20m311 0h10m-409 1h10m58 0h10m156 0h10m-20 1h10m165 0h10m-399 1h10m29 0h10m311 0h10m-467 1h9m78 0h10m97 0h20m87 0h10m136 0h10m49 0h10m-127 1h10m58 0h10m-244 2h10m10 0h10m29 0h10m87 0h10m127 0h9m-389 1h10m9 0h10m29 0h10m253 0h10m-20 1h10m-156 1h10m-273 1h10m10 0h10m48 0h10m214 0h10m156 0h10m-234 1h29m-263 1h10m253 0h10m136 0h10m29 0h10m-419 1h10m389 0h10m-487 1h10m88 0h9m59 0h10m311 0h10m-380 1h20m9 0h10m380 0h10m-468 1h10m156 0h9m10 0h10m97 0h10m-380 1h29m108 0h19m263 0h10m107 0h10m-546 2h10m282 0h10m146 0h10m-263 1h10m29 0h10m39 0h9m-301 1h9m166 1h10m126 0h10"/>
<path stroke="#0000ff" stroke-width="2" d="M539 215h10m-234 1h10m253 6h10m-390 1h10m58 0h10m49 7h9m137 3h9m-253 6h10m-78 3h10m-29 23h9m117 2h10m175 1h10m58 6h10m-146 28h10m117 0h9m-282 1h10m10 0h9m107 3h10m-97 2h9m283 7h10m-234 1h10m204 5h10m-468 2h10m468 11h9m-379 7h9m117 6h10m-136 6h9m127 8h10m19 5h10m-166 3h10m205 7h9m117 17h10m-458 2h10m273 8h9m-126 1h9m185 4h10m-78 10h10m-350 10h9m244 24h9m-58 7h10m107 7h10m-302 18h9m20 0h10m379 4h10m78 3h10m-146 1h9m39 26h10m-214 9h10m-127 2h10m126 10h10m156 2h10m-273 38h10m68 4h10m-117 19h10m-88 1h10m39 3h9m30 2h9m0 2h10m341 4h10m-69 3h10m-107 2h10m146 3h10m-302 10h9m59 8h10m-39 3h9m156 2h10m-282 5h9m-29 1h10m292 5h10m-331 2h9m20 2h10m68 6h9m98 0h10m-98 6h10m292 10h10m-516 9h9"/>
<path stroke="#0000ff" stroke-width="3" d="M578 390.5h10m-224 62h9m-301 27h9m312 6h10m-215 7h10m175 68h10m-292 48h10"/>
<path stroke="#000dff" stroke-width="1" d="M208 205.5h10m214 0h10m-244 1h10m49 0h9m-78 1h10m39 0h10m214 0h19m39 0h10m-428 1h9m215 0h9m127 0h10m-361 1h10m370 0h10m-156 1h10m-136 2h9m30 0h9m-194 1h9m156 0h10m341 0h9m-370 1h10m97 0h10m-49 1h10m205 0h9m-399 1h10m88 0h9m78 0h10m234 0h9m-409 1h10m156 0h10m87 1h10m78 0h10m87 0h10m-458 2h10m88 0h10m19 0h10m321 0h10m-507 1h39m361 0h9m69 0h9m-350 1h19m146 0h10m107 0h10m10 0h9m10 0h10m-380 2h10m175 0h10m-10 2h10m-59 1h20m-97 1h9m107 0h10m29 0h10m78 0h10m-331 1h9m59 0h10m311 0h10m-156 1h10m87 0h10m-428 1h9m507 0h10m-497 1h10m97 1h10m204 0h10m-185 1h10m165 0h20m-205 1h20m97 0h10m-175 1h9m78 0h10m10 0h9m20 0h10m-195 1h10m-107 1h9m487 0h10m-477 1h9m273 0h10m-29 1h9m137 0h9m-399 1h10m282 0h10m-350 1h9m59 0h19m292 1h10m97 0h10m-467 1h9m88 0h10m-117 1h10m107 0h10m301 0h10m-243 1h9m293 0h9m20 0h10m-429 1h10m185 0h10m68 0h9m10 0h10m-312 1h10m302 1h10m107 0h10m-390 1h10m126 0h10m68 1h10m-195 1h10m-19 3h9m-48 1h9m20 0h10m19 0h10m282 0h10m-468 1h10m10 0h10m39 0h9m166 0h10m233 0h10m-312 1h10m244 0h9m30 0h9m0 1h10m-331 1h10m302 0h9m-331 1h10m0 1h19m215 0h19m-360 1h19m117 0h10m-88 1h10m185 0h10m126 0h10m-477 1h10m19 0h20m467 1h10m-390 1h10m195 0h10m-293 1h10m127 0h9m-87 1h10m77 0h10m-175 2h19m185 0h10m-185 2h10m126 0h10m39 0h10m97 1h10m19 1h10m29 0h10m-380 1h10m224 0h20m19 0h20m-322 2h10m58 0h10m68 0h10m107 0h10m29 1h10m10 0h19m117 0h10m-458 1h10m233 0h10m-185 1h10m185 1h10m-117 1h9m263 0h10m-341 2h10m146 4h10m-107 1h9m117 0h10m195 0h10m-458 1h10m48 0h10m263 0h10m-176 1h10m205 0h9m-126 2h10m-351 1h10m272 0h10m97 0h20m-419 1h10m39 0h10m58 0h10m-39 2h10m58 0h10m204 0h10m49 0h9m-194 2h9m-224 1h10m409 0h20m19 1h10m-156 1h10m-214 1h9m-9 1h19m341 0h19m-9 1h19m-399 1h10m243 0h10m78 1h9m-204 1h10m-176 2h20m68 0h19m176 1h9m20 0h10m19 1h10m-39 1h10m-292 1h9m98 0h9m-126 1h19m78 0h10m49 0h9m88 0h10m-302 1h10m97 0h10m97 2h10m49 0h9m-78 1h20m-78 2h10m126 0h10m-204 1h9m-156 1h20m389 0h10m-263 2h10m273 0h9m49 0h10m-526 1h10m438 0h10m48 0h10m-448 1h10m58 0h10m185 0h10m-185 1h19m137 1h9m68 2h10m107 2h10m-234 2h10m-97 3h9m69 0h9m-146 2h10m253 0h10m68 0h10m-506 1h9m39 0h10m146 0h10m-156 1h10m48 0h10m68 0h10m166 0h9m29 1h10m-233 1h9m263 1h10m39 0h10m-88 1h10m9 0h10m-253 1h10m-156 1h10m117 0h9m20 0h9m-97 1h10m224 0h10m-205 1h10m-88 1h10m88 0h9m20 0h9m98 0h10m107 0h9m-370 1h10m146 0h20m204 0h10m-419 1h10m146 0h10m146 0h10m-370 1h9m322 0h9m176 0h9m-457 1h9m400 1h9m-418 1h9m468 0h10m-409 1h9m59 0h9m-185 1h10m117 0h10m87 3h10m166 0h9m-409 1h10m185 0h10m-234 1h10m282 0h10m-156 1h20m-10 1h10m146 0h10m0 1h9m-165 1h10m-137 1h10m97 0h10m185 0h10m117 0h9m-263 1h10m88 0h10m-117 1h9m-126 1h10m48 1h10m195 0h10m-30 2h10m58 0h10m78 0h10m-458 1h10m39 0h10m155 2h10m-253 1h10m39 0h9m156 0h10m292 0h10m-419 1h10m-20 1h10m88 0h9m-223 1h9m361 1h9m-282 1h10m311 1h10m-341 1h10m234 0h9m68 0h10m-195 2h10m-126 1h9m-9 1h19m390 0h9m-272 1h19m107 0h10m-370 1h10m146 2h10m321 0h19m-224 2h10m107 0h10m-224 2h10m272 0h10m-136 1h10m-244 1h10m97 0h10m78 0h10m48 0h10m49 0h9m-301 1h9m205 1h10m9 0h10m-78 1h10m29 0h10m165 0h10m-526 1h10m19 0h10m322 1h9m146 0h10m-214 1h10m-78 1h9m20 0h10m9 0h10m136 1h10m-380 1h10m253 0h10m-19 1h9m-107 1h10m214 0h10m-360 2h9m137 0h9m137 0h9m-292 1h10m263 0h10m9 0h10m-29 1h19m88 0h10m-78 1h10m-400 1h10m360 0h10m-185 3h10m-243 2h9m137 0h9m244 0h9m108 0h9m-467 1h10m194 0h20m-175 1h9m205 0h10m19 1h10m126 0h10m-39 1h20m-351 1h10m107 1h10m117 0h9m-302 1h10m448 1h10m-322 1h10m39 0h10m88 0h9m29 1h10m107 0h10m-409 1h10m389 1h20m-458 1h20m263 0h9m-331 1h10m175 0h10m185 0h10m87 2h10m-419 2h10m29 1h10m263 0h10m29 0h10m-351 1h10m-20 1h10m-117 2h10m127 0h9m-39 1h10m263 0h10m-273 1h10m87 0h10m-233 1h9m137 0h9m351 0h10m-448 1h9m108 0h9m-68 1h10m78 0h29m68 1h10m185 0h10m-361 3h10m29 0h10m-136 1h9m-58 1h10m136 0h10m117 0h9m107 0h10m78 0h10m-360 2h9m-87 1h9m78 0h10m302 0h10m-244 1h10m107 0h10m185 0h10m-409 1h9m-39 1h10m10 0h10m9 0h10m58 1h10m-233 1h9m526 0h20m-30 2h10m-341 1h10m-185 1h10m185 0h9m-185 1h10m117 0h10m253 1h10m-166 1h10m19 1h10m-204 1h9m409 0h10m-204 1h9m68 0h10m39 0h20m-224 1h9m-87 2h10m175 0h10m38 0h10m39 0h10m-127 1h10m49 0h9m-126 1h10m-156 1h10m126 0h10m78 0h10m77 0h10m-165 1h9m88 0h10m68 0h10m-166 1h10m-68 1h9m108 0h9m39 0h10m-302 1h10m243 0h10m-39 3h10m-214 1h9m224 0h20m-380 1h10m185 0h9m147 1h9m-321 1h10m-20 1h10m68 0h10m-68 1h9m98 0h10m38 1h10m59 1h9m127 0h10m-419 1h10m243 1h20m29 0h10m116 0h10m-224 1h20m-195 2h10m438 1h10m-108 1h10m-263 1h10m156 2h19m20 0h10m146 0h9m-506 1h10m350 0h10m-127 1h10m205 0h9m-58 1h10m-380 1h10m136 0h10m29 0h10m48 1h10m107 0h10m39 0h10m-419 1h19m117 0h10m-166 1h10m331 0h10m49 0h9m-409 1h20m214 0h10m68 1h10m-107 1h9m117 0h20m78 0h9m-194 1h9m215 0h9m-418 1h9m127 0h10m68 0h10m-263 1h9m20 0h10m58 0h10m-49 1h10m126 0h10m68 1h10m185 0h10m-409 1h10m146 1h9m185 0h10m-458 1h20m399 0h10m-59 2h10m-311 1h9m244 0h10m-224 2h9m-78 1h10m341 0h10m-59 3h20m-20 1h10m29 0h10m-399 1h9m147 1h9m20 0h9m30 0h9m215 0h9m-409 1h10m195 1h19m10 0h10m58 0h10m68 0h10m-127 1h10m-136 1h9m88 2h10m68 0h10m-331 1h9m331 0h10m-311 1h9m244 0h10m-370 1h9m399 0h10m49 1h10m-458 1h10m418 0h10m-311 1h9m273 0h10m-273 1h10m165 0h10m-312 1h10m127 0h10m175 0h10m107 0h9m-486 1h9m39 0h10m292 0h10m39 0h19m-224 1h10m97 0h10m59 0h9m-58 1h10m-322 1h10m497 0h9m-477 1h20m68 0h10m379 0h10m-175 2h10m-78 1h9m78 0h10m68 0h10m58 0h10m-428 1h9m244 0h10m-137 1h10m78 0h10m29 1h10m-147 1h10m-58 1h10m29 0h9m312 1h10m-185 1h10m68 0h19m68 1h10m-263 1h10m156 0h9m10 2h10m10 2h9m-311 1h10m-88 1h10m-39 1h9m439 1h9m-457 1h9m88 0h10m68 0h10m-98 1h20m78 0h9m-214 1h10m175 0h10m-20 1h10m195 0h10m39 0h9m-321 1h10m-137 1h10m214 0h10m-165 1h9m137 0h9m78 0h10m166 0h9m-496 1h9m293 0h9m117 0h10m39 0h10m-516 1h9m370 0h10m10 0h9m-87 1h10m77 1h10m20 0h9m-214 1h10m185 0h10m-215 1h10m253 0h10m-467 1h9m30 0h9m244 0h10m-312 1h10m204 0h10m-166 1h10m49 0h10m107 0h9m-185 1h20m224 0h19m59 0h9m69 0h9m-399 1h10m243 0h10m58 1h10m-272 1h9m59 1h19m88 0h10m-166 1h10m68 0h10m-20 1h10m58 0h10m-253 1h10m-59 1h10m29 0h10m243 0h20m107 0h10m-117 1h10m194 0h10m-389 1h9m49 0h10m194 2h10m68 0h10m0 1h10m-506 1h9m322 0h9m30 0h9m-350 1h19m137 0h9m-156 1h20m19 1h10m146 0h10m253 0h10m-253 1h9m156 0h10m10 0h9m39 0h10m-428 1h9m137 0h19m59 0h9m-185 1h10m97 0h10m68 1h10m10 0h10m9 0h10m166 0h9m10 1h10m-39 2h19m-233 1h9m107 0h10m49 0h10m58 0h10m-516 1h19m10 1h10m428 0h10m-214 1h9m224 0h10m-526 1h10m204 0h10m10 0h10m-215 2h10m20 1h9m302 0h20m68 0h10m-166 1h10m204 0h10m-506 1h9m234 0h10m-205 1h10m273 0h10m77 0h10m29 0h10m-282 1h9m49 0h10m68 0h10m87 0h20m-302 1h10m-137 1h10m68 0h10m10 0h10m-69 1h10m59 0h9m117 0h10m214 0h10m-312 1h10m58 0h10m39 0h20m146 0h19m-156 2h10m127 0h9m10 0h10m-409 1h10m29 0h10m379 0h10m-302 1h10m19 0h10m-243 2h9m39 0h10m78 0h10m0 1h10m136 0h10m194 0h10m-292 1h19m108 0h9m49 0h19m-185 1h10m78 0h10m39 0h9m-408 1h9m39 0h10m68 0h10m399 0h10m-312 1h10m127 2h9m88 0h10m-312 2h10m224 0h9m-292 1h10m195 0h10m97 0h10m-234 1h10m311 0h10m-448 1h10m39 0h10m77 0h10m20 0h9m108 0h9m-194 1h9m-58 1h10m77 0h10m195 0h10m-263 1h10m292 0h9m-370 1h10m-58 1h9m380 0h10m-438 1h9m49 0h10m350 0h10m-360 1h10m39 0h9m-126 1h9m273 0h10m-195 1h10m87 0h10m205 0h19m-438 1h10m331 0h10m9 0h10m-312 1h10m39 0h10m29 0h10m224 0h9m69 0h9m30 0h9m-467 1h10m233 0h10m59 0h9m-175 1h10m58 0h10m204 0h10m29 0h10m-389 1h9m127 0h10m48 0h10m29 0h10m-292 1h10m116 0h10m29 0h10m195 0h10m39 0h9m-321 1h10m156 0h19m58 0h10m-438 1h10m321 0h10m19 0h10m97 1h20m-487 1h10m185 0h19m185 0h10m58 0h10m-360 1h10m126 0h10m97 0h10m-312 1h10m107 0h10m117 1h10m-273 1h10m19 0h10m341 0h9m20 0h10m-205 1h10m58 0h10m20 0h9m-185 2h10m58 0h10m175 0h10m-253 1h10m107 0h10m58 0h10m29 0h10m-331 1h9m215 0h9m-204 1h10m19 0h10m19 0h20m9 0h20m39 0h19m-292 1h10m195 0h9m-185 2h10m292 0h10m146 0h10m-273 1h10m10 0h9m98 0h10m-78 1h19m117 0h10m-380 1h10m58 0h29m-39 3h10m331 0h10m-214 1h9m39 0h10m-146 1h10m58 1h10m-20 1h10m146 1h10"/>
<path stroke="#000dff" stroke-width="2" d="M179 223h9m137 1h9m224 2h10m-136 8h10m77 4h10m78 5h10m-205 6h10m166 16h9m-389 29h10m233 15h20m-107 36h9m88 4h10m-88 25h10m-117 17h10m9 19h10m-39 7h10m68 3h10m-59 19h10m-195 28h10m477 3h10m-224 22h10m146 15h10m-59 12h10m-390 3h10m59 3h9m156 12h10m-68 8h9m-87 2h10m-127 5h10m126 1h10m-10 26h10m117 6h10m-195 12h19m361 3h9m-107 9h10m-156 5h10m-214 3h9m332 3h9m-214 2h10m-59 4h10m331 4h10m-97 3h9m-292 4h10m370 5h10m9 13h10m49 0h10m-234 2h10m214 1h10m-39 21h9m-58 4h10m-292 3h9m-97 5h10m194 4h10"/>
<path stroke="#000dff" stroke-width="3" d="M227 221.5h10m146 129h10m-146 269h10"/>
<path stroke="#001aff" stroke-width="1" d="M101 205.5h19m-10 1h10m107 0h10m195 0h10m-263 1h9m312 0h19m-409 1h10m78 1h10m272 0h10m-263 1h10m29 0h10m-29 1h10m116 0h10m-19 1h9m69 0h19m-370 1h19m88 0h10m292 0h10m-20 1h10m-263 1h10m370 0h10m-370 1h9m127 0h10m9 0h10m-312 1h10m497 0h10m-546 1h10m107 0h10m282 0h10m-68 1h10m-108 1h10m175 2h10m10 0h10m-156 1h10m68 2h9m-223 1h9m59 0h9m69 1h9m-146 1h10m282 0h20m-487 1h10m457 0h10m-389 1h9m146 0h10m205 0h9m-39 1h10m-185 1h10m19 0h10m-126 2h19m243 0h10m-302 3h10m-78 1h20m-20 1h10m-68 2h9m30 0h9m390 0h10m9 0h30m9 1h10m-438 1h10m409 0h9m-146 1h10m-214 1h10m107 1h9m-78 1h10m195 0h10m29 1h10m58 0h10m-360 1h9m107 0h10m-19 1h9m127 0h10m-244 1h10m107 0h10m49 0h9m-350 4h9m30 2h9m-77 1h9m49 0h10m9 0h10m380 0h10m-458 1h10m418 0h10m59 0h9m-165 2h10m107 0h19m-448 1h10m0 1h10m136 0h10m-166 1h10m438 0h10m-185 1h10m-176 1h20m370 0h10m-166 1h10m-351 2h10m321 2h10m-389 1h9m68 0h10m117 1h19m88 0h10m58 0h10m10 0h9m-58 1h10m-127 2h10m195 0h9m-224 1h10m68 1h10m-292 1h10m29 0h10m58 0h10m107 1h10m-205 1h10m39 0h10m389 2h10m-438 1h9m39 0h10m-49 2h20m29 0h10m136 3h10m10 0h9m185 1h10m-282 1h9m108 0h9m20 0h10m-351 1h10m409 1h9m-282 2h20m165 0h10m-244 1h10m390 0h9m-370 1h20m136 0h10m-302 1h10m516 0h10m-234 1h10m9 0h10m-350 3h9m137 0h9m292 0h10m20 0h9m39 0h20m-507 1h20m68 0h10m204 1h10m-292 1h10m282 3h10m10 0h9m-107 1h10m58 1h10m10 0h10m19 0h19m-155 1h9m137 0h9m-175 1h10m117 0h10m58 1h10m-39 1h9m-165 1h10m185 0h9m-87 1h10m-283 1h10m156 0h19m117 0h10m-380 1h10m185 0h9m156 0h10m-263 3h10m10 0h19m88 1h19m117 2h10m-49 2h10m-331 1h9m195 0h10m-78 2h10m-20 1h10m0 1h10m195 1h9m-243 1h10m19 3h20m87 0h20m19 0h10m-39 1h10m136 0h10m-390 1h10m204 0h10m-19 2h9m-155 1h9m117 0h10m185 0h10m-400 2h10m68 1h10m-58 2h9m185 1h10m175 1h10m-253 1h10m78 1h9m176 1h9m-321 1h10m-117 1h10m19 0h20m-30 1h10m263 0h10m-360 3h9m536 2h10m-283 1h10m-107 1h10m-39 2h9m78 0h10m-10 3h20m224 0h19m-428 1h9m156 0h10m117 3h19m78 0h10m49 0h9m-146 1h10m-302 2h10m58 0h10m195 0h19m78 2h10m49 0h9m-448 2h10m-68 1h10m58 0h10m126 1h10m29 1h10m253 0h10m-312 1h20m107 0h10m19 0h10m146 0h10m-370 1h10m38 0h10m78 0h10m156 1h9m-467 3h10m399 0h10m-20 1h10m19 3h10m-428 3h9m224 0h10m-19 1h9m234 0h10m-214 1h19m0 2h10m-302 2h10m428 0h10m-341 1h10m19 0h10m312 0h9m-78 1h10m29 0h10m-234 1h10m49 0h10m-20 1h20m29 0h10m-39 1h9m-301 1h9m302 0h10m-273 1h10m321 0h10m127 0h9m-516 1h10m234 0h9m-58 1h10m117 0h9m107 0h10m-389 1h9m78 0h10m224 0h10m-351 1h10m88 0h9m59 0h9m137 0h10m175 0h10m-215 1h10m185 0h10m-448 1h10m48 0h20m78 1h9m39 0h10m-263 1h10m282 0h10m-350 2h19m448 0h10m-78 1h9m-408 1h9m59 1h9m302 0h10m127 0h9m-282 1h10m-59 1h10m175 0h10m10 1h19m-282 1h10m-98 1h10m97 0h10m-68 2h10m253 0h10m-254 2h10m0 1h10m360 0h10m-244 1h10m156 0h10m-166 1h20m126 1h10m-166 1h10m-272 1h9m341 4h10m-205 1h10m205 0h9m137 0h9m0 1h10m-107 3h10m-390 1h10m409 0h10m-312 2h10m360 0h10m-536 1h10m195 0h9m-38 1h9m331 0h10m-341 1h10m-29 1h10m29 0h9m-165 1h10m243 0h10m-175 1h9m98 1h9m205 0h10m-409 1h9m-9 3h9m146 0h10m39 0h10m165 0h10m-341 1h10m20 2h9m68 0h10m-175 1h10m448 0h9m-29 3h10m-448 3h19m293 0h19m-273 1h10m370 0h10m-283 1h10m59 0h9m69 0h9m-379 1h9m20 0h9m176 0h9m59 0h10m68 0h10m-361 1h10m516 0h10m-273 2h10m-224 1h10m68 0h10m165 0h10m-195 1h10m39 0h10m136 0h10m48 2h10m-49 1h10m0 1h10m58 0h10m-234 1h10m312 0h9m-525 1h9m78 0h10m88 0h9m107 0h10m156 0h10m-341 1h10m-78 1h9m185 0h10m136 3h10m78 0h10m-166 1h10m29 0h10m29 0h10m-390 2h10m166 0h9m108 0h9m39 2h20m-273 1h10m-98 2h10m39 1h10m-68 1h9m-29 1h10m477 0h10m-234 2h10m97 1h10m29 0h10m68 1h10m10 0h9m-233 1h9m59 0h10m-351 1h10m516 0h10m-536 1h19m117 1h10m156 2h10m-98 1h10m224 0h10m-30 1h10m78 2h10m-263 1h10m-176 1h10m88 0h9m39 0h10m166 5h9m-272 1h10m194 1h10m-273 1h10m360 0h10m-350 1h9m-117 1h20m253 0h10m68 1h10m97 0h10m-205 1h10m0 1h10m-68 1h9m69 2h9m-224 1h10m107 1h10m19 0h10m195 0h10m39 0h9m-487 2h10m-19 1h9m98 1h10m185 2h9m59 0h9m-389 4h10m214 0h10m9 0h10m-175 2h10m292 0h9m49 2h20m-146 1h9m20 0h10m-176 1h10m-49 1h10m117 0h10m-283 1h10m29 0h10m156 1h9m205 1h10m-331 2h9m254 0h9m-379 1h9m224 1h10m-49 1h10m-49 2h10m88 0h9m205 0h10m-400 1h10m68 1h10m156 1h10m48 0h10m-312 1h20m97 0h10m156 0h10m-293 1h10m127 1h9m302 0h10m10 0h10m-302 1h9m185 1h10m88 1h10m-555 2h9m0 1h10m166 0h9m-194 1h9m146 0h10m97 0h10m20 0h9m166 0h10m-78 1h9m0 1h10m-48 1h19m-175 3h9m147 0h9m98 0h9m-486 1h9m234 0h10m136 0h10m-302 1h10m185 0h9m20 1h10m-215 1h10m234 0h19m-350 1h9m59 0h10m48 0h10m-165 1h9m137 0h9m185 1h10m-350 1h9m195 0h10m214 0h10m0 2h9m-301 3h9m49 0h10m282 1h20m-293 1h20m-136 1h9m205 0h10m48 0h10m-312 1h10m263 0h10m-273 1h10m204 0h10m0 1h10m-156 2h10m136 0h10m-49 2h10m126 0h20m78 0h10m-370 1h9m10 0h10m146 1h10m39 0h9m156 0h20m-439 2h10m49 1h10m155 0h10m20 0h9m-146 1h10m0 1h10m126 0h20m117 0h9m20 0h10m-526 1h9m59 1h10m107 0h9m283 0h10m-234 1h10m-166 1h10m68 0h10m272 0h10m-360 1h10m87 0h10m302 0h10m-487 1h9m263 1h10m175 0h10m-39 2h10m29 0h10m-399 1h9m49 0h10m9 0h10m39 0h10m175 0h10m58 0h10m-409 1h10m165 0h10m59 0h19m-273 1h10m253 1h10m-370 1h10m107 1h10m58 0h10m9 0h10m49 0h10m243 0h10m-497 1h10m117 0h10m68 0h9m205 0h10m0 1h9m-360 1h10m126 1h10m20 0h9m-263 1h10m360 1h10m-272 1h9m156 0h20m175 0h10m-419 1h10m175 1h10m214 0h10m-312 1h10m97 1h10m78 1h9m-340 2h9m293 1h9m-311 1h9m98 0h10m155 0h10m-331 1h10m19 0h10m107 0h10m10 0h9m10 0h10m146 0h10m19 0h10m-185 1h9m254 0h9m-282 1h10m107 0h10m146 0h19m29 0h10m-253 1h10m-292 2h9m137 0h9m98 0h9m49 0h20m39 0h9m-243 1h10m0 1h9m253 1h10m-48 2h9m-341 1h10m214 0h10m195 0h10m-195 2h10m-205 1h10m165 0h10m195 0h10m-263 1h9m30 0h9m117 0h10m146 0h10m-516 1h9m59 0h10m9 0h10m20 0h9m117 0h10m-146 1h10m340 0h10m39 1h10m-360 1h9m292 1h10m-88 1h10m-48 1h19m-321 1h9m78 0h20m117 0h9m-175 1h10m370 0h10m-458 1h10m175 0h10m107 0h10m136 1h10m-507 1h10m49 1h9m400 2h9m-370 1h20m10 0h9m215 0h9m-97 1h10m-254 1h10m341 0h10m146 0h10m-341 2h9m244 0h10m68 0h10m-429 1h10m117 0h9m30 0h9m39 0h10m-234 1h10m312 1h9m-214 1h10m39 0h10m175 0h10m-380 1h19m-9 1h9m39 0h10m107 0h10m107 0h10m-390 1h10m195 0h9m283 1h10m-127 1h10m-399 1h9m185 0h10m312 0h19m-302 1h20m155 0h10m-272 2h9m127 0h10m165 0h10m-20 1h10m59 0h9m-302 1h10m-233 1h9m526 0h10m-312 2h10"/>
<path stroke="#001aff" stroke-width="2" d="M422 215h10m-244 8h10m166 35h9m-165 15h10m379 7h10m-175 2h10m-49 8h10m-215 18h10m370 7h10m-292 26h9m-29 23h20m253 1h10m-88 18h10m-185 17h9m117 32h10m-253 6h10m175 25h10m-98 2h10m204 19h10m-389 25h9m108 37h9m59 16h9m117 26h10m-117 9h10m-156 4h10m292 0h10m-10 8h10m-78 6h10m-312 22h10m233 3h10m-117 11h10m292 8h10m-224 3h10m272 16h10m-516 1h10m253 13h10m87 0h10m-156 3h10"/>
<path stroke="#001aff" stroke-width="3" d="M451 436.5h10"/>
<path stroke="#0026ff" stroke-width="1" d="M451 205.5h10m-273 4h10m10 3h10m155 0h10m10 0h10m77 0h10m-282 3h19m39 1h10m156 0h10m-215 3h10m20 2h9m68 0h10m59 1h9m30 0h9m29 1h10m-87 1h9m-39 1h20m-146 1h10m223 2h20m-263 1h10m126 0h20m156 0h9m-311 1h10m331 0h9m-506 1h10m175 1h10m68 0h10m39 3h9m-204 2h10m175 1h10m155 2h10m-19 2h9m-389 2h10m175 1h10m224 0h9m-78 1h10m68 0h10m-224 6h10m29 0h10m-360 1h9m49 1h10m-20 1h20m428 0h10m-224 1h19m215 1h9m-126 1h9m-340 3h9m10 1h10m243 0h10m-185 2h10m-20 1h10m-127 1h10m322 1h9m20 0h9m-19 1h10m-166 1h10m-195 3h10m68 0h10m165 0h10m205 0h9m-263 1h10m244 0h19m-438 1h10m9 1h10m88 0h9m78 0h30m97 1h10m-438 1h9m283 1h9m-292 1h10m97 0h10m390 0h9m-409 1h20m360 0h20m-507 2h10m477 0h10m-331 4h10m233 3h10m-331 1h10m370 0h9m-58 3h10m-312 2h10m29 1h20m340 0h10m-487 5h10m292 0h20m-195 1h10m19 0h10m185 0h9m-243 4h10m195 3h9m-292 7h10m224 1h10m39 1h9m117 4h10m-370 1h10m29 0h10m155 6h10m-350 2h19m136 0h10m-97 1h9m448 1h10m-360 2h10m48 1h10m-195 1h10m39 4h10m107 2h9m-126 3h10m409 0h9m-467 2h10m146 0h9m-155 1h9m10 0h10m97 0h10m175 0h10m-312 1h10m117 0h10m87 0h10m-224 1h10m380 1h9m-399 2h10m282 2h10m29 0h10m68 0h10m-117 3h10m-185 2h9m215 1h9m-438 5h10m58 1h10m88 2h10m301 1h10m-467 1h9m39 1h10m283 1h9m146 1h10m-136 1h9m-389 3h10m224 0h9m-155 2h9m59 0h10m185 0h9m-282 5h10m126 3h10m273 1h9m-311 1h9m-29 3h10m39 0h10m194 2h10m-321 3h10m107 0h9m10 1h10m156 0h9m-311 1h10m87 1h10m292 2h10m-487 1h10m253 0h10m39 0h9m68 2h10m-214 1h10m68 0h10m107 1h9m88 1h10m-20 1h10m10 1h10m-439 2h10m-58 4h9m-19 1h10m117 2h9m176 0h9m-263 1h10m205 0h9m-87 1h9m146 0h10m68 0h10m-399 2h10m253 3h10m-283 2h10m136 2h10m-243 3h19m68 0h10m273 0h9m166 0h10m-312 1h10m136 0h10m-29 2h9m20 0h9m-175 1h10m-146 2h10m48 0h10m166 0h9m-48 1h9m-185 1h10m78 1h10m-214 3h9m507 0h9m-487 1h10m477 1h10m-477 1h10m233 1h10m10 1h10m97 1h10m58 0h10m-341 3h20m-156 1h9m88 0h10m97 1h10m273 2h9m-302 1h10m-97 3h10m272 1h10m-370 3h10m331 0h9m108 1h9m0 2h10m-419 1h10m10 0h10m136 1h10m-59 2h10m-195 1h10m107 0h10m156 1h9m-311 1h9m429 0h10m29 0h10m-195 1h10m97 0h10m-39 4h9m10 0h20m-244 4h10m204 0h10m-107 1h10m-302 3h10m516 0h10m-176 1h10m-166 1h10m-204 2h19m-29 1h10m194 0h10m205 0h9m-155 1h9m-68 1h10m39 1h10m224 3h9m-165 1h10m-293 2h10m-87 1h9m477 0h10m-448 4h10m68 2h10m175 0h10m97 0h10m-127 1h10m-49 1h10m98 0h9m107 2h10m10 1h10m-419 1h10m9 2h10m390 2h9m-214 3h10m68 0h10m-107 1h9m-165 1h10m350 1h10m-370 1h10m9 1h10m107 0h10m39 1h10m-69 1h10m-234 2h10m185 0h10m-243 2h9m283 0h9m20 0h10m194 0h10m-234 1h10m185 0h10m-234 1h10m49 0h19m-58 1h9m-48 1h9m-48 1h19m-146 3h10m234 0h9m10 0h10m-98 2h10m-253 2h10m29 2h10m340 0h10m-136 2h10m-224 1h9m156 0h10m-146 1h10m136 0h10m-205 2h10m253 2h10m29 0h10m-107 1h9m-165 1h10m29 0h10m9 1h10m205 0h9m-214 2h10m175 0h10m10 0h9m137 1h9m-321 1h19m273 1h10m-185 1h10m-69 3h10m-117 2h10m29 1h10m136 0h10m-58 1h9m176 0h9m-146 1h10m-195 1h10m351 0h19m-292 1h10m107 0h10m97 0h10m-390 1h10m419 1h9m-233 2h9m-282 1h10m331 0h10m77 0h10m-448 2h10m166 1h9m68 0h10m59 0h9m78 0h10m-29 1h9m-292 1h10m195 0h10m-224 1h9m195 0h10m19 1h20m165 0h10m-487 1h10m477 1h10m-146 3h9m-292 1h10m214 0h10m-263 1h10m19 3h10m29 0h10m107 0h10m234 1h9m-350 1h10m38 0h10m78 0h10m19 0h10m156 0h10m-166 1h10m156 0h9m-146 1h10m-39 2h10m-341 1h10m87 0h10m234 0h10m175 0h10m-49 1h10m-195 1h10m29 2h10m-273 1h10m19 1h10m165 0h10m107 0h10m97 1h10m-438 1h10m185 0h9m98 0h9m137 0h10m-108 1h10m-224 1h10m-224 1h10m253 1h10m204 0h10m-205 2h10m185 0h10m-321 1h19m10 0h9m-223 1h9m29 2h10m312 0h10m-20 1h10m10 0h9m98 0h9m20 0h10m9 1h10m-448 1h10m97 1h20m-185 1h9m49 0h10m10 0h9m78 0h10m243 0h10m-380 1h10m39 0h10m68 0h10m58 0h10m253 2h20m-215 1h20m165 1h10m-10 4h10m-506 1h9m30 0h9m-58 1h10m156 0h9m29 0h10m117 0h10m29 0h10m-399 1h19m97 0h10m302 0h19m-418 1h9m273 0h10m136 0h10m-107 1h10m-205 1h10m87 2h10m20 1h9m-29 1h10m-146 1h10m253 0h9m-389 1h10m185 0h9m-185 1h10m29 0h10m117 0h10m39 0h9m195 0h10m-175 2h9m-126 2h10m77 0h10m195 0h10m29 0h10m-507 1h10m97 0h10m282 0h10m39 0h20m-273 2h10m272 0h10m-311 1h9m156 1h10m165 0h10m-467 1h9m195 0h10m-156 1h20m233 0h10m-331 1h10m146 0h9m137 0h10m58 0h10m-341 1h10m9 0h10m146 0h10m88 0h9m39 0h10m-370 1h10m165 0h10m10 0h9m234 1h10m-506 1h9m244 0h9m176 0h9m-272 2h10m194 0h10m-68 1h10m194 1h10m-312 3h10m10 2h10m-156 1h10m126 0h10m49 0h9m166 0h10m68 0h10m-332 1h10m88 1h10m136 0h10m-234 3h29m39 0h10m-78 1h10m126 1h10m-389 1h9m98 1h9m380 0h10m-409 1h10m428 1h10m-399 1h9m59 1h9m166 1h10m146 0h10m-400 2h10m166 0h9"/>
<path stroke="#0026ff" stroke-width="2" d="M529 217h10m-380 1h10m185 37h10m214 4h10m-380 193h10m107 3h9m108 16h9m-39 18h10m58 11h10m-165 35h9m254 25h9m-282 59h10m282 40h10m-39 1h10"/>
<path stroke="#0033ff" stroke-width="1" d="M208 206.5h10m-39 2h9m166 2h10m175 1h10m-351 1h10m-78 1h19m156 1h10m-185 2h10m272 1h10m-350 1h9m49 0h10m48 0h10m370 8h10m-331 1h10m204 0h10m-49 1h10m19 0h20m-234 2h10m263 7h9m-389 1h10m243 2h10m146 0h10m-419 1h10m146 1h9m-136 2h10m19 0h10m59 1h9m-48 12h9m-107 2h10m136 1h10m146 2h10m-49 3h10m-273 1h10m97 3h10m136 2h10m-253 1h10m311 0h10m39 3h19m-379 4h9m439 1h9m-263 2h10m244 0h9m-457 3h9m78 2h10m263 2h19m-224 2h10m195 1h10m-419 5h10m282 1h10m-20 1h10m39 0h10m-117 1h10m9 0h10m20 0h9m244 1h10m-341 1h29m-195 2h10m292 0h10m-331 1h9m156 1h10m292 2h10m-107 1h9m-194 8h9m156 0h10m-302 1h10m29 4h10m10 0h9m39 7h10m-39 1h10m58 3h10m10 6h9m-107 1h10m341 1h10m-312 2h10m-166 1h10m380 3h9m-379 1h9m0 1h10m273 2h10m-302 3h9m20 0h10m87 0h10m136 1h10m-29 7h10m-283 2h10m419 5h19m-467 2h9m-19 1h10m321 4h10m-20 5h10m-156 3h20m136 5h10m-117 4h10m-49 1h10m243 2h10m-195 3h10m-273 1h20m117 1h9m-126 5h19m10 4h10m457 0h10m-370 1h10m341 0h9m-175 3h10m-312 4h10m204 2h10m234 3h10m-20 2h10m-78 7h10m87 0h10m-302 2h10m29 0h10m58 0h10m-273 1h10m380 0h10m-185 1h9m-126 1h10m146 3h9m-19 1h10m9 1h10m0 5h10m-156 1h19m283 0h10m-341 1h10m175 4h10m-108 1h10m-126 1h9m-39 2h10m273 0h9m-360 3h10m88 3h9m341 0h10m-380 1h10m399 3h10m-477 1h9m-39 1h10m438 2h20m-185 2h10m-98 1h10m49 0h9m30 0h9m-321 4h10m467 0h10m-175 1h9m-19 1h19m68 0h10m10 0h10m0 2h9m-68 2h10m-49 2h10m0 3h20m-283 3h10m97 5h10m214 2h10m117 0h10m-244 1h10m185 1h10m-234 1h10m253 0h10m-20 1h10m-322 5h10m-195 1h20m302 0h10m48 1h10m-214 2h9m69 0h9m10 1h10m107 0h10m-107 5h9m185 0h10m-195 1h10m-19 3h9m146 0h10m10 0h10m-487 2h9m361 1h9m-389 1h10m29 2h10m165 4h10m-224 3h10m214 0h10m39 0h9m78 1h10m-68 1h10m9 0h10m-88 3h10m-243 1h9m49 2h10m253 0h20m-273 1h10m175 1h10m39 0h9m-165 4h10m-166 1h10m78 1h9m127 2h10m107 0h10m-108 2h20m19 3h10m-224 1h10m29 0h20m379 1h10m-448 3h10m389 3h10m-331 4h10m-10 2h10m350 1h10m-117 1h10m-380 3h10m419 1h9m-399 1h10m136 0h10m136 0h10m-156 5h10m-68 1h10m214 0h9m20 1h10m-331 1h9m215 0h9m20 1h10m-166 1h10m97 0h10m204 1h10m-438 1h10m428 1h10m-448 1h10m224 0h9m-194 1h19m175 0h10m-29 1h10m-263 7h9m146 1h10m-117 2h10m59 0h9m156 1h10m-107 1h9m-39 2h10m-214 1h10m107 1h10m-69 1h10m205 0h9m-243 1h10m282 0h10m-78 2h10m-98 1h10m204 0h10m107 0h10m-234 1h10m-78 1h10m156 0h9m-282 1h10m29 0h10m117 0h9m59 0h10m116 1h10m-292 1h10m-39 1h10m29 0h9m-204 2h19m-9 1h9m10 1h20m302 0h9m-87 1h9m117 0h10m-107 1h10m29 0h10m-293 1h10m68 0h10m39 0h10m48 0h20m-127 1h20m272 0h10m-311 2h9m98 0h9m224 2h10m-419 2h10m263 0h10m19 1h10m-58 1h9m-146 1h10m68 1h10m185 0h10m-127 2h10m165 0h10m-535 1h9m127 1h10m214 0h10m107 0h9m-107 1h10m-360 1h9m156 2h20m68 0h10m87 0h10m10 0h9m0 1h10m-29 1h10m-205 1h10m-78 1h10m175 1h10m-49 1h10m126 1h10m98 0h9m-525 1h9m137 0h9m98 2h9m185 0h10m-263 1h10m282 3h10m-380 1h10m244 0h9m10 0h19m-340 1h9m322 0h9m88 1h10m-136 2h9m49 2h10m107 4h10m-98 1h10m-331 1h10m253 0h9m-282 1h10m49 0h9m59 0h9m195 0h10m-360 1h9m176 1h9m156 1h10m-78 2h10m126 0h10m-117 4h10m-331 1h10m107 3h9m205 0h10m97 0h10m-390 1h10m29 0h10"/>
<path stroke="#0033ff" stroke-width="2" d="M383 237h10m-146 67h10m-30 49h10m-78 33h10m-10 27h10m165 19h10m-253 39h10m321 7h10m-283 42h10m185 66h10m-205 10h10m107 11h10m-146 32h10m253 4h10m-331 22h9"/>
<path stroke="#0033ff" stroke-width="3" d="M393 684.5h10"/>
<path stroke="#0040ff" stroke-width="1" d="M218 206.5h9m137 4h9m-136 4h10m0 1h10m-39 3h9m39 2h10m97 6h10m127 1h9m-331 2h10m360 1h10m-195 3h10m10 3h10m-185 2h9m166 2h10m146 3h9m39 0h10m-535 1h9m20 1h9m507 2h10m-507 7h10m-39 1h10m263 0h9m-204 2h10m87 0h10m146 3h10m-146 3h9m-185 1h10m117 1h10m-117 8h10m29 0h10m19 0h10m117 1h19m88 3h10m-351 1h10m516 9h10m-273 2h10m78 6h9m-204 3h10m77 0h20m39 0h10m-49 2h10m233 1h10m-282 1h9m-224 2h10m10 0h10m117 0h9m-68 3h10m331 1h10m-224 1h9m78 0h10m10 0h10m-273 7h10m253 1h10m-147 10h10m312 0h10m-215 1h10m-185 7h10m-10 5h10m-127 3h10m29 7h10m253 1h10m175 7h10m0 2h10m-78 5h9m-321 3h10m-156 3h10m185 0h9m-107 10h10m244 1h9m88 0h10m-30 3h10m10 10h10m-215 5h10m-224 5h10m136 3h10m88 0h9m-233 2h9m78 0h20m224 5h9m39 1h10m-224 4h10m-117 2h10m10 2h9m312 0h10m-215 1h10m205 1h9m-370 3h10m175 5h10m146 0h10m-205 2h10m39 0h10m87 0h10m-224 1h10m117 1h19m-29 2h20m9 0h10m146 12h10m-214 6h9m98 0h9m-350 2h10m-20 1h10m312 7h9m-97 1h10m68 2h10m-254 2h10m166 0h9m234 1h10m-409 1h10m194 1h10m146 3h10m-214 1h9m78 0h10m-107 1h19m10 6h10m39 1h10m77 1h10m-380 4h20m380 12h9m-486 3h9m438 2h10m-68 1h10m-370 4h9m302 3h10m-156 5h10m97 3h10m-19 1h9m-165 1h10m321 0h10m-312 2h10m146 0h10m-78 2h9m-136 3h10m165 0h10m-88 5h10m-97 2h10m194 1h10m-331 6h10m9 0h10m185 1h10m-127 1h10m-58 1h9m30 0h9m0 1h10m10 1h10m224 4h9m-68 3h10m29 1h10m19 1h10m19 9h10m-321 6h10m360 0h10m-185 2h9m195 1h10m-487 2h10m194 0h10m185 1h10m-195 4h10m-20 2h10m-87 3h9m-117 1h10m20 0h9m234 1h10m-205 1h10m156 3h10m-185 1h19m68 2h10m10 0h9m156 0h10m136 0h10m-39 2h10m-312 1h10m-195 1h10m321 0h10m-127 2h10m-204 2h9m254 0h9m127 0h10m-331 1h9m-19 4h10m78 2h9m166 0h19m-87 1h9m-68 1h10m243 0h10m-311 1h9m39 1h10m243 0h10m-448 1h10m-49 1h10m351 1h9m156 2h10m-117 1h10m-361 1h10m127 1h9m273 0h10m-477 1h9m98 6h10m-69 1h10m-68 1h10m126 1h10m-136 1h9m195 0h10m29 1h10m-39 2h10m58 0h10m29 1h10m-10 1h20m-108 2h10m29 0h10m-49 4h10m-78 2h10m-204 1h9m487 0h10m-487 1h10m360 2h10m0 3h9m-272 1h10m87 2h10m136 0h10m19 1h10m10 0h10m-127 3h10m29 1h10m-195 1h10m146 0h10m87 1h10m-68 4h10m-332 2h10m156 2h10m107 0h10m-234 2h10m19 1h10m175 0h10m195 0h9m-136 3h10m87 1h10m-389 3h9m331 1h20m-380 2h10m-20 1h10m59 1h9"/>
<path stroke="#0040ff" stroke-width="2" d="M383 212h10m146 5h10m-39 22h9m-58 34h10m48 259h20m-224 2h10m68 12h10m-146 27h9m-97 56h10m175 25h10m-107 41h9"/>
<path stroke="#0040ff" stroke-width="3" d="M403 487.5h9"/>
<path stroke="#004dff" stroke-width="1" d="M442 205.5h9m-87 6h9m-155 9h9m10 2h10m156 1h9m10 4h10m-341 5h10m292 3h10m-215 6h10m399 4h10m-312 1h10m312 2h10m-263 1h9m59 2h10m-215 4h10m-10 3h10m175 2h10m-302 3h10m448 1h10m-370 5h9m-87 3h9m176 1h9m88 5h10m-312 4h10m-49 1h10m428 4h10m-97 8h10m77 6h10m20 0h9m49 0h10m-283 8h10m78 0h10m10 8h9m-302 1h10m49 4h10m389 5h10m-292 11h9m39 7h10m-107 2h19m215 1h9m-379 5h9m409 12h10m-428 4h9m146 11h10m244 2h9m-116 1h9m78 12h10m-205 4h10m49 5h10m-273 14h10m146 1h9m117 3h10m107 2h10m-214 1h9m166 0h10m-78 2h10m-127 8h10m0 1h9m10 0h20m-137 1h10m49 0h9m166 0h10m-39 1h10m-263 1h9m10 0h10m29 0h10m204 5h10m-360 4h9m156 0h10m312 0h9m-496 21h9m-29 1h10m107 2h10m272 7h10m49 0h10m29 0h19m-487 1h10m273 8h10m126 0h10m-78 4h10m-185 4h9m88 5h10m136 9h10m-166 2h10m234 12h10m-546 2h10m234 0h9m-204 3h10m97 2h10m78 2h19m224 3h10m-253 3h9m-29 1h10m97 0h10m10 5h10m-147 5h10m-117 2h10m302 7h10m-244 13h10m78 2h10m-283 8h10m389 2h10m-68 4h10m-273 2h10m49 1h9m370 1h10m-535 8h9m214 2h10m127 3h10m-283 4h10m-39 3h10m282 2h10m136 0h10m-68 2h9m-282 2h10m107 1h10m-117 2h10m311 0h10m-448 1h10m-49 1h10m331 3h10m68 1h9m-194 1h9m-9 5h9m-243 2h10m233 2h10m78 0h10m-39 1h10m29 3h10m-332 1h10m166 7h9m215 2h19m-253 1h10m-78 1h10m116 1h10m-263 1h10m399 0h10m-321 1h9m-29 1h10m380 5h9m-253 2h10m-234 3h10m428 0h10m-126 2h9m-224 2h10m-97 1h9m507 3h10m-507 1h10m331 0h10m-98 5h10m10 1h10m-59 1h10m29 1h10m-234 2h10m19 0h10m-78 2h10m107 1h10m146 4h10"/>
<path stroke="#004dff" stroke-width="2" d="M364 233h9m-282 8h10m263 31h9m-9 8h9m-87 71h9m302 96h10m-331 86h10m146 19h10m-78 1h9m-185 142h10m127 0h9"/>
<path stroke="#004dff" stroke-width="3" d="M198 679.5h10"/>
<path stroke="#0059ff" stroke-width="1" d="M305 215.5h10m107 1h10m-312 1h10m263 7h10m97 3h10m-409 13h9m439 1h9m-399 2h10m68 13h10m78 0h19m-117 1h10m-19 1h9m185 3h20m-312 12h10m360 2h10m-78 2h10m-360 1h9m487 3h10m-506 7h9m409 0h10m-195 6h10m49 4h9m185 4h10m-292 1h10m-49 2h10m-78 13h10m321 2h10m-127 25h10m-263 23h10m78 32h9m205 4h10m175 7h10m-98 5h10m-49 11h10m19 0h10m-39 6h20m-292 4h9m-39 2h10m-49 5h10m263 0h10m-137 14h10m29 0h20m10 12h9m20 4h10m9 3h10m107 2h10m-10 10h10m-458 20h10m380 2h9m-204 1h10m321 6h10m-390 13h10m146 6h10m-273 13h10m341 0h9m-107 3h20m-20 1h10m49 4h10m-273 1h10m204 1h10m117 6h9m-19 8h10m-429 9h10m419 0h9m-253 2h10m117 3h10m-244 3h10m428 0h10m-380 2h10m-68 7h10m253 2h10m-273 10h19m322 3h9m-146 1h10m88 1h9m-399 5h20m331 3h10m126 5h10m-419 1h10m29 5h10m58 5h10m29 1h20m-107 3h9m253 3h10m-29 1h10m-322 1h10m331 1h10m-136 3h9m-194 1h9m-97 1h10m389 0h10m68 0h10m-10 2h10m-438 7h9m205 15h10m0 1h9m-29 1h10m-20 1h10m-117 4h10m-78 5h10m360 0h10"/>
<path stroke="#0059ff" stroke-width="2" d="M568 539h10m-39 156h10"/>
<path stroke="#0059ff" stroke-width="4" d="M607 528h10"/>
<path stroke="#0066ff" stroke-width="1" d="M412 227.5h10m29 0h10m-360 5h9m-38 3h9m312 4h10m146 1h9m-136 11h10m-205 5h10m-156 22h10m156 19h10m116 1h10m-19 1h9m-68 2h20m-30 2h10m-146 74h10m156 16h9m-126 7h10m214 5h10m116 19h10m-58 1h9m-39 2h10m49 7h10m-244 1h10m-107 2h10m58 0h10m185 0h9m-68 6h10m20 3h9m10 0h10m146 20h10m-127 16h10m-244 16h10m10 0h9m254 8h9m-9 20h9m-194 2h9m244 1h10m-322 4h10m97 11h10m-273 8h10m438 5h10m-107 9h10m-438 4h9m98 0h9m98 0h9m185 15h10m-126 4h9m215 12h9m-29 12h10m-312 4h10m156 1h10m19 0h10m-185 12h9m283 0h10m-254 8h10m107 12h10m39 1h10m-244 1h10m-10 6h10m29 4h10m253 1h10m-399 1h9m312 6h10m-39 6h9m-116 4h9m-253 5h10"/>
<path stroke="#0066ff" stroke-width="2" d="M451 383h10m127 147h9m-311 3h9m-204 27h10"/>
<path stroke="#0066ff" stroke-width="3" d="M617 541.5h10m-69 10h10m-458 9h10m156 8h19m-107 124h10"/>
<path stroke="#0066ff" stroke-width="4" d="M588 527h9m20 0h10m-20 23h10m-185 19h10"/>
<path stroke="#0073ff" stroke-width="1" d="M198 208.5h10m49 19h9m98 27h9m-233 4h9m351 30h10m-224 15h9m-194 1h9m137 1h10m9 0h10m-78 3h20m-59 11h10m68 51h10m175 40h10m136 14h20m-69 1h10m-165 10h9m-116 2h9m-19 1h10m175 8h10m-49 41h10m-331 22h9m419 1h10m-127 44h10m-98 30h10m68 5h10m-10 26h10m-224 13h10m165 0h10m-68 12h10m146 0h10m-10 2h10m126 17h10m-399 4h9m-68 21h10m-10 2h10m58 1h10"/>
<path stroke="#0073ff" stroke-width="2" d="M159 554h10m156 14h9m127 118h10m-351 4h10m341 0h9m59 3h10m-20 2h10"/>
<path stroke="#0073ff" stroke-width="3" d="M578 531.5h10"/>
<path stroke="#0073ff" stroke-width="4" d="M578 528h10m-380 36h10m194 0h10"/>
<path stroke="#0080ff" stroke-width="1" d="M188 208.5h10m20 11h9m10 2h10m-29 16h9m370 45h10m-97 6h9m-194 13h9m-97 68h10m292 56h10m-292 24h9m341 17h10m-341 31h10m19 44h10m-20 77h10m283 7h9m20 26h10m-195 16h10m-263 20h9m39 2h10m-97 2h9m322 0h9"/>
<path stroke="#0080ff" stroke-width="3" d="M549 694.5h9"/>
<path stroke="#008cff" stroke-width="1" d="M130 217.5h10m107 4h10m77 78h10m10 0h10m-107 6h9m29 130h10m29 0h10m29 0h20m-127 1h10m107 3h10m10 0h19m-263 5h10m117 53h9m-146 56h10m273 48h10m-302 11h9m234 4h10m-234 14h10m-97 25h9m507 5h9m0 23h10m-165 3h9m-331 1h10m399 6h10"/>
<path stroke="#0099ff" stroke-width="1" d="M519 288.5h10m-185 11h10m195 126h9m-78 12h10m-97 2h10m-127 59h10m87 38h10m136 47h10m-107 18h10m-68 14h9m10 0h10m58 34h10m136 33h10m-477 6h10m39 4h9m361 0h9m-87 1h9"/>
<path stroke="#0099ff" stroke-width="2" d="M179 695h9"/>
<path stroke="#00a6ff" stroke-width="1" d="M140 368.5h9m380 57h10m-185 10h10m-78 1h9m-97 4h10m175 96h10m175 119h10m-136 36h9m-19 1h10m155 0h10"/>
<path stroke="#00b2ff" stroke-width="1" d="M149 319.5h10m10 0h10m321 107h10m-185 9h9m10 0h10m-127 3h20m-68 2h9m-19 4h10m-30 1h10m292 0h10m-282 1h9m244 222h10m-312 21h10m292 0h19m-9 1h9m-272 1h9m-48 1h9m322 0h9m-301 1h9"/>
<path stroke="#00b2ff" stroke-width="2" d="M442 685h9m-311 10h9"/>
<path stroke="#00ccff" stroke-width="1" d="M72 287.5h9m477 138h10m-78 1h10m19 0h10m-234 10h10m-87 2h9m30 0h9m-78 2h10m224 3h10m29 2h10m136 99h10m-29 3h19m-19 1h9m-39 6h10m-19 1h19m-467 3h9m-38 4h9m273 0h10m165 2h10m-292 1h10m243 0h10m19 0h20m-448 1h9m429 0h10m-283 2h10m-39 3h10m-117 1h10m448 111h9m-165 5h10m-302 5h9"/>
<path stroke="#00ccff" stroke-width="2" d="M607 532h10m-20 9h10m-39 1h10m0 9h10m29 0h10m-78 6h9m-39 4h10m-68 5h10m126 123h10m-146 6h10"/>
<path stroke="#00ccff" stroke-width="3" d="M422 568.5h10m-273 1h10"/>
<path stroke="#00ccff" stroke-width="4" d="M101 556h9m205 13h10"/>
<path stroke="#00e6f7" stroke-width="1" d="M480 426.5h10m20 0h9m-243 10h10m-78 2h10m224 7h9m156 80h10m-39 17h10m29 3h10m-30 4h10m-39 5h20m-20 1h29m-107 4h10m-10 1h20m-39 1h9m-223 3h9m-97 1h19m215 1h9m-243 4h10m194 0h20m58 3h20m-10 1h10m-205 66h10m312 42h9m-175 2h10m10 3h9m127 0h10m-10 2h10m29 0h10m-39 1h9m0 1h10m-127 1h10"/>
<path stroke="#00e6f7" stroke-width="2" d="M578 541h19m10 1h10m-29 9h19m-29 6h10m-30 3h10m-39 1h10m-68 2h19m-19 2h9m-389 1h10m117 0h19m146 3h10m-273 2h10m10 2h9m244 0h10m-244 1h10m263 112h10m-20 2h10m-322 3h10m351 4h9"/>
<path stroke="#00e6f7" stroke-width="3" d="M578 538.5h10m29 0h10m-49 23h10m-254 1h10m-224 1h10m360 5h10m-78 6h10"/>
<path stroke="#00e6f7" stroke-width="4" d="M578 535h10m-224 29h9m-204 4h10"/>
<path stroke="#15ffe2" stroke-width="1" d="M257 436.5h9m166 9h10m0 243h9m-58 3h10m204 0h10m-185 2h10m165 0h10"/>
<path stroke="#15ffe2" stroke-width="2" d="M422 690h10"/>
<path stroke="#15ffe2" stroke-width="3" d="M412 568.5h10m20 2h9"/>
<path stroke="#15ffe2" stroke-width="4" d="M442 567h9"/>
<path stroke="#29ffce" stroke-width="1" d="M432 687.5h10m136 1h10m9 2h10m0 2h10"/>
<path stroke="#29ffce" stroke-width="2" d="M461 693h10m-39 2h19m156 0h10"/>
<path stroke="#29ffce" stroke-width="3" d="M480 569.5h10"/>
<path stroke="#3effb9" stroke-width="1" d="M159 445.5h10m-59 240h10m-10 2h10m468 2h9m-117 4h10"/>
<path stroke="#3effb9" stroke-width="2" d="M305 569h10m107 117h10m-29 5h9"/>
<path stroke="#52ffa5" stroke-width="1" d="M471 571.5h9m-370 115h10m-10 2h10m273 2h10m39 2h9"/>
<path stroke="#52ffa5" stroke-width="2" d="M568 552h10m-448 14h10m-30 129h20m292 0h10m48 0h10"/>
<path stroke="#52ffa5" stroke-width="3" d="M344 563.5h10"/>
<path stroke="#52ffa5" stroke-width="4" d="M568 545h10m-10 4h10"/>
<path stroke="#67ff90" stroke-width="1" d="M266 565.5h10m166 128h9"/>
<path stroke="#67ff90" stroke-width="2" d="M110 693h10"/>
<path stroke="#7bff7b" stroke-width="1" d="M179 445.5h9m409 90h10m-39 25h10m-380 10h10m224 114h10m-10 6h10m-20 3h10m126 0h10"/>
<path stroke="#7bff7b" stroke-width="2" d="M72 560h9"/>
<path stroke="#7bff7b" stroke-width="3" d="M140 568.5h9"/>
<path stroke="#7bff7b" stroke-width="4" d="M597 544h10m-39 14h10m-497 5h10"/>
<path stroke="#90ff67" stroke-width="1" d="M169 445.5h10m243 247h10"/>
<path stroke="#90ff67" stroke-width="2" d="M558 557h10m-438 136h10"/>
<path stroke="#a5ff52" stroke-width="1" d="M588 542.5h9m-165 32h10"/>
<path stroke="#a5ff52" stroke-width="2" d="M588 553h9m-496 7h9m341 9h10m97 126h10"/>
<path stroke="#a5ff52" stroke-width="4" d="M393 570h10"/>
<path stroke="#b9ff3e" stroke-width="1" d="M588 534.5h9m-448 36h10m-29 121h10m292 0h10m-322 1h10"/>
<path stroke="#b9ff3e" stroke-width="2" d="M588 533h19m-29 20h10m-293 16h10m-175 126h10"/>
<path stroke="#b9ff3e" stroke-width="3" d="M568 694.5h10"/>
<path stroke="#ceff29" stroke-width="2" d="M295 565h10"/>
<path stroke="#ceff29" stroke-width="3" d="M597 538.5h10"/>
<path stroke="#e2ff15" stroke-width="1" d="M81 558.5h10m419 2h9m-447 1h9m438 3h10m-331 2h10m-78 1h10m87 0h10m127 0h9m-146 3h10m175 0h10m-253 1h10m263 2h9m-331 118h10m438 1h10m-458 1h10"/>
<path stroke="#e2ff15" stroke-width="2" d="M617 535h10m-49 14h10m-516 8h19m107 12h10m29 0h10m126 0h10m-175 2h10"/>
<path stroke="#e2ff15" stroke-width="3" d="M568 562.5h10m-487 1h10"/>
<path stroke="#e2ff15" stroke-width="4" d="M578 545h10m-409 23h9"/>
<path stroke="#f7f600" stroke-width="1" d="M588 546.5h9m-9 3h9m-48 11h9m-204 3h10m-254 1h10m137 1h9m146 7h10m136 120h10m20 1h9"/>
<path stroke="#f7f600" stroke-width="2" d="M578 559h10m-487 4h19m214 2h10m-97 4h10m-127 2h10m48 0h10"/>
<path stroke="#f7f600" stroke-width="4" d="M607 538h10"/>
<path stroke="#ffde00" stroke-width="1" d="M549 564.5h9"/>
<path stroke="#ffde00" stroke-width="2" d="M403 572h9m205 123h10"/>
<path stroke="#ffc600" stroke-width="1" d="M588 692.5h9m20 1h10"/>
<path stroke="#ffc600" stroke-width="2" d="M588 695h9"/>
<path stroke="#ffaf00" stroke-width="1" d="M597 534.5h10m10 2h10m-419 30h10m-69 6h10m419 120h10"/>
<path stroke="#ff9700" stroke-width="1" d="M607 535.5h10m-59 23h10m-58 6h9m-214 1h10m-136 7h9"/>
<path stroke="#ff9700" stroke-width="2" d="M588 545h9m-146 27h20"/>
<path stroke="#ff9700" stroke-width="3" d="M588 538.5h9m-477 30h10"/>
<path stroke="#ff7f00" stroke-width="1" d="M597 546.5h10m-370 20h10"/>
<path stroke="#ff7f00" stroke-width="2" d="M81 560h10m10 5h9m20 4h10"/>
<path stroke="#ff7f00" stroke-width="4" d="M354 566h10"/>
<path stroke="#ff6800" stroke-width="1" d="M198 567.5h10m370 126h10"/>
<path stroke="#ff5000" stroke-width="1" d="M334 566.5h10m20 0h9m69 6h9m166 120h10"/>
<path stroke="#ff5000" stroke-width="2" d="M120 566h10m10 5h9"/>
<path stroke="#ff5000" stroke-width="4" d="M403 569h9"/>
<path stroke="#ff3900" stroke-width="1" d="M325 566.5h9m49 0h10"/>
<path stroke="#ff3900" stroke-width="2" d="M305 567h10m-156 5h10"/>
<path stroke="#ff3900" stroke-width="4" d="M500 563h10"/>
<path stroke="#ff2100" stroke-width="1" d="M188 566.5h10m117 0h10m68 0h10m19 4h10m19 0h10m-49 1h30m-20 1h20m-10 1h10"/>
<path stroke="#ff2100" stroke-width="2" d="M110 566h10m360 0h20m-205 1h10"/>
<path stroke="#ff2100" stroke-width="3" d="M91 557.5h10m389 5h10m-29 6h9"/>
<path stroke="#ff2100" stroke-width="4" d="M218 569h9"/>
<path stroke="#f30900" stroke-width="1" d="M257 566.5h38m78 0h10m-126 1h19m-107 5h10"/>
<path stroke="#f30900" stroke-width="4" d="M539 563h10"/>
<path stroke="#d60000" stroke-width="1" d="M607 534.5h10m-146 32h9"/>
<path stroke="#d60000" stroke-width="2" d="M529 563h10m-292 4h10m321 128h10"/>
<path stroke="#9c0000" stroke-width="1" d="M72 558.5h9m107 9h10m-49 4h10"/>
<path stroke="#9c0000" stroke-width="2" d="M227 569h10"/>
<path stroke="#9c0000" stroke-width="3" d="M549 562.5h19"/>
<path stroke="#800000" stroke-width="1" d="M510 561.5h9m-175 4h10m224 126h10"/>
<path stroke="#800000" stroke-width="2" d="M510 563h19"/>
<path stroke="#800000" stroke-width="3" d="M617 532.5h10m-419 36h10m243 0h10m126 126h10"/>
</g>
<clipPath id="sc"><rect x="72.5" y="715.5" width="554.0" height="140.0"/></clipPath><g clip-path="url(#sc)"><path stroke="#1f77b4" stroke-opacity="0.160" stroke-width="1" fill="none" d="M73 758V806M74 757.5V812M75 761V803.5M76 754V809.5M77 753V803.5M78 756V805.5M79 756.5V803.5M80 764.5V814M81 755.5V803M82 763V809.5M83 758.5V805M84 754V808.5M85 757.5V799.5M86 758.5V806.5M87 755.5V818M88 759.5V809M89 767.5V811M90 758.5V803M91 758V802.5M92 753V806M93 760.5V802M94 755V798M95 748V804M96 750V820.5M97 757.5V802M98 753.5V806M99 750V804M100 759V815.5M101 759V807.5M102 753.5V801M103 761V803M104 748V805M105 756.5V800.5M106 762.5V803M107 760.5V802M108 758.5V802.5M109 753V812.5M110 741V794.5M111 751V788M112 749V791.5M113 754.5V803M114 748.5V808M115 746.5V803.5M116 750V804.5M117 755V811M118 757V808.5M119 758.5V807.5M120 757.5V802M121 756.5V804.5M122 764.5V810M123 747.5V806M124 752V804M125 752.5V810.5M126 761.5V803M127 758.5V814.5M128 753.5V806.5M129 774V814M130 762V813M131 758V804M132 759V817M133 767.5V817.5M134 765.5V811.5M135 763.5V815.5M136 767V814M137 769V812M138 768V821M139 760.5V815M140 759.5V823M141 763.5V815M142 763V819M143 770V810M144 760.5V808.5M145 768V810.5M146 772V819.5M147 778.5V816.5M148 768.5V824M149 766V819.5M150 767V827M151 776.5V817.5M152 769.5V820M153 768.5V828M154 772V816M155 770.5V812M156 758V822M157 754V816.5M158 771V812M159 767V817M160 764.5V815M161 770V810.5M162 762.5V812M163 768V815.5M164 775V820.5M165 765V817M166 774V818M167 777V809M168 780V819.5M169 763V812.5M170 771.5V809.5M171 767V816M172 763V812.5M173 769V815.5M174 767V816.5M175 767V816M176 766.5V829M177 775.5V819.5M178 769V828.5M179 770V820M180 771.5V816.5M181 767V812.5M182 767.5V809M183 765.5V813.5M184 758V813M185 769.5V810M186 769V808.5M187 760V805M188 758V809.5M189 760V813.5M190 757V812.5M191 768.5V806.5M192 763.5V814.5M193 758V818M194 758.5V807M195 754.5V804M196 756.5V807.5M197 765V809.5M198 758V813.5M199 762V796M200 754V800.5M201 761V820M202 753V814M203 759V817M204 757.5V819.5M205 766V837.5M206 757.5V804M207 759.5V815M208 761.5V809.5M209 761V810.5M210 746V817.5M211 769V810M212 764V810M213 759.5V832.5M214 748.5V807.5M215 760V811.5M216 752.5V815M217 764.5V811M218 766.5V804.5M219 768.5V801.5M220 769.5V818.5M221 762V817M222 750.5V801M223 755.5V807M224 766.5V818M225 755V806M226 761.5V813M227 766V816M228 772V815M229 763V808.5M230 765V806.5M231 759V814M232 763.5V814M233 761.5V810.5M234 759V810.5M235 749V814M236 756.5V813M237 754V809M238 752.5V812M239 754V808.5M240 764V812.5M241 765V814M242 763.5V800M243 774V805M244 757.5V808M245 760.5V815.5M246 764V815.5M247 754V801.5M248 751.5V796M249 750.5V810M250 769V818M251 766V814.5M252 759.5V819.5M253 768.5V809M254 767V828.5M255 774V820M256 754.5V809M257 764.5V816.5M258 759V809.5M259 760V809.5M260 758.5V808M261 763.5V813M262 761.5V808M263 759.5V801.5M264 755V793.5M265 751.5V802.5M266 748.5V806M267 767V798.5M268 759.5V811.5M269 763.5V809M270 765V816M271 764V802.5M272 760.5V808M273 754.5V803.5M274 756.5V801M275 754.5V805M276 760.5V807M277 740.5V806M278 765V817M279 761V811M280 761V816.5M281 769.5V815M282 759V821.5M283 768V818M284 761.5V812.5M285 761.5V800.5M286 761V813M287 762.5V814M288 763V809.5M289 757V815M290 750V812M291 762.5V813M292 755.5V816.5M293 762.5V804.5M294 759V808M295 758.5V805M296 759V806.5M297 761V812.5M298 771.5V813.5M299 767.5V817.5M300 753.5V807.5M301 761.5V817.5M302 764.5V824M303 767V812M304 771.5V810M305 762.5V810M306 759.5V814M307 758.5V811.5M308 755V815M309 759.5V808M310 758V815.5M311 753V801.5M312 758V808M313 763.5V803.5M314 762V813.5M315 760.5V826M316 759.5V812M317 762.5V809M318 762V807.5M319 764.5V809.5M320 761.5V819M321 752.5V813.5M322 757.5V802.5M323 758V816M324 762V807M325 765V802M326 762.5V809.5M327 756V806.5M328 764V808.5M329 760.5V811M330 758.5V813.5M331 757.5V805.5M332 766.5V808.5M333 764V813.5M334 769.5V803.5M335 756.5V803M336 759V817M337 767V808.5M338 761V829.5M339 766.5V811M340 764V800.5M341 763V818M342 764V819M343 756.5V808M344 759V828.5M345 759.5V810.5M346 761.5V818.5M347 767.5V811.5M348 765V808M349 760V812M350 764V805.5M351 761.5V816.5M352 759V806M353 760V805M354 762V805M355 756.5V809.5M356 769V804M357 763V808M358 749V806M359 738.5V807M360 749V806M361 758.5V795M362 751.5V803M363 744.5V811M364 772V804.5M365 764V808M366 769.5V811.5M367 767V811M368 759.5V816.5M369 765.5V809M370 761.5V830M371 763.5V811M372 760.5V808M373 758V801.5M374 756V791M375 751V807.5M376 754V803.5M377 752V797.5M378 760V802.5M379 766.5V802M380 758V809M381 756.5V811.5M382 771V806.5M383 766V811M384 760V813.5M385 769V810M386 767.5V812.5M387 762.5V821M388 765.5V807.5M389 763V807M390 758V812.5M391 754V804M392 752V811M393 752.5V803.5M394 754.5V805M395 758.5V808M396 758V820M397 770.5V817.5M398 765V822M399 768.5V819M400 760V827M401 769.5V816M402 764.5V833M403 761V813.5M404 766V808.5M405 768.5V829.5M406 776.5V821M407 768.5V812.5M408 768.5V815.5M409 776V816M410 761V818.5M411 772V809M412 767.5V815.5M413 756V811.5M414 759V819.5M415 757V812.5M416 764V822.5M417 762V814.5M418 761V818M419 776.5V826.5M420 778V834.5M421 775.5V823M422 768.5V816M423 761V818.5M424 761V812.5M425 761V816M426 766V810.5M427 766.5V812.5M428 760V819.5M429 762V848.5M430 777V815.5M431 777.5V832.5M432 775.5V824.5M433 773V835M434 770V818.5M435 772.5V832.5M436 775V828M437 782.5V827.5M438 767V830.5M439 777.5V825M440 770.5V818M441 774V820M442 768.5V829M443 763V837M444 775.5V824M445 774V823M446 775.5V817.5M447 770V818.5M448 771V824M449 769.5V824M450 777.5V829.5M451 777V828M452 767V820M453 772V824M454 771.5V833M455 774.5V819M456 767.5V822M457 761V809M458 759.5V820M459 766V826M460 770V824M461 781.5V827.5M462 763.5V811M463 769V810M464 769.5V820M465 774.5V816M466 774V829M467 770.5V817M468 766.5V818M469 762V815.5M470 772V811.5M471 769V813.5M472 770V812M473 773.5V809M474 768V815M475 776V822.5M476 769V823.5M477 761V820.5M478 775V816M479 770V813.5M480 768V823M481 767V802M482 774V816M483 771V817.5M484 758.5V807.5M485 766.5V809.5M486 765V821.5M487 768.5V811.5M488 768V813.5M489 752V813.5M490 758.5V816M491 757.5V814.5M492 757.5V816.5M493 759.5V811.5M494 757.5V801.5M495 753.5V800M496 756V798.5M497 751.5V809.5M498 761.5V809.5M499 750V811.5M500 763V803M501 757.5V805.5M502 761V788M503 765V808M504 758.5V801M505 761.5V809.5M506 768.5V804M507 756.5V807M508 758.5V810.5M509 766.5V817M510 756.5V798.5M511 752.5V806M512 761.5V802.5M513 758V803M514 753V809.5M515 750.5V814M516 755.5V804M517 761V807M518 759V812.5M519 754.5V807.5M520 747.5V799.5M521 751V828.5M522 757V803.5M523 760V808M524 759V812M525 762V809M526 746.5V810M527 754V803M528 759.5V794.5M529 756.5V809M530 756V809.5M531 763V811M532 760V810M533 754.5V807M534 756.5V807.5M535 760V807M536 773.5V805.5M537 751.5V800.5M538 752.5V806M539 758.5V797.5M540 756V798M541 753V809.5M542 765V811M543 765.5V809.5M544 752.5V814M545 752.5V800.5M546 752.5V804M547 743V799.5M548 762V796.5M549 756.5V802M550 759V801.5M551 759.5V801M552 762V809M553 769.5V811M554 754.5V806.5M555 754.5V812.5M556 758.5V823.5M557 760.5V820.5M558 761V806M559 752V810M560 746.5V799M561 751.5V803M562 761.5V804M563 752.5V810M564 757.5V802M565 753.5V802M566 755.5V802.5M567 754V803M568 750V795M569 759V807M570 754.5V806M571 750V793.5M572 746V786M573 742.5V789M574 736.5V808.5M575 748.5V795M576 745.5V789.5M577 747V781.5M578 737V787.5M579 749V786M580 748V798.5M581 741V781.5M582 732.5V788.5M583 735V784M584 726.5V775M585 724.5V782.5M586 728.5V781.5M587 728.5V788M588 742.5V789.5M589 736V783.5M590 732.5V784.5M591 732V783M592 734V781M593 740V796M594 742.5V790.5M595 738V786M596 730V784M597 744V788.5M598 735V804.5M599 740.5V789.5M600 732.5V785.5M601 730V779.5M602 725.5V778.5M603 723V787M604 741.5V799.5M605 737V793.5M606 734V792M607 733.5V788M608 728.5V798.5M609 727.5V779M610 744.5V781.5M611 733.5V784.5M612 735V790.5M613 739.5V785M614 732.5V782.5M615 734V781M616 739.5V790M617 734.5V781M618 726.5V793.5M619 726V771M620 727V779.5M621 729V797M622 735.5V786M623 736V786M624 727.5V781M625 730V781.5M626 719V782"/><path stroke="#1f77b4" stroke-opacity="0.160" stroke-width="1" fill="none" d="M73 758V806M74 757.5V812M75 761V803.5M76 754V809.5M77 753V803.5M78 756V805.5M79 756.5V803.5M80 764.5V814M81 755.5V803M82 763V809.5M83 758.5V805M84 754V808.5M85 757.5V799.5M86 758.5V806.5M87 755.5V818M88 759.5V809M89 767.5V811M90 758.5V803M91 758V802.5M92 753V806M93 760.5V802M94 755V798M95 748V804M96 750V820.5M97 757.5V802M98 753.5V806M99 750V804M100 759V815.5M101 759V807.5M102 753.5V798.5M103 761V803M104 748V805M105 760V800.5M106 762.5V803M107 760.5V802M108 758.5V802.5M109 753V812.5M110 741V794.5M111 751V788M112 749V791.5M113 754.5V803M114 748.5V808M115 746.5V803.5M116 750V804.5M117 755V811M118 757V808.5M119 758.5V807.5M120 757.5V802M121 756.5V804.5M122 764.5V810M123 747.5V806M124 752V804M125 752.5V810.5M126 761.5V803M127 758.5V814.5M128 753.5V806.5M129 774V814M130 762V813M131 758V804M132 759V817M133 767.5V817.5M134 765.5V811.5M135 763.5V815.5M136 767V814M137 769V809.5M138 768V821M139 760.5V815M140 759.5V823M141 763.5V811M142 763V819M143 770V810M144 760.5V808.5M145 768V810.5M146 772V819.5M147 778.5V816.5M148 768.5V824M149 766V819.5M150 767V827M151 776.5V817M152 773.5V820M153 768.5V828M154 772V816M155 770.5V812M156 758V822M157 754V816.5M158 771V812M159 767V817M160 764.5V815M161 770V810.5M162 762.5V812M163 768V815.5M164 775V820.5M165 765V817M166 774V818M167 777V809M168 780V819.5M169 763V812.5M170 771.5V809.5M171 767V816M172 763V812.5M173 769V815.5M174 767V816.5M175 767V816M176 766.5V829M177 775.5V819.5M178 769V828.5M179 770V820M180 771.5V816.5M181 767V812.5M182 767.5V809M183 765.5V813.5M184 758V813M185 769.5V810M186 769V808.5M187 760V805M188 758V809.5M189 760V813.5M190 757V812.5M191 768.5V806.5M192 763.5V814.5M193 758V818M194 758.5V807M195 754.5V804M196 756.5V807.5M197 765V807.5M198 758V813.5M199 762V796M200 754V800.5M201 761V820M202 753V814M203 759V817M204 757.5V819.5M205 766V837.5M206 757.5V804M207 759.5V815M208 761.5V809.5M209 761V810.5M210 746V817.5M211 769V809M212 764V803.5M213 759.5V832.5M214 748.5V807.5M215 760V811.5M216 752.5V815M217 764.5V811M218 766.5V804.5M219 768.5V801.5M220 769.5V818.5M221 762V817M222 750.5V801M223 755.5V807M224 766.5V818M225 755V806M226 761.5V813M227 766V816M228 772V815M229 763V808.5M230 765V806.5M231 759V813M232 768V813.5M233 761.5V805M234 759V797M235 749V814M236 756.5V813M237 754V809M238 752.5V812M239 754V808.5M240 764V812.5M241 765V814M242 763.5V800M243 774V805M244 757.5V808M245 760.5V815.5M246 764V815.5M247 754V801.5M248 751.5V796M249 750.5V810M250 772V818M251 766V814.5M252 759.5V819.5M253 768.5V809M254 767V828.5M255 774V820M256 754.5V809M257 764.5V816.5M258 759V809.5M259 760V809.5M260 758.5V808M261 763.5V813M262 761.5V808M263 759.5V798M264 755V793.5M265 751.5V802.5M266 748.5V806M267 770V798.5M268 759.5V811.5M269 763.5V809M270 765V816M271 764V802.5M272 760.5V808M273 754.5V803.5M274 756.5V801M275 754.5V805M276 760.5V807M277 740.5V806M278 765V817M279 771V811M280 774.5V816.5M281 769.5V815M282 759V821.5M283 768V818M284 761.5V812.5M285 761.5V800.5M286 761V813M287 762.5V814M288 763V809.5M289 757V815M290 750V812M291 762.5V813M292 755.5V816.5M293 762.5V804.5M294 759V808M295 758.5V805M296 759V806.5M297 761V812.5M298 771.5V813.5M299 767.5V817.5M300 753.5V807.5M301 761.5V817.5M302 764.5V824M303 767V812M304 771.5V809.5M305 762.5V810M306 759.5V814M307 758.5V811.5M308 755V815M309 759.5V808M310 758V815.5M311 753V801.5M312 758V808M313 763.5V803.5M314 762V813.5M315 760.5V826M316 759.5V812M317 762.5V809M318 762V807.5M319 764.5V809.5M320 761.5V819M321 752.5V813.5M322 757.5V802.5M323 758V816M324 762V807M325 769.5V802M326 762.5V809.5M327 756V806.5M328 764V808.5M329 760.5V811M330 758.5V813.5M331 757.5V805.5M332 766.5V808.5M333 764V813.5M334 771V803.5M335 756.5V803M336 759V817M337 769V808.5M338 761V829.5M339 766.5V811M340 764V800.5M341 763V818M342 764V819M343 756.5V808M344 759V828.5M345 759.5V810.5M346 761.5V818.5M347 767.5V811.5M348 765V808M349 760V812M350 764V805.5M351 761.5V816.5M352 759V806M353 760V805M354 762V805M355 756.5V809.5M356 769V804M357 763V808M358 749V806M359 738.5V807M360 749V806M361 758.5V795M362 751.5V803M363 744.5V811M364 772V804.5M365 764V808M366 769.5V811.5M367 767V811M368 759.5V816.5M369 765.5V809M370 761.5V830M371 763.5V811M372 760.5V806.5M373 758V801.5M374 756V791M375 751V807.5M376 754V803.5M377 752V797.5M378 760V802.5M379 768.5V802M380 758V809M381 756.5V811.5M382 772V806.5M383 766V811M384 760V813.5M385 769V810M386 772.5V812.5M387 762.5V821M388 765.5V807.5M389 763V807M390 758V812.5M391 754V804M392 752V811M393 752.5V803.5M394 761V805M395 758.5V808M396 758V820M397 770.5V817.5M398 765V822M399 768.5V819M400 760V827M401 769.5V816M402 764.5V833M403 761V813.5M404 766V808.5M405 768.5V829.5M406 776.5V821M407 768.5V812.5M408 768.5V815.5M409 776V816M410 761V818.5M411 772V809M412 767.5V815.5M413 756V811.5M414 759V819.5M415 757V812.5M416 764V822.5M417 762V814.5M418 761V818M419 776.5V826.5M420 778V834.5M421 775.5V823M422 768.5V816M423 761V818.5M424 761V812.5M425 761V816M426 766V810.5M427 766.5V812.5M428 760V819.5M429 786.5V800M429 803V809.5M429 811V848.5M430 777V815.5M431 777.5V832.5M432 775.5V823.5M433 773V835M434 770V818.5M435 772.5V832.5M436 775V828M437 782.5V827.5M438 767V830.5M439 777.5V825M440 770.5V817.5M441 774V820M442 768.5V829M443 763V837M444 775.5V824M445 774V823M446 775.5V817.5M447 770V818.5M448 771V824M449 769.5V822.5M450 777.5V829.5M451 777V828M452 767V820M453 772V824M454 771.5V833M455 774.5V819M456 767.5V822M457 761V809M458 759.5V820M459 766V826M460 770V824M461 781.5V827.5M462 763.5V811M463 769V810M464 772.5V820M465 774.5V816M466 774V829M467 770.5V817M468 766.5V818M469 762V815.5M470 772V811.5M471 769V813.5M472 770V812M473 773.5V809M474 768V815M475 776V822.5M476 769V823.5M477 761V820.5M478 775V816M479 770V813.5M480 768V823M481 767V802M482 774V816M483 771V817.5M484 758.5V807.5M485 766.5V809.5M486 765V821.5M487 768.5V811.5M488 768V813.5M489 752V813.5M490 758.5V816M491 757.5V810M492 757.5V816.5M493 759.5V811.5M494 757.5V801.5M495 753.5V800M496 756V798.5M497 751.5V809.5M498 761.5V809.5M499 750V811.5M500 763V803M501 757.5V805.5M502 761V788M503 766.5V808M504 758.5V801M505 761.5V809.5M506 768.5V804M507 756.5V807M508 758.5V810.5M509 766.5V817M510 756.5V798.5M511 752.5V806M512 761.5V802.5M513 758V801M514 753V809.5M515 750.5V814M516 755.5V804M517 761V807M518 759V812.5M519 754.5V807.5M520 747.5V799.5M521 751V828.5M522 757V803.5M523 760V808M524 759V812M525 762V809M526 746.5V810M527 754V803M528 759.5V794.5M529 756.5V809M530 756V809.5M531 763V811M532 760V810M533 754.5V807M534 756.5V807.5M535 760V807M536 773.5V805.5M537 751.5V800.5M538 752.5V806M539 758.5V797.5M540 756V798M541 753V809.5M542 765V811M543 765.5V809.5M544 752.5V814M545 752.5V800.5M546 752.5V804M547 743V799.5M548 762V796.5M549 756.5V802M550 759V801.5M551 759.5V801M552 762V809M553 769.5V811M554 756V806.5M555 760.5V812.5M556 758.5V823.5M557 760.5V820.5M558 761V806M559 752V810M560 746.5V799M561 751.5V803M562 761.5V804M563 752.5V810M564 757.5V802M565 753.5V802M566 755.5V802.5M567 754V803M568 750V795M569 759V807M570 754.5V806M571 750V793.5M572 746V786M573 742.5V789M574 736.5V808.5M575 748.5V795M576 745.5V789.5M577 747V781.5M578 737V787.5M579 749V786M580 748V798.5M581 741V781.5M582 732.5V788.5M583 735V784M584 726.5V775M585 724.5V782.5M586 728.5V781.5M587 728.5V788M588 747V789.5M589 736V783.5M590 732.5V784.5M591 732V783M592 734V781M593 740V796M594 742.5V790.5M595 738V786M596 730V784M597 744V788.5M598 735V804.5M599 740.5V789.5M600 732.5V785.5M601 730V779.5M602 725.5V778.5M603 723V787M604 741.5V799.5M605 737V793.5M606 734V792M607 733.5V788M608 728.5V798.5M609 727.5V778M610 744.5V781.5M611 733.5V784.5M612 735V790.5M613 739.5V785M614 732.5V782.5M615 734V781M616 739.5V790M617 734.5V779M618 726.5V793.5M619 726V771M620 727V779.5M621 729V797M622 735.5V781M623 736V773.5M624 727.5V781M625 730V781.5M626 719V782"/><path stroke="#1f77b4" stroke-opacity="0.294" stroke-width="1" fill="none" d="M73 762V803.5M74 758.5V801M75 766.5V793M76 760.5V805M77 757.5V800M78 757.5V804M79 756.5V802.5M80 766V811.5M81 761.5V796M82 763.5V805.5M83 763.5V803.5M84 765.5V808.5M85 759V795M86 759.5V800M87 758V804.5M88 761V808M89 768.5V810M90 765V797.5M91 761.5V802.5M92 754V793.5M93 760.5V799M94 756.5V794.5M95 758V802.5M96 757.5V807.5M97 758.5V796.5M98 755.5V803M99 759V799.5M100 770V796.5M101 762.5V807M102 754.5V798M103 764V799.5M104 750.5V802M105 761V799M106 764V799M107 765V797.5M108 758.5V802M109 756V797.5M110 741.5V792M111 755V783M111 786V787M112 751.5V790.5M113 756.5V798M114 751.5V798.5M115 750V798M116 753.5V803M117 757V801M118 757.5V799M119 759.5V806.5M120 758V798M121 759V803.5M122 767.5V804M123 754.5V804.5M124 757V802M125 755V803M126 762V800.5M127 765V799.5M128 764.5V804M129 776.5V809M130 766V806.5M131 761V803M132 764.5V809M133 770.5V813M134 769.5V809M135 768.5V811M136 769V812M137 769.5V809.5M138 773V814.5M139 763V813.5M140 775V812M141 764V811M142 770.5V813.5M143 775.5V809M144 772.5V808M145 770.5V806M146 773.5V818.5M147 779.5V811.5M148 771.5V817.5M149 768.5V818M150 768V813M151 780V809M152 781V809M153 775V826M154 777V809.5M155 771.5V810M156 767.5V818.5M157 763V813M158 773.5V811M159 768V816M160 765V812M161 777.5V804M162 766.5V809M163 768V809M164 779.5V820.5M165 771V813.5M166 775.5V817.5M167 780.5V808.5M168 782V818M169 772V812M170 773.5V809M171 771V815.5M172 765V812M173 770.5V812M174 769V813.5M175 771.5V815.5M176 771.5V819.5M177 775.5V816.5M178 772V825.5M179 771.5V815.5M180 773V812.5M181 768.5V812.5M182 774.5V809M183 768V812M184 765V810M185 771.5V808.5M186 773.5V797.5M187 763.5V802.5M188 760.5V805.5M189 762.5V808M190 759.5V810.5M191 769V803.5M192 768V814.5M193 763.5V805M194 760.5V805.5M195 756V803.5M196 757V805.5M197 765.5V807M198 758.5V810M199 767.5V777M199 779V795.5M200 761.5V800M201 762V806.5M202 768V805M203 761V809M204 764.5V808M205 768V829.5M206 758V803.5M207 763V807.5M208 765.5V803.5M209 761.5V808.5M210 756.5V813.5M211 771V807M212 766.5V802.5M213 759.5V813.5M214 759V807.5M215 764V807M216 757V809.5M217 767V810M218 769.5V803M219 771V801M220 769.5V818M221 766V807M222 769.5V799M223 761.5V807M224 774V807.5M225 758.5V803M226 764V811M227 768V812.5M228 778.5V813.5M229 765.5V806.5M230 766.5V805M231 760V808M232 768V811M233 763.5V804.5M234 763V791.5M235 754.5V808M236 761V810.5M237 761.5V807M238 754.5V804.5M239 757V807.5M240 765V806.5M241 766V809M242 770V799M243 778V797M244 762V807.5M245 764.5V812M246 764.5V811.5M247 758.5V799.5M248 755.5V795.5M249 763V808.5M250 772.5V807.5M251 769V811.5M252 763V812.5M253 769V807.5M254 768.5V824M255 775.5V811M256 760V806M257 764.5V809M258 761.5V807.5M259 761V809M260 763.5V803M261 772.5V806M262 761.5V806M263 760V796.5M264 760V788M265 762.5V798.5M266 751V806M267 770.5V780.5M268 761.5V808M269 764.5V806M270 765.5V815M271 780V801M272 762V802M273 756V803M274 758V798M275 756.5V804M276 761V799M277 760V804.5M278 771V805.5M279 771.5V807M280 775V804M281 771V813.5M282 766V815M283 769.5V813M284 769V812M285 762.5V800M286 764.5V810.5M287 770.5V809.5M288 766.5V808.5M289 759V810.5M290 759.5V807.5M291 767V810M292 762V814M293 766.5V802.5M294 759.5V808M295 759V799.5M296 762.5V804M297 764V803.5M298 771.5V808.5M299 769.5V813.5M300 764.5V803.5M301 763.5V812.5M302 767.5V812M303 770V810M304 772.5V807.5M305 771.5V808M306 760.5V804.5M307 764V811.5M308 760V805.5M309 761V804.5M310 763V812.5M311 753.5V799M312 758.5V805.5M313 765V802.5M314 762V805M315 762V807M316 763V809M317 763V804.5M318 762V802M319 766.5V809M320 762.5V816.5M321 766.5V811.5M322 771V801M323 760V807M324 766V806M325 770.5V798M326 763V809.5M327 759V804M328 764.5V806.5M329 763.5V810.5M330 766V808.5M331 761V800.5M332 767V799M333 764V812.5M334 771V799.5M335 757.5V801M336 759.5V804.5M337 775.5V806M338 763.5V816M339 768.5V804M340 766V800.5M341 765V803.5M342 774.5V808M343 758V807.5M344 761.5V811.5M345 768V808.5M346 764.5V813M347 769V810.5M348 768.5V800.5M349 762V808.5M350 769.5V802.5M351 767V809.5M352 766V805.5M353 761.5V803M354 765.5V802M355 763V806M356 770V803M357 764.5V807.5M358 760.5V803M359 747V804.5M360 750.5V803M361 759.5V794.5M362 757.5V800M363 760.5V809M364 776.5V804M365 772V806.5M366 774V810.5M367 768.5V806M368 768V812.5M369 767.5V805M370 766V813M371 765V809M372 764V805.5M373 760.5V801M374 766V783.5M375 754V802.5M376 754.5V794M377 758V793.5M378 761V797.5M379 777V781.5M379 782V799M380 763.5V808M381 763V807.5M382 773.5V804M383 766.5V807M384 761.5V812.5M385 770.5V810M386 772.5V793M387 766.5V811M388 768V806M389 764V805M390 764V805M391 757.5V799M392 756.5V807.5M393 755.5V800M394 762.5V804M395 760V808M396 770V816.5M397 773.5V816M398 765.5V821M399 769V815.5M400 765.5V825M401 770.5V813.5M402 772V817.5M403 771.5V804M404 770V807M405 770.5V820.5M406 777V820.5M407 771.5V812M408 775V810.5M409 776.5V814M410 770.5V815M411 775.5V807M412 770V811M413 767V810M414 767.5V816M415 767.5V811.5M416 769V822M417 766.5V812.5M418 772.5V813.5M419 777V818.5M420 780.5V828M421 776V822.5M422 772.5V813.5M423 764.5V811.5M424 765V807M425 762.5V811M426 773.5V806M427 768.5V811M428 773V812M430 777.5V813M431 779V827.5M432 778V816.5M433 776.5V830.5M434 782.5V816M435 777V827M436 783.5V827M437 783V827M438 776.5V825.5M439 780.5V815M440 771V816.5M441 782.5V819M442 773.5V822M443 773V819M444 785V820.5M445 776V823M446 782V815.5M447 772.5V818M448 777V823.5M449 773V816.5M450 778V821M451 778V826M452 767.5V818.5M453 776V821.5M454 774V827M455 780.5V818.5M456 770.5V821.5M457 763.5V808M458 763V815.5M459 767.5V821.5M460 771.5V824M461 782.5V818.5M462 774V809M463 773.5V808M464 773.5V818.5M465 776V816M466 774V817.5M467 774V817M468 766.5V807.5M469 765V811M470 772.5V807.5M471 776.5V812.5M472 777V810.5M473 775V806.5M474 771.5V814.5M475 777.5V818M476 775V820.5M477 769.5V817M478 775.5V810.5M479 772V813M480 772.5V818M481 772V799M482 774.5V814M483 771.5V813.5M484 765V805.5M485 767.5V808M486 766.5V816.5M487 771V811.5M488 769.5V812M489 766.5V806M490 760.5V812.5M491 760.5V806M492 760.5V806.5M493 759.5V808M494 757.5V796.5M495 758.5V794M496 758V797M497 758V803.5M498 762.5V807M499 762.5V806.5M500 763.5V798M501 762.5V794.5M502 761.5V786M503 768V802.5M504 761.5V799.5M505 761.5V809.5M506 769V795.5M507 767.5V799.5M508 761.5V809M509 768.5V807.5M510 762.5V795M511 753V801M512 764.5V800M513 762V800.5M514 758V808M515 754.5V804.5M516 756.5V802.5M517 761.5V803M518 759V812M519 757V801M520 754V799M521 753.5V801.5M522 757.5V803.5M523 764V805.5M524 760.5V811.5M525 763V808.5M526 754V803.5M527 754.5V795M528 762V794.5M529 758V808.5M530 758.5V802.5M531 763.5V810M532 763.5V805.5M533 755.5V804M534 761V800.5M535 764.5V803.5M536 774V798M537 755V799.5M538 753.5V803M539 760V797.5M540 761V794.5M541 757V807.5M542 766V804.5M543 780V808M544 759V813.5M545 759.5V795.5M546 755V794M547 752.5V790.5M548 762.5V796M549 759V802M550 761.5V779M550 789.5V798.5M551 761V798.5M552 766.5V808.5M553 770.5V808.5M554 760.5V804.5M555 767V812.5M556 763V815.5M557 761V811.5M558 761V804M559 760V801M560 754V798.5M561 757.5V800M562 762V802M563 758V804M564 758.5V797.5M565 755.5V801.5M566 756V800.5M567 758.5V791.5M568 757.5V793M569 759V803.5M570 756V799M571 753.5V790M572 748V786M573 757V786.5M574 744.5V793M575 756.5V794M576 747V789M577 753.5V781M578 743.5V780.5M579 755.5V777.5M580 751V796.5M581 745.5V781.5M582 739.5V784.5M583 736.5V783M584 732V772M585 732V772M586 730.5V780M587 733V786.5M588 748V787.5M589 743.5V782.5M590 738.5V782M591 735V781M592 736V780.5M593 743V792M594 743V787.5M595 738.5V783.5M596 738.5V782.5M597 745.5V786.5M598 740V791.5M599 742V785.5M600 739V781M601 731V777.5M602 741V778.5M603 740V785M604 742.5V796.5M605 738V790.5M606 737V778M607 737V784.5M608 738.5V784.5M609 740.5V777.5M610 746V777M611 741.5V780.5M612 740V783M613 740.5V782.5M614 736.5V775M615 740V780.5M616 743V787M617 737.5V777.5M618 730V793M619 728V768.5M620 734.5V776.5M621 732V782M622 736V781M623 744.5V772M624 733.5V781M625 732.5V776M626 731V777"/><path stroke="#1f77b4" stroke-opacity="0.407" stroke-width="1" fill="none" d="M73 765V798M74 759V798.5M75 774V782M76 761.5V803.5M77 763V796.5M78 764.5V799.5M79 762.5V798M80 769V809M81 768V795M82 767V802M83 764.5V803M84 766.5V792.5M85 772V794.5M86 761.5V798M87 761V800M88 766V805M89 772V802M90 766V793M91 764V799M92 761V789.5M93 764V791.5M94 762.5V793.5M95 761V798.5M96 759V803.5M97 761V793.5M98 760V802.5M99 764.5V796.5M100 774.5V778.5M101 764V800M102 757.5V795.5M103 765V793M104 751V799.5M105 764.5V794.5M106 764.5V796.5M107 777V789.5M108 760.5V795.5M109 758V796.5M110 749V786M111 755V781.5M112 754V783.5M113 760V794.5M114 755.5V798M115 760V795.5M116 754.5V795M117 760.5V796M118 759V794.5M119 761V801.5M120 760V796.5M121 759.5V793.5M122 771.5V793.5M123 756.5V803M124 762.5V798M125 761V801.5M126 763.5V793.5M127 770.5V793M128 770.5V802.5M129 778.5V807.5M130 767.5V804M131 768V797.5M132 767.5V803.5M133 775.5V809.5M134 773V808M135 773V808M136 775V797M137 775.5V806.5M138 775V812M139 770.5V808.5M140 777V810M141 767V807.5M142 771.5V804.5M143 777.5V805.5M144 776V802.5M145 774.5V803.5M146 778.5V816M147 783.5V810M148 776V815M149 769.5V813M150 770.5V813M151 793V793.5M151 794.5V807.5M152 782.5V803M153 775V824.5M154 782V807.5M155 779.5V808M156 772V816M157 769V811M158 778V805M159 776V808.5M160 777.5V808.5M161 780.5V802M162 769V805.5M163 778.5V806M164 780.5V806M165 774V810.5M166 777V806.5M167 788V804M168 786.5V812M169 774.5V806.5M170 780.5V806.5M171 773V812M172 772V804.5M173 772.5V811M174 770.5V810M175 776.5V813M176 776V816M177 777.5V815M178 774V821M179 773V813M180 775V812M181 771.5V811.5M182 775V806M183 771.5V809M184 768.5V808.5M185 772V802M186 777.5V778M186 778.5V795M187 766.5V800.5M188 763V803.5M189 764V803M190 762V805M191 771.5V792.5M191 793.5V800.5M192 771V806M193 771V800.5M194 766V803.5M195 758V792M196 758.5V804M197 766.5V806M198 762.5V808M200 763.5V792.5M201 768.5V800M202 768V802.5M203 766V808.5M204 769.5V807M205 771.5V805.5M206 765.5V802.5M207 769V801M208 767V802.5M209 768V803M210 766.5V805M211 772.5V801.5M212 772.5V801.5M213 760.5V805M214 764V801M215 766.5V804M216 765.5V807.5M217 767V808.5M218 775.5V801.5M219 772V798M220 772V816.5M221 769V801M222 771V792M223 766.5V797.5M224 774.5V800.5M225 761V802.5M226 766.5V807.5M227 775.5V812M228 784.5V808M229 773V804.5M230 772V803M231 762V806M232 769V806.5M233 766V804.5M234 764.5V786M234 786.5V787M235 760.5V800.5M236 766V806M237 763.5V804M238 764V801.5M239 771V806.5M240 766.5V804M241 768V804M242 771V798M244 770V806M245 766.5V809M246 766.5V809.5M247 767V794M248 763V793.5M249 765V804M250 774V802M251 770.5V771.5M251 772.5V802.5M252 772.5V801M253 770V806.5M254 772V817M255 790V799M256 768.5V800.5M257 766V806.5M258 763.5V805M259 764V808.5M260 766V799.5M260 800V802.5M261 774V801.5M262 767V804M263 763.5V790.5M264 775V782.5M265 769V792M266 760.5V797.5M267 772.5V774.5M268 763V806M269 766V804M270 773.5V809.5M271 781.5V796M272 764V799.5M273 761.5V802.5M274 765V795M275 763V799M276 764.5V796.5M277 763.5V799M278 772.5V805M279 773V804.5M280 776.5V802.5M281 773V808M282 776.5V811M283 776.5V807.5M284 770.5V808.5M285 769V792.5M286 766V808.5M287 772.5V808.5M288 769V801.5M289 762V809M290 762V805.5M291 768V807.5M292 766V813M293 767V800M294 762V803M295 762V798.5M296 769.5V799.5M297 769.5V799.5M298 772V805M299 770.5V806.5M300 767.5V801M301 767.5V809M302 770.5V811.5M303 779.5V808.5M304 778.5V802.5M305 773V802M306 767.5V800.5M307 766V808.5M308 761V804M309 764V801.5M310 769.5V800.5M311 759.5V794.5M312 762.5V799.5M313 766V795M314 777V803.5M315 766V805.5M316 764.5V806.5M317 764.5V803.5M318 763V801M319 766.5V803.5M320 765.5V811.5M321 769V806M322 775.5V790M323 764.5V802M324 766.5V799M325 772.5V795.5M326 763.5V805M327 765V799M328 767V795.5M329 766V809M330 768.5V805.5M331 768.5V799M332 774.5V794.5M333 767V805M334 774.5V792M335 764V799M336 764.5V802M337 778.5V805.5M338 766.5V810M339 771V801M340 768.5V797M341 773V797.5M342 776V804.5M343 763.5V802.5M344 763V806.5M345 768.5V803.5M346 768V811.5M347 770V807.5M348 769V799.5M349 765.5V807M350 771.5V800.5M351 767.5V806M352 772.5V804M353 765.5V802.5M354 770V801M355 770V798M356 772V795M357 774V803.5M358 762V801.5M359 762V803M360 759V800.5M361 765.5V792.5M362 758V792.5M363 762V804.5M364 777V802M365 780.5V805M366 780.5V808M367 771V804.5M368 771.5V807.5M369 773V803.5M370 769.5V810M371 770V808M372 765.5V805M373 766V797.5M374 767.5V782M375 758V798M376 755.5V793.5M377 762.5V791.5M378 765V793M379 784V793M380 768V805.5M381 767V807M382 774V801.5M383 770.5V803M384 771V810M385 773.5V802.5M386 777.5V791.5M387 769V803M388 768.5V804M389 768.5V799M390 764.5V803.5M391 761.5V796M392 759V801.5M393 756V797M394 763V794M395 763.5V805.5M396 771V809M397 778.5V811.5M398 771V819M399 773V814M400 772V817M401 774.5V812.5M402 776V815.5M403 772V799M404 772V806M405 772.5V815.5M406 777.5V816.5M407 774V809.5M408 777.5V809M409 781V811M410 773V809.5M411 780V807M412 773V807.5M413 768.5V809.5M414 769V811M415 772.5V808M416 777V815M417 778V811M418 774.5V811.5M419 778.5V817M420 783V824.5M421 780.5V781.5M421 783.5V820.5M422 778.5V809.5M423 767.5V807M424 772V802.5M425 767V808M426 777V800M427 777V807M428 778.5V808M430 783.5V809M431 780.5V825.5M432 781V816M433 781V822M434 786.5V810.5M435 781.5V818M436 784V824.5M437 788.5V826M438 783V817.5M439 783.5V813M440 781V816M441 782.5V818M442 778.5V819M443 777.5V817M444 789.5V813M444 816V817M445 780.5V819.5M446 785V808.5M447 775.5V816.5M448 777.5V819M449 784V816M450 780.5V815M451 783.5V823.5M452 780V816M453 776.5V814M454 775V821.5M455 781V814.5M456 777V818.5M457 770.5V805M458 769V812M459 779.5V808M460 779.5V814M461 787.5V810.5M462 777.5V805.5M463 774.5V805.5M464 774V810.5M465 779V811.5M466 778V814.5M467 780V816.5M468 768V806.5M469 769V807M470 776.5V804.5M471 778V807M472 779V794.5M472 796.5V798M473 776V804.5M474 775.5V812M475 785.5V811M476 776.5V815M477 772.5V814M478 778V808.5M479 774V811.5M480 775V807M481 775V795M482 775V809.5M483 777V806.5M484 773V802M485 773.5V805M486 767.5V814M487 773.5V810M488 773V810M489 770V804.5M490 770V808.5M491 765.5V804.5M492 765V805.5M493 763V806M494 762V796.5M495 766V793M496 760V792M497 763.5V802.5M498 767.5V804M499 765V802.5M500 765V797M501 770V786.5M502 764.5V785M503 769.5V800M504 765V798M505 769V801.5M506 778.5V793.5M507 776V797.5M508 763.5V806.5M509 773V803M510 766.5V795M511 758V797M512 773.5V775M512 779V790M513 766V800.5M514 761.5V803.5M515 758.5V801M516 762.5V799M517 765.5V799M518 760.5V804.5M519 758V797.5M520 756V794.5M521 759.5V797.5M522 760.5V800.5M523 766V801.5M524 764.5V808M525 764V806M526 754V802.5M527 755.5V790.5M528 764V792.5M529 761V802M530 764.5V799M531 765.5V804M532 765.5V805.5M533 760.5V802M534 766.5V798.5M535 777V796.5M536 778.5V790M537 763V798M538 757V799.5M539 762V796M540 766V791.5M541 764V801.5M542 774.5V801.5M543 785.5V795.5M544 761.5V804.5M545 763V786M546 760V792.5M547 760V788.5M548 767V790M549 761V801.5M551 765V795M552 769.5V804.5M553 771.5V806M554 762.5V797.5M555 768V806.5M556 768.5V808.5M557 765V805.5M558 762.5V800.5M559 760.5V800M560 762V793M561 762.5V798.5M562 766V797M563 764V802M564 766V792.5M565 756V801M566 760V797M567 763V783M568 758.5V789.5M569 766.5V802.5M570 762V790M571 755V784.5M572 750.5V783M573 759.5V781.5M574 749V789M575 757V793M576 750.5V786M577 760V765M577 766V774M578 750.5V769M579 757.5V766M579 767V772.5M580 755.5V795M581 748.5V778.5M582 741.5V783M583 737V779M584 737.5V770M585 733.5V771M586 733V775.5M587 738.5V777.5M588 750.5V778.5M589 747V776M590 740V779M591 736V779M592 741V779.5M593 746V790.5M594 746V786M595 739.5V781.5M596 739V776.5M597 746.5V779M598 745.5V785M599 743.5V783.5M600 743.5V778.5M601 733.5V775.5M602 742V776M603 742.5V784M604 748.5V794.5M605 746V784M606 741V775.5M607 741V780.5M608 739V781M609 742.5V777M610 755.5V775M611 750.5V777M612 741.5V782.5M613 742V780.5M614 742.5V771M615 744V774M616 748.5V784M617 738.5V777M618 733.5V784M619 735V762.5M620 737.5V773.5M621 732.5V778.5M622 738V781M623 747.5V770.5M624 737V778M625 735V772M626 737V771.5"/><path stroke="#1f77b4" stroke-opacity="0.502" stroke-width="1" fill="none" d="M73 770.5V797.5M74 761V795M76 767V797.5M77 764V794M78 770.5V795M79 763.5V795.5M80 775V808.5M81 773.5V792.5M82 769.5V798M83 765V803M85 777V790.5M86 764V796M87 768V795M88 767V803.5M89 776.5V800.5M90 768.5V791.5M91 770.5V795.5M92 762.5V787.5M93 767.5V789M94 763V792.5M95 762.5V795.5M96 763.5V803.5M97 762.5V793.5M98 763.5V799.5M99 779.5V784M99 786V788.5M101 767.5V798M102 759V793.5M103 766V791.5M104 754V796.5M105 765.5V792M106 765.5V792.5M108 762V790.5M109 760.5V793.5M110 752.5V785M111 762V774.5M112 757V783M113 762V791.5M114 758.5V795.5M115 762.5V793.5M116 765V790.5M117 763V795M118 761V792.5M119 763V800M120 761.5V795M121 760V792.5M122 777.5V793M123 759V802M124 763V795M125 765.5V800.5M126 770V792.5M127 771.5V787.5M127 789.5V791M128 771.5V797.5M129 779V807.5M130 773.5V797M131 770.5V791M132 770.5V803M133 776.5V808M134 775.5V805.5M135 774.5V807.5M136 783V785.5M136 790.5V791M137 777V805M138 776V808.5M139 773V805M140 779.5V807M141 771V802.5M142 775V804M143 779.5V800.5M144 777.5V800.5M145 783.5V798.5M146 780V816M147 791V803M148 777.5V812M149 774.5V809.5M150 774V812.5M152 789.5V799M153 778.5V815.5M154 783.5V799M155 780V807M156 775.5V814M157 774V808M158 781V798M159 777.5V804.5M160 781V806M161 787V800M162 773V804M163 787.5V791.5M164 782V805M165 776V806.5M166 787V803.5M167 795V796.5M168 788V803.5M169 779.5V805.5M170 783V789.5M170 799.5V802M171 774.5V810.5M172 776V779.5M172 780.5V797M173 773.5V806.5M174 773V807M175 778.5V809M176 776.5V812.5M177 778.5V812M178 776.5V819M179 775.5V813M180 776.5V810M181 773V810M182 776.5V805.5M183 773V806.5M184 770.5V806.5M185 772.5V802M187 768V796.5M188 765V801M189 766.5V801.5M190 767.5V803.5M192 771V802.5M193 772.5V799M194 769V798.5M195 763V790.5M196 764V801.5M197 768.5V802.5M198 764V798M200 767.5V791M201 777V793M202 770V800.5M203 768.5V805.5M204 770V804.5M205 777V799M206 766.5V800M207 771.5V797M208 768.5V800.5M209 769.5V799.5M210 768.5V803M211 777.5V797.5M212 773.5V799M213 762V800.5M214 765V800M215 767.5V801M216 766.5V804M217 770.5V806.5M218 783.5V789M218 791V796.5M219 778V797M220 776V809M221 771.5V798M222 773.5V790.5M223 770V790.5M224 778.5V795.5M225 763.5V800M226 768.5V801M227 776V805.5M228 786V806M229 776.5V803M230 772.5V800.5M231 763V803M232 775V801M233 768.5V803M234 767V784.5M235 763.5V800M236 768.5V804.5M237 766.5V801M238 766V801M239 773V799M240 767.5V802M241 771V804M242 775.5V794.5M244 772.5V798.5M245 767V807M246 767V806.5M247 771V793.5M248 769.5V791M249 767.5V802M250 776V798.5M251 775.5V801M252 775.5V798.5M253 771.5V806.5M254 773.5V813.5M256 770V800M257 768.5V804.5M258 765.5V804.5M259 766.5V806M260 768.5V796M261 782.5V799.5M262 770V802.5M263 768V790M265 772.5V790.5M266 762.5V796M268 764.5V803M269 774V800.5M270 774.5V804M271 788.5V791M272 764.5V797.5M273 764V798M274 768V792M275 767.5V796.5M276 770.5V794M277 765.5V798.5M278 774V801.5M279 774V800M280 779V779.5M280 780V799.5M281 774V806M282 778.5V810M283 781V805M284 771V806M285 771.5V784.5M285 786V786.5M286 772.5V807.5M287 774.5V808M288 771.5V795.5M289 766V803.5M290 765.5V802.5M291 769V805M292 768.5V806M293 768.5V797.5M294 764V801M295 766.5V795.5M296 775V797.5M297 770.5V797.5M298 774V804M299 772V805.5M300 769.5V800.5M301 770V807.5M302 771.5V811.5M303 784V805M304 780V799M305 776V800M306 773V800M307 767V807.5M308 767.5V800M309 765.5V801M310 771.5V798.5M311 761V793M312 766V797.5M313 768V792.5M314 778V799M315 770.5V804M316 766V799.5M317 765.5V802.5M318 765V798M319 768V799M320 766.5V809M321 771.5V802M322 778V788M323 765.5V800M324 775.5V777M324 780.5V798M325 774.5V791M326 765V802M327 773.5V796M328 773.5V779M328 784V788M329 768V805.5M330 770.5V805M331 773.5V797M332 777V793.5M333 769.5V801M334 775.5V786.5M335 764.5V796M336 765.5V799.5M337 779.5V802.5M338 768V808.5M339 774V799.5M340 770V792M341 776V796M342 778.5V792M342 792.5V793M343 764.5V801.5M344 764V804.5M345 770V798.5M346 769V810M347 772V806.5M348 780V793.5M349 768.5V800M350 774.5V799.5M351 768V804M352 776V801.5M353 766.5V799.5M354 773.5V774.5M354 780.5V792M355 771.5V794M356 774V794.5M357 778.5V794M358 764.5V798.5M359 762.5V802M360 763V797.5M361 768V790.5M362 760.5V791.5M363 763.5V800M364 787.5V799M365 781V802.5M366 782V783M366 787V801M367 773.5V801M368 772.5V804M369 774V800M370 773V803.5M371 775.5V804.5M372 767.5V803M373 767V787M374 771V772M375 763.5V794M376 757V793.5M377 766V790.5M378 767.5V790M380 776V801.5M381 769.5V804.5M382 775.5V797.5M383 774V801.5M384 773.5V808M385 777V800.5M386 780.5V786.5M387 770V802M388 772.5V802.5M389 769V798M390 766V802M391 766V794M392 759.5V800.5M393 761V796.5M394 772V787.5M395 765.5V802.5M396 771.5V772M396 772.5V807.5M397 778.5V808.5M398 773V816M399 776V806.5M400 773V816M401 782V808M402 777V813.5M403 776V798M404 776.5V804.5M405 773.5V813.5M406 778.5V814M407 776V808.5M408 783V806M409 781.5V809M410 774.5V809M411 782V803.5M412 774.5V804.5M413 771V808.5M414 772V809.5M415 775.5V805.5M416 778.5V811.5M417 785.5V803M418 775V808.5M419 779.5V814.5M420 786.5V821M421 784V817M422 782.5V807.5M423 776V804.5M424 774.5V802M425 768.5V803M426 780V783M426 785V795.5M427 780V804.5M428 780V807.5M430 786.5V807M431 781.5V820.5M432 789V815M433 786V817M434 796V800.5M434 804V805M435 783.5V817.5M436 788V823.5M437 789.5V822M438 784V816M439 786.5V810.5M440 781.5V813M441 784.5V813M442 779.5V817.5M443 781V810M444 790.5V809.5M445 782V817.5M446 786V795M446 797V797.5M447 780.5V815.5M448 780.5V816.5M449 787V813.5M450 781V814M451 785V819.5M452 781.5V811.5M453 778.5V812.5M454 776.5V818M455 787.5V811M456 778.5V817M457 772.5V775.5M457 780.5V798M458 773.5V807.5M459 780.5V804.5M460 781V813M461 789V809.5M462 781.5V804M463 779.5V804.5M464 775.5V806.5M465 779.5V810M466 780V813M467 783V810.5M468 771.5V798M469 771.5V804.5M470 778V801.5M471 779.5V806.5M473 779V797.5M474 777V811M475 787V798M475 800V804M476 779V815M477 773V809.5M478 781.5V806M479 776.5V810M480 776.5V806M481 778V792M482 780.5V806.5M483 782.5V804.5M484 773.5V800.5M485 775V803.5M486 769V811.5M487 774.5V802.5M488 774.5V804.5M489 771.5V801M490 772.5V806.5M491 766V800.5M492 766V803.5M493 764V803M494 768V794M495 768.5V790M496 760.5V791M497 765V801.5M498 771V799.5M499 769V800M500 768.5V793M501 780.5V783M502 766.5V781M503 774V795.5M504 767V795.5M505 774.5V799M506 786.5V787M507 779.5V794M508 767.5V800M509 774V800M510 767V786M511 760V796.5M513 771V799M514 763V803M515 759V798M516 763.5V797.5M517 773V798M518 761.5V802M519 759.5V797.5M520 757V793M521 760.5V795M522 762.5V798M523 769V800.5M524 765.5V807M525 764.5V802M526 758V800M527 765V786.5M528 770V779M528 779.5V789M529 762V801M530 768.5V796.5M531 769V802M532 768.5V803.5M533 765.5V800.5M534 768.5V796.5M535 790V791M537 763V796.5M538 761V799M539 763V790M540 766V788.5M541 765.5V801M542 778V797M543 788V791M543 791.5V792M544 766V801M545 769.5V781M546 761V790.5M547 760.5V788M548 770.5V781.5M549 762V797.5M551 766.5V791M552 773V803.5M553 774V775M553 776V797M554 766V796M555 771V806M556 772V807.5M557 767.5V803.5M558 763.5V799M559 761V797M560 764.5V791.5M561 764V795.5M562 771V790.5M563 765V797M564 767.5V780M564 781.5V786.5M565 759.5V793M565 793.5V794.5M566 765.5V785.5M567 765V766M567 769V778.5M567 779V781M568 762V787.5M569 768.5V800M570 764V787M571 759V784M572 755V779.5M573 764.5V769.5M573 772V779M574 749.5V789M575 761V792M576 753V782.5M578 764V764.5M579 769.5V770.5M580 756.5V791M581 757V777.5M582 746V781.5M583 738V777.5M584 740.5V767M585 737.5V768M586 734V773M587 741.5V777M588 752V774M589 756.5V769M590 744.5V778.5M591 738V777.5M592 743.5V777M593 747V784.5M594 747.5V785M595 743V781.5M596 742V773M597 749V777.5M598 749V781M599 744V782M600 748.5V776M601 735.5V774.5M602 744.5V773.5M603 748.5V782M604 750.5V789M605 747V780M606 747V774.5M607 743.5V777M608 741.5V773M609 746V771M610 760V760.5M611 756V774M612 742.5V781M613 747V777.5M614 744V768M615 745V771.5M616 750V781M617 745V773M618 737V777.5M619 741.5V761.5M620 737.5V772M621 739V776M622 739.5V777M623 750V767.5M624 739V776M625 736.5V770.5M626 743.5V771.5"/><path stroke="#1f77b4" stroke-opacity="0.649" stroke-width="1" fill="none" d="M73 774.5V777M73 777.5V788M73 792.5V793M74 763.5V792M76 768.5V792.5M77 765.5V793M78 773V793.5M79 775.5V792.5M80 776V796M82 771V794.5M83 768.5V800.5M85 782.5V786.5M86 766V792.5M87 772.5V793M88 769.5V802M89 781V798M90 773.5V789.5M91 774V788.5M92 764.5V785.5M93 771V773M94 766.5V789M95 764V794M96 768V801.5M97 769.5V791.5M98 766V796M101 776V778.5M101 779V792.5M102 761V790.5M103 771.5V775M103 779V788M104 756V794M105 768.5V791.5M106 774.5V789M108 766.5V786M109 762.5V789.5M110 755V781.5M112 758V773M113 764.5V788.5M114 760V794.5M115 766V793M116 772V778M116 778.5V783.5M116 784V788M117 765V786.5M118 764V790.5M119 767V798M120 763V792.5M121 764.5V791.5M123 760V799M124 766.5V792.5M125 768.5V798.5M126 779V791.5M127 779.5V784M128 775V794.5M129 782.5V800M130 783V793.5M131 773V789.5M132 772V799.5M133 780V798M134 780V803M135 777.5V802.5M137 778.5V779M137 779.5V803.5M138 777V806M139 775V803M140 781.5V802M141 774.5V798.5M142 779.5V797.5M143 783.5V789.5M143 790V790.5M144 780.5V797.5M146 781.5V810.5M148 781.5V810M149 776V808.5M150 776V808.5M153 782V810.5M154 795V796M155 783V805M156 776V811M157 776.5V806.5M159 779.5V802M160 785.5V803M161 796V798M162 775V785.5M162 787V801M164 786.5V801.5M165 782V805M166 789V799.5M168 792.5V795M169 784V797M171 775.5V806.5M172 787.5V793.5M173 776V806M174 776.5V804.5M175 780.5V807.5M176 779V808M177 779.5V810M178 778.5V814.5M179 776.5V811.5M180 780V808.5M181 775V809M182 779.5V784.5M182 786.5V797.5M183 775.5V801M184 771.5V805.5M185 777V799M187 773.5V794M188 766.5V799.5M189 771V800M190 769V802M192 774.5V799.5M193 780V781.5M193 782.5V787M193 787.5V798M194 773V793.5M195 767.5V772.5M196 767.5V799.5M197 770V800.5M198 775V786M198 787.5V791M200 769V788.5M201 783V792M202 774.5V797.5M203 770.5V801.5M204 772.5V804M205 780.5V786.5M205 788.5V789.5M205 790V790.5M205 793.5V795.5M206 769V796.5M207 776V793.5M208 771.5V797M209 774.5V797M210 769.5V801M211 782.5V791M212 774.5V796M213 765V800M214 767.5V797.5M215 769V791M216 771.5V802.5M217 773V806M220 777V806.5M220 807V808.5M221 777.5V795M222 778V785.5M222 786V789.5M223 776.5V785M223 786.5V788M224 784V791M225 767V797M226 771.5V791.5M227 780V800.5M229 779.5V799.5M230 776.5V789M230 790V797M231 767V800.5M232 778.5V796.5M233 770.5V801.5M234 769.5V779.5M235 766V794.5M236 770.5V801.5M237 771V798.5M238 769.5V799.5M239 774.5V797.5M240 773.5V800.5M241 771V802.5M244 780V795M245 767.5V804M246 769.5V805M247 777V791M248 775V789.5M249 770.5V797M250 781V796.5M251 777V800M252 784V794.5M253 775V804.5M254 778V812.5M256 772.5V797.5M257 770.5V802.5M258 767.5V799M259 771.5V801.5M260 774V789.5M261 784V785M261 786V792M262 771V799.5M263 780V781M263 782.5V783M266 767V794.5M268 766.5V799.5M269 777.5V797M270 781.5V802M272 765.5V796M273 767V795.5M274 770V787.5M275 769V796M276 771.5V791M277 768V793M278 777.5V793.5M278 794.5V795M279 778.5V797.5M280 791.5V794.5M281 776.5V804.5M282 782V808.5M283 787.5V798.5M284 774V803.5M286 773.5V802M287 776V805.5M288 779.5V785M289 767V801.5M290 768.5V795.5M290 796V799.5M291 771V802.5M292 771V801M293 772.5V794M294 767V796M295 769V788M296 780.5V793M297 773.5V795M298 776.5V803M299 773.5V802M300 771V794.5M300 796.5V798.5M301 772.5V804.5M302 774V809.5M303 793.5V794M304 783.5V797M305 780V793.5M306 776.5V795M307 769.5V806M308 771V799.5M309 766.5V798.5M310 777.5V793M311 766.5V791.5M312 767.5V794.5M313 770.5V789M314 779V786.5M314 789V790.5M315 778V797.5M316 768.5V797.5M317 770V799M318 767V795M319 768.5V795.5M320 769.5V803M321 774.5V800.5M323 768V797M326 767.5V796M327 776.5V779M327 780V783.5M327 785.5V788.5M329 771V805M330 772V800.5M331 778V795.5M332 783.5V786.5M333 774.5V797M335 768.5V793.5M336 766V797M337 783V789.5M338 774V807.5M339 776.5V795M340 773V789M341 779V794.5M343 768V800M344 771.5V803.5M345 771V793.5M345 794.5V795.5M346 771V808.5M347 773V803M349 771V794M350 780V780.5M350 782V790M351 769.5V802.5M352 779V798.5M353 773.5V798.5M355 774V776.5M355 780.5V789M356 783V783.5M357 783V784M357 785V793M358 767.5V795.5M359 768V801M360 770.5V795M362 763.5V787.5M363 766V799M365 786V799.5M366 788.5V794M367 779V798.5M368 775.5V801.5M369 777V791M370 773.5V802.5M371 777V799M372 772.5V801M373 779V780M375 768V785M375 787.5V789M376 760.5V788M377 772.5V786M378 771.5V782.5M380 778.5V797M381 774V800M382 782V790.5M382 793.5V797M383 780.5V796.5M384 777V807M385 780V799.5M387 772.5V801.5M388 775V800M389 771V794.5M390 768.5V800.5M391 771V787M392 763V797M393 764.5V791M395 768V800.5M396 774.5V806M397 781.5V805.5M398 774V811M399 780V780.5M399 782V805.5M400 778V814.5M401 786.5V804.5M402 779.5V810.5M403 778V780M403 782V796M404 781V801M405 775V811.5M406 781.5V810M407 778V808M408 789.5V802.5M409 790.5V801M410 775V806M411 786.5V796.5M412 779.5V803M413 772V805.5M414 776V807M415 777.5V802.5M416 780V809.5M418 777.5V806M419 782.5V813M420 789.5V819.5M421 786.5V812M422 792V792.5M422 793.5V803.5M422 804V806M423 782V796.5M424 778V801.5M425 772V801.5M427 784V799M428 780.5V805M430 795.5V801M431 783V818.5M432 797.5V812M433 787.5V811.5M435 786.5V815M436 790.5V820.5M437 790.5V820.5M438 786V811.5M439 788.5V804.5M440 792.5V804.5M440 805.5V811.5M441 786V805M442 781V815.5M443 783V808.5M444 793.5V801M444 802V803M444 804.5V805.5M445 785.5V814.5M447 781.5V782.5M447 784V809.5M448 782.5V814.5M449 795.5V796M449 796.5V797M449 798V809M450 784V811.5M451 787V816.5M452 784V810M453 779.5V811M454 779.5V814.5M455 789V805.5M456 779.5V815.5M457 792V794M458 777V805.5M459 786V787M459 794V800.5M460 785.5V810.5M461 792V800.5M462 792V794.5M462 795V800M463 787V797M463 798V798.5M464 781.5V802.5M465 780.5V808M466 787V788M466 788.5V810M467 789V804.5M467 805.5V806.5M468 776.5V796M469 774.5V802.5M470 781.5V797.5M471 783.5V805M473 780V790M474 778.5V809M476 781.5V812.5M477 775.5V805M478 791V801M478 801.5V802M479 779.5V807.5M480 777V804.5M482 786.5V803M483 789.5V790M483 794.5V799M484 776V794M485 778V800M486 772.5V809.5M487 775V801.5M488 775.5V800.5M489 774.5V795M490 773.5V805M491 767V799.5M492 768.5V801M493 767.5V799.5M494 770.5V783.5M494 786.5V791.5M495 770.5V789M496 763V788M497 766.5V798.5M498 777.5V797.5M499 771.5V795.5M500 771V787M502 770.5V777M503 777.5V794M504 779V787M504 789.5V793M505 776.5V796.5M507 787V789.5M507 791V792M508 770V797.5M509 776V795M510 770.5V774.5M510 775V782M511 762.5V796M513 773V792.5M513 794V796.5M514 767.5V800.5M515 761V796.5M516 764V794M517 782V785M517 785.5V795M518 766V800M519 761.5V796M520 764.5V789.5M521 764V788.5M522 764V797.5M523 772.5V796.5M524 770.5V804.5M525 772.5V799M526 762V797.5M529 764V797M530 774V791M531 774V800.5M532 770.5V802.5M533 768.5V800M534 770V794M537 764.5V796M538 762V798M539 764V788M540 770V772.5M540 776V782.5M541 768.5V799.5M544 767V798.5M546 765.5V784.5M547 765.5V781.5M549 765.5V795.5M551 769.5V789.5M552 773V800M553 780.5V793.5M554 766.5V795M555 772V804M556 775.5V797.5M557 771.5V800M558 765.5V796M559 762.5V796M560 765.5V786.5M561 765.5V792M562 781V786M563 767V795M565 762V792M566 769.5V772M566 777.5V779.5M568 763V783M569 771.5V797M570 768.5V782M571 761V778.5M574 751.5V787M575 762.5V788M576 758V777.5M580 758V788.5M581 768.5V770.5M582 747.5V776.5M583 742V775M584 748.5V763.5M585 739V765M586 737.5V770M587 742.5V774.5M590 745.5V776M591 744V777M592 746V776M593 752.5V784M594 749V782.5M595 744V780M596 745.5V771M597 750V775.5M598 752V779M599 748.5V780.5M600 756V771.5M601 738.5V773M602 746.5V767.5M603 750.5V779M604 753V787.5M605 748V777.5M606 750V771M607 748.5V772.5M608 746V770.5M609 753.5V765.5M611 759.5V771.5M612 751.5V779M613 754.5V771M614 747.5V765.5M615 750V770.5M615 771V771.5M616 755.5V778M617 750V763.5M618 744.5V774.5M619 752.5V754M619 755V756M620 739V770M621 739.5V774.5M622 743V775M624 740.5V773M625 742V769.5M626 750V765.5M626 768.5V769"/><path stroke="#1f77b4" stroke-opacity="0.792" stroke-width="1" fill="none" d="M74 767.5V788.5M76 772.5V789M77 766.5V790M78 775.5V780M78 781V790M79 783V783.5M79 785V786M80 783V791M82 772V790.5M83 772.5V796M86 768.5V787.5M88 772.5V797M92 769.5V782M94 767.5V788.5M95 772.5V791M96 770V800M97 772.5V781.5M97 782.5V786.5M97 787.5V788M98 768V785M102 763V786.5M104 761.5V763M104 764V791M106 780V780.5M108 780.5V781M109 775V782M110 768.5V775M112 767.5V768.5M113 768.5V785M114 763V793M115 767V789M117 770.5V779M118 765V785M119 773V796.5M120 771.5V789M121 768V786.5M123 763.5V795.5M124 771V773.5M124 774V790M125 769.5V796.5M128 780V780.5M128 781.5V783.5M128 784V784.5M132 773.5V796.5M133 782V796.5M134 782.5V800M135 785.5V795.5M137 782V799M138 781V803.5M139 782V790M140 793.5V794M141 779.5V786.5M141 789V791M146 789.5V807.5M148 785.5V806.5M149 777.5V807M150 778V807M153 783.5V807.5M155 787.5V801M156 784.5V807.5M157 778V800.5M159 785.5V786M159 788V799M160 790.5V791.5M165 785.5V801.5M171 778V803.5M173 777V804M174 778.5V781M174 782.5V803M175 782.5V805.5M176 780V806.5M177 783.5V807.5M178 781V812.5M179 780.5V781.5M179 782.5V808M180 783V804.5M181 776V805M183 782.5V797.5M184 775.5V800.5M187 774.5V791.5M188 772V795.5M189 775V775.5M189 776.5V797.5M190 777V799.5M192 783V783.5M194 779.5V780M194 782.5V785M194 785.5V789.5M196 770.5V797M197 772.5V793M200 779.5V780M202 777.5V795M203 772V800.5M204 775.5V802.5M206 770.5V795.5M207 782V783.5M207 784.5V785.5M207 786V787.5M208 779.5V781M209 779V793.5M210 776.5V797.5M212 779V780M212 785V788M213 768.5V797.5M214 768.5V796M215 775.5V780M215 781.5V783.5M216 775V801M217 776.5V803.5M220 779.5V803.5M221 787V789.5M225 773V773.5M225 775.5V790.5M226 777V781.5M227 784.5V798M229 782V794.5M231 770.5V797.5M232 785V785.5M232 787.5V788M233 773V775.5M233 776V798M235 777.5V778M235 779V783.5M235 784.5V786M236 775V797.5M237 773V795.5M238 772.5V794M238 795.5V796.5M239 777.5V778.5M239 781V781.5M239 782V789.5M240 789V789.5M241 772.5V799.5M245 772.5V801.5M246 774V802.5M249 776.5V790.5M251 784V796.5M253 782V785.5M253 787V792M254 779V806.5M256 780.5V783.5M256 784.5V793M257 774.5V796M258 770.5V797.5M259 774V798.5M262 778V793M266 772.5V791M268 770.5V797M269 780V790M270 790V796M272 766.5V794.5M273 769.5V791M274 778V782.5M275 771.5V784.5M275 789V791.5M277 771V787M279 787.5V789.5M281 778V800.5M282 786V803.5M284 777V801M286 776V790.5M286 791V793M287 782V804.5M289 769V794.5M290 772.5V792M291 772.5V799M292 776.5V800.5M293 783.5V784M293 785V788M294 771V794.5M296 782.5V783M297 779V780.5M297 782V783M298 778V798M299 776V799.5M300 773.5V790M301 775V801M302 776V805M307 771.5V801.5M307 802V802.5M308 775.5V797M309 776.5V796M311 774V789.5M312 770.5V789.5M313 778.5V779.5M315 780.5V785M316 771V795.5M317 771.5V796.5M318 775V791M319 775.5V788.5M320 771.5V800M321 776.5V800M323 770.5V793.5M326 770.5V792M329 772V799.5M330 773V797.5M333 779.5V780.5M333 783V790M335 779.5V792.5M336 769V795M338 776.5V806.5M339 783V784.5M339 785V787.5M343 770V798M344 774V801.5M345 778V779M345 780.5V791.5M346 772V802.5M347 774.5V800M349 775V786.5M351 771V799M353 783.5V787.5M358 773V788.5M359 770.5V796.5M360 771.5V782.5M362 767V784M363 769V795.5M367 786.5V790.5M367 791V792.5M367 793V794M368 778V798M370 775.5V796.5M371 780V795M372 774.5V798M376 768V784.5M380 786V796M381 783.5V797M383 786V789.5M384 780V780.5M384 781V801M385 790V790.5M387 774.5V797M388 776.5V789M389 779V791M390 770.5V797M392 766.5V796M393 769.5V783M393 783.5V788M395 772V797.5M396 778V803M397 785.5V803M397 804.5V805M398 776.5V808.5M399 789.5V800M400 780.5V809.5M401 793V801M402 781.5V807.5M404 791.5V792M404 793V797.5M405 778V808.5M406 784V805M407 778.5V803.5M407 804.5V805M410 780V803M412 781.5V785.5M412 787V788M412 794.5V795.5M413 775V800M414 780V800M415 792V793M416 783V807.5M418 780V801.5M419 791.5V810.5M420 790V817M421 793V806M424 791V793.5M425 776.5V794.5M427 785.5V788.5M427 790.5V795M428 786.5V802M431 785V810M433 791.5V809M435 788V813.5M436 792.5V817.5M437 794V813.5M438 795V808M441 792V801M442 783V810.5M443 786.5V805M445 788V807.5M447 786V786.5M447 787.5V807.5M448 787.5V812.5M450 786V809.5M451 788.5V813M452 785V802.5M453 783.5V808M454 782.5V813M456 782.5V811M458 785V800M460 794.5V796M460 797V797.5M460 798V802.5M464 786.5V793.5M464 794.5V795.5M465 782V807M466 792V803.5M467 795V798M468 779.5V792.5M469 778V799M471 791.5V792M474 781.5V807.5M476 786.5V805M477 779.5V803.5M479 782V805.5M480 780.5V802M484 786V789M485 783.5V796M486 774V806M487 778.5V798.5M488 776V798M489 785V791M490 774.5V801M491 768V770M491 771V797.5M492 771.5V798.5M493 772.5V796.5M495 776.5V788.5M496 764.5V785M497 769V796.5M498 782V788.5M499 779.5V791.5M503 782.5V791M505 788V790.5M508 776.5V795.5M509 779.5V791.5M511 767.5V792.5M513 776.5V785M514 769V797M515 763.5V792.5M516 766.5V790.5M518 766.5V797.5M519 767V794M520 767.5V786M521 766V770.5M521 777V781M521 781.5V783M522 770V793.5M523 782V782.5M523 783.5V792.5M524 772V802.5M525 780.5V781.5M526 765.5V792.5M529 767V794.5M530 777V782M531 777.5V798M532 774.5V793.5M533 771.5V797.5M534 774.5V786.5M537 767.5V792.5M538 764.5V796M539 766.5V785M541 771V796.5M544 774V794M546 769V783M547 771.5V772M549 766V794M552 777V800M554 771V790M555 773.5V800M556 780V788M557 773.5V797.5M558 768.5V791M559 766.5V794.5M560 772V772.5M560 782V782.5M561 768V788.5M563 773.5V791.5M565 765V790M568 770.5V777M569 773V792.5M570 775V778.5M574 755.5V782M575 766.5V783M576 768V768.5M576 771.5V772M576 772.5V773.5M580 761.5V784.5M582 749V774M583 747V771M585 744V760.5M586 740V765.5M587 744V772M590 746.5V773.5M591 745V771M591 772.5V774.5M592 747V774.5M593 758.5V773M594 754V779M595 747V778M596 749V764M597 753V768.5M597 770V771M598 755.5V771.5M599 751.5V776M600 760.5V761.5M600 762.5V766M601 745.5V772M602 749.5V764M603 753V772.5M604 754V785.5M605 752.5V775M606 754.5V764M607 750V769M608 760.5V761M612 755V773.5M614 757V763M615 755V764.5M616 761.5V775.5M617 756.5V757.5M618 747V773M620 742.5V767M621 742V771M622 744.5V772.5M624 742V768M625 746V768.5M626 751.5V761"/></g>
<linearGradient id="jet" x1="0" y1="0" x2="0" y2="1"><stop offset="0.0000" stop-color="#800000"/><stop offset="0.0156" stop-color="#920000"/><stop offset="0.0312" stop-color="#a40000"/><stop offset="0.0469" stop-color="#b60000"/><stop offset="0.0625" stop-color="#c80000"/><stop offset="0.0781" stop-color="#da0000"/><stop offset="0.0938" stop-color="#ec0400"/><stop offset="0.1094" stop-color="#fe1200"/><stop offset="0.1250" stop-color="#ff2100"/><stop offset="0.1406" stop-color="#ff3000"/><stop offset="0.1562" stop-color="#ff3f00"/><stop offset="0.1719" stop-color="#ff4d00"/><stop offset="0.1875" stop-color="#ff5c00"/><stop offset="0.2031" stop-color="#ff6b00"/><stop offset="0.2188" stop-color="#ff7a00"/><stop offset="0.2344" stop-color="#ff8800"/><stop offset="0.2500" stop-color="#ff9700"/><stop offset="0.2656" stop-color="#ffa600"/><stop offset="0.2812" stop-color="#ffb500"/><stop offset="0.2969" stop-color="#ffc300"/><stop offset="0.3125" stop-color="#ffd200"/><stop offset="0.3281" stop-color="#ffe100"/><stop offset="0.3438" stop-color="#fcf000"/><stop offset="0.3594" stop-color="#effe08"/><stop offset="0.3750" stop-color="#e2ff15"/><stop offset="0.3906" stop-color="#d5ff21"/><stop offset="0.4062" stop-color="#c9ff2e"/><stop offset="0.4219" stop-color="#bcff3b"/><stop offset="0.4375" stop-color="#afff48"/><stop offset="0.4531" stop-color="#a2ff55"/><stop offset="0.4688" stop-color="#95ff62"/><stop offset="0.4844" stop-color="#88ff6f"/><stop offset="0.5000" stop-color="#7bff7b"/><stop offset="0.5156" stop-color="#6fff88"/><stop offset="0.5312" stop-color="#62ff95"/><stop offset="0.5469" stop-color="#55ffa2"/><stop offset="0.5625" stop-color="#48ffaf"/><stop offset="0.5781" stop-color="#3bffbc"/><stop offset="0.5938" stop-color="#2effc9"/><stop offset="0.6094" stop-color="#21ffd5"/><stop offset="0.6250" stop-color="#15ffe2"/><stop offset="0.6406" stop-color="#08efef"/><stop offset="0.6562" stop-color="#00dffc"/><stop offset="0.6719" stop-color="#00cfff"/><stop offset="0.6875" stop-color="#00bfff"/><stop offset="0.7031" stop-color="#00afff"/><stop offset="0.7188" stop-color="#009fff"/><stop offset="0.7344" stop-color="#008fff"/><stop offset="0.7500" stop-color="#0080ff"/><stop offset="0.7656" stop-color="#0070ff"/><stop offset="0.7812" stop-color="#0060ff"/><stop offset="0.7969" stop-color="#0050ff"/><stop offset="0.8125" stop-color="#0040ff"/><stop offset="0.8281" stop-color="#0030ff"/><stop offset="0.8438" stop-color="#0020ff"/><stop offset="0.8594" stop-color="#0010ff"/><stop offset="0.8750" stop-color="#0000ff"/><stop offset="0.8906" stop-color="#0000fe"/><stop offset="0.9062" stop-color="#0000ec"/><stop offset="0.9219" stop-color="#0000da"/><stop offset="0.9375" stop-color="#0000c8"/><stop offset="0.9531" stop-color="#0000b6"/><stop offset="0.9688" stop-color="#0000a4"/><stop offset="0.9844" stop-color="#000092"/><stop offset="1.0000" stop-color="#000080"/></linearGradient><rect x="641.0" y="194.3" width="14.5" height="457.99999999999994" fill="url(#jet)"/><rect x="641.0" y="194.3" width="14.5" height="457.99999999999994" fill="none" stroke="#000" stroke-width="0.8"/>
<rect x="72.5" y="45.5" width="554.0" height="140.0" stroke="#000" stroke-width="0.8" fill="none"/><rect x="72.5" y="205.5" width="554.0" height="490.0" stroke="#000" stroke-width="0.8" fill="none"/><rect x="72.5" y="715.5" width="554.0" height="140.0" stroke="#000" stroke-width="0.8" fill="none"/>
<path stroke="#000" stroke-width="0.8" fill="none" d="M72.5 185.5v3.5M164.5 185.5v3.5M257.5 185.5v3.5M349.5 185.5v3.5M441.5 185.5v3.5M534.5 185.5v3.5M626.5 185.5v3.5M72.5 855.5v3.5M164.5 855.5v3.5M257.5 855.5v3.5M349.5 855.5v3.5M441.5 855.5v3.5M534.5 855.5v3.5M626.5 855.5v3.5M72.5 51.5h-3.5M72.5 117.5h-3.5M72.5 183.5h-3.5M72.5 695.5h-3.5M72.5 634.5h-3.5M72.5 572.5h-3.5M72.5 511.5h-3.5M72.5 450.5h-3.5M72.5 389.5h-3.5M72.5 328.5h-3.5M72.5 266.5h-3.5M72.5 205.5h-3.5M72.5 846.5h-3.5M72.5 795.5h-3.5M72.5 744.5h-3.5M655.5 652.30h3.5M655.5 595.05h3.5M655.5 537.80h3.5M655.5 480.55h3.5M655.5 423.30h3.5M655.5 366.05h3.5M655.5 308.80h3.5M655.5 251.55h3.5M655.5 194.30h3.5"/>
<g opacity="0.999"><text x="65.5" y="56.98" text-anchor="end" font-size="15" >3.30</text><text x="65.5" y="122.97" text-anchor="end" font-size="15" >1.65</text><text x="65.5" y="188.97" text-anchor="end" font-size="15" >0.00</text><text x="65.5" y="700.98" text-anchor="end" font-size="15" >0</text><text x="65.5" y="639.98" text-anchor="end" font-size="15" >0.25</text><text x="65.5" y="577.98" text-anchor="end" font-size="15" >0.5</text><text x="65.5" y="516.98" text-anchor="end" font-size="15" >0.75</text><text x="65.5" y="455.98" text-anchor="end" font-size="15" >1</text><text x="65.5" y="394.98" text-anchor="end" font-size="15" >1.25</text><text x="65.5" y="333.98" text-anchor="end" font-size="15" >1.5</text><text x="65.5" y="271.98" text-anchor="end" font-size="15" >1.75</text><text x="65.5" y="210.97" text-anchor="end" font-size="15" >2</text><text x="65.5" y="851.98" text-anchor="end" font-size="15" >20</text><text x="65.5" y="800.98" text-anchor="end" font-size="15" >30</text><text x="65.5" y="749.98" text-anchor="end" font-size="15" >40</text><text x="660.5" y="657.77" text-anchor="start" font-size="15" >0.00</text><text x="660.5" y="600.52" text-anchor="start" font-size="15" >0.25</text><text x="660.5" y="543.27" text-anchor="start" font-size="15" >0.50</text><text x="660.5" y="486.02" text-anchor="start" font-size="15" >0.75</text><text x="660.5" y="428.77" text-anchor="start" font-size="15" >1.00</text><text x="660.5" y="371.53" text-anchor="start" font-size="15" >1.25</text><text x="660.5" y="314.28" text-anchor="start" font-size="15" >1.50</text><text x="660.5" y="257.03" text-anchor="start" font-size="15" >1.75</text><text x="660.5" y="199.78" text-anchor="start" font-size="15" >2.00</text><text x="72.50" y="872.90" text-anchor="middle" font-size="15" >0</text><text x="164.83" y="872.90" text-anchor="middle" font-size="15" >10</text><text x="257.17" y="872.90" text-anchor="middle" font-size="15" >20</text><text x="349.50" y="872.90" text-anchor="middle" font-size="15" >30</text><text x="441.83" y="872.90" text-anchor="middle" font-size="15" >40</text><text x="534.17" y="872.90" text-anchor="middle" font-size="15" >50</text><text x="626.50" y="872.90" text-anchor="middle" font-size="15" >60</text><text x="349.50" y="891" text-anchor="middle" font-size="15" >time [min]</text><text x="0" y="0" text-anchor="middle" font-size="15" transform="translate(25.7,115.50) rotate(-90)">Wind [m/s]</text><text x="0" y="0" text-anchor="middle" font-size="15" transform="translate(24.8,450.50) rotate(-90)">FFT Frequenz [Hz]</text><text x="0" y="0" text-anchor="middle" font-size="15" transform="translate(40,785.50) rotate(-90)">SPL [dB]</text><text x="360.00" y="32.5" text-anchor="middle" font-size="18" >2017-05-22 00:00-01:00 (250.00_Hz)</text></g>
</svg>
</body></html>
